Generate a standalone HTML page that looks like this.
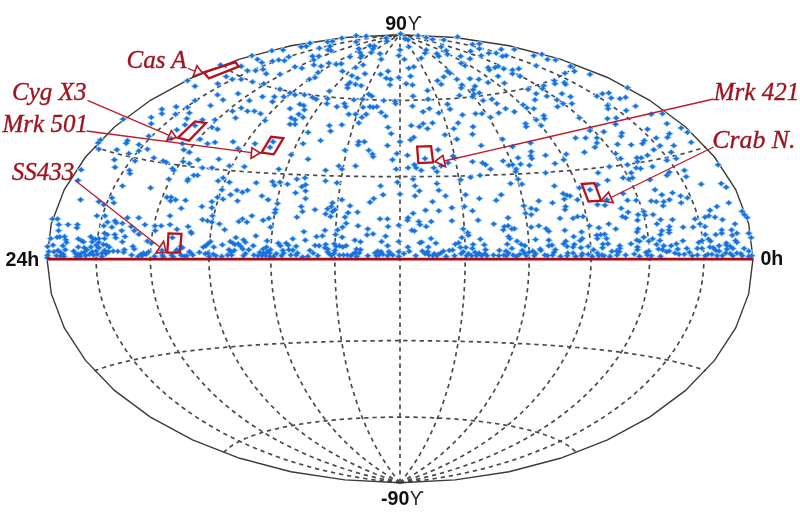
<!DOCTYPE html>
<html><head><meta charset="utf-8"><style>html,body{margin:0;padding:0;background:#fff;width:800px;height:516px;overflow:hidden}svg{display:block;filter:blur(0.6px)}</style></head>
<body>
<svg width="800" height="516" viewBox="0 0 800 516">
<rect width="800" height="516" fill="#fff"/>
<g fill="none" stroke="#4a4a4a" stroke-width="1.7" stroke-dasharray="4.3 3.9">
<path d="M400.0,482.7 394.1,482.2 388.2,481.6 382.3,480.9 376.4,480.2 370.6,479.4 364.8,478.5 359.1,477.6 353.4,476.6 347.7,475.6 342.1,474.5 336.5,473.3 330.9,472.1 325.4,470.9 320.0,469.5 314.6,468.2 309.2,466.7 303.9,465.2 298.6,463.7 293.4,462.1 288.2,460.5 283.1,458.8 278.0,457.0 273.0,455.2 268.1,453.3 263.2,451.4 258.3,449.5 253.6,447.5 248.8,445.5 244.2,443.4 239.6,441.2 235.0,439.1 230.6,436.8 226.1,434.6 221.8,432.3 217.5,429.9 213.3,427.5 209.1,425.1 205.0,422.6 201.0,420.1 197.1,417.6 193.2,415.0 189.4,412.4 185.6,409.7 181.9,407.0 178.3,404.3 174.8,401.6 171.3,398.8 167.9,396.0 164.6,393.1 161.4,390.2 158.2,387.3 155.1,384.4 152.1,381.4 149.2,378.4 146.3,375.4 143.5,372.4 140.8,369.3 138.2,366.2 135.6,363.1 133.1,359.9 130.7,356.8 128.4,353.6 126.1,350.4 124.0,347.1 121.9,343.9 119.9,340.6 117.9,337.4 116.1,334.1 114.3,330.7 112.6,327.4 111.0,324.1 109.5,320.7 108.1,317.3 106.7,314.0 105.4,310.6 104.2,307.1 103.1,303.7 102.1,300.3 101.1,296.9 100.2,293.4 99.5,290.0 98.8,286.5 98.1,283.0 97.6,279.6 97.1,276.1 96.8,272.6 96.5,269.2 96.3,265.7 96.1,262.2 96.1,258.7 96.1,255.2 96.3,251.7 96.5,248.2 96.8,244.8 97.1,241.3 97.6,237.8 98.1,234.4 98.8,230.9 99.5,227.4 100.2,224.0 101.1,220.5 102.1,217.1 103.1,213.7 104.2,210.3 105.4,206.8 106.7,203.4 108.1,200.1 109.5,196.7 111.0,193.3 112.6,190.0 114.3,186.7 116.1,183.3 117.9,180.0 119.9,176.8 121.9,173.5 124.0,170.3 126.1,167.0 128.4,163.8 130.7,160.6 133.1,157.5 135.6,154.3 138.2,151.2 140.8,148.1 143.5,145.0 146.3,142.0 149.2,139.0 152.1,136.0 155.1,133.0 158.2,130.1 161.4,127.2 164.6,124.3 167.9,121.4 171.3,118.6 174.8,115.8 178.3,113.1 181.9,110.4 185.6,107.7 189.4,105.0 193.2,102.4 197.1,99.8 201.0,97.3 205.0,94.8 209.1,92.3 213.3,89.9 217.5,87.5 221.8,85.1 226.1,82.8 230.6,80.6 235.0,78.3 239.6,76.2 244.2,74.0 248.8,71.9 253.6,69.9 258.3,67.9 263.2,66.0 268.1,64.1 273.0,62.2 278.0,60.4 283.1,58.6 288.2,56.9 293.4,55.3 298.6,53.7 303.9,52.2 309.2,50.7 314.6,49.2 320.0,47.9 325.4,46.5 330.9,45.3 336.5,44.1 342.1,42.9 347.7,41.8 353.4,40.8 359.1,39.8 364.8,38.9 370.6,38.0 376.4,37.2 382.3,36.5 388.2,35.8 394.1,35.2 400.0,34.7"/>
<path d="M400.0,482.7 394.7,481.7 389.4,480.6 384.2,479.5 379.0,478.4 373.9,477.1 368.8,475.9 363.8,474.6 358.9,473.2 353.9,471.8 349.1,470.3 344.3,468.8 339.5,467.2 334.8,465.6 330.1,464.0 325.5,462.3 321.0,460.6 316.5,458.8 312.1,457.0 307.7,455.1 303.4,453.2 299.1,451.3 294.9,449.3 290.7,447.3 286.7,445.2 282.6,443.2 278.6,441.0 274.7,438.9 270.8,436.7 267.0,434.5 263.3,432.2 259.6,429.9 256.0,427.6 252.4,425.2 248.9,422.9 245.4,420.5 242.0,418.0 238.7,415.5 235.4,413.0 232.2,410.5 229.1,408.0 226.0,405.4 222.9,402.8 220.0,400.2 217.0,397.5 214.2,394.8 211.4,392.1 208.7,389.4 206.0,386.7 203.4,383.9 200.9,381.1 198.4,378.3 196.0,375.5 193.6,372.7 191.3,369.8 189.1,366.9 186.9,364.0 184.8,361.1 182.7,358.2 180.8,355.2 178.8,352.3 177.0,349.3 175.2,346.3 173.4,343.3 171.8,340.3 170.2,337.2 168.6,334.2 167.1,331.1 165.7,328.1 164.3,325.0 163.1,321.9 161.8,318.8 160.6,315.7 159.5,312.6 158.5,309.4 157.5,306.3 156.6,303.2 155.7,300.0 155.0,296.9 154.2,293.7 153.6,290.5 153.0,287.4 152.4,284.2 151.9,281.0 151.5,277.8 151.2,274.7 150.9,271.5 150.7,268.3 150.5,265.1 150.4,261.9 150.4,258.7 150.4,255.5 150.5,252.3 150.7,249.1 150.9,245.9 151.2,242.7 151.5,239.6 151.9,236.4 152.4,233.2 153.0,230.0 153.6,226.9 154.2,223.7 155.0,220.5 155.7,217.4 156.6,214.2 157.5,211.1 158.5,208.0 159.5,204.8 160.6,201.7 161.8,198.6 163.1,195.5 164.3,192.4 165.7,189.3 167.1,186.3 168.6,183.2 170.2,180.2 171.8,177.1 173.4,174.1 175.2,171.1 177.0,168.1 178.8,165.1 180.8,162.2 182.7,159.2 184.8,156.3 186.9,153.4 189.1,150.5 191.3,147.6 193.6,144.7 196.0,141.9 198.4,139.1 200.9,136.3 203.4,133.5 206.0,130.7 208.7,128.0 211.4,125.3 214.2,122.6 217.0,119.9 220.0,117.2 222.9,114.6 226.0,112.0 229.1,109.4 232.2,106.9 235.4,104.4 238.7,101.9 242.0,99.4 245.4,96.9 248.9,94.5 252.4,92.2 256.0,89.8 259.6,87.5 263.3,85.2 267.0,82.9 270.8,80.7 274.7,78.5 278.6,76.4 282.6,74.2 286.7,72.2 290.7,70.1 294.9,68.1 299.1,66.1 303.4,64.2 307.7,62.3 312.1,60.4 316.5,58.6 321.0,56.8 325.5,55.1 330.1,53.4 334.8,51.8 339.5,50.2 344.3,48.6 349.1,47.1 353.9,45.6 358.9,44.2 363.8,42.8 368.8,41.5 373.9,40.3 379.0,39.0 384.2,37.9 389.4,36.8 394.7,35.7 400.0,34.7"/>
<path d="M400.0,482.7 395.7,481.3 391.4,479.9 387.2,478.4 383.0,476.8 378.9,475.3 374.8,473.7 370.8,472.0 366.9,470.4 362.9,468.6 359.1,466.9 355.3,465.1 351.5,463.3 347.8,461.4 344.2,459.5 340.6,457.6 337.1,455.7 333.6,453.7 330.1,451.7 326.7,449.7 323.4,447.6 320.1,445.5 316.9,443.4 313.7,441.2 310.5,439.0 307.4,436.8 304.4,434.6 301.4,432.3 298.5,430.1 295.6,427.8 292.7,425.4 289.9,423.1 287.2,420.7 284.5,418.3 281.8,415.9 279.2,413.5 276.7,411.0 274.2,408.5 271.7,406.0 269.3,403.5 267.0,401.0 264.7,398.4 262.4,395.9 260.2,393.3 258.0,390.7 255.9,388.0 253.8,385.4 251.8,382.7 249.8,380.1 247.9,377.4 246.0,374.7 244.2,371.9 242.4,369.2 240.6,366.5 238.9,363.7 237.3,360.9 235.7,358.2 234.1,355.4 232.6,352.6 231.2,349.7 229.8,346.9 228.4,344.1 227.1,341.2 225.8,338.4 224.6,335.5 223.4,332.6 222.3,329.7 221.2,326.8 220.1,323.9 219.1,321.0 218.2,318.1 217.3,315.2 216.4,312.2 215.6,309.3 214.9,306.3 214.2,303.4 213.5,300.4 212.9,297.5 212.3,294.5 211.8,291.5 211.3,288.6 210.8,285.6 210.4,282.6 210.1,279.6 209.8,276.6 209.5,273.7 209.3,270.7 209.2,267.7 209.1,264.7 209.0,261.7 209.0,258.7 209.0,255.7 209.1,252.7 209.2,249.7 209.3,246.7 209.5,243.7 209.8,240.8 210.1,237.8 210.4,234.8 210.8,231.8 211.3,228.8 211.8,225.9 212.3,222.9 212.9,219.9 213.5,217.0 214.2,214.0 214.9,211.1 215.6,208.1 216.4,205.2 217.3,202.2 218.2,199.3 219.1,196.4 220.1,193.5 221.2,190.6 222.3,187.7 223.4,184.8 224.6,181.9 225.8,179.0 227.1,176.2 228.4,173.3 229.8,170.5 231.2,167.7 232.6,164.8 234.1,162.0 235.7,159.2 237.3,156.5 238.9,153.7 240.6,150.9 242.4,148.2 244.2,145.5 246.0,142.7 247.9,140.0 249.8,137.3 251.8,134.7 253.8,132.0 255.9,129.4 258.0,126.7 260.2,124.1 262.4,121.5 264.7,119.0 267.0,116.4 269.3,113.9 271.7,111.4 274.2,108.9 276.7,106.4 279.2,103.9 281.8,101.5 284.5,99.1 287.2,96.7 289.9,94.3 292.7,92.0 295.6,89.6 298.5,87.3 301.4,85.1 304.4,82.8 307.4,80.6 310.5,78.4 313.7,76.2 316.9,74.0 320.1,71.9 323.4,69.8 326.7,67.7 330.1,65.7 333.6,63.7 337.1,61.7 340.6,59.8 344.2,57.9 347.8,56.0 351.5,54.1 355.3,52.3 359.1,50.5 362.9,48.8 366.9,47.0 370.8,45.4 374.8,43.7 378.9,42.1 383.0,40.6 387.2,39.0 391.4,37.5 395.7,36.1 400.0,34.7"/>
<path d="M400.0,482.7 396.9,481.0 393.9,479.3 391.0,477.5 388.0,475.7 385.2,473.9 382.3,472.0 379.5,470.2 376.8,468.3 374.1,466.3 371.4,464.4 368.8,462.4 366.2,460.4 363.7,458.4 361.2,456.3 358.7,454.3 356.3,452.2 353.9,450.1 351.6,447.9 349.2,445.8 347.0,443.6 344.7,441.4 342.5,439.2 340.4,436.9 338.3,434.7 336.2,432.4 334.1,430.1 332.1,427.8 330.1,425.5 328.2,423.1 326.3,420.8 324.4,418.4 322.6,416.0 320.8,413.6 319.0,411.1 317.3,408.7 315.5,406.2 313.9,403.7 312.2,401.3 310.6,398.8 309.1,396.2 307.5,393.7 306.0,391.2 304.6,388.6 303.1,386.0 301.7,383.4 300.3,380.8 299.0,378.2 297.7,375.6 296.4,373.0 295.2,370.3 294.0,367.7 292.8,365.0 291.6,362.3 290.5,359.7 289.4,357.0 288.4,354.3 287.3,351.6 286.3,348.8 285.4,346.1 284.5,343.4 283.6,340.6 282.7,337.9 281.8,335.1 281.0,332.3 280.3,329.6 279.5,326.8 278.8,324.0 278.1,321.2 277.5,318.4 276.8,315.6 276.3,312.8 275.7,310.0 275.2,307.1 274.7,304.3 274.2,301.5 273.8,298.6 273.3,295.8 273.0,293.0 272.6,290.1 272.3,287.3 272.0,284.4 271.8,281.6 271.5,278.7 271.3,275.9 271.2,273.0 271.0,270.1 270.9,267.3 270.9,264.4 270.8,261.6 270.8,258.7 270.8,255.8 270.9,253.0 270.9,250.1 271.0,247.3 271.2,244.4 271.3,241.5 271.5,238.7 271.8,235.8 272.0,233.0 272.3,230.1 272.6,227.3 273.0,224.4 273.3,221.6 273.8,218.8 274.2,215.9 274.7,213.1 275.2,210.3 275.7,207.4 276.3,204.6 276.8,201.8 277.5,199.0 278.1,196.2 278.8,193.4 279.5,190.6 280.3,187.8 281.0,185.1 281.8,182.3 282.7,179.5 283.6,176.8 284.5,174.0 285.4,171.3 286.3,168.6 287.3,165.8 288.4,163.1 289.4,160.4 290.5,157.7 291.6,155.1 292.8,152.4 294.0,149.7 295.2,147.1 296.4,144.4 297.7,141.8 299.0,139.2 300.3,136.6 301.7,134.0 303.1,131.4 304.6,128.8 306.0,126.2 307.5,123.7 309.1,121.2 310.6,118.6 312.2,116.1 313.9,113.7 315.5,111.2 317.3,108.7 319.0,106.3 320.8,103.8 322.6,101.4 324.4,99.0 326.3,96.6 328.2,94.3 330.1,91.9 332.1,89.6 334.1,87.3 336.2,85.0 338.3,82.7 340.4,80.5 342.5,78.2 344.7,76.0 347.0,73.8 349.2,71.6 351.6,69.5 353.9,67.3 356.3,65.2 358.7,63.1 361.2,61.1 363.7,59.0 366.2,57.0 368.8,55.0 371.4,53.0 374.1,51.1 376.8,49.1 379.5,47.2 382.3,45.4 385.2,43.5 388.0,41.7 391.0,39.9 393.9,38.1 396.9,36.4 400.0,34.7"/>
<path d="M400.0,482.7 398.4,480.8 396.9,478.9 395.3,476.9 393.8,475.0 392.4,473.0 390.9,471.0 389.5,469.0 388.1,467.0 386.7,464.9 385.3,462.8 384.0,460.8 382.7,458.6 381.4,456.5 380.1,454.4 378.8,452.2 377.6,450.1 376.4,447.9 375.2,445.7 374.1,443.4 372.9,441.2 371.8,438.9 370.7,436.7 369.6,434.4 368.5,432.1 367.5,429.8 366.4,427.4 365.4,425.1 364.4,422.8 363.4,420.4 362.5,418.0 361.5,415.6 360.6,413.2 359.7,410.8 358.8,408.3 358.0,405.9 357.1,403.4 356.3,401.0 355.5,398.5 354.7,396.0 353.9,393.5 353.1,391.0 352.4,388.4 351.6,385.9 350.9,383.4 350.2,380.8 349.5,378.2 348.8,375.6 348.2,373.1 347.6,370.5 346.9,367.9 346.3,365.2 345.7,362.6 345.2,360.0 344.6,357.3 344.1,354.7 343.6,352.0 343.0,349.4 342.6,346.7 342.1,344.0 341.6,341.3 341.2,338.7 340.7,336.0 340.3,333.3 339.9,330.5 339.5,327.8 339.2,325.1 338.8,322.4 338.5,319.6 338.1,316.9 337.8,314.2 337.5,311.4 337.3,308.7 337.0,305.9 336.8,303.2 336.5,300.4 336.3,297.6 336.1,294.9 335.9,292.1 335.7,289.3 335.6,286.5 335.4,283.8 335.3,281.0 335.2,278.2 335.1,275.4 335.0,272.6 335.0,269.9 334.9,267.1 334.9,264.3 334.8,261.5 334.8,258.7 334.8,255.9 334.9,253.1 334.9,250.3 335.0,247.5 335.0,244.8 335.1,242.0 335.2,239.2 335.3,236.4 335.4,233.6 335.6,230.9 335.7,228.1 335.9,225.3 336.1,222.5 336.3,219.8 336.5,217.0 336.8,214.2 337.0,211.5 337.3,208.7 337.5,206.0 337.8,203.2 338.1,200.5 338.5,197.8 338.8,195.0 339.2,192.3 339.5,189.6 339.9,186.9 340.3,184.1 340.7,181.4 341.2,178.7 341.6,176.1 342.1,173.4 342.6,170.7 343.0,168.0 343.6,165.4 344.1,162.7 344.6,160.1 345.2,157.4 345.7,154.8 346.3,152.2 346.9,149.5 347.6,146.9 348.2,144.3 348.8,141.8 349.5,139.2 350.2,136.6 350.9,134.0 351.6,131.5 352.4,129.0 353.1,126.4 353.9,123.9 354.7,121.4 355.5,118.9 356.3,116.4 357.1,114.0 358.0,111.5 358.8,109.1 359.7,106.6 360.6,104.2 361.5,101.8 362.5,99.4 363.4,97.0 364.4,94.6 365.4,92.3 366.4,90.0 367.5,87.6 368.5,85.3 369.6,83.0 370.7,80.7 371.8,78.5 372.9,76.2 374.1,74.0 375.2,71.7 376.4,69.5 377.6,67.3 378.8,65.2 380.1,63.0 381.4,60.9 382.7,58.8 384.0,56.6 385.3,54.6 386.7,52.5 388.1,50.4 389.5,48.4 390.9,46.4 392.4,44.4 393.8,42.4 395.3,40.5 396.9,38.5 398.4,36.6 400.0,34.7"/>
<path d="M400.0,482.7 400.0,480.7 400.0,478.8 400.0,476.8 400.0,474.7 400.0,472.7 400.0,470.7 400.0,468.6 400.0,466.5 400.0,464.4 400.0,462.3 400.0,460.2 400.0,458.1 400.0,455.9 400.0,453.7 400.0,451.5 400.0,449.3 400.0,447.1 400.0,444.9 400.0,442.7 400.0,440.4 400.0,438.1 400.0,435.8 400.0,433.5 400.0,431.2 400.0,428.9 400.0,426.6 400.0,424.2 400.0,421.9 400.0,419.5 400.0,417.1 400.0,414.7 400.0,412.3 400.0,409.9 400.0,407.4 400.0,405.0 400.0,402.5 400.0,400.0 400.0,397.6 400.0,395.1 400.0,392.6 400.0,390.1 400.0,387.5 400.0,385.0 400.0,382.5 400.0,379.9 400.0,377.4 400.0,374.8 400.0,372.2 400.0,369.6 400.0,367.0 400.0,364.4 400.0,361.8 400.0,359.2 400.0,356.6 400.0,354.0 400.0,351.3 400.0,348.7 400.0,346.0 400.0,343.4 400.0,340.7 400.0,338.0 400.0,335.3 400.0,332.7 400.0,330.0 400.0,327.3 400.0,324.6 400.0,321.9 400.0,319.1 400.0,316.4 400.0,313.7 400.0,311.0 400.0,308.3 400.0,305.5 400.0,302.8 400.0,300.0 400.0,297.3 400.0,294.6 400.0,291.8 400.0,289.1 400.0,286.3 400.0,283.6 400.0,280.8 400.0,278.0 400.0,275.3 400.0,272.5 400.0,269.8 400.0,267.0 400.0,264.2 400.0,261.5 400.0,258.7 400.0,255.9 400.0,253.2 400.0,250.4 400.0,247.6 400.0,244.9 400.0,242.1 400.0,239.4 400.0,236.6 400.0,233.8 400.0,231.1 400.0,228.3 400.0,225.6 400.0,222.8 400.0,220.1 400.0,217.4 400.0,214.6 400.0,211.9 400.0,209.1 400.0,206.4 400.0,203.7 400.0,201.0 400.0,198.3 400.0,195.5 400.0,192.8 400.0,190.1 400.0,187.4 400.0,184.7 400.0,182.1 400.0,179.4 400.0,176.7 400.0,174.0 400.0,171.4 400.0,168.7 400.0,166.1 400.0,163.4 400.0,160.8 400.0,158.2 400.0,155.6 400.0,153.0 400.0,150.4 400.0,147.8 400.0,145.2 400.0,142.6 400.0,140.0 400.0,137.5 400.0,134.9 400.0,132.4 400.0,129.9 400.0,127.3 400.0,124.8 400.0,122.3 400.0,119.8 400.0,117.4 400.0,114.9 400.0,112.4 400.0,110.0 400.0,107.5 400.0,105.1 400.0,102.7 400.0,100.3 400.0,97.9 400.0,95.5 400.0,93.2 400.0,90.8 400.0,88.5 400.0,86.2 400.0,83.9 400.0,81.6 400.0,79.3 400.0,77.0 400.0,74.7 400.0,72.5 400.0,70.3 400.0,68.1 400.0,65.9 400.0,63.7 400.0,61.5 400.0,59.3 400.0,57.2 400.0,55.1 400.0,53.0 400.0,50.9 400.0,48.8 400.0,46.7 400.0,44.7 400.0,42.7 400.0,40.6 400.0,38.6 400.0,36.7 400.0,34.7"/>
<path d="M400.0,482.7 401.6,480.8 403.1,478.9 404.7,476.9 406.2,475.0 407.6,473.0 409.1,471.0 410.5,469.0 411.9,467.0 413.3,464.9 414.7,462.8 416.0,460.8 417.3,458.6 418.6,456.5 419.9,454.4 421.2,452.2 422.4,450.1 423.6,447.9 424.8,445.7 425.9,443.4 427.1,441.2 428.2,438.9 429.3,436.7 430.4,434.4 431.5,432.1 432.5,429.8 433.6,427.4 434.6,425.1 435.6,422.8 436.6,420.4 437.5,418.0 438.5,415.6 439.4,413.2 440.3,410.8 441.2,408.3 442.0,405.9 442.9,403.4 443.7,401.0 444.5,398.5 445.3,396.0 446.1,393.5 446.9,391.0 447.6,388.4 448.4,385.9 449.1,383.4 449.8,380.8 450.5,378.2 451.2,375.6 451.8,373.1 452.4,370.5 453.1,367.9 453.7,365.2 454.3,362.6 454.8,360.0 455.4,357.3 455.9,354.7 456.4,352.0 457.0,349.4 457.4,346.7 457.9,344.0 458.4,341.3 458.8,338.7 459.3,336.0 459.7,333.3 460.1,330.5 460.5,327.8 460.8,325.1 461.2,322.4 461.5,319.6 461.9,316.9 462.2,314.2 462.5,311.4 462.7,308.7 463.0,305.9 463.2,303.2 463.5,300.4 463.7,297.6 463.9,294.9 464.1,292.1 464.3,289.3 464.4,286.5 464.6,283.8 464.7,281.0 464.8,278.2 464.9,275.4 465.0,272.6 465.0,269.9 465.1,267.1 465.1,264.3 465.2,261.5 465.2,258.7 465.2,255.9 465.1,253.1 465.1,250.3 465.0,247.5 465.0,244.8 464.9,242.0 464.8,239.2 464.7,236.4 464.6,233.6 464.4,230.9 464.3,228.1 464.1,225.3 463.9,222.5 463.7,219.8 463.5,217.0 463.2,214.2 463.0,211.5 462.7,208.7 462.5,206.0 462.2,203.2 461.9,200.5 461.5,197.8 461.2,195.0 460.8,192.3 460.5,189.6 460.1,186.9 459.7,184.1 459.3,181.4 458.8,178.7 458.4,176.1 457.9,173.4 457.4,170.7 457.0,168.0 456.4,165.4 455.9,162.7 455.4,160.1 454.8,157.4 454.3,154.8 453.7,152.2 453.1,149.5 452.4,146.9 451.8,144.3 451.2,141.8 450.5,139.2 449.8,136.6 449.1,134.0 448.4,131.5 447.6,129.0 446.9,126.4 446.1,123.9 445.3,121.4 444.5,118.9 443.7,116.4 442.9,114.0 442.0,111.5 441.2,109.1 440.3,106.6 439.4,104.2 438.5,101.8 437.5,99.4 436.6,97.0 435.6,94.6 434.6,92.3 433.6,90.0 432.5,87.6 431.5,85.3 430.4,83.0 429.3,80.7 428.2,78.5 427.1,76.2 425.9,74.0 424.8,71.7 423.6,69.5 422.4,67.3 421.2,65.2 419.9,63.0 418.6,60.9 417.3,58.8 416.0,56.6 414.7,54.6 413.3,52.5 411.9,50.4 410.5,48.4 409.1,46.4 407.6,44.4 406.2,42.4 404.7,40.5 403.1,38.5 401.6,36.6 400.0,34.7"/>
<path d="M400.0,482.7 403.1,481.0 406.1,479.3 409.0,477.5 412.0,475.7 414.8,473.9 417.7,472.0 420.5,470.2 423.2,468.3 425.9,466.3 428.6,464.4 431.2,462.4 433.8,460.4 436.3,458.4 438.8,456.3 441.3,454.3 443.7,452.2 446.1,450.1 448.4,447.9 450.8,445.8 453.0,443.6 455.3,441.4 457.5,439.2 459.6,436.9 461.7,434.7 463.8,432.4 465.9,430.1 467.9,427.8 469.9,425.5 471.8,423.1 473.7,420.8 475.6,418.4 477.4,416.0 479.2,413.6 481.0,411.1 482.7,408.7 484.5,406.2 486.1,403.7 487.8,401.3 489.4,398.8 490.9,396.2 492.5,393.7 494.0,391.2 495.4,388.6 496.9,386.0 498.3,383.4 499.7,380.8 501.0,378.2 502.3,375.6 503.6,373.0 504.8,370.3 506.0,367.7 507.2,365.0 508.4,362.3 509.5,359.7 510.6,357.0 511.6,354.3 512.7,351.6 513.7,348.8 514.6,346.1 515.5,343.4 516.4,340.6 517.3,337.9 518.2,335.1 519.0,332.3 519.7,329.6 520.5,326.8 521.2,324.0 521.9,321.2 522.5,318.4 523.2,315.6 523.7,312.8 524.3,310.0 524.8,307.1 525.3,304.3 525.8,301.5 526.2,298.6 526.7,295.8 527.0,293.0 527.4,290.1 527.7,287.3 528.0,284.4 528.2,281.6 528.5,278.7 528.7,275.9 528.8,273.0 529.0,270.1 529.1,267.3 529.1,264.4 529.2,261.6 529.2,258.7 529.2,255.8 529.1,253.0 529.1,250.1 529.0,247.3 528.8,244.4 528.7,241.5 528.5,238.7 528.2,235.8 528.0,233.0 527.7,230.1 527.4,227.3 527.0,224.4 526.7,221.6 526.2,218.8 525.8,215.9 525.3,213.1 524.8,210.3 524.3,207.4 523.7,204.6 523.2,201.8 522.5,199.0 521.9,196.2 521.2,193.4 520.5,190.6 519.7,187.8 519.0,185.1 518.2,182.3 517.3,179.5 516.4,176.8 515.5,174.0 514.6,171.3 513.7,168.6 512.7,165.8 511.6,163.1 510.6,160.4 509.5,157.7 508.4,155.1 507.2,152.4 506.0,149.7 504.8,147.1 503.6,144.4 502.3,141.8 501.0,139.2 499.7,136.6 498.3,134.0 496.9,131.4 495.4,128.8 494.0,126.2 492.5,123.7 490.9,121.2 489.4,118.6 487.8,116.1 486.1,113.7 484.5,111.2 482.7,108.7 481.0,106.3 479.2,103.8 477.4,101.4 475.6,99.0 473.7,96.6 471.8,94.3 469.9,91.9 467.9,89.6 465.9,87.3 463.8,85.0 461.7,82.7 459.6,80.5 457.5,78.2 455.3,76.0 453.0,73.8 450.8,71.6 448.4,69.5 446.1,67.3 443.7,65.2 441.3,63.1 438.8,61.1 436.3,59.0 433.8,57.0 431.2,55.0 428.6,53.0 425.9,51.1 423.2,49.1 420.5,47.2 417.7,45.4 414.8,43.5 412.0,41.7 409.0,39.9 406.1,38.1 403.1,36.4 400.0,34.7"/>
<path d="M400.0,482.7 404.3,481.3 408.6,479.9 412.8,478.4 417.0,476.8 421.1,475.3 425.2,473.7 429.2,472.0 433.1,470.4 437.1,468.6 440.9,466.9 444.7,465.1 448.5,463.3 452.2,461.4 455.8,459.5 459.4,457.6 462.9,455.7 466.4,453.7 469.9,451.7 473.3,449.7 476.6,447.6 479.9,445.5 483.1,443.4 486.3,441.2 489.5,439.0 492.6,436.8 495.6,434.6 498.6,432.3 501.5,430.1 504.4,427.8 507.3,425.4 510.1,423.1 512.8,420.7 515.5,418.3 518.2,415.9 520.8,413.5 523.3,411.0 525.8,408.5 528.3,406.0 530.7,403.5 533.0,401.0 535.3,398.4 537.6,395.9 539.8,393.3 542.0,390.7 544.1,388.0 546.2,385.4 548.2,382.7 550.2,380.1 552.1,377.4 554.0,374.7 555.8,371.9 557.6,369.2 559.4,366.5 561.1,363.7 562.7,360.9 564.3,358.2 565.9,355.4 567.4,352.6 568.8,349.7 570.2,346.9 571.6,344.1 572.9,341.2 574.2,338.4 575.4,335.5 576.6,332.6 577.7,329.7 578.8,326.8 579.9,323.9 580.9,321.0 581.8,318.1 582.7,315.2 583.6,312.2 584.4,309.3 585.1,306.3 585.8,303.4 586.5,300.4 587.1,297.5 587.7,294.5 588.2,291.5 588.7,288.6 589.2,285.6 589.6,282.6 589.9,279.6 590.2,276.6 590.5,273.7 590.7,270.7 590.8,267.7 590.9,264.7 591.0,261.7 591.0,258.7 591.0,255.7 590.9,252.7 590.8,249.7 590.7,246.7 590.5,243.7 590.2,240.8 589.9,237.8 589.6,234.8 589.2,231.8 588.7,228.8 588.2,225.9 587.7,222.9 587.1,219.9 586.5,217.0 585.8,214.0 585.1,211.1 584.4,208.1 583.6,205.2 582.7,202.2 581.8,199.3 580.9,196.4 579.9,193.5 578.8,190.6 577.7,187.7 576.6,184.8 575.4,181.9 574.2,179.0 572.9,176.2 571.6,173.3 570.2,170.5 568.8,167.7 567.4,164.8 565.9,162.0 564.3,159.2 562.7,156.5 561.1,153.7 559.4,150.9 557.6,148.2 555.8,145.5 554.0,142.7 552.1,140.0 550.2,137.3 548.2,134.7 546.2,132.0 544.1,129.4 542.0,126.7 539.8,124.1 537.6,121.5 535.3,119.0 533.0,116.4 530.7,113.9 528.3,111.4 525.8,108.9 523.3,106.4 520.8,103.9 518.2,101.5 515.5,99.1 512.8,96.7 510.1,94.3 507.3,92.0 504.4,89.6 501.5,87.3 498.6,85.1 495.6,82.8 492.6,80.6 489.5,78.4 486.3,76.2 483.1,74.0 479.9,71.9 476.6,69.8 473.3,67.7 469.9,65.7 466.4,63.7 462.9,61.7 459.4,59.8 455.8,57.9 452.2,56.0 448.5,54.1 444.7,52.3 440.9,50.5 437.1,48.8 433.1,47.0 429.2,45.4 425.2,43.7 421.1,42.1 417.0,40.6 412.8,39.0 408.6,37.5 404.3,36.1 400.0,34.7"/>
<path d="M400.0,482.7 405.3,481.7 410.6,480.6 415.8,479.5 421.0,478.4 426.1,477.1 431.2,475.9 436.2,474.6 441.1,473.2 446.1,471.8 450.9,470.3 455.7,468.8 460.5,467.2 465.2,465.6 469.9,464.0 474.5,462.3 479.0,460.6 483.5,458.8 487.9,457.0 492.3,455.1 496.6,453.2 500.9,451.3 505.1,449.3 509.3,447.3 513.3,445.2 517.4,443.2 521.4,441.0 525.3,438.9 529.2,436.7 533.0,434.5 536.7,432.2 540.4,429.9 544.0,427.6 547.6,425.2 551.1,422.9 554.6,420.5 558.0,418.0 561.3,415.5 564.6,413.0 567.8,410.5 570.9,408.0 574.0,405.4 577.1,402.8 580.0,400.2 583.0,397.5 585.8,394.8 588.6,392.1 591.3,389.4 594.0,386.7 596.6,383.9 599.1,381.1 601.6,378.3 604.0,375.5 606.4,372.7 608.7,369.8 610.9,366.9 613.1,364.0 615.2,361.1 617.3,358.2 619.2,355.2 621.2,352.3 623.0,349.3 624.8,346.3 626.6,343.3 628.2,340.3 629.8,337.2 631.4,334.2 632.9,331.1 634.3,328.1 635.7,325.0 636.9,321.9 638.2,318.8 639.4,315.7 640.5,312.6 641.5,309.4 642.5,306.3 643.4,303.2 644.3,300.0 645.0,296.9 645.8,293.7 646.4,290.5 647.0,287.4 647.6,284.2 648.1,281.0 648.5,277.8 648.8,274.7 649.1,271.5 649.3,268.3 649.5,265.1 649.6,261.9 649.6,258.7 649.6,255.5 649.5,252.3 649.3,249.1 649.1,245.9 648.8,242.7 648.5,239.6 648.1,236.4 647.6,233.2 647.0,230.0 646.4,226.9 645.8,223.7 645.0,220.5 644.3,217.4 643.4,214.2 642.5,211.1 641.5,208.0 640.5,204.8 639.4,201.7 638.2,198.6 636.9,195.5 635.7,192.4 634.3,189.3 632.9,186.3 631.4,183.2 629.8,180.2 628.2,177.1 626.6,174.1 624.8,171.1 623.0,168.1 621.2,165.1 619.2,162.2 617.3,159.2 615.2,156.3 613.1,153.4 610.9,150.5 608.7,147.6 606.4,144.7 604.0,141.9 601.6,139.1 599.1,136.3 596.6,133.5 594.0,130.7 591.3,128.0 588.6,125.3 585.8,122.6 583.0,119.9 580.0,117.2 577.1,114.6 574.0,112.0 570.9,109.4 567.8,106.9 564.6,104.4 561.3,101.9 558.0,99.4 554.6,96.9 551.1,94.5 547.6,92.2 544.0,89.8 540.4,87.5 536.7,85.2 533.0,82.9 529.2,80.7 525.3,78.5 521.4,76.4 517.4,74.2 513.3,72.2 509.3,70.1 505.1,68.1 500.9,66.1 496.6,64.2 492.3,62.3 487.9,60.4 483.5,58.6 479.0,56.8 474.5,55.1 469.9,53.4 465.2,51.8 460.5,50.2 455.7,48.6 450.9,47.1 446.1,45.6 441.1,44.2 436.2,42.8 431.2,41.5 426.1,40.3 421.0,39.0 415.8,37.9 410.6,36.8 405.3,35.7 400.0,34.7"/>
<path d="M400.0,482.7 405.9,482.2 411.8,481.6 417.7,480.9 423.6,480.2 429.4,479.4 435.2,478.5 440.9,477.6 446.6,476.6 452.3,475.6 457.9,474.5 463.5,473.3 469.1,472.1 474.6,470.9 480.0,469.5 485.4,468.2 490.8,466.7 496.1,465.2 501.4,463.7 506.6,462.1 511.8,460.5 516.9,458.8 522.0,457.0 527.0,455.2 531.9,453.3 536.8,451.4 541.7,449.5 546.4,447.5 551.2,445.5 555.8,443.4 560.4,441.2 565.0,439.1 569.4,436.8 573.9,434.6 578.2,432.3 582.5,429.9 586.7,427.5 590.9,425.1 595.0,422.6 599.0,420.1 602.9,417.6 606.8,415.0 610.6,412.4 614.4,409.7 618.1,407.0 621.7,404.3 625.2,401.6 628.7,398.8 632.1,396.0 635.4,393.1 638.6,390.2 641.8,387.3 644.9,384.4 647.9,381.4 650.8,378.4 653.7,375.4 656.5,372.4 659.2,369.3 661.8,366.2 664.4,363.1 666.9,359.9 669.3,356.8 671.6,353.6 673.9,350.4 676.0,347.1 678.1,343.9 680.1,340.6 682.1,337.4 683.9,334.1 685.7,330.7 687.4,327.4 689.0,324.1 690.5,320.7 691.9,317.3 693.3,314.0 694.6,310.6 695.8,307.1 696.9,303.7 697.9,300.3 698.9,296.9 699.8,293.4 700.5,290.0 701.2,286.5 701.9,283.0 702.4,279.6 702.9,276.1 703.2,272.6 703.5,269.2 703.7,265.7 703.9,262.2 703.9,258.7 703.9,255.2 703.7,251.7 703.5,248.2 703.2,244.8 702.9,241.3 702.4,237.8 701.9,234.4 701.2,230.9 700.5,227.4 699.8,224.0 698.9,220.5 697.9,217.1 696.9,213.7 695.8,210.3 694.6,206.8 693.3,203.4 691.9,200.1 690.5,196.7 689.0,193.3 687.4,190.0 685.7,186.7 683.9,183.3 682.1,180.0 680.1,176.8 678.1,173.5 676.0,170.3 673.9,167.0 671.6,163.8 669.3,160.6 666.9,157.5 664.4,154.3 661.8,151.2 659.2,148.1 656.5,145.0 653.7,142.0 650.8,139.0 647.9,136.0 644.9,133.0 641.8,130.1 638.6,127.2 635.4,124.3 632.1,121.4 628.7,118.6 625.2,115.8 621.7,113.1 618.1,110.4 614.4,107.7 610.6,105.0 606.8,102.4 602.9,99.8 599.0,97.3 595.0,94.8 590.9,92.3 586.7,89.9 582.5,87.5 578.2,85.1 573.9,82.8 569.4,80.6 565.0,78.3 560.4,76.2 555.8,74.0 551.2,71.9 546.4,69.9 541.7,67.9 536.8,66.0 531.9,64.1 527.0,62.2 522.0,60.4 516.9,58.6 511.8,56.9 506.6,55.3 501.4,53.7 496.1,52.2 490.8,50.7 485.4,49.2 480.0,47.9 474.6,46.5 469.1,45.3 463.5,44.1 457.9,42.9 452.3,41.8 446.6,40.8 440.9,39.8 435.2,38.9 429.4,38.0 423.6,37.2 417.7,36.5 411.8,35.8 405.9,35.2 400.0,34.7"/>
<path d="M223.5,452.7 223.9,452.3 224.3,451.8 224.7,451.4 225.1,451.0 225.6,450.6 226.0,450.2 226.5,449.8 226.9,449.4 227.4,449.0 227.9,448.6 228.4,448.2 228.9,447.8 229.4,447.4 229.9,447.0 230.5,446.7 231.0,446.3 231.6,445.9 232.1,445.5 232.7,445.1 233.3,444.8 233.9,444.4 234.5,444.0 235.1,443.7 235.7,443.3 236.3,443.0 236.9,442.6 237.6,442.3 238.2,441.9 238.9,441.6 239.6,441.2 240.3,440.9 240.9,440.6 241.6,440.2 242.3,439.9 243.1,439.6 243.8,439.2 244.5,438.9 245.2,438.6 246.0,438.3 246.7,438.0 247.5,437.7 248.3,437.3 249.0,437.0 249.8,436.7 250.6,436.4 251.4,436.1 252.2,435.8 253.0,435.5 253.8,435.2 254.7,435.0 255.5,434.7 256.3,434.4 257.2,434.1 258.0,433.8 258.9,433.6 259.8,433.3 260.6,433.0 261.5,432.7 262.4,432.5 263.3,432.2 264.2,431.9 265.1,431.7 266.0,431.4 266.9,431.2 267.8,430.9 268.8,430.7 269.7,430.4 270.6,430.2 271.6,430.0 272.5,429.7 273.5,429.5 274.5,429.2 275.4,429.0 276.4,428.8 277.4,428.6 278.4,428.3 279.4,428.1 280.4,427.9 281.4,427.7 282.4,427.5 283.4,427.2 284.4,427.0 285.4,426.8 286.5,426.6 287.5,426.4 288.5,426.2 289.6,426.0 290.6,425.8 291.7,425.6 292.7,425.4 293.8,425.3 294.9,425.1 295.9,424.9 297.0,424.7 298.1,424.5 299.2,424.3 300.2,424.2 301.3,424.0 302.4,423.8 303.5,423.7 304.6,423.5 305.7,423.3 306.8,423.2 308.0,423.0 309.1,422.8 310.2,422.7 311.3,422.5 312.5,422.4 313.6,422.2 314.7,422.1 315.9,421.9 317.0,421.8 318.2,421.7 319.3,421.5 320.5,421.4 321.6,421.3 322.8,421.1 323.9,421.0 325.1,420.9 326.3,420.8 327.5,420.6 328.6,420.5 329.8,420.4 331.0,420.3 332.2,420.2 333.4,420.1 334.5,419.9 335.7,419.8 336.9,419.7 338.1,419.6 339.3,419.5 340.5,419.4 341.7,419.3 342.9,419.2 344.1,419.1 345.3,419.0 346.6,419.0 347.8,418.9 349.0,418.8 350.2,418.7 351.4,418.6 352.6,418.6 353.9,418.5 355.1,418.4 356.3,418.3 357.6,418.3 358.8,418.2 360.0,418.1 361.3,418.1 362.5,418.0 363.7,417.9 365.0,417.9 366.2,417.8 367.4,417.8 368.7,417.7 369.9,417.7 371.2,417.6 372.4,417.6 373.7,417.5 374.9,417.5 376.2,417.5 377.4,417.4 378.7,417.4 379.9,417.3 381.2,417.3 382.4,417.3 383.7,417.3 384.9,417.2 386.2,417.2 387.4,417.2 388.7,417.2 389.9,417.2 391.2,417.1 392.5,417.1 393.7,417.1 395.0,417.1 396.2,417.1 397.5,417.1 398.7,417.1 400.0,417.1 401.3,417.1 402.5,417.1 403.8,417.1 405.0,417.1 406.3,417.1 407.5,417.1 408.8,417.1 410.1,417.2 411.3,417.2 412.6,417.2 413.8,417.2 415.1,417.2 416.3,417.3 417.6,417.3 418.8,417.3 420.1,417.3 421.3,417.4 422.6,417.4 423.8,417.5 425.1,417.5 426.3,417.5 427.6,417.6 428.8,417.6 430.1,417.7 431.3,417.7 432.6,417.8 433.8,417.8 435.0,417.9 436.3,417.9 437.5,418.0 438.7,418.1 440.0,418.1 441.2,418.2 442.4,418.3 443.7,418.3 444.9,418.4 446.1,418.5 447.4,418.6 448.6,418.6 449.8,418.7 451.0,418.8 452.2,418.9 453.4,419.0 454.7,419.0 455.9,419.1 457.1,419.2 458.3,419.3 459.5,419.4 460.7,419.5 461.9,419.6 463.1,419.7 464.3,419.8 465.5,419.9 466.6,420.1 467.8,420.2 469.0,420.3 470.2,420.4 471.4,420.5 472.5,420.6 473.7,420.8 474.9,420.9 476.1,421.0 477.2,421.1 478.4,421.3 479.5,421.4 480.7,421.5 481.8,421.7 483.0,421.8 484.1,421.9 485.3,422.1 486.4,422.2 487.5,422.4 488.7,422.5 489.8,422.7 490.9,422.8 492.0,423.0 493.2,423.2 494.3,423.3 495.4,423.5 496.5,423.7 497.6,423.8 498.7,424.0 499.8,424.2 500.8,424.3 501.9,424.5 503.0,424.7 504.1,424.9 505.1,425.1 506.2,425.3 507.3,425.4 508.3,425.6 509.4,425.8 510.4,426.0 511.5,426.2 512.5,426.4 513.5,426.6 514.6,426.8 515.6,427.0 516.6,427.2 517.6,427.5 518.6,427.7 519.6,427.9 520.6,428.1 521.6,428.3 522.6,428.6 523.6,428.8 524.6,429.0 525.5,429.2 526.5,429.5 527.5,429.7 528.4,430.0 529.4,430.2 530.3,430.4 531.2,430.7 532.2,430.9 533.1,431.2 534.0,431.4 534.9,431.7 535.8,431.9 536.7,432.2 537.6,432.5 538.5,432.7 539.4,433.0 540.2,433.3 541.1,433.6 542.0,433.8 542.8,434.1 543.7,434.4 544.5,434.7 545.3,435.0 546.2,435.2 547.0,435.5 547.8,435.8 548.6,436.1 549.4,436.4 550.2,436.7 551.0,437.0 551.7,437.3 552.5,437.7 553.3,438.0 554.0,438.3 554.8,438.6 555.5,438.9 556.2,439.2 556.9,439.6 557.7,439.9 558.4,440.2 559.1,440.6 559.7,440.9 560.4,441.2 561.1,441.6 561.8,441.9 562.4,442.3 563.1,442.6 563.7,443.0 564.3,443.3 564.9,443.7 565.5,444.0 566.1,444.4 566.7,444.8 567.3,445.1 567.9,445.5 568.4,445.9 569.0,446.3 569.5,446.7 570.1,447.0 570.6,447.4 571.1,447.8 571.6,448.2 572.1,448.6 572.6,449.0 573.1,449.4 573.5,449.8 574.0,450.2 574.4,450.6 574.9,451.0 575.3,451.4 575.7,451.8 576.1,452.3 576.5,452.7"/>
<path d="M94.3,370.7 95.5,370.3 96.6,369.9 97.8,369.5 99.0,369.0 100.2,368.6 101.4,368.2 102.6,367.9 103.9,367.5 105.1,367.1 106.3,366.7 107.6,366.3 108.9,366.0 110.1,365.6 111.4,365.2 112.7,364.9 114.0,364.5 115.3,364.2 116.6,363.8 118.0,363.5 119.3,363.1 120.6,362.8 122.0,362.5 123.4,362.1 124.7,361.8 126.1,361.5 127.5,361.2 128.9,360.8 130.3,360.5 131.7,360.2 133.1,359.9 134.5,359.6 136.0,359.3 137.4,359.0 138.8,358.7 140.3,358.5 141.8,358.2 143.2,357.9 144.7,357.6 146.2,357.3 147.7,357.1 149.2,356.8 150.7,356.5 152.2,356.3 153.7,356.0 155.2,355.8 156.8,355.5 158.3,355.3 159.8,355.0 161.4,354.8 162.9,354.5 164.5,354.3 166.1,354.1 167.6,353.8 169.2,353.6 170.8,353.4 172.4,353.1 174.0,352.9 175.6,352.7 177.2,352.5 178.8,352.3 180.5,352.0 182.1,351.8 183.7,351.6 185.4,351.4 187.0,351.2 188.7,351.0 190.3,350.8 192.0,350.6 193.6,350.4 195.3,350.2 197.0,350.1 198.7,349.9 200.4,349.7 202.0,349.5 203.7,349.3 205.4,349.2 207.2,349.0 208.9,348.8 210.6,348.6 212.3,348.5 214.0,348.3 215.8,348.1 217.5,348.0 219.2,347.8 221.0,347.7 222.7,347.5 224.5,347.4 226.2,347.2 228.0,347.1 229.8,346.9 231.5,346.8 233.3,346.6 235.1,346.5 236.9,346.3 238.7,346.2 240.4,346.1 242.2,345.9 244.0,345.8 245.8,345.7 247.6,345.5 249.4,345.4 251.3,345.3 253.1,345.2 254.9,345.0 256.7,344.9 258.5,344.8 260.4,344.7 262.2,344.6 264.0,344.5 265.9,344.4 267.7,344.3 269.6,344.1 271.4,344.0 273.3,343.9 275.1,343.8 277.0,343.7 278.9,343.6 280.7,343.6 282.6,343.5 284.5,343.4 286.3,343.3 288.2,343.2 290.1,343.1 292.0,343.0 293.8,342.9 295.7,342.8 297.6,342.8 299.5,342.7 301.4,342.6 303.3,342.5 305.2,342.5 307.1,342.4 309.0,342.3 310.9,342.2 312.8,342.2 314.7,342.1 316.6,342.0 318.5,342.0 320.4,341.9 322.4,341.9 324.3,341.8 326.2,341.7 328.1,341.7 330.0,341.6 332.0,341.6 333.9,341.5 335.8,341.5 337.8,341.4 339.7,341.4 341.6,341.3 343.5,341.3 345.5,341.3 347.4,341.2 349.4,341.2 351.3,341.1 353.2,341.1 355.2,341.1 357.1,341.0 359.1,341.0 361.0,341.0 362.9,341.0 364.9,340.9 366.8,340.9 368.8,340.9 370.7,340.9 372.7,340.8 374.6,340.8 376.6,340.8 378.5,340.8 380.5,340.8 382.4,340.7 384.4,340.7 386.3,340.7 388.3,340.7 390.2,340.7 392.2,340.7 394.1,340.7 396.1,340.7 398.0,340.7 400.0,340.7 402.0,340.7 403.9,340.7 405.9,340.7 407.8,340.7 409.8,340.7 411.7,340.7 413.7,340.7 415.6,340.7 417.6,340.7 419.5,340.8 421.5,340.8 423.4,340.8 425.4,340.8 427.3,340.8 429.3,340.9 431.2,340.9 433.2,340.9 435.1,340.9 437.1,341.0 439.0,341.0 440.9,341.0 442.9,341.0 444.8,341.1 446.8,341.1 448.7,341.1 450.6,341.2 452.6,341.2 454.5,341.3 456.5,341.3 458.4,341.3 460.3,341.4 462.2,341.4 464.2,341.5 466.1,341.5 468.0,341.6 470.0,341.6 471.9,341.7 473.8,341.7 475.7,341.8 477.6,341.9 479.6,341.9 481.5,342.0 483.4,342.0 485.3,342.1 487.2,342.2 489.1,342.2 491.0,342.3 492.9,342.4 494.8,342.5 496.7,342.5 498.6,342.6 500.5,342.7 502.4,342.8 504.3,342.8 506.2,342.9 508.0,343.0 509.9,343.1 511.8,343.2 513.7,343.3 515.5,343.4 517.4,343.5 519.3,343.6 521.1,343.6 523.0,343.7 524.9,343.8 526.7,343.9 528.6,344.0 530.4,344.1 532.3,344.3 534.1,344.4 536.0,344.5 537.8,344.6 539.6,344.7 541.5,344.8 543.3,344.9 545.1,345.0 546.9,345.2 548.7,345.3 550.6,345.4 552.4,345.5 554.2,345.7 556.0,345.8 557.8,345.9 559.6,346.1 561.3,346.2 563.1,346.3 564.9,346.5 566.7,346.6 568.5,346.8 570.2,346.9 572.0,347.1 573.8,347.2 575.5,347.4 577.3,347.5 579.0,347.7 580.8,347.8 582.5,348.0 584.2,348.1 586.0,348.3 587.7,348.5 589.4,348.6 591.1,348.8 592.8,349.0 594.6,349.2 596.3,349.3 598.0,349.5 599.6,349.7 601.3,349.9 603.0,350.1 604.7,350.2 606.4,350.4 608.0,350.6 609.7,350.8 611.3,351.0 613.0,351.2 614.6,351.4 616.3,351.6 617.9,351.8 619.5,352.0 621.2,352.3 622.8,352.5 624.4,352.7 626.0,352.9 627.6,353.1 629.2,353.4 630.8,353.6 632.4,353.8 633.9,354.1 635.5,354.3 637.1,354.5 638.6,354.8 640.2,355.0 641.7,355.3 643.2,355.5 644.8,355.8 646.3,356.0 647.8,356.3 649.3,356.5 650.8,356.8 652.3,357.1 653.8,357.3 655.3,357.6 656.8,357.9 658.2,358.2 659.7,358.5 661.2,358.7 662.6,359.0 664.0,359.3 665.5,359.6 666.9,359.9 668.3,360.2 669.7,360.5 671.1,360.8 672.5,361.2 673.9,361.5 675.3,361.8 676.6,362.1 678.0,362.5 679.4,362.8 680.7,363.1 682.0,363.5 683.4,363.8 684.7,364.2 686.0,364.5 687.3,364.9 688.6,365.2 689.9,365.6 691.1,366.0 692.4,366.3 693.7,366.7 694.9,367.1 696.1,367.5 697.4,367.9 698.6,368.2 699.8,368.6 701.0,369.0 702.2,369.5 703.4,369.9 704.5,370.3 705.7,370.7"/>
<path d="M94.3,146.7 95.5,147.1 96.6,147.5 97.8,147.9 99.0,148.4 100.2,148.8 101.4,149.2 102.6,149.5 103.9,149.9 105.1,150.3 106.3,150.7 107.6,151.1 108.9,151.4 110.1,151.8 111.4,152.2 112.7,152.5 114.0,152.9 115.3,153.2 116.6,153.6 118.0,153.9 119.3,154.3 120.6,154.6 122.0,154.9 123.4,155.3 124.7,155.6 126.1,155.9 127.5,156.2 128.9,156.6 130.3,156.9 131.7,157.2 133.1,157.5 134.5,157.8 136.0,158.1 137.4,158.4 138.8,158.7 140.3,158.9 141.8,159.2 143.2,159.5 144.7,159.8 146.2,160.1 147.7,160.3 149.2,160.6 150.7,160.9 152.2,161.1 153.7,161.4 155.2,161.6 156.8,161.9 158.3,162.1 159.8,162.4 161.4,162.6 162.9,162.9 164.5,163.1 166.1,163.3 167.6,163.6 169.2,163.8 170.8,164.0 172.4,164.3 174.0,164.5 175.6,164.7 177.2,164.9 178.8,165.1 180.5,165.4 182.1,165.6 183.7,165.8 185.4,166.0 187.0,166.2 188.7,166.4 190.3,166.6 192.0,166.8 193.6,167.0 195.3,167.2 197.0,167.3 198.7,167.5 200.4,167.7 202.0,167.9 203.7,168.1 205.4,168.2 207.2,168.4 208.9,168.6 210.6,168.8 212.3,168.9 214.0,169.1 215.8,169.3 217.5,169.4 219.2,169.6 221.0,169.7 222.7,169.9 224.5,170.0 226.2,170.2 228.0,170.3 229.8,170.5 231.5,170.6 233.3,170.8 235.1,170.9 236.9,171.1 238.7,171.2 240.4,171.3 242.2,171.5 244.0,171.6 245.8,171.7 247.6,171.9 249.4,172.0 251.3,172.1 253.1,172.2 254.9,172.4 256.7,172.5 258.5,172.6 260.4,172.7 262.2,172.8 264.0,172.9 265.9,173.0 267.7,173.1 269.6,173.3 271.4,173.4 273.3,173.5 275.1,173.6 277.0,173.7 278.9,173.8 280.7,173.8 282.6,173.9 284.5,174.0 286.3,174.1 288.2,174.2 290.1,174.3 292.0,174.4 293.8,174.5 295.7,174.6 297.6,174.6 299.5,174.7 301.4,174.8 303.3,174.9 305.2,174.9 307.1,175.0 309.0,175.1 310.9,175.2 312.8,175.2 314.7,175.3 316.6,175.4 318.5,175.4 320.4,175.5 322.4,175.5 324.3,175.6 326.2,175.7 328.1,175.7 330.0,175.8 332.0,175.8 333.9,175.9 335.8,175.9 337.8,176.0 339.7,176.0 341.6,176.1 343.5,176.1 345.5,176.1 347.4,176.2 349.4,176.2 351.3,176.3 353.2,176.3 355.2,176.3 357.1,176.4 359.1,176.4 361.0,176.4 362.9,176.4 364.9,176.5 366.8,176.5 368.8,176.5 370.7,176.5 372.7,176.6 374.6,176.6 376.6,176.6 378.5,176.6 380.5,176.6 382.4,176.7 384.4,176.7 386.3,176.7 388.3,176.7 390.2,176.7 392.2,176.7 394.1,176.7 396.1,176.7 398.0,176.7 400.0,176.7 402.0,176.7 403.9,176.7 405.9,176.7 407.8,176.7 409.8,176.7 411.7,176.7 413.7,176.7 415.6,176.7 417.6,176.7 419.5,176.6 421.5,176.6 423.4,176.6 425.4,176.6 427.3,176.6 429.3,176.5 431.2,176.5 433.2,176.5 435.1,176.5 437.1,176.4 439.0,176.4 440.9,176.4 442.9,176.4 444.8,176.3 446.8,176.3 448.7,176.3 450.6,176.2 452.6,176.2 454.5,176.1 456.5,176.1 458.4,176.1 460.3,176.0 462.2,176.0 464.2,175.9 466.1,175.9 468.0,175.8 470.0,175.8 471.9,175.7 473.8,175.7 475.7,175.6 477.6,175.5 479.6,175.5 481.5,175.4 483.4,175.4 485.3,175.3 487.2,175.2 489.1,175.2 491.0,175.1 492.9,175.0 494.8,174.9 496.7,174.9 498.6,174.8 500.5,174.7 502.4,174.6 504.3,174.6 506.2,174.5 508.0,174.4 509.9,174.3 511.8,174.2 513.7,174.1 515.5,174.0 517.4,173.9 519.3,173.8 521.1,173.8 523.0,173.7 524.9,173.6 526.7,173.5 528.6,173.4 530.4,173.3 532.3,173.1 534.1,173.0 536.0,172.9 537.8,172.8 539.6,172.7 541.5,172.6 543.3,172.5 545.1,172.4 546.9,172.2 548.7,172.1 550.6,172.0 552.4,171.9 554.2,171.7 556.0,171.6 557.8,171.5 559.6,171.3 561.3,171.2 563.1,171.1 564.9,170.9 566.7,170.8 568.5,170.6 570.2,170.5 572.0,170.3 573.8,170.2 575.5,170.0 577.3,169.9 579.0,169.7 580.8,169.6 582.5,169.4 584.2,169.3 586.0,169.1 587.7,168.9 589.4,168.8 591.1,168.6 592.8,168.4 594.6,168.2 596.3,168.1 598.0,167.9 599.6,167.7 601.3,167.5 603.0,167.3 604.7,167.2 606.4,167.0 608.0,166.8 609.7,166.6 611.3,166.4 613.0,166.2 614.6,166.0 616.3,165.8 617.9,165.6 619.5,165.4 621.2,165.1 622.8,164.9 624.4,164.7 626.0,164.5 627.6,164.3 629.2,164.0 630.8,163.8 632.4,163.6 633.9,163.3 635.5,163.1 637.1,162.9 638.6,162.6 640.2,162.4 641.7,162.1 643.2,161.9 644.8,161.6 646.3,161.4 647.8,161.1 649.3,160.9 650.8,160.6 652.3,160.3 653.8,160.1 655.3,159.8 656.8,159.5 658.2,159.2 659.7,158.9 661.2,158.7 662.6,158.4 664.0,158.1 665.5,157.8 666.9,157.5 668.3,157.2 669.7,156.9 671.1,156.6 672.5,156.2 673.9,155.9 675.3,155.6 676.6,155.3 678.0,154.9 679.4,154.6 680.7,154.3 682.0,153.9 683.4,153.6 684.7,153.2 686.0,152.9 687.3,152.5 688.6,152.2 689.9,151.8 691.1,151.4 692.4,151.1 693.7,150.7 694.9,150.3 696.1,149.9 697.4,149.5 698.6,149.2 699.8,148.8 701.0,148.4 702.2,147.9 703.4,147.5 704.5,147.1 705.7,146.7"/>
<path d="M223.5,64.7 223.9,65.1 224.3,65.6 224.7,66.0 225.1,66.4 225.6,66.8 226.0,67.2 226.5,67.6 226.9,68.0 227.4,68.4 227.9,68.8 228.4,69.2 228.9,69.6 229.4,70.0 229.9,70.4 230.5,70.7 231.0,71.1 231.6,71.5 232.1,71.9 232.7,72.3 233.3,72.6 233.9,73.0 234.5,73.4 235.1,73.7 235.7,74.1 236.3,74.4 236.9,74.8 237.6,75.1 238.2,75.5 238.9,75.8 239.6,76.2 240.3,76.5 240.9,76.8 241.6,77.2 242.3,77.5 243.1,77.8 243.8,78.2 244.5,78.5 245.2,78.8 246.0,79.1 246.7,79.4 247.5,79.7 248.3,80.1 249.0,80.4 249.8,80.7 250.6,81.0 251.4,81.3 252.2,81.6 253.0,81.9 253.8,82.2 254.7,82.4 255.5,82.7 256.3,83.0 257.2,83.3 258.0,83.6 258.9,83.8 259.8,84.1 260.6,84.4 261.5,84.7 262.4,84.9 263.3,85.2 264.2,85.5 265.1,85.7 266.0,86.0 266.9,86.2 267.8,86.5 268.8,86.7 269.7,87.0 270.6,87.2 271.6,87.4 272.5,87.7 273.5,87.9 274.5,88.2 275.4,88.4 276.4,88.6 277.4,88.8 278.4,89.1 279.4,89.3 280.4,89.5 281.4,89.7 282.4,89.9 283.4,90.2 284.4,90.4 285.4,90.6 286.5,90.8 287.5,91.0 288.5,91.2 289.6,91.4 290.6,91.6 291.7,91.8 292.7,92.0 293.8,92.1 294.9,92.3 295.9,92.5 297.0,92.7 298.1,92.9 299.2,93.1 300.2,93.2 301.3,93.4 302.4,93.6 303.5,93.7 304.6,93.9 305.7,94.1 306.8,94.2 308.0,94.4 309.1,94.6 310.2,94.7 311.3,94.9 312.5,95.0 313.6,95.2 314.7,95.3 315.9,95.5 317.0,95.6 318.2,95.7 319.3,95.9 320.5,96.0 321.6,96.1 322.8,96.3 323.9,96.4 325.1,96.5 326.3,96.6 327.5,96.8 328.6,96.9 329.8,97.0 331.0,97.1 332.2,97.2 333.4,97.3 334.5,97.5 335.7,97.6 336.9,97.7 338.1,97.8 339.3,97.9 340.5,98.0 341.7,98.1 342.9,98.2 344.1,98.3 345.3,98.4 346.6,98.4 347.8,98.5 349.0,98.6 350.2,98.7 351.4,98.8 352.6,98.8 353.9,98.9 355.1,99.0 356.3,99.1 357.6,99.1 358.8,99.2 360.0,99.3 361.3,99.3 362.5,99.4 363.7,99.5 365.0,99.5 366.2,99.6 367.4,99.6 368.7,99.7 369.9,99.7 371.2,99.8 372.4,99.8 373.7,99.9 374.9,99.9 376.2,99.9 377.4,100.0 378.7,100.0 379.9,100.1 381.2,100.1 382.4,100.1 383.7,100.1 384.9,100.2 386.2,100.2 387.4,100.2 388.7,100.2 389.9,100.2 391.2,100.3 392.5,100.3 393.7,100.3 395.0,100.3 396.2,100.3 397.5,100.3 398.7,100.3 400.0,100.3 401.3,100.3 402.5,100.3 403.8,100.3 405.0,100.3 406.3,100.3 407.5,100.3 408.8,100.3 410.1,100.2 411.3,100.2 412.6,100.2 413.8,100.2 415.1,100.2 416.3,100.1 417.6,100.1 418.8,100.1 420.1,100.1 421.3,100.0 422.6,100.0 423.8,99.9 425.1,99.9 426.3,99.9 427.6,99.8 428.8,99.8 430.1,99.7 431.3,99.7 432.6,99.6 433.8,99.6 435.0,99.5 436.3,99.5 437.5,99.4 438.7,99.3 440.0,99.3 441.2,99.2 442.4,99.1 443.7,99.1 444.9,99.0 446.1,98.9 447.4,98.8 448.6,98.8 449.8,98.7 451.0,98.6 452.2,98.5 453.4,98.4 454.7,98.4 455.9,98.3 457.1,98.2 458.3,98.1 459.5,98.0 460.7,97.9 461.9,97.8 463.1,97.7 464.3,97.6 465.5,97.5 466.6,97.3 467.8,97.2 469.0,97.1 470.2,97.0 471.4,96.9 472.5,96.8 473.7,96.6 474.9,96.5 476.1,96.4 477.2,96.3 478.4,96.1 479.5,96.0 480.7,95.9 481.8,95.7 483.0,95.6 484.1,95.5 485.3,95.3 486.4,95.2 487.5,95.0 488.7,94.9 489.8,94.7 490.9,94.6 492.0,94.4 493.2,94.2 494.3,94.1 495.4,93.9 496.5,93.7 497.6,93.6 498.7,93.4 499.8,93.2 500.8,93.1 501.9,92.9 503.0,92.7 504.1,92.5 505.1,92.3 506.2,92.1 507.3,92.0 508.3,91.8 509.4,91.6 510.4,91.4 511.5,91.2 512.5,91.0 513.5,90.8 514.6,90.6 515.6,90.4 516.6,90.2 517.6,89.9 518.6,89.7 519.6,89.5 520.6,89.3 521.6,89.1 522.6,88.8 523.6,88.6 524.6,88.4 525.5,88.2 526.5,87.9 527.5,87.7 528.4,87.4 529.4,87.2 530.3,87.0 531.2,86.7 532.2,86.5 533.1,86.2 534.0,86.0 534.9,85.7 535.8,85.5 536.7,85.2 537.6,84.9 538.5,84.7 539.4,84.4 540.2,84.1 541.1,83.8 542.0,83.6 542.8,83.3 543.7,83.0 544.5,82.7 545.3,82.4 546.2,82.2 547.0,81.9 547.8,81.6 548.6,81.3 549.4,81.0 550.2,80.7 551.0,80.4 551.7,80.1 552.5,79.7 553.3,79.4 554.0,79.1 554.8,78.8 555.5,78.5 556.2,78.2 556.9,77.8 557.7,77.5 558.4,77.2 559.1,76.8 559.7,76.5 560.4,76.2 561.1,75.8 561.8,75.5 562.4,75.1 563.1,74.8 563.7,74.4 564.3,74.1 564.9,73.7 565.5,73.4 566.1,73.0 566.7,72.6 567.3,72.3 567.9,71.9 568.4,71.5 569.0,71.1 569.5,70.7 570.1,70.4 570.6,70.0 571.1,69.6 571.6,69.2 572.1,68.8 572.6,68.4 573.1,68.0 573.5,67.6 574.0,67.2 574.4,66.8 574.9,66.4 575.3,66.0 575.7,65.6 576.1,65.1 576.5,64.7"/>
</g>
<path d="M400.0,34.7 455.2,37.5 509.1,45.7 560.3,59.1 607.5,77.5 649.6,100.3 685.6,127.0 714.5,157.0 735.7,189.5 748.7,223.7 753.0,258.7 748.7,293.7 735.7,327.9 714.5,360.4 685.6,390.4 649.6,417.1 607.5,439.9 560.3,458.3 509.1,471.7 455.2,479.9 400.0,482.7 400.0,482.7 344.8,479.9 290.9,471.7 239.7,458.3 192.5,439.9 150.4,417.1 114.4,390.4 85.5,360.4 64.3,327.9 51.3,293.7 47.0,258.7 51.3,223.7 64.3,189.5 85.5,157.0 114.4,127.0 150.4,100.3 192.5,77.5 239.7,59.1 290.9,45.7 344.8,37.5 400.0,34.7 Z" fill="none" stroke="#3a3a3a" stroke-width="1.4"/>
<path fill="#b4dcfa" d="M187.5,77.4l2.3,1.6 2.3,1.6 -2.3,1.6 -2.3,1.6 -2.3,-1.6 -2.3,-1.6 2.3,-1.6zM195.0,83.0l2.3,1.6 2.3,1.6 -2.3,1.6 -2.3,1.6 -2.3,-1.6 -2.3,-1.6 2.3,-1.6zM220.6,61.8l2.3,1.6 2.3,1.6 -2.3,1.6 -2.3,1.6 -2.3,-1.6 -2.3,-1.6 2.3,-1.6zM226.2,73.3l2.3,1.6 2.3,1.6 -2.3,1.6 -2.3,1.6 -2.3,-1.6 -2.3,-1.6 2.3,-1.6zM232.2,76.2l2.3,1.6 2.3,1.6 -2.3,1.6 -2.3,1.6 -2.3,-1.6 -2.3,-1.6 2.3,-1.6zM217.8,80.5l2.3,1.6 2.3,1.6 -2.3,1.6 -2.3,1.6 -2.3,-1.6 -2.3,-1.6 2.3,-1.6zM251.9,52.4l2.3,1.6 2.3,1.6 -2.3,1.6 -2.3,1.6 -2.3,-1.6 -2.3,-1.6 2.3,-1.6zM257.5,56.2l2.3,1.6 2.3,1.6 -2.3,1.6 -2.3,1.6 -2.3,-1.6 -2.3,-1.6 2.3,-1.6zM261.9,59.3l2.3,1.6 2.3,1.6 -2.3,1.6 -2.3,1.6 -2.3,-1.6 -2.3,-1.6 2.3,-1.6zM271.9,47.4l2.3,1.6 2.3,1.6 -2.3,1.6 -2.3,1.6 -2.3,-1.6 -2.3,-1.6 2.3,-1.6zM283.1,46.8l2.3,1.6 2.3,1.6 -2.3,1.6 -2.3,1.6 -2.3,-1.6 -2.3,-1.6 2.3,-1.6zM272.5,58.0l2.3,1.6 2.3,1.6 -2.3,1.6 -2.3,1.6 -2.3,-1.6 -2.3,-1.6 2.3,-1.6zM278.8,56.8l2.3,1.6 2.3,1.6 -2.3,1.6 -2.3,1.6 -2.3,-1.6 -2.3,-1.6 2.3,-1.6zM284.4,57.4l2.3,1.6 2.3,1.6 -2.3,1.6 -2.3,1.6 -2.3,-1.6 -2.3,-1.6 2.3,-1.6zM288.8,53.7l2.3,1.6 2.3,1.6 -2.3,1.6 -2.3,1.6 -2.3,-1.6 -2.3,-1.6 2.3,-1.6zM301.2,43.7l2.3,1.6 2.3,1.6 -2.3,1.6 -2.3,1.6 -2.3,-1.6 -2.3,-1.6 2.3,-1.6zM306.2,43.0l2.3,1.6 2.3,1.6 -2.3,1.6 -2.3,1.6 -2.3,-1.6 -2.3,-1.6 2.3,-1.6zM310.0,39.9l2.3,1.6 2.3,1.6 -2.3,1.6 -2.3,1.6 -2.3,-1.6 -2.3,-1.6 2.3,-1.6zM319.4,44.9l2.3,1.6 2.3,1.6 -2.3,1.6 -2.3,1.6 -2.3,-1.6 -2.3,-1.6 2.3,-1.6zM327.5,38.7l2.3,1.6 2.3,1.6 -2.3,1.6 -2.3,1.6 -2.3,-1.6 -2.3,-1.6 2.3,-1.6zM332.5,38.0l2.3,1.6 2.3,1.6 -2.3,1.6 -2.3,1.6 -2.3,-1.6 -2.3,-1.6 2.3,-1.6zM330.0,43.0l2.3,1.6 2.3,1.6 -2.3,1.6 -2.3,1.6 -2.3,-1.6 -2.3,-1.6 2.3,-1.6zM331.2,47.4l2.3,1.6 2.3,1.6 -2.3,1.6 -2.3,1.6 -2.3,-1.6 -2.3,-1.6 2.3,-1.6zM328.1,46.8l2.3,1.6 2.3,1.6 -2.3,1.6 -2.3,1.6 -2.3,-1.6 -2.3,-1.6 2.3,-1.6zM312.5,53.0l2.3,1.6 2.3,1.6 -2.3,1.6 -2.3,1.6 -2.3,-1.6 -2.3,-1.6 2.3,-1.6zM318.8,53.0l2.3,1.6 2.3,1.6 -2.3,1.6 -2.3,1.6 -2.3,-1.6 -2.3,-1.6 2.3,-1.6zM313.8,56.8l2.3,1.6 2.3,1.6 -2.3,1.6 -2.3,1.6 -2.3,-1.6 -2.3,-1.6 2.3,-1.6zM313.8,61.8l2.3,1.6 2.3,1.6 -2.3,1.6 -2.3,1.6 -2.3,-1.6 -2.3,-1.6 2.3,-1.6zM328.8,59.9l2.3,1.6 2.3,1.6 -2.3,1.6 -2.3,1.6 -2.3,-1.6 -2.3,-1.6 2.3,-1.6zM336.2,61.2l2.3,1.6 2.3,1.6 -2.3,1.6 -2.3,1.6 -2.3,-1.6 -2.3,-1.6 2.3,-1.6zM321.2,63.0l2.3,1.6 2.3,1.6 -2.3,1.6 -2.3,1.6 -2.3,-1.6 -2.3,-1.6 2.3,-1.6zM295.0,63.7l2.3,1.6 2.3,1.6 -2.3,1.6 -2.3,1.6 -2.3,-1.6 -2.3,-1.6 2.3,-1.6zM301.9,64.9l2.3,1.6 2.3,1.6 -2.3,1.6 -2.3,1.6 -2.3,-1.6 -2.3,-1.6 2.3,-1.6zM241.2,63.0l2.3,1.6 2.3,1.6 -2.3,1.6 -2.3,1.6 -2.3,-1.6 -2.3,-1.6 2.3,-1.6zM247.5,67.4l2.3,1.6 2.3,1.6 -2.3,1.6 -2.3,1.6 -2.3,-1.6 -2.3,-1.6 2.3,-1.6zM255.6,67.4l2.3,1.6 2.3,1.6 -2.3,1.6 -2.3,1.6 -2.3,-1.6 -2.3,-1.6 2.3,-1.6zM263.1,66.2l2.3,1.6 2.3,1.6 -2.3,1.6 -2.3,1.6 -2.3,-1.6 -2.3,-1.6 2.3,-1.6zM266.2,70.5l2.3,1.6 2.3,1.6 -2.3,1.6 -2.3,1.6 -2.3,-1.6 -2.3,-1.6 2.3,-1.6zM280.0,71.2l2.3,1.6 2.3,1.6 -2.3,1.6 -2.3,1.6 -2.3,-1.6 -2.3,-1.6 2.3,-1.6zM318.1,69.3l2.3,1.6 2.3,1.6 -2.3,1.6 -2.3,1.6 -2.3,-1.6 -2.3,-1.6 2.3,-1.6zM315.0,74.3l2.3,1.6 2.3,1.6 -2.3,1.6 -2.3,1.6 -2.3,-1.6 -2.3,-1.6 2.3,-1.6zM309.4,76.2l2.3,1.6 2.3,1.6 -2.3,1.6 -2.3,1.6 -2.3,-1.6 -2.3,-1.6 2.3,-1.6zM252.5,78.7l2.3,1.6 2.3,1.6 -2.3,1.6 -2.3,1.6 -2.3,-1.6 -2.3,-1.6 2.3,-1.6zM263.8,80.5l2.3,1.6 2.3,1.6 -2.3,1.6 -2.3,1.6 -2.3,-1.6 -2.3,-1.6 2.3,-1.6zM241.2,76.2l2.3,1.6 2.3,1.6 -2.3,1.6 -2.3,1.6 -2.3,-1.6 -2.3,-1.6 2.3,-1.6zM341.9,34.9l2.3,1.6 2.3,1.6 -2.3,1.6 -2.3,1.6 -2.3,-1.6 -2.3,-1.6 2.3,-1.6zM356.2,32.4l2.3,1.6 2.3,1.6 -2.3,1.6 -2.3,1.6 -2.3,-1.6 -2.3,-1.6 2.3,-1.6zM366.2,33.0l2.3,1.6 2.3,1.6 -2.3,1.6 -2.3,1.6 -2.3,-1.6 -2.3,-1.6 2.3,-1.6zM356.2,38.7l2.3,1.6 2.3,1.6 -2.3,1.6 -2.3,1.6 -2.3,-1.6 -2.3,-1.6 2.3,-1.6zM386.2,34.9l2.3,1.6 2.3,1.6 -2.3,1.6 -2.3,1.6 -2.3,-1.6 -2.3,-1.6 2.3,-1.6zM386.9,38.0l2.3,1.6 2.3,1.6 -2.3,1.6 -2.3,1.6 -2.3,-1.6 -2.3,-1.6 2.3,-1.6zM400.6,30.6l2.3,1.6 2.3,1.6 -2.3,1.6 -2.3,1.6 -2.3,-1.6 -2.3,-1.6 2.3,-1.6zM405.0,35.5l2.3,1.6 2.3,1.6 -2.3,1.6 -2.3,1.6 -2.3,-1.6 -2.3,-1.6 2.3,-1.6zM408.1,36.8l2.3,1.6 2.3,1.6 -2.3,1.6 -2.3,1.6 -2.3,-1.6 -2.3,-1.6 2.3,-1.6zM418.1,32.4l2.3,1.6 2.3,1.6 -2.3,1.6 -2.3,1.6 -2.3,-1.6 -2.3,-1.6 2.3,-1.6zM426.2,34.3l2.3,1.6 2.3,1.6 -2.3,1.6 -2.3,1.6 -2.3,-1.6 -2.3,-1.6 2.3,-1.6zM432.5,36.2l2.3,1.6 2.3,1.6 -2.3,1.6 -2.3,1.6 -2.3,-1.6 -2.3,-1.6 2.3,-1.6zM370.0,42.4l2.3,1.6 2.3,1.6 -2.3,1.6 -2.3,1.6 -2.3,-1.6 -2.3,-1.6 2.3,-1.6zM374.4,43.0l2.3,1.6 2.3,1.6 -2.3,1.6 -2.3,1.6 -2.3,-1.6 -2.3,-1.6 2.3,-1.6zM373.1,45.5l2.3,1.6 2.3,1.6 -2.3,1.6 -2.3,1.6 -2.3,-1.6 -2.3,-1.6 2.3,-1.6zM358.8,45.5l2.3,1.6 2.3,1.6 -2.3,1.6 -2.3,1.6 -2.3,-1.6 -2.3,-1.6 2.3,-1.6zM360.0,49.3l2.3,1.6 2.3,1.6 -2.3,1.6 -2.3,1.6 -2.3,-1.6 -2.3,-1.6 2.3,-1.6zM361.9,52.4l2.3,1.6 2.3,1.6 -2.3,1.6 -2.3,1.6 -2.3,-1.6 -2.3,-1.6 2.3,-1.6zM360.6,54.3l2.3,1.6 2.3,1.6 -2.3,1.6 -2.3,1.6 -2.3,-1.6 -2.3,-1.6 2.3,-1.6zM371.2,49.3l2.3,1.6 2.3,1.6 -2.3,1.6 -2.3,1.6 -2.3,-1.6 -2.3,-1.6 2.3,-1.6zM380.0,50.5l2.3,1.6 2.3,1.6 -2.3,1.6 -2.3,1.6 -2.3,-1.6 -2.3,-1.6 2.3,-1.6zM381.2,56.2l2.3,1.6 2.3,1.6 -2.3,1.6 -2.3,1.6 -2.3,-1.6 -2.3,-1.6 2.3,-1.6zM400.0,46.8l2.3,1.6 2.3,1.6 -2.3,1.6 -2.3,1.6 -2.3,-1.6 -2.3,-1.6 2.3,-1.6zM398.8,52.4l2.3,1.6 2.3,1.6 -2.3,1.6 -2.3,1.6 -2.3,-1.6 -2.3,-1.6 2.3,-1.6zM404.4,56.2l2.3,1.6 2.3,1.6 -2.3,1.6 -2.3,1.6 -2.3,-1.6 -2.3,-1.6 2.3,-1.6zM408.8,43.7l2.3,1.6 2.3,1.6 -2.3,1.6 -2.3,1.6 -2.3,-1.6 -2.3,-1.6 2.3,-1.6zM426.2,46.8l2.3,1.6 2.3,1.6 -2.3,1.6 -2.3,1.6 -2.3,-1.6 -2.3,-1.6 2.3,-1.6zM425.0,49.9l2.3,1.6 2.3,1.6 -2.3,1.6 -2.3,1.6 -2.3,-1.6 -2.3,-1.6 2.3,-1.6zM421.2,54.9l2.3,1.6 2.3,1.6 -2.3,1.6 -2.3,1.6 -2.3,-1.6 -2.3,-1.6 2.3,-1.6zM436.9,50.5l2.3,1.6 2.3,1.6 -2.3,1.6 -2.3,1.6 -2.3,-1.6 -2.3,-1.6 2.3,-1.6zM438.8,53.0l2.3,1.6 2.3,1.6 -2.3,1.6 -2.3,1.6 -2.3,-1.6 -2.3,-1.6 2.3,-1.6zM350.0,53.7l2.3,1.6 2.3,1.6 -2.3,1.6 -2.3,1.6 -2.3,-1.6 -2.3,-1.6 2.3,-1.6zM363.1,61.8l2.3,1.6 2.3,1.6 -2.3,1.6 -2.3,1.6 -2.3,-1.6 -2.3,-1.6 2.3,-1.6zM355.6,64.3l2.3,1.6 2.3,1.6 -2.3,1.6 -2.3,1.6 -2.3,-1.6 -2.3,-1.6 2.3,-1.6zM341.2,60.5l2.3,1.6 2.3,1.6 -2.3,1.6 -2.3,1.6 -2.3,-1.6 -2.3,-1.6 2.3,-1.6zM342.5,68.0l2.3,1.6 2.3,1.6 -2.3,1.6 -2.3,1.6 -2.3,-1.6 -2.3,-1.6 2.3,-1.6zM365.0,70.5l2.3,1.6 2.3,1.6 -2.3,1.6 -2.3,1.6 -2.3,-1.6 -2.3,-1.6 2.3,-1.6zM351.9,72.4l2.3,1.6 2.3,1.6 -2.3,1.6 -2.3,1.6 -2.3,-1.6 -2.3,-1.6 2.3,-1.6zM357.5,74.9l2.3,1.6 2.3,1.6 -2.3,1.6 -2.3,1.6 -2.3,-1.6 -2.3,-1.6 2.3,-1.6zM380.6,71.2l2.3,1.6 2.3,1.6 -2.3,1.6 -2.3,1.6 -2.3,-1.6 -2.3,-1.6 2.3,-1.6zM388.1,68.0l2.3,1.6 2.3,1.6 -2.3,1.6 -2.3,1.6 -2.3,-1.6 -2.3,-1.6 2.3,-1.6zM386.2,74.9l2.3,1.6 2.3,1.6 -2.3,1.6 -2.3,1.6 -2.3,-1.6 -2.3,-1.6 2.3,-1.6zM390.6,76.2l2.3,1.6 2.3,1.6 -2.3,1.6 -2.3,1.6 -2.3,-1.6 -2.3,-1.6 2.3,-1.6zM398.8,74.3l2.3,1.6 2.3,1.6 -2.3,1.6 -2.3,1.6 -2.3,-1.6 -2.3,-1.6 2.3,-1.6zM408.8,64.9l2.3,1.6 2.3,1.6 -2.3,1.6 -2.3,1.6 -2.3,-1.6 -2.3,-1.6 2.3,-1.6zM413.8,63.7l2.3,1.6 2.3,1.6 -2.3,1.6 -2.3,1.6 -2.3,-1.6 -2.3,-1.6 2.3,-1.6zM410.6,73.0l2.3,1.6 2.3,1.6 -2.3,1.6 -2.3,1.6 -2.3,-1.6 -2.3,-1.6 2.3,-1.6zM350.0,79.3l2.3,1.6 2.3,1.6 -2.3,1.6 -2.3,1.6 -2.3,-1.6 -2.3,-1.6 2.3,-1.6zM347.5,81.8l2.3,1.6 2.3,1.6 -2.3,1.6 -2.3,1.6 -2.3,-1.6 -2.3,-1.6 2.3,-1.6zM355.6,81.2l2.3,1.6 2.3,1.6 -2.3,1.6 -2.3,1.6 -2.3,-1.6 -2.3,-1.6 2.3,-1.6zM361.2,82.4l2.3,1.6 2.3,1.6 -2.3,1.6 -2.3,1.6 -2.3,-1.6 -2.3,-1.6 2.3,-1.6zM390.0,81.8l2.3,1.6 2.3,1.6 -2.3,1.6 -2.3,1.6 -2.3,-1.6 -2.3,-1.6 2.3,-1.6zM406.2,80.5l2.3,1.6 2.3,1.6 -2.3,1.6 -2.3,1.6 -2.3,-1.6 -2.3,-1.6 2.3,-1.6zM412.5,81.8l2.3,1.6 2.3,1.6 -2.3,1.6 -2.3,1.6 -2.3,-1.6 -2.3,-1.6 2.3,-1.6zM437.5,77.4l2.3,1.6 2.3,1.6 -2.3,1.6 -2.3,1.6 -2.3,-1.6 -2.3,-1.6 2.3,-1.6zM457.5,33.7l2.3,1.6 2.3,1.6 -2.3,1.6 -2.3,1.6 -2.3,-1.6 -2.3,-1.6 2.3,-1.6zM443.8,36.8l2.3,1.6 2.3,1.6 -2.3,1.6 -2.3,1.6 -2.3,-1.6 -2.3,-1.6 2.3,-1.6zM441.2,43.7l2.3,1.6 2.3,1.6 -2.3,1.6 -2.3,1.6 -2.3,-1.6 -2.3,-1.6 2.3,-1.6zM446.2,47.4l2.3,1.6 2.3,1.6 -2.3,1.6 -2.3,1.6 -2.3,-1.6 -2.3,-1.6 2.3,-1.6zM447.5,51.2l2.3,1.6 2.3,1.6 -2.3,1.6 -2.3,1.6 -2.3,-1.6 -2.3,-1.6 2.3,-1.6zM472.5,41.2l2.3,1.6 2.3,1.6 -2.3,1.6 -2.3,1.6 -2.3,-1.6 -2.3,-1.6 2.3,-1.6zM479.4,40.5l2.3,1.6 2.3,1.6 -2.3,1.6 -2.3,1.6 -2.3,-1.6 -2.3,-1.6 2.3,-1.6zM479.4,45.5l2.3,1.6 2.3,1.6 -2.3,1.6 -2.3,1.6 -2.3,-1.6 -2.3,-1.6 2.3,-1.6zM470.6,48.0l2.3,1.6 2.3,1.6 -2.3,1.6 -2.3,1.6 -2.3,-1.6 -2.3,-1.6 2.3,-1.6zM460.6,53.0l2.3,1.6 2.3,1.6 -2.3,1.6 -2.3,1.6 -2.3,-1.6 -2.3,-1.6 2.3,-1.6zM470.0,55.5l2.3,1.6 2.3,1.6 -2.3,1.6 -2.3,1.6 -2.3,-1.6 -2.3,-1.6 2.3,-1.6zM461.2,59.9l2.3,1.6 2.3,1.6 -2.3,1.6 -2.3,1.6 -2.3,-1.6 -2.3,-1.6 2.3,-1.6zM465.0,62.4l2.3,1.6 2.3,1.6 -2.3,1.6 -2.3,1.6 -2.3,-1.6 -2.3,-1.6 2.3,-1.6zM481.2,52.4l2.3,1.6 2.3,1.6 -2.3,1.6 -2.3,1.6 -2.3,-1.6 -2.3,-1.6 2.3,-1.6zM488.8,49.9l2.3,1.6 2.3,1.6 -2.3,1.6 -2.3,1.6 -2.3,-1.6 -2.3,-1.6 2.3,-1.6zM496.2,49.9l2.3,1.6 2.3,1.6 -2.3,1.6 -2.3,1.6 -2.3,-1.6 -2.3,-1.6 2.3,-1.6zM501.2,46.2l2.3,1.6 2.3,1.6 -2.3,1.6 -2.3,1.6 -2.3,-1.6 -2.3,-1.6 2.3,-1.6zM502.5,53.0l2.3,1.6 2.3,1.6 -2.3,1.6 -2.3,1.6 -2.3,-1.6 -2.3,-1.6 2.3,-1.6zM506.2,52.4l2.3,1.6 2.3,1.6 -2.3,1.6 -2.3,1.6 -2.3,-1.6 -2.3,-1.6 2.3,-1.6zM514.4,46.2l2.3,1.6 2.3,1.6 -2.3,1.6 -2.3,1.6 -2.3,-1.6 -2.3,-1.6 2.3,-1.6zM533.8,52.4l2.3,1.6 2.3,1.6 -2.3,1.6 -2.3,1.6 -2.3,-1.6 -2.3,-1.6 2.3,-1.6zM536.2,62.4l2.3,1.6 2.3,1.6 -2.3,1.6 -2.3,1.6 -2.3,-1.6 -2.3,-1.6 2.3,-1.6zM488.1,64.3l2.3,1.6 2.3,1.6 -2.3,1.6 -2.3,1.6 -2.3,-1.6 -2.3,-1.6 2.3,-1.6zM489.4,66.8l2.3,1.6 2.3,1.6 -2.3,1.6 -2.3,1.6 -2.3,-1.6 -2.3,-1.6 2.3,-1.6zM495.0,64.3l2.3,1.6 2.3,1.6 -2.3,1.6 -2.3,1.6 -2.3,-1.6 -2.3,-1.6 2.3,-1.6zM498.1,63.0l2.3,1.6 2.3,1.6 -2.3,1.6 -2.3,1.6 -2.3,-1.6 -2.3,-1.6 2.3,-1.6zM503.8,65.5l2.3,1.6 2.3,1.6 -2.3,1.6 -2.3,1.6 -2.3,-1.6 -2.3,-1.6 2.3,-1.6zM512.5,66.8l2.3,1.6 2.3,1.6 -2.3,1.6 -2.3,1.6 -2.3,-1.6 -2.3,-1.6 2.3,-1.6zM518.8,65.5l2.3,1.6 2.3,1.6 -2.3,1.6 -2.3,1.6 -2.3,-1.6 -2.3,-1.6 2.3,-1.6zM520.0,73.0l2.3,1.6 2.3,1.6 -2.3,1.6 -2.3,1.6 -2.3,-1.6 -2.3,-1.6 2.3,-1.6zM512.5,70.5l2.3,1.6 2.3,1.6 -2.3,1.6 -2.3,1.6 -2.3,-1.6 -2.3,-1.6 2.3,-1.6zM447.5,68.0l2.3,1.6 2.3,1.6 -2.3,1.6 -2.3,1.6 -2.3,-1.6 -2.3,-1.6 2.3,-1.6zM450.0,69.9l2.3,1.6 2.3,1.6 -2.3,1.6 -2.3,1.6 -2.3,-1.6 -2.3,-1.6 2.3,-1.6zM443.8,73.7l2.3,1.6 2.3,1.6 -2.3,1.6 -2.3,1.6 -2.3,-1.6 -2.3,-1.6 2.3,-1.6zM456.9,76.2l2.3,1.6 2.3,1.6 -2.3,1.6 -2.3,1.6 -2.3,-1.6 -2.3,-1.6 2.3,-1.6zM461.9,81.8l2.3,1.6 2.3,1.6 -2.3,1.6 -2.3,1.6 -2.3,-1.6 -2.3,-1.6 2.3,-1.6zM470.0,75.5l2.3,1.6 2.3,1.6 -2.3,1.6 -2.3,1.6 -2.3,-1.6 -2.3,-1.6 2.3,-1.6zM478.8,76.2l2.3,1.6 2.3,1.6 -2.3,1.6 -2.3,1.6 -2.3,-1.6 -2.3,-1.6 2.3,-1.6zM488.1,79.3l2.3,1.6 2.3,1.6 -2.3,1.6 -2.3,1.6 -2.3,-1.6 -2.3,-1.6 2.3,-1.6zM498.1,73.0l2.3,1.6 2.3,1.6 -2.3,1.6 -2.3,1.6 -2.3,-1.6 -2.3,-1.6 2.3,-1.6zM504.4,79.9l2.3,1.6 2.3,1.6 -2.3,1.6 -2.3,1.6 -2.3,-1.6 -2.3,-1.6 2.3,-1.6zM475.0,83.0l2.3,1.6 2.3,1.6 -2.3,1.6 -2.3,1.6 -2.3,-1.6 -2.3,-1.6 2.3,-1.6zM441.2,81.2l2.3,1.6 2.3,1.6 -2.3,1.6 -2.3,1.6 -2.3,-1.6 -2.3,-1.6 2.3,-1.6zM541.9,51.2l2.3,1.6 2.3,1.6 -2.3,1.6 -2.3,1.6 -2.3,-1.6 -2.3,-1.6 2.3,-1.6zM547.5,56.2l2.3,1.6 2.3,1.6 -2.3,1.6 -2.3,1.6 -2.3,-1.6 -2.3,-1.6 2.3,-1.6zM555.6,56.8l2.3,1.6 2.3,1.6 -2.3,1.6 -2.3,1.6 -2.3,-1.6 -2.3,-1.6 2.3,-1.6zM570.6,63.0l2.3,1.6 2.3,1.6 -2.3,1.6 -2.3,1.6 -2.3,-1.6 -2.3,-1.6 2.3,-1.6zM574.4,68.0l2.3,1.6 2.3,1.6 -2.3,1.6 -2.3,1.6 -2.3,-1.6 -2.3,-1.6 2.3,-1.6zM565.0,69.9l2.3,1.6 2.3,1.6 -2.3,1.6 -2.3,1.6 -2.3,-1.6 -2.3,-1.6 2.3,-1.6zM590.0,71.2l2.3,1.6 2.3,1.6 -2.3,1.6 -2.3,1.6 -2.3,-1.6 -2.3,-1.6 2.3,-1.6zM554.4,77.4l2.3,1.6 2.3,1.6 -2.3,1.6 -2.3,1.6 -2.3,-1.6 -2.3,-1.6 2.3,-1.6zM555.0,80.5l2.3,1.6 2.3,1.6 -2.3,1.6 -2.3,1.6 -2.3,-1.6 -2.3,-1.6 2.3,-1.6zM564.4,79.3l2.3,1.6 2.3,1.6 -2.3,1.6 -2.3,1.6 -2.3,-1.6 -2.3,-1.6 2.3,-1.6zM565.6,81.2l2.3,1.6 2.3,1.6 -2.3,1.6 -2.3,1.6 -2.3,-1.6 -2.3,-1.6 2.3,-1.6zM543.8,82.4l2.3,1.6 2.3,1.6 -2.3,1.6 -2.3,1.6 -2.3,-1.6 -2.3,-1.6 2.3,-1.6zM627.5,84.5l2.3,1.6 2.3,1.6 -2.3,1.6 -2.3,1.6 -2.3,-1.6 -2.3,-1.6 2.3,-1.6zM123.1,116.0l2.3,1.6 2.3,1.6 -2.3,1.6 -2.3,1.6 -2.3,-1.6 -2.3,-1.6 2.3,-1.6zM100.6,136.7l2.3,1.6 2.3,1.6 -2.3,1.6 -2.3,1.6 -2.3,-1.6 -2.3,-1.6 2.3,-1.6zM98.1,139.8l2.3,1.6 2.3,1.6 -2.3,1.6 -2.3,1.6 -2.3,-1.6 -2.3,-1.6 2.3,-1.6zM127.5,137.3l2.3,1.6 2.3,1.6 -2.3,1.6 -2.3,1.6 -2.3,-1.6 -2.3,-1.6 2.3,-1.6zM126.2,140.1l2.3,1.6 2.3,1.6 -2.3,1.6 -2.3,1.6 -2.3,-1.6 -2.3,-1.6 2.3,-1.6zM139.0,141.3l2.3,1.6 2.3,1.6 -2.3,1.6 -2.3,1.6 -2.3,-1.6 -2.3,-1.6 2.3,-1.6zM217.5,91.7l2.3,1.6 2.3,1.6 -2.3,1.6 -2.3,1.6 -2.3,-1.6 -2.3,-1.6 2.3,-1.6zM223.1,96.7l2.3,1.6 2.3,1.6 -2.3,1.6 -2.3,1.6 -2.3,-1.6 -2.3,-1.6 2.3,-1.6zM238.1,90.4l2.3,1.6 2.3,1.6 -2.3,1.6 -2.3,1.6 -2.3,-1.6 -2.3,-1.6 2.3,-1.6zM195.0,97.3l2.3,1.6 2.3,1.6 -2.3,1.6 -2.3,1.6 -2.3,-1.6 -2.3,-1.6 2.3,-1.6zM210.6,102.3l2.3,1.6 2.3,1.6 -2.3,1.6 -2.3,1.6 -2.3,-1.6 -2.3,-1.6 2.3,-1.6zM176.2,103.5l2.3,1.6 2.3,1.6 -2.3,1.6 -2.3,1.6 -2.3,-1.6 -2.3,-1.6 2.3,-1.6zM187.5,104.2l2.3,1.6 2.3,1.6 -2.3,1.6 -2.3,1.6 -2.3,-1.6 -2.3,-1.6 2.3,-1.6zM161.9,106.0l2.3,1.6 2.3,1.6 -2.3,1.6 -2.3,1.6 -2.3,-1.6 -2.3,-1.6 2.3,-1.6zM161.9,110.4l2.3,1.6 2.3,1.6 -2.3,1.6 -2.3,1.6 -2.3,-1.6 -2.3,-1.6 2.3,-1.6zM175.6,111.0l2.3,1.6 2.3,1.6 -2.3,1.6 -2.3,1.6 -2.3,-1.6 -2.3,-1.6 2.3,-1.6zM189.4,109.8l2.3,1.6 2.3,1.6 -2.3,1.6 -2.3,1.6 -2.3,-1.6 -2.3,-1.6 2.3,-1.6zM186.9,115.4l2.3,1.6 2.3,1.6 -2.3,1.6 -2.3,1.6 -2.3,-1.6 -2.3,-1.6 2.3,-1.6zM151.2,114.2l2.3,1.6 2.3,1.6 -2.3,1.6 -2.3,1.6 -2.3,-1.6 -2.3,-1.6 2.3,-1.6zM151.2,120.4l2.3,1.6 2.3,1.6 -2.3,1.6 -2.3,1.6 -2.3,-1.6 -2.3,-1.6 2.3,-1.6zM202.5,116.7l2.3,1.6 2.3,1.6 -2.3,1.6 -2.3,1.6 -2.3,-1.6 -2.3,-1.6 2.3,-1.6zM215.0,116.7l2.3,1.6 2.3,1.6 -2.3,1.6 -2.3,1.6 -2.3,-1.6 -2.3,-1.6 2.3,-1.6zM232.5,107.9l2.3,1.6 2.3,1.6 -2.3,1.6 -2.3,1.6 -2.3,-1.6 -2.3,-1.6 2.3,-1.6zM235.6,114.8l2.3,1.6 2.3,1.6 -2.3,1.6 -2.3,1.6 -2.3,-1.6 -2.3,-1.6 2.3,-1.6zM185.0,121.7l2.3,1.6 2.3,1.6 -2.3,1.6 -2.3,1.6 -2.3,-1.6 -2.3,-1.6 2.3,-1.6zM195.0,122.3l2.3,1.6 2.3,1.6 -2.3,1.6 -2.3,1.6 -2.3,-1.6 -2.3,-1.6 2.3,-1.6zM176.9,126.7l2.3,1.6 2.3,1.6 -2.3,1.6 -2.3,1.6 -2.3,-1.6 -2.3,-1.6 2.3,-1.6zM211.9,124.2l2.3,1.6 2.3,1.6 -2.3,1.6 -2.3,1.6 -2.3,-1.6 -2.3,-1.6 2.3,-1.6zM217.5,126.0l2.3,1.6 2.3,1.6 -2.3,1.6 -2.3,1.6 -2.3,-1.6 -2.3,-1.6 2.3,-1.6zM171.2,135.4l2.3,1.6 2.3,1.6 -2.3,1.6 -2.3,1.6 -2.3,-1.6 -2.3,-1.6 2.3,-1.6zM148.8,132.9l2.3,1.6 2.3,1.6 -2.3,1.6 -2.3,1.6 -2.3,-1.6 -2.3,-1.6 2.3,-1.6zM200.0,136.1l2.3,1.6 2.3,1.6 -2.3,1.6 -2.3,1.6 -2.3,-1.6 -2.3,-1.6 2.3,-1.6zM207.5,140.4l2.3,1.6 2.3,1.6 -2.3,1.6 -2.3,1.6 -2.3,-1.6 -2.3,-1.6 2.3,-1.6zM215.0,139.2l2.3,1.6 2.3,1.6 -2.3,1.6 -2.3,1.6 -2.3,-1.6 -2.3,-1.6 2.3,-1.6zM233.1,138.6l2.3,1.6 2.3,1.6 -2.3,1.6 -2.3,1.6 -2.3,-1.6 -2.3,-1.6 2.3,-1.6zM182.5,140.4l2.3,1.6 2.3,1.6 -2.3,1.6 -2.3,1.6 -2.3,-1.6 -2.3,-1.6 2.3,-1.6zM280.0,86.0l2.3,1.6 2.3,1.6 -2.3,1.6 -2.3,1.6 -2.3,-1.6 -2.3,-1.6 2.3,-1.6zM290.0,89.8l2.3,1.6 2.3,1.6 -2.3,1.6 -2.3,1.6 -2.3,-1.6 -2.3,-1.6 2.3,-1.6zM295.0,91.7l2.3,1.6 2.3,1.6 -2.3,1.6 -2.3,1.6 -2.3,-1.6 -2.3,-1.6 2.3,-1.6zM304.4,91.7l2.3,1.6 2.3,1.6 -2.3,1.6 -2.3,1.6 -2.3,-1.6 -2.3,-1.6 2.3,-1.6zM312.5,94.2l2.3,1.6 2.3,1.6 -2.3,1.6 -2.3,1.6 -2.3,-1.6 -2.3,-1.6 2.3,-1.6zM316.2,96.0l2.3,1.6 2.3,1.6 -2.3,1.6 -2.3,1.6 -2.3,-1.6 -2.3,-1.6 2.3,-1.6zM329.4,87.9l2.3,1.6 2.3,1.6 -2.3,1.6 -2.3,1.6 -2.3,-1.6 -2.3,-1.6 2.3,-1.6zM327.5,95.4l2.3,1.6 2.3,1.6 -2.3,1.6 -2.3,1.6 -2.3,-1.6 -2.3,-1.6 2.3,-1.6zM326.9,100.4l2.3,1.6 2.3,1.6 -2.3,1.6 -2.3,1.6 -2.3,-1.6 -2.3,-1.6 2.3,-1.6zM336.9,103.5l2.3,1.6 2.3,1.6 -2.3,1.6 -2.3,1.6 -2.3,-1.6 -2.3,-1.6 2.3,-1.6zM262.5,93.5l2.3,1.6 2.3,1.6 -2.3,1.6 -2.3,1.6 -2.3,-1.6 -2.3,-1.6 2.3,-1.6zM249.4,97.3l2.3,1.6 2.3,1.6 -2.3,1.6 -2.3,1.6 -2.3,-1.6 -2.3,-1.6 2.3,-1.6zM274.4,93.5l2.3,1.6 2.3,1.6 -2.3,1.6 -2.3,1.6 -2.3,-1.6 -2.3,-1.6 2.3,-1.6zM283.8,93.5l2.3,1.6 2.3,1.6 -2.3,1.6 -2.3,1.6 -2.3,-1.6 -2.3,-1.6 2.3,-1.6zM272.5,98.5l2.3,1.6 2.3,1.6 -2.3,1.6 -2.3,1.6 -2.3,-1.6 -2.3,-1.6 2.3,-1.6zM241.2,104.8l2.3,1.6 2.3,1.6 -2.3,1.6 -2.3,1.6 -2.3,-1.6 -2.3,-1.6 2.3,-1.6zM247.5,107.9l2.3,1.6 2.3,1.6 -2.3,1.6 -2.3,1.6 -2.3,-1.6 -2.3,-1.6 2.3,-1.6zM254.4,107.9l2.3,1.6 2.3,1.6 -2.3,1.6 -2.3,1.6 -2.3,-1.6 -2.3,-1.6 2.3,-1.6zM260.6,110.4l2.3,1.6 2.3,1.6 -2.3,1.6 -2.3,1.6 -2.3,-1.6 -2.3,-1.6 2.3,-1.6zM265.0,117.3l2.3,1.6 2.3,1.6 -2.3,1.6 -2.3,1.6 -2.3,-1.6 -2.3,-1.6 2.3,-1.6zM290.0,105.4l2.3,1.6 2.3,1.6 -2.3,1.6 -2.3,1.6 -2.3,-1.6 -2.3,-1.6 2.3,-1.6zM300.0,101.0l2.3,1.6 2.3,1.6 -2.3,1.6 -2.3,1.6 -2.3,-1.6 -2.3,-1.6 2.3,-1.6zM303.8,102.3l2.3,1.6 2.3,1.6 -2.3,1.6 -2.3,1.6 -2.3,-1.6 -2.3,-1.6 2.3,-1.6zM304.4,106.7l2.3,1.6 2.3,1.6 -2.3,1.6 -2.3,1.6 -2.3,-1.6 -2.3,-1.6 2.3,-1.6zM298.8,111.0l2.3,1.6 2.3,1.6 -2.3,1.6 -2.3,1.6 -2.3,-1.6 -2.3,-1.6 2.3,-1.6zM303.1,114.2l2.3,1.6 2.3,1.6 -2.3,1.6 -2.3,1.6 -2.3,-1.6 -2.3,-1.6 2.3,-1.6zM291.2,114.8l2.3,1.6 2.3,1.6 -2.3,1.6 -2.3,1.6 -2.3,-1.6 -2.3,-1.6 2.3,-1.6zM295.0,116.7l2.3,1.6 2.3,1.6 -2.3,1.6 -2.3,1.6 -2.3,-1.6 -2.3,-1.6 2.3,-1.6zM290.0,121.0l2.3,1.6 2.3,1.6 -2.3,1.6 -2.3,1.6 -2.3,-1.6 -2.3,-1.6 2.3,-1.6zM295.0,121.0l2.3,1.6 2.3,1.6 -2.3,1.6 -2.3,1.6 -2.3,-1.6 -2.3,-1.6 2.3,-1.6zM308.1,129.2l2.3,1.6 2.3,1.6 -2.3,1.6 -2.3,1.6 -2.3,-1.6 -2.3,-1.6 2.3,-1.6zM329.4,122.3l2.3,1.6 2.3,1.6 -2.3,1.6 -2.3,1.6 -2.3,-1.6 -2.3,-1.6 2.3,-1.6zM330.6,127.9l2.3,1.6 2.3,1.6 -2.3,1.6 -2.3,1.6 -2.3,-1.6 -2.3,-1.6 2.3,-1.6zM320.6,137.3l2.3,1.6 2.3,1.6 -2.3,1.6 -2.3,1.6 -2.3,-1.6 -2.3,-1.6 2.3,-1.6zM303.1,140.4l2.3,1.6 2.3,1.6 -2.3,1.6 -2.3,1.6 -2.3,-1.6 -2.3,-1.6 2.3,-1.6zM255.0,140.4l2.3,1.6 2.3,1.6 -2.3,1.6 -2.3,1.6 -2.3,-1.6 -2.3,-1.6 2.3,-1.6zM273.1,138.6l2.3,1.6 2.3,1.6 -2.3,1.6 -2.3,1.6 -2.3,-1.6 -2.3,-1.6 2.3,-1.6zM347.5,84.8l2.3,1.6 2.3,1.6 -2.3,1.6 -2.3,1.6 -2.3,-1.6 -2.3,-1.6 2.3,-1.6zM368.8,91.0l2.3,1.6 2.3,1.6 -2.3,1.6 -2.3,1.6 -2.3,-1.6 -2.3,-1.6 2.3,-1.6zM371.9,92.9l2.3,1.6 2.3,1.6 -2.3,1.6 -2.3,1.6 -2.3,-1.6 -2.3,-1.6 2.3,-1.6zM353.8,96.7l2.3,1.6 2.3,1.6 -2.3,1.6 -2.3,1.6 -2.3,-1.6 -2.3,-1.6 2.3,-1.6zM344.4,100.4l2.3,1.6 2.3,1.6 -2.3,1.6 -2.3,1.6 -2.3,-1.6 -2.3,-1.6 2.3,-1.6zM345.6,103.5l2.3,1.6 2.3,1.6 -2.3,1.6 -2.3,1.6 -2.3,-1.6 -2.3,-1.6 2.3,-1.6zM362.5,96.0l2.3,1.6 2.3,1.6 -2.3,1.6 -2.3,1.6 -2.3,-1.6 -2.3,-1.6 2.3,-1.6zM363.1,104.2l2.3,1.6 2.3,1.6 -2.3,1.6 -2.3,1.6 -2.3,-1.6 -2.3,-1.6 2.3,-1.6zM370.0,103.5l2.3,1.6 2.3,1.6 -2.3,1.6 -2.3,1.6 -2.3,-1.6 -2.3,-1.6 2.3,-1.6zM373.1,104.2l2.3,1.6 2.3,1.6 -2.3,1.6 -2.3,1.6 -2.3,-1.6 -2.3,-1.6 2.3,-1.6zM376.9,103.5l2.3,1.6 2.3,1.6 -2.3,1.6 -2.3,1.6 -2.3,-1.6 -2.3,-1.6 2.3,-1.6zM383.8,97.3l2.3,1.6 2.3,1.6 -2.3,1.6 -2.3,1.6 -2.3,-1.6 -2.3,-1.6 2.3,-1.6zM395.0,97.9l2.3,1.6 2.3,1.6 -2.3,1.6 -2.3,1.6 -2.3,-1.6 -2.3,-1.6 2.3,-1.6zM395.6,100.4l2.3,1.6 2.3,1.6 -2.3,1.6 -2.3,1.6 -2.3,-1.6 -2.3,-1.6 2.3,-1.6zM381.2,109.2l2.3,1.6 2.3,1.6 -2.3,1.6 -2.3,1.6 -2.3,-1.6 -2.3,-1.6 2.3,-1.6zM385.6,112.9l2.3,1.6 2.3,1.6 -2.3,1.6 -2.3,1.6 -2.3,-1.6 -2.3,-1.6 2.3,-1.6zM348.8,111.0l2.3,1.6 2.3,1.6 -2.3,1.6 -2.3,1.6 -2.3,-1.6 -2.3,-1.6 2.3,-1.6zM355.6,111.0l2.3,1.6 2.3,1.6 -2.3,1.6 -2.3,1.6 -2.3,-1.6 -2.3,-1.6 2.3,-1.6zM361.9,114.2l2.3,1.6 2.3,1.6 -2.3,1.6 -2.3,1.6 -2.3,-1.6 -2.3,-1.6 2.3,-1.6zM366.2,111.0l2.3,1.6 2.3,1.6 -2.3,1.6 -2.3,1.6 -2.3,-1.6 -2.3,-1.6 2.3,-1.6zM358.8,119.8l2.3,1.6 2.3,1.6 -2.3,1.6 -2.3,1.6 -2.3,-1.6 -2.3,-1.6 2.3,-1.6zM341.9,121.7l2.3,1.6 2.3,1.6 -2.3,1.6 -2.3,1.6 -2.3,-1.6 -2.3,-1.6 2.3,-1.6zM388.1,124.2l2.3,1.6 2.3,1.6 -2.3,1.6 -2.3,1.6 -2.3,-1.6 -2.3,-1.6 2.3,-1.6zM391.2,130.4l2.3,1.6 2.3,1.6 -2.3,1.6 -2.3,1.6 -2.3,-1.6 -2.3,-1.6 2.3,-1.6zM413.1,92.9l2.3,1.6 2.3,1.6 -2.3,1.6 -2.3,1.6 -2.3,-1.6 -2.3,-1.6 2.3,-1.6zM412.5,102.9l2.3,1.6 2.3,1.6 -2.3,1.6 -2.3,1.6 -2.3,-1.6 -2.3,-1.6 2.3,-1.6zM427.5,87.3l2.3,1.6 2.3,1.6 -2.3,1.6 -2.3,1.6 -2.3,-1.6 -2.3,-1.6 2.3,-1.6zM428.1,96.0l2.3,1.6 2.3,1.6 -2.3,1.6 -2.3,1.6 -2.3,-1.6 -2.3,-1.6 2.3,-1.6zM423.1,108.5l2.3,1.6 2.3,1.6 -2.3,1.6 -2.3,1.6 -2.3,-1.6 -2.3,-1.6 2.3,-1.6zM429.4,105.4l2.3,1.6 2.3,1.6 -2.3,1.6 -2.3,1.6 -2.3,-1.6 -2.3,-1.6 2.3,-1.6zM438.8,109.8l2.3,1.6 2.3,1.6 -2.3,1.6 -2.3,1.6 -2.3,-1.6 -2.3,-1.6 2.3,-1.6zM411.2,122.3l2.3,1.6 2.3,1.6 -2.3,1.6 -2.3,1.6 -2.3,-1.6 -2.3,-1.6 2.3,-1.6zM419.4,123.5l2.3,1.6 2.3,1.6 -2.3,1.6 -2.3,1.6 -2.3,-1.6 -2.3,-1.6 2.3,-1.6zM423.1,120.4l2.3,1.6 2.3,1.6 -2.3,1.6 -2.3,1.6 -2.3,-1.6 -2.3,-1.6 2.3,-1.6zM427.5,125.4l2.3,1.6 2.3,1.6 -2.3,1.6 -2.3,1.6 -2.3,-1.6 -2.3,-1.6 2.3,-1.6zM432.5,119.8l2.3,1.6 2.3,1.6 -2.3,1.6 -2.3,1.6 -2.3,-1.6 -2.3,-1.6 2.3,-1.6zM413.8,134.2l2.3,1.6 2.3,1.6 -2.3,1.6 -2.3,1.6 -2.3,-1.6 -2.3,-1.6 2.3,-1.6zM410.6,136.7l2.3,1.6 2.3,1.6 -2.3,1.6 -2.3,1.6 -2.3,-1.6 -2.3,-1.6 2.3,-1.6zM400.0,138.6l2.3,1.6 2.3,1.6 -2.3,1.6 -2.3,1.6 -2.3,-1.6 -2.3,-1.6 2.3,-1.6zM358.8,138.6l2.3,1.6 2.3,1.6 -2.3,1.6 -2.3,1.6 -2.3,-1.6 -2.3,-1.6 2.3,-1.6zM364.4,138.6l2.3,1.6 2.3,1.6 -2.3,1.6 -2.3,1.6 -2.3,-1.6 -2.3,-1.6 2.3,-1.6zM358.1,141.7l2.3,1.6 2.3,1.6 -2.3,1.6 -2.3,1.6 -2.3,-1.6 -2.3,-1.6 2.3,-1.6zM387.5,142.3l2.3,1.6 2.3,1.6 -2.3,1.6 -2.3,1.6 -2.3,-1.6 -2.3,-1.6 2.3,-1.6zM461.2,84.8l2.3,1.6 2.3,1.6 -2.3,1.6 -2.3,1.6 -2.3,-1.6 -2.3,-1.6 2.3,-1.6zM473.1,86.7l2.3,1.6 2.3,1.6 -2.3,1.6 -2.3,1.6 -2.3,-1.6 -2.3,-1.6 2.3,-1.6zM473.8,91.0l2.3,1.6 2.3,1.6 -2.3,1.6 -2.3,1.6 -2.3,-1.6 -2.3,-1.6 2.3,-1.6zM472.5,93.5l2.3,1.6 2.3,1.6 -2.3,1.6 -2.3,1.6 -2.3,-1.6 -2.3,-1.6 2.3,-1.6zM479.4,89.8l2.3,1.6 2.3,1.6 -2.3,1.6 -2.3,1.6 -2.3,-1.6 -2.3,-1.6 2.3,-1.6zM459.4,92.3l2.3,1.6 2.3,1.6 -2.3,1.6 -2.3,1.6 -2.3,-1.6 -2.3,-1.6 2.3,-1.6zM483.1,97.3l2.3,1.6 2.3,1.6 -2.3,1.6 -2.3,1.6 -2.3,-1.6 -2.3,-1.6 2.3,-1.6zM491.9,96.0l2.3,1.6 2.3,1.6 -2.3,1.6 -2.3,1.6 -2.3,-1.6 -2.3,-1.6 2.3,-1.6zM496.9,100.4l2.3,1.6 2.3,1.6 -2.3,1.6 -2.3,1.6 -2.3,-1.6 -2.3,-1.6 2.3,-1.6zM505.6,105.4l2.3,1.6 2.3,1.6 -2.3,1.6 -2.3,1.6 -2.3,-1.6 -2.3,-1.6 2.3,-1.6zM514.4,108.5l2.3,1.6 2.3,1.6 -2.3,1.6 -2.3,1.6 -2.3,-1.6 -2.3,-1.6 2.3,-1.6zM498.8,109.8l2.3,1.6 2.3,1.6 -2.3,1.6 -2.3,1.6 -2.3,-1.6 -2.3,-1.6 2.3,-1.6zM528.1,86.0l2.3,1.6 2.3,1.6 -2.3,1.6 -2.3,1.6 -2.3,-1.6 -2.3,-1.6 2.3,-1.6zM536.2,90.4l2.3,1.6 2.3,1.6 -2.3,1.6 -2.3,1.6 -2.3,-1.6 -2.3,-1.6 2.3,-1.6zM535.0,96.7l2.3,1.6 2.3,1.6 -2.3,1.6 -2.3,1.6 -2.3,-1.6 -2.3,-1.6 2.3,-1.6zM523.1,101.7l2.3,1.6 2.3,1.6 -2.3,1.6 -2.3,1.6 -2.3,-1.6 -2.3,-1.6 2.3,-1.6zM526.9,104.8l2.3,1.6 2.3,1.6 -2.3,1.6 -2.3,1.6 -2.3,-1.6 -2.3,-1.6 2.3,-1.6zM533.8,105.4l2.3,1.6 2.3,1.6 -2.3,1.6 -2.3,1.6 -2.3,-1.6 -2.3,-1.6 2.3,-1.6zM536.2,116.7l2.3,1.6 2.3,1.6 -2.3,1.6 -2.3,1.6 -2.3,-1.6 -2.3,-1.6 2.3,-1.6zM447.5,101.0l2.3,1.6 2.3,1.6 -2.3,1.6 -2.3,1.6 -2.3,-1.6 -2.3,-1.6 2.3,-1.6zM450.0,106.0l2.3,1.6 2.3,1.6 -2.3,1.6 -2.3,1.6 -2.3,-1.6 -2.3,-1.6 2.3,-1.6zM462.5,111.7l2.3,1.6 2.3,1.6 -2.3,1.6 -2.3,1.6 -2.3,-1.6 -2.3,-1.6 2.3,-1.6zM475.6,110.4l2.3,1.6 2.3,1.6 -2.3,1.6 -2.3,1.6 -2.3,-1.6 -2.3,-1.6 2.3,-1.6zM481.9,110.4l2.3,1.6 2.3,1.6 -2.3,1.6 -2.3,1.6 -2.3,-1.6 -2.3,-1.6 2.3,-1.6zM490.6,114.2l2.3,1.6 2.3,1.6 -2.3,1.6 -2.3,1.6 -2.3,-1.6 -2.3,-1.6 2.3,-1.6zM458.1,119.8l2.3,1.6 2.3,1.6 -2.3,1.6 -2.3,1.6 -2.3,-1.6 -2.3,-1.6 2.3,-1.6zM453.8,125.4l2.3,1.6 2.3,1.6 -2.3,1.6 -2.3,1.6 -2.3,-1.6 -2.3,-1.6 2.3,-1.6zM473.1,123.5l2.3,1.6 2.3,1.6 -2.3,1.6 -2.3,1.6 -2.3,-1.6 -2.3,-1.6 2.3,-1.6zM472.5,131.1l2.3,1.6 2.3,1.6 -2.3,1.6 -2.3,1.6 -2.3,-1.6 -2.3,-1.6 2.3,-1.6zM445.0,131.7l2.3,1.6 2.3,1.6 -2.3,1.6 -2.3,1.6 -2.3,-1.6 -2.3,-1.6 2.3,-1.6zM456.9,136.1l2.3,1.6 2.3,1.6 -2.3,1.6 -2.3,1.6 -2.3,-1.6 -2.3,-1.6 2.3,-1.6zM502.5,136.1l2.3,1.6 2.3,1.6 -2.3,1.6 -2.3,1.6 -2.3,-1.6 -2.3,-1.6 2.3,-1.6zM525.6,120.4l2.3,1.6 2.3,1.6 -2.3,1.6 -2.3,1.6 -2.3,-1.6 -2.3,-1.6 2.3,-1.6zM526.2,123.5l2.3,1.6 2.3,1.6 -2.3,1.6 -2.3,1.6 -2.3,-1.6 -2.3,-1.6 2.3,-1.6zM530.6,139.8l2.3,1.6 2.3,1.6 -2.3,1.6 -2.3,1.6 -2.3,-1.6 -2.3,-1.6 2.3,-1.6zM481.2,142.3l2.3,1.6 2.3,1.6 -2.3,1.6 -2.3,1.6 -2.3,-1.6 -2.3,-1.6 2.3,-1.6zM542.5,85.4l2.3,1.6 2.3,1.6 -2.3,1.6 -2.3,1.6 -2.3,-1.6 -2.3,-1.6 2.3,-1.6zM546.9,92.9l2.3,1.6 2.3,1.6 -2.3,1.6 -2.3,1.6 -2.3,-1.6 -2.3,-1.6 2.3,-1.6zM561.9,90.4l2.3,1.6 2.3,1.6 -2.3,1.6 -2.3,1.6 -2.3,-1.6 -2.3,-1.6 2.3,-1.6zM570.6,93.5l2.3,1.6 2.3,1.6 -2.3,1.6 -2.3,1.6 -2.3,-1.6 -2.3,-1.6 2.3,-1.6zM571.9,100.4l2.3,1.6 2.3,1.6 -2.3,1.6 -2.3,1.6 -2.3,-1.6 -2.3,-1.6 2.3,-1.6zM556.9,96.7l2.3,1.6 2.3,1.6 -2.3,1.6 -2.3,1.6 -2.3,-1.6 -2.3,-1.6 2.3,-1.6zM557.5,103.5l2.3,1.6 2.3,1.6 -2.3,1.6 -2.3,1.6 -2.3,-1.6 -2.3,-1.6 2.3,-1.6zM563.1,100.4l2.3,1.6 2.3,1.6 -2.3,1.6 -2.3,1.6 -2.3,-1.6 -2.3,-1.6 2.3,-1.6zM543.8,112.3l2.3,1.6 2.3,1.6 -2.3,1.6 -2.3,1.6 -2.3,-1.6 -2.3,-1.6 2.3,-1.6zM544.4,115.4l2.3,1.6 2.3,1.6 -2.3,1.6 -2.3,1.6 -2.3,-1.6 -2.3,-1.6 2.3,-1.6zM541.2,122.3l2.3,1.6 2.3,1.6 -2.3,1.6 -2.3,1.6 -2.3,-1.6 -2.3,-1.6 2.3,-1.6zM579.4,114.8l2.3,1.6 2.3,1.6 -2.3,1.6 -2.3,1.6 -2.3,-1.6 -2.3,-1.6 2.3,-1.6zM596.9,92.9l2.3,1.6 2.3,1.6 -2.3,1.6 -2.3,1.6 -2.3,-1.6 -2.3,-1.6 2.3,-1.6zM602.5,90.4l2.3,1.6 2.3,1.6 -2.3,1.6 -2.3,1.6 -2.3,-1.6 -2.3,-1.6 2.3,-1.6zM608.8,89.8l2.3,1.6 2.3,1.6 -2.3,1.6 -2.3,1.6 -2.3,-1.6 -2.3,-1.6 2.3,-1.6zM611.2,94.8l2.3,1.6 2.3,1.6 -2.3,1.6 -2.3,1.6 -2.3,-1.6 -2.3,-1.6 2.3,-1.6zM620.0,95.4l2.3,1.6 2.3,1.6 -2.3,1.6 -2.3,1.6 -2.3,-1.6 -2.3,-1.6 2.3,-1.6zM625.6,94.2l2.3,1.6 2.3,1.6 -2.3,1.6 -2.3,1.6 -2.3,-1.6 -2.3,-1.6 2.3,-1.6zM607.5,102.3l2.3,1.6 2.3,1.6 -2.3,1.6 -2.3,1.6 -2.3,-1.6 -2.3,-1.6 2.3,-1.6zM608.1,105.4l2.3,1.6 2.3,1.6 -2.3,1.6 -2.3,1.6 -2.3,-1.6 -2.3,-1.6 2.3,-1.6zM626.2,107.3l2.3,1.6 2.3,1.6 -2.3,1.6 -2.3,1.6 -2.3,-1.6 -2.3,-1.6 2.3,-1.6zM635.6,102.9l2.3,1.6 2.3,1.6 -2.3,1.6 -2.3,1.6 -2.3,-1.6 -2.3,-1.6 2.3,-1.6zM607.5,115.4l2.3,1.6 2.3,1.6 -2.3,1.6 -2.3,1.6 -2.3,-1.6 -2.3,-1.6 2.3,-1.6zM616.2,114.8l2.3,1.6 2.3,1.6 -2.3,1.6 -2.3,1.6 -2.3,-1.6 -2.3,-1.6 2.3,-1.6zM615.6,121.0l2.3,1.6 2.3,1.6 -2.3,1.6 -2.3,1.6 -2.3,-1.6 -2.3,-1.6 2.3,-1.6zM590.0,127.3l2.3,1.6 2.3,1.6 -2.3,1.6 -2.3,1.6 -2.3,-1.6 -2.3,-1.6 2.3,-1.6zM603.8,128.6l2.3,1.6 2.3,1.6 -2.3,1.6 -2.3,1.6 -2.3,-1.6 -2.3,-1.6 2.3,-1.6zM621.9,129.8l2.3,1.6 2.3,1.6 -2.3,1.6 -2.3,1.6 -2.3,-1.6 -2.3,-1.6 2.3,-1.6zM621.2,132.9l2.3,1.6 2.3,1.6 -2.3,1.6 -2.3,1.6 -2.3,-1.6 -2.3,-1.6 2.3,-1.6zM575.6,134.8l2.3,1.6 2.3,1.6 -2.3,1.6 -2.3,1.6 -2.3,-1.6 -2.3,-1.6 2.3,-1.6zM585.6,134.8l2.3,1.6 2.3,1.6 -2.3,1.6 -2.3,1.6 -2.3,-1.6 -2.3,-1.6 2.3,-1.6zM596.9,134.8l2.3,1.6 2.3,1.6 -2.3,1.6 -2.3,1.6 -2.3,-1.6 -2.3,-1.6 2.3,-1.6zM596.9,139.8l2.3,1.6 2.3,1.6 -2.3,1.6 -2.3,1.6 -2.3,-1.6 -2.3,-1.6 2.3,-1.6zM617.5,141.1l2.3,1.6 2.3,1.6 -2.3,1.6 -2.3,1.6 -2.3,-1.6 -2.3,-1.6 2.3,-1.6zM631.2,141.7l2.3,1.6 2.3,1.6 -2.3,1.6 -2.3,1.6 -2.3,-1.6 -2.3,-1.6 2.3,-1.6zM651.2,111.0l2.3,1.6 2.3,1.6 -2.3,1.6 -2.3,1.6 -2.3,-1.6 -2.3,-1.6 2.3,-1.6zM662.5,110.4l2.3,1.6 2.3,1.6 -2.3,1.6 -2.3,1.6 -2.3,-1.6 -2.3,-1.6 2.3,-1.6zM666.9,120.4l2.3,1.6 2.3,1.6 -2.3,1.6 -2.3,1.6 -2.3,-1.6 -2.3,-1.6 2.3,-1.6zM647.5,126.0l2.3,1.6 2.3,1.6 -2.3,1.6 -2.3,1.6 -2.3,-1.6 -2.3,-1.6 2.3,-1.6zM669.4,130.4l2.3,1.6 2.3,1.6 -2.3,1.6 -2.3,1.6 -2.3,-1.6 -2.3,-1.6 2.3,-1.6zM667.5,134.2l2.3,1.6 2.3,1.6 -2.3,1.6 -2.3,1.6 -2.3,-1.6 -2.3,-1.6 2.3,-1.6zM656.2,134.8l2.3,1.6 2.3,1.6 -2.3,1.6 -2.3,1.6 -2.3,-1.6 -2.3,-1.6 2.3,-1.6zM681.2,124.8l2.3,1.6 2.3,1.6 -2.3,1.6 -2.3,1.6 -2.3,-1.6 -2.3,-1.6 2.3,-1.6zM687.5,129.2l2.3,1.6 2.3,1.6 -2.3,1.6 -2.3,1.6 -2.3,-1.6 -2.3,-1.6 2.3,-1.6zM691.2,139.2l2.3,1.6 2.3,1.6 -2.3,1.6 -2.3,1.6 -2.3,-1.6 -2.3,-1.6 2.3,-1.6zM644.4,137.3l2.3,1.6 2.3,1.6 -2.3,1.6 -2.3,1.6 -2.3,-1.6 -2.3,-1.6 2.3,-1.6zM642.5,140.4l2.3,1.6 2.3,1.6 -2.3,1.6 -2.3,1.6 -2.3,-1.6 -2.3,-1.6 2.3,-1.6zM673.8,142.3l2.3,1.6 2.3,1.6 -2.3,1.6 -2.3,1.6 -2.3,-1.6 -2.3,-1.6 2.3,-1.6zM660.0,142.6l2.3,1.6 2.3,1.6 -2.3,1.6 -2.3,1.6 -2.3,-1.6 -2.3,-1.6 2.3,-1.6zM98.8,145.9l2.3,1.6 2.3,1.6 -2.3,1.6 -2.3,1.6 -2.3,-1.6 -2.3,-1.6 2.3,-1.6zM116.9,146.6l2.3,1.6 2.3,1.6 -2.3,1.6 -2.3,1.6 -2.3,-1.6 -2.3,-1.6 2.3,-1.6zM128.8,150.3l2.3,1.6 2.3,1.6 -2.3,1.6 -2.3,1.6 -2.3,-1.6 -2.3,-1.6 2.3,-1.6zM138.8,147.8l2.3,1.6 2.3,1.6 -2.3,1.6 -2.3,1.6 -2.3,-1.6 -2.3,-1.6 2.3,-1.6zM114.4,156.6l2.3,1.6 2.3,1.6 -2.3,1.6 -2.3,1.6 -2.3,-1.6 -2.3,-1.6 2.3,-1.6zM135.0,157.8l2.3,1.6 2.3,1.6 -2.3,1.6 -2.3,1.6 -2.3,-1.6 -2.3,-1.6 2.3,-1.6zM115.0,164.1l2.3,1.6 2.3,1.6 -2.3,1.6 -2.3,1.6 -2.3,-1.6 -2.3,-1.6 2.3,-1.6zM129.4,167.2l2.3,1.6 2.3,1.6 -2.3,1.6 -2.3,1.6 -2.3,-1.6 -2.3,-1.6 2.3,-1.6zM130.0,170.3l2.3,1.6 2.3,1.6 -2.3,1.6 -2.3,1.6 -2.3,-1.6 -2.3,-1.6 2.3,-1.6zM81.2,166.6l2.3,1.6 2.3,1.6 -2.3,1.6 -2.3,1.6 -2.3,-1.6 -2.3,-1.6 2.3,-1.6zM78.1,177.2l2.3,1.6 2.3,1.6 -2.3,1.6 -2.3,1.6 -2.3,-1.6 -2.3,-1.6 2.3,-1.6zM122.5,182.8l2.3,1.6 2.3,1.6 -2.3,1.6 -2.3,1.6 -2.3,-1.6 -2.3,-1.6 2.3,-1.6zM111.9,194.7l2.3,1.6 2.3,1.6 -2.3,1.6 -2.3,1.6 -2.3,-1.6 -2.3,-1.6 2.3,-1.6zM80.6,196.6l2.3,1.6 2.3,1.6 -2.3,1.6 -2.3,1.6 -2.3,-1.6 -2.3,-1.6 2.3,-1.6zM98.8,198.4l2.3,1.6 2.3,1.6 -2.3,1.6 -2.3,1.6 -2.3,-1.6 -2.3,-1.6 2.3,-1.6zM113.8,199.7l2.3,1.6 2.3,1.6 -2.3,1.6 -2.3,1.6 -2.3,-1.6 -2.3,-1.6 2.3,-1.6zM147.5,145.9l2.3,1.6 2.3,1.6 -2.3,1.6 -2.3,1.6 -2.3,-1.6 -2.3,-1.6 2.3,-1.6zM183.8,146.6l2.3,1.6 2.3,1.6 -2.3,1.6 -2.3,1.6 -2.3,-1.6 -2.3,-1.6 2.3,-1.6zM189.4,149.1l2.3,1.6 2.3,1.6 -2.3,1.6 -2.3,1.6 -2.3,-1.6 -2.3,-1.6 2.3,-1.6zM153.8,154.7l2.3,1.6 2.3,1.6 -2.3,1.6 -2.3,1.6 -2.3,-1.6 -2.3,-1.6 2.3,-1.6zM163.1,157.8l2.3,1.6 2.3,1.6 -2.3,1.6 -2.3,1.6 -2.3,-1.6 -2.3,-1.6 2.3,-1.6zM166.2,159.1l2.3,1.6 2.3,1.6 -2.3,1.6 -2.3,1.6 -2.3,-1.6 -2.3,-1.6 2.3,-1.6zM183.1,158.4l2.3,1.6 2.3,1.6 -2.3,1.6 -2.3,1.6 -2.3,-1.6 -2.3,-1.6 2.3,-1.6zM189.4,160.3l2.3,1.6 2.3,1.6 -2.3,1.6 -2.3,1.6 -2.3,-1.6 -2.3,-1.6 2.3,-1.6zM198.1,156.6l2.3,1.6 2.3,1.6 -2.3,1.6 -2.3,1.6 -2.3,-1.6 -2.3,-1.6 2.3,-1.6zM218.8,155.9l2.3,1.6 2.3,1.6 -2.3,1.6 -2.3,1.6 -2.3,-1.6 -2.3,-1.6 2.3,-1.6zM238.1,145.3l2.3,1.6 2.3,1.6 -2.3,1.6 -2.3,1.6 -2.3,-1.6 -2.3,-1.6 2.3,-1.6zM172.5,165.3l2.3,1.6 2.3,1.6 -2.3,1.6 -2.3,1.6 -2.3,-1.6 -2.3,-1.6 2.3,-1.6zM173.8,167.2l2.3,1.6 2.3,1.6 -2.3,1.6 -2.3,1.6 -2.3,-1.6 -2.3,-1.6 2.3,-1.6zM202.5,164.7l2.3,1.6 2.3,1.6 -2.3,1.6 -2.3,1.6 -2.3,-1.6 -2.3,-1.6 2.3,-1.6zM211.9,164.7l2.3,1.6 2.3,1.6 -2.3,1.6 -2.3,1.6 -2.3,-1.6 -2.3,-1.6 2.3,-1.6zM229.4,162.8l2.3,1.6 2.3,1.6 -2.3,1.6 -2.3,1.6 -2.3,-1.6 -2.3,-1.6 2.3,-1.6zM193.8,172.2l2.3,1.6 2.3,1.6 -2.3,1.6 -2.3,1.6 -2.3,-1.6 -2.3,-1.6 2.3,-1.6zM197.5,172.2l2.3,1.6 2.3,1.6 -2.3,1.6 -2.3,1.6 -2.3,-1.6 -2.3,-1.6 2.3,-1.6zM188.1,175.9l2.3,1.6 2.3,1.6 -2.3,1.6 -2.3,1.6 -2.3,-1.6 -2.3,-1.6 2.3,-1.6zM187.5,177.8l2.3,1.6 2.3,1.6 -2.3,1.6 -2.3,1.6 -2.3,-1.6 -2.3,-1.6 2.3,-1.6zM168.8,175.9l2.3,1.6 2.3,1.6 -2.3,1.6 -2.3,1.6 -2.3,-1.6 -2.3,-1.6 2.3,-1.6zM150.6,184.7l2.3,1.6 2.3,1.6 -2.3,1.6 -2.3,1.6 -2.3,-1.6 -2.3,-1.6 2.3,-1.6zM218.1,177.8l2.3,1.6 2.3,1.6 -2.3,1.6 -2.3,1.6 -2.3,-1.6 -2.3,-1.6 2.3,-1.6zM223.1,174.7l2.3,1.6 2.3,1.6 -2.3,1.6 -2.3,1.6 -2.3,-1.6 -2.3,-1.6 2.3,-1.6zM229.4,179.1l2.3,1.6 2.3,1.6 -2.3,1.6 -2.3,1.6 -2.3,-1.6 -2.3,-1.6 2.3,-1.6zM221.9,186.6l2.3,1.6 2.3,1.6 -2.3,1.6 -2.3,1.6 -2.3,-1.6 -2.3,-1.6 2.3,-1.6zM236.9,187.2l2.3,1.6 2.3,1.6 -2.3,1.6 -2.3,1.6 -2.3,-1.6 -2.3,-1.6 2.3,-1.6zM230.6,191.6l2.3,1.6 2.3,1.6 -2.3,1.6 -2.3,1.6 -2.3,-1.6 -2.3,-1.6 2.3,-1.6zM217.5,194.1l2.3,1.6 2.3,1.6 -2.3,1.6 -2.3,1.6 -2.3,-1.6 -2.3,-1.6 2.3,-1.6zM223.1,195.9l2.3,1.6 2.3,1.6 -2.3,1.6 -2.3,1.6 -2.3,-1.6 -2.3,-1.6 2.3,-1.6zM166.9,194.1l2.3,1.6 2.3,1.6 -2.3,1.6 -2.3,1.6 -2.3,-1.6 -2.3,-1.6 2.3,-1.6zM171.2,194.1l2.3,1.6 2.3,1.6 -2.3,1.6 -2.3,1.6 -2.3,-1.6 -2.3,-1.6 2.3,-1.6zM175.6,196.6l2.3,1.6 2.3,1.6 -2.3,1.6 -2.3,1.6 -2.3,-1.6 -2.3,-1.6 2.3,-1.6zM170.6,197.8l2.3,1.6 2.3,1.6 -2.3,1.6 -2.3,1.6 -2.3,-1.6 -2.3,-1.6 2.3,-1.6zM185.6,197.2l2.3,1.6 2.3,1.6 -2.3,1.6 -2.3,1.6 -2.3,-1.6 -2.3,-1.6 2.3,-1.6zM211.9,198.4l2.3,1.6 2.3,1.6 -2.3,1.6 -2.3,1.6 -2.3,-1.6 -2.3,-1.6 2.3,-1.6zM237.5,197.8l2.3,1.6 2.3,1.6 -2.3,1.6 -2.3,1.6 -2.3,-1.6 -2.3,-1.6 2.3,-1.6zM270.0,144.1l2.3,1.6 2.3,1.6 -2.3,1.6 -2.3,1.6 -2.3,-1.6 -2.3,-1.6 2.3,-1.6zM291.2,151.6l2.3,1.6 2.3,1.6 -2.3,1.6 -2.3,1.6 -2.3,-1.6 -2.3,-1.6 2.3,-1.6zM308.1,155.9l2.3,1.6 2.3,1.6 -2.3,1.6 -2.3,1.6 -2.3,-1.6 -2.3,-1.6 2.3,-1.6zM244.4,163.4l2.3,1.6 2.3,1.6 -2.3,1.6 -2.3,1.6 -2.3,-1.6 -2.3,-1.6 2.3,-1.6zM278.8,165.9l2.3,1.6 2.3,1.6 -2.3,1.6 -2.3,1.6 -2.3,-1.6 -2.3,-1.6 2.3,-1.6zM325.6,167.2l2.3,1.6 2.3,1.6 -2.3,1.6 -2.3,1.6 -2.3,-1.6 -2.3,-1.6 2.3,-1.6zM338.8,162.8l2.3,1.6 2.3,1.6 -2.3,1.6 -2.3,1.6 -2.3,-1.6 -2.3,-1.6 2.3,-1.6zM296.9,175.9l2.3,1.6 2.3,1.6 -2.3,1.6 -2.3,1.6 -2.3,-1.6 -2.3,-1.6 2.3,-1.6zM305.0,174.7l2.3,1.6 2.3,1.6 -2.3,1.6 -2.3,1.6 -2.3,-1.6 -2.3,-1.6 2.3,-1.6zM256.2,179.7l2.3,1.6 2.3,1.6 -2.3,1.6 -2.3,1.6 -2.3,-1.6 -2.3,-1.6 2.3,-1.6zM272.5,178.4l2.3,1.6 2.3,1.6 -2.3,1.6 -2.3,1.6 -2.3,-1.6 -2.3,-1.6 2.3,-1.6zM274.4,182.2l2.3,1.6 2.3,1.6 -2.3,1.6 -2.3,1.6 -2.3,-1.6 -2.3,-1.6 2.3,-1.6zM280.0,179.1l2.3,1.6 2.3,1.6 -2.3,1.6 -2.3,1.6 -2.3,-1.6 -2.3,-1.6 2.3,-1.6zM287.5,180.9l2.3,1.6 2.3,1.6 -2.3,1.6 -2.3,1.6 -2.3,-1.6 -2.3,-1.6 2.3,-1.6zM301.9,183.4l2.3,1.6 2.3,1.6 -2.3,1.6 -2.3,1.6 -2.3,-1.6 -2.3,-1.6 2.3,-1.6zM305.6,181.6l2.3,1.6 2.3,1.6 -2.3,1.6 -2.3,1.6 -2.3,-1.6 -2.3,-1.6 2.3,-1.6zM305.6,187.8l2.3,1.6 2.3,1.6 -2.3,1.6 -2.3,1.6 -2.3,-1.6 -2.3,-1.6 2.3,-1.6zM325.6,177.8l2.3,1.6 2.3,1.6 -2.3,1.6 -2.3,1.6 -2.3,-1.6 -2.3,-1.6 2.3,-1.6zM336.9,179.7l2.3,1.6 2.3,1.6 -2.3,1.6 -2.3,1.6 -2.3,-1.6 -2.3,-1.6 2.3,-1.6zM242.5,189.1l2.3,1.6 2.3,1.6 -2.3,1.6 -2.3,1.6 -2.3,-1.6 -2.3,-1.6 2.3,-1.6zM247.5,187.2l2.3,1.6 2.3,1.6 -2.3,1.6 -2.3,1.6 -2.3,-1.6 -2.3,-1.6 2.3,-1.6zM261.9,192.8l2.3,1.6 2.3,1.6 -2.3,1.6 -2.3,1.6 -2.3,-1.6 -2.3,-1.6 2.3,-1.6zM268.1,196.6l2.3,1.6 2.3,1.6 -2.3,1.6 -2.3,1.6 -2.3,-1.6 -2.3,-1.6 2.3,-1.6zM295.6,189.7l2.3,1.6 2.3,1.6 -2.3,1.6 -2.3,1.6 -2.3,-1.6 -2.3,-1.6 2.3,-1.6zM305.6,195.3l2.3,1.6 2.3,1.6 -2.3,1.6 -2.3,1.6 -2.3,-1.6 -2.3,-1.6 2.3,-1.6zM277.5,200.3l2.3,1.6 2.3,1.6 -2.3,1.6 -2.3,1.6 -2.3,-1.6 -2.3,-1.6 2.3,-1.6zM332.5,199.7l2.3,1.6 2.3,1.6 -2.3,1.6 -2.3,1.6 -2.3,-1.6 -2.3,-1.6 2.3,-1.6zM345.0,147.2l2.3,1.6 2.3,1.6 -2.3,1.6 -2.3,1.6 -2.3,-1.6 -2.3,-1.6 2.3,-1.6zM368.8,147.2l2.3,1.6 2.3,1.6 -2.3,1.6 -2.3,1.6 -2.3,-1.6 -2.3,-1.6 2.3,-1.6zM372.5,150.9l2.3,1.6 2.3,1.6 -2.3,1.6 -2.3,1.6 -2.3,-1.6 -2.3,-1.6 2.3,-1.6zM373.1,153.4l2.3,1.6 2.3,1.6 -2.3,1.6 -2.3,1.6 -2.3,-1.6 -2.3,-1.6 2.3,-1.6zM396.9,150.3l2.3,1.6 2.3,1.6 -2.3,1.6 -2.3,1.6 -2.3,-1.6 -2.3,-1.6 2.3,-1.6zM392.5,156.6l2.3,1.6 2.3,1.6 -2.3,1.6 -2.3,1.6 -2.3,-1.6 -2.3,-1.6 2.3,-1.6zM407.5,152.2l2.3,1.6 2.3,1.6 -2.3,1.6 -2.3,1.6 -2.3,-1.6 -2.3,-1.6 2.3,-1.6zM425.0,155.3l2.3,1.6 2.3,1.6 -2.3,1.6 -2.3,1.6 -2.3,-1.6 -2.3,-1.6 2.3,-1.6zM438.1,146.6l2.3,1.6 2.3,1.6 -2.3,1.6 -2.3,1.6 -2.3,-1.6 -2.3,-1.6 2.3,-1.6zM355.6,162.8l2.3,1.6 2.3,1.6 -2.3,1.6 -2.3,1.6 -2.3,-1.6 -2.3,-1.6 2.3,-1.6zM341.9,165.9l2.3,1.6 2.3,1.6 -2.3,1.6 -2.3,1.6 -2.3,-1.6 -2.3,-1.6 2.3,-1.6zM396.2,165.9l2.3,1.6 2.3,1.6 -2.3,1.6 -2.3,1.6 -2.3,-1.6 -2.3,-1.6 2.3,-1.6zM408.1,164.7l2.3,1.6 2.3,1.6 -2.3,1.6 -2.3,1.6 -2.3,-1.6 -2.3,-1.6 2.3,-1.6zM414.4,161.6l2.3,1.6 2.3,1.6 -2.3,1.6 -2.3,1.6 -2.3,-1.6 -2.3,-1.6 2.3,-1.6zM416.2,164.7l2.3,1.6 2.3,1.6 -2.3,1.6 -2.3,1.6 -2.3,-1.6 -2.3,-1.6 2.3,-1.6zM421.2,167.2l2.3,1.6 2.3,1.6 -2.3,1.6 -2.3,1.6 -2.3,-1.6 -2.3,-1.6 2.3,-1.6zM433.8,164.7l2.3,1.6 2.3,1.6 -2.3,1.6 -2.3,1.6 -2.3,-1.6 -2.3,-1.6 2.3,-1.6zM436.9,168.4l2.3,1.6 2.3,1.6 -2.3,1.6 -2.3,1.6 -2.3,-1.6 -2.3,-1.6 2.3,-1.6zM397.5,179.1l2.3,1.6 2.3,1.6 -2.3,1.6 -2.3,1.6 -2.3,-1.6 -2.3,-1.6 2.3,-1.6zM413.1,175.9l2.3,1.6 2.3,1.6 -2.3,1.6 -2.3,1.6 -2.3,-1.6 -2.3,-1.6 2.3,-1.6zM415.0,182.8l2.3,1.6 2.3,1.6 -2.3,1.6 -2.3,1.6 -2.3,-1.6 -2.3,-1.6 2.3,-1.6zM380.6,182.8l2.3,1.6 2.3,1.6 -2.3,1.6 -2.3,1.6 -2.3,-1.6 -2.3,-1.6 2.3,-1.6zM383.1,191.6l2.3,1.6 2.3,1.6 -2.3,1.6 -2.3,1.6 -2.3,-1.6 -2.3,-1.6 2.3,-1.6zM400.0,190.9l2.3,1.6 2.3,1.6 -2.3,1.6 -2.3,1.6 -2.3,-1.6 -2.3,-1.6 2.3,-1.6zM419.4,187.8l2.3,1.6 2.3,1.6 -2.3,1.6 -2.3,1.6 -2.3,-1.6 -2.3,-1.6 2.3,-1.6zM415.0,192.8l2.3,1.6 2.3,1.6 -2.3,1.6 -2.3,1.6 -2.3,-1.6 -2.3,-1.6 2.3,-1.6zM436.9,180.3l2.3,1.6 2.3,1.6 -2.3,1.6 -2.3,1.6 -2.3,-1.6 -2.3,-1.6 2.3,-1.6zM438.8,187.2l2.3,1.6 2.3,1.6 -2.3,1.6 -2.3,1.6 -2.3,-1.6 -2.3,-1.6 2.3,-1.6zM373.8,195.3l2.3,1.6 2.3,1.6 -2.3,1.6 -2.3,1.6 -2.3,-1.6 -2.3,-1.6 2.3,-1.6zM370.0,199.1l2.3,1.6 2.3,1.6 -2.3,1.6 -2.3,1.6 -2.3,-1.6 -2.3,-1.6 2.3,-1.6zM341.9,196.6l2.3,1.6 2.3,1.6 -2.3,1.6 -2.3,1.6 -2.3,-1.6 -2.3,-1.6 2.3,-1.6zM432.5,198.4l2.3,1.6 2.3,1.6 -2.3,1.6 -2.3,1.6 -2.3,-1.6 -2.3,-1.6 2.3,-1.6zM512.5,143.4l2.3,1.6 2.3,1.6 -2.3,1.6 -2.3,1.6 -2.3,-1.6 -2.3,-1.6 2.3,-1.6zM453.1,152.8l2.3,1.6 2.3,1.6 -2.3,1.6 -2.3,1.6 -2.3,-1.6 -2.3,-1.6 2.3,-1.6zM454.4,154.7l2.3,1.6 2.3,1.6 -2.3,1.6 -2.3,1.6 -2.3,-1.6 -2.3,-1.6 2.3,-1.6zM448.1,159.7l2.3,1.6 2.3,1.6 -2.3,1.6 -2.3,1.6 -2.3,-1.6 -2.3,-1.6 2.3,-1.6zM441.2,162.8l2.3,1.6 2.3,1.6 -2.3,1.6 -2.3,1.6 -2.3,-1.6 -2.3,-1.6 2.3,-1.6zM472.5,158.4l2.3,1.6 2.3,1.6 -2.3,1.6 -2.3,1.6 -2.3,-1.6 -2.3,-1.6 2.3,-1.6zM482.5,159.7l2.3,1.6 2.3,1.6 -2.3,1.6 -2.3,1.6 -2.3,-1.6 -2.3,-1.6 2.3,-1.6zM485.6,161.6l2.3,1.6 2.3,1.6 -2.3,1.6 -2.3,1.6 -2.3,-1.6 -2.3,-1.6 2.3,-1.6zM490.6,165.9l2.3,1.6 2.3,1.6 -2.3,1.6 -2.3,1.6 -2.3,-1.6 -2.3,-1.6 2.3,-1.6zM503.1,157.8l2.3,1.6 2.3,1.6 -2.3,1.6 -2.3,1.6 -2.3,-1.6 -2.3,-1.6 2.3,-1.6zM508.8,162.2l2.3,1.6 2.3,1.6 -2.3,1.6 -2.3,1.6 -2.3,-1.6 -2.3,-1.6 2.3,-1.6zM512.5,161.6l2.3,1.6 2.3,1.6 -2.3,1.6 -2.3,1.6 -2.3,-1.6 -2.3,-1.6 2.3,-1.6zM516.2,165.9l2.3,1.6 2.3,1.6 -2.3,1.6 -2.3,1.6 -2.3,-1.6 -2.3,-1.6 2.3,-1.6zM515.6,168.4l2.3,1.6 2.3,1.6 -2.3,1.6 -2.3,1.6 -2.3,-1.6 -2.3,-1.6 2.3,-1.6zM518.1,154.7l2.3,1.6 2.3,1.6 -2.3,1.6 -2.3,1.6 -2.3,-1.6 -2.3,-1.6 2.3,-1.6zM520.6,160.9l2.3,1.6 2.3,1.6 -2.3,1.6 -2.3,1.6 -2.3,-1.6 -2.3,-1.6 2.3,-1.6zM531.2,148.4l2.3,1.6 2.3,1.6 -2.3,1.6 -2.3,1.6 -2.3,-1.6 -2.3,-1.6 2.3,-1.6zM530.6,152.8l2.3,1.6 2.3,1.6 -2.3,1.6 -2.3,1.6 -2.3,-1.6 -2.3,-1.6 2.3,-1.6zM531.9,155.3l2.3,1.6 2.3,1.6 -2.3,1.6 -2.3,1.6 -2.3,-1.6 -2.3,-1.6 2.3,-1.6zM529.4,162.2l2.3,1.6 2.3,1.6 -2.3,1.6 -2.3,1.6 -2.3,-1.6 -2.3,-1.6 2.3,-1.6zM470.6,174.1l2.3,1.6 2.3,1.6 -2.3,1.6 -2.3,1.6 -2.3,-1.6 -2.3,-1.6 2.3,-1.6zM480.0,172.2l2.3,1.6 2.3,1.6 -2.3,1.6 -2.3,1.6 -2.3,-1.6 -2.3,-1.6 2.3,-1.6zM460.6,176.6l2.3,1.6 2.3,1.6 -2.3,1.6 -2.3,1.6 -2.3,-1.6 -2.3,-1.6 2.3,-1.6zM518.1,175.9l2.3,1.6 2.3,1.6 -2.3,1.6 -2.3,1.6 -2.3,-1.6 -2.3,-1.6 2.3,-1.6zM521.9,180.9l2.3,1.6 2.3,1.6 -2.3,1.6 -2.3,1.6 -2.3,-1.6 -2.3,-1.6 2.3,-1.6zM510.6,180.3l2.3,1.6 2.3,1.6 -2.3,1.6 -2.3,1.6 -2.3,-1.6 -2.3,-1.6 2.3,-1.6zM445.6,192.8l2.3,1.6 2.3,1.6 -2.3,1.6 -2.3,1.6 -2.3,-1.6 -2.3,-1.6 2.3,-1.6zM465.6,191.6l2.3,1.6 2.3,1.6 -2.3,1.6 -2.3,1.6 -2.3,-1.6 -2.3,-1.6 2.3,-1.6zM479.4,195.3l2.3,1.6 2.3,1.6 -2.3,1.6 -2.3,1.6 -2.3,-1.6 -2.3,-1.6 2.3,-1.6zM496.2,197.2l2.3,1.6 2.3,1.6 -2.3,1.6 -2.3,1.6 -2.3,-1.6 -2.3,-1.6 2.3,-1.6zM501.2,191.6l2.3,1.6 2.3,1.6 -2.3,1.6 -2.3,1.6 -2.3,-1.6 -2.3,-1.6 2.3,-1.6zM538.8,197.8l2.3,1.6 2.3,1.6 -2.3,1.6 -2.3,1.6 -2.3,-1.6 -2.3,-1.6 2.3,-1.6zM595.0,144.1l2.3,1.6 2.3,1.6 -2.3,1.6 -2.3,1.6 -2.3,-1.6 -2.3,-1.6 2.3,-1.6zM545.6,152.2l2.3,1.6 2.3,1.6 -2.3,1.6 -2.3,1.6 -2.3,-1.6 -2.3,-1.6 2.3,-1.6zM566.2,150.9l2.3,1.6 2.3,1.6 -2.3,1.6 -2.3,1.6 -2.3,-1.6 -2.3,-1.6 2.3,-1.6zM563.8,156.6l2.3,1.6 2.3,1.6 -2.3,1.6 -2.3,1.6 -2.3,-1.6 -2.3,-1.6 2.3,-1.6zM555.0,160.3l2.3,1.6 2.3,1.6 -2.3,1.6 -2.3,1.6 -2.3,-1.6 -2.3,-1.6 2.3,-1.6zM584.4,149.1l2.3,1.6 2.3,1.6 -2.3,1.6 -2.3,1.6 -2.3,-1.6 -2.3,-1.6 2.3,-1.6zM615.6,150.3l2.3,1.6 2.3,1.6 -2.3,1.6 -2.3,1.6 -2.3,-1.6 -2.3,-1.6 2.3,-1.6zM620.6,155.3l2.3,1.6 2.3,1.6 -2.3,1.6 -2.3,1.6 -2.3,-1.6 -2.3,-1.6 2.3,-1.6zM636.9,154.7l2.3,1.6 2.3,1.6 -2.3,1.6 -2.3,1.6 -2.3,-1.6 -2.3,-1.6 2.3,-1.6zM637.5,158.4l2.3,1.6 2.3,1.6 -2.3,1.6 -2.3,1.6 -2.3,-1.6 -2.3,-1.6 2.3,-1.6zM636.2,164.7l2.3,1.6 2.3,1.6 -2.3,1.6 -2.3,1.6 -2.3,-1.6 -2.3,-1.6 2.3,-1.6zM627.5,161.6l2.3,1.6 2.3,1.6 -2.3,1.6 -2.3,1.6 -2.3,-1.6 -2.3,-1.6 2.3,-1.6zM609.4,163.4l2.3,1.6 2.3,1.6 -2.3,1.6 -2.3,1.6 -2.3,-1.6 -2.3,-1.6 2.3,-1.6zM598.1,169.7l2.3,1.6 2.3,1.6 -2.3,1.6 -2.3,1.6 -2.3,-1.6 -2.3,-1.6 2.3,-1.6zM545.6,169.7l2.3,1.6 2.3,1.6 -2.3,1.6 -2.3,1.6 -2.3,-1.6 -2.3,-1.6 2.3,-1.6zM607.5,177.2l2.3,1.6 2.3,1.6 -2.3,1.6 -2.3,1.6 -2.3,-1.6 -2.3,-1.6 2.3,-1.6zM623.1,174.7l2.3,1.6 2.3,1.6 -2.3,1.6 -2.3,1.6 -2.3,-1.6 -2.3,-1.6 2.3,-1.6zM628.8,175.9l2.3,1.6 2.3,1.6 -2.3,1.6 -2.3,1.6 -2.3,-1.6 -2.3,-1.6 2.3,-1.6zM631.2,169.7l2.3,1.6 2.3,1.6 -2.3,1.6 -2.3,1.6 -2.3,-1.6 -2.3,-1.6 2.3,-1.6zM632.5,174.7l2.3,1.6 2.3,1.6 -2.3,1.6 -2.3,1.6 -2.3,-1.6 -2.3,-1.6 2.3,-1.6zM554.4,182.8l2.3,1.6 2.3,1.6 -2.3,1.6 -2.3,1.6 -2.3,-1.6 -2.3,-1.6 2.3,-1.6zM579.4,184.7l2.3,1.6 2.3,1.6 -2.3,1.6 -2.3,1.6 -2.3,-1.6 -2.3,-1.6 2.3,-1.6zM590.0,186.6l2.3,1.6 2.3,1.6 -2.3,1.6 -2.3,1.6 -2.3,-1.6 -2.3,-1.6 2.3,-1.6zM597.5,181.6l2.3,1.6 2.3,1.6 -2.3,1.6 -2.3,1.6 -2.3,-1.6 -2.3,-1.6 2.3,-1.6zM563.1,190.3l2.3,1.6 2.3,1.6 -2.3,1.6 -2.3,1.6 -2.3,-1.6 -2.3,-1.6 2.3,-1.6zM566.9,192.2l2.3,1.6 2.3,1.6 -2.3,1.6 -2.3,1.6 -2.3,-1.6 -2.3,-1.6 2.3,-1.6zM570.0,192.8l2.3,1.6 2.3,1.6 -2.3,1.6 -2.3,1.6 -2.3,-1.6 -2.3,-1.6 2.3,-1.6zM564.4,195.9l2.3,1.6 2.3,1.6 -2.3,1.6 -2.3,1.6 -2.3,-1.6 -2.3,-1.6 2.3,-1.6zM577.5,196.6l2.3,1.6 2.3,1.6 -2.3,1.6 -2.3,1.6 -2.3,-1.6 -2.3,-1.6 2.3,-1.6zM606.9,196.6l2.3,1.6 2.3,1.6 -2.3,1.6 -2.3,1.6 -2.3,-1.6 -2.3,-1.6 2.3,-1.6zM623.1,190.3l2.3,1.6 2.3,1.6 -2.3,1.6 -2.3,1.6 -2.3,-1.6 -2.3,-1.6 2.3,-1.6zM627.5,197.2l2.3,1.6 2.3,1.6 -2.3,1.6 -2.3,1.6 -2.3,-1.6 -2.3,-1.6 2.3,-1.6zM636.2,197.2l2.3,1.6 2.3,1.6 -2.3,1.6 -2.3,1.6 -2.3,-1.6 -2.3,-1.6 2.3,-1.6zM552.5,199.7l2.3,1.6 2.3,1.6 -2.3,1.6 -2.3,1.6 -2.3,-1.6 -2.3,-1.6 2.3,-1.6zM653.8,146.6l2.3,1.6 2.3,1.6 -2.3,1.6 -2.3,1.6 -2.3,-1.6 -2.3,-1.6 2.3,-1.6zM671.2,149.1l2.3,1.6 2.3,1.6 -2.3,1.6 -2.3,1.6 -2.3,-1.6 -2.3,-1.6 2.3,-1.6zM647.5,152.2l2.3,1.6 2.3,1.6 -2.3,1.6 -2.3,1.6 -2.3,-1.6 -2.3,-1.6 2.3,-1.6zM641.2,154.7l2.3,1.6 2.3,1.6 -2.3,1.6 -2.3,1.6 -2.3,-1.6 -2.3,-1.6 2.3,-1.6zM666.9,157.2l2.3,1.6 2.3,1.6 -2.3,1.6 -2.3,1.6 -2.3,-1.6 -2.3,-1.6 2.3,-1.6zM676.2,155.3l2.3,1.6 2.3,1.6 -2.3,1.6 -2.3,1.6 -2.3,-1.6 -2.3,-1.6 2.3,-1.6zM652.5,163.4l2.3,1.6 2.3,1.6 -2.3,1.6 -2.3,1.6 -2.3,-1.6 -2.3,-1.6 2.3,-1.6zM640.6,165.3l2.3,1.6 2.3,1.6 -2.3,1.6 -2.3,1.6 -2.3,-1.6 -2.3,-1.6 2.3,-1.6zM718.1,161.6l2.3,1.6 2.3,1.6 -2.3,1.6 -2.3,1.6 -2.3,-1.6 -2.3,-1.6 2.3,-1.6zM669.4,169.1l2.3,1.6 2.3,1.6 -2.3,1.6 -2.3,1.6 -2.3,-1.6 -2.3,-1.6 2.3,-1.6zM666.9,172.2l2.3,1.6 2.3,1.6 -2.3,1.6 -2.3,1.6 -2.3,-1.6 -2.3,-1.6 2.3,-1.6zM684.4,167.2l2.3,1.6 2.3,1.6 -2.3,1.6 -2.3,1.6 -2.3,-1.6 -2.3,-1.6 2.3,-1.6zM686.2,173.4l2.3,1.6 2.3,1.6 -2.3,1.6 -2.3,1.6 -2.3,-1.6 -2.3,-1.6 2.3,-1.6zM650.0,176.6l2.3,1.6 2.3,1.6 -2.3,1.6 -2.3,1.6 -2.3,-1.6 -2.3,-1.6 2.3,-1.6zM701.2,180.9l2.3,1.6 2.3,1.6 -2.3,1.6 -2.3,1.6 -2.3,-1.6 -2.3,-1.6 2.3,-1.6zM721.2,180.3l2.3,1.6 2.3,1.6 -2.3,1.6 -2.3,1.6 -2.3,-1.6 -2.3,-1.6 2.3,-1.6zM726.2,184.1l2.3,1.6 2.3,1.6 -2.3,1.6 -2.3,1.6 -2.3,-1.6 -2.3,-1.6 2.3,-1.6zM655.0,186.6l2.3,1.6 2.3,1.6 -2.3,1.6 -2.3,1.6 -2.3,-1.6 -2.3,-1.6 2.3,-1.6zM661.9,191.6l2.3,1.6 2.3,1.6 -2.3,1.6 -2.3,1.6 -2.3,-1.6 -2.3,-1.6 2.3,-1.6zM672.5,189.7l2.3,1.6 2.3,1.6 -2.3,1.6 -2.3,1.6 -2.3,-1.6 -2.3,-1.6 2.3,-1.6zM680.6,192.8l2.3,1.6 2.3,1.6 -2.3,1.6 -2.3,1.6 -2.3,-1.6 -2.3,-1.6 2.3,-1.6zM687.5,194.7l2.3,1.6 2.3,1.6 -2.3,1.6 -2.3,1.6 -2.3,-1.6 -2.3,-1.6 2.3,-1.6zM669.4,196.6l2.3,1.6 2.3,1.6 -2.3,1.6 -2.3,1.6 -2.3,-1.6 -2.3,-1.6 2.3,-1.6zM651.2,197.8l2.3,1.6 2.3,1.6 -2.3,1.6 -2.3,1.6 -2.3,-1.6 -2.3,-1.6 2.3,-1.6zM656.2,198.4l2.3,1.6 2.3,1.6 -2.3,1.6 -2.3,1.6 -2.3,-1.6 -2.3,-1.6 2.3,-1.6zM663.8,198.4l2.3,1.6 2.3,1.6 -2.3,1.6 -2.3,1.6 -2.3,-1.6 -2.3,-1.6 2.3,-1.6zM681.2,199.7l2.3,1.6 2.3,1.6 -2.3,1.6 -2.3,1.6 -2.3,-1.6 -2.3,-1.6 2.3,-1.6zM728.8,199.7l2.3,1.6 2.3,1.6 -2.3,1.6 -2.3,1.6 -2.3,-1.6 -2.3,-1.6 2.3,-1.6zM103.8,201.4l2.3,1.6 2.3,1.6 -2.3,1.6 -2.3,1.6 -2.3,-1.6 -2.3,-1.6 2.3,-1.6zM96.9,212.7l2.3,1.6 2.3,1.6 -2.3,1.6 -2.3,1.6 -2.3,-1.6 -2.3,-1.6 2.3,-1.6zM105.0,212.7l2.3,1.6 2.3,1.6 -2.3,1.6 -2.3,1.6 -2.3,-1.6 -2.3,-1.6 2.3,-1.6zM52.5,215.8l2.3,1.6 2.3,1.6 -2.3,1.6 -2.3,1.6 -2.3,-1.6 -2.3,-1.6 2.3,-1.6zM57.5,215.8l2.3,1.6 2.3,1.6 -2.3,1.6 -2.3,1.6 -2.3,-1.6 -2.3,-1.6 2.3,-1.6zM107.5,218.9l2.3,1.6 2.3,1.6 -2.3,1.6 -2.3,1.6 -2.3,-1.6 -2.3,-1.6 2.3,-1.6zM115.0,217.7l2.3,1.6 2.3,1.6 -2.3,1.6 -2.3,1.6 -2.3,-1.6 -2.3,-1.6 2.3,-1.6zM116.2,219.6l2.3,1.6 2.3,1.6 -2.3,1.6 -2.3,1.6 -2.3,-1.6 -2.3,-1.6 2.3,-1.6zM127.5,214.6l2.3,1.6 2.3,1.6 -2.3,1.6 -2.3,1.6 -2.3,-1.6 -2.3,-1.6 2.3,-1.6zM138.8,214.6l2.3,1.6 2.3,1.6 -2.3,1.6 -2.3,1.6 -2.3,-1.6 -2.3,-1.6 2.3,-1.6zM122.5,220.2l2.3,1.6 2.3,1.6 -2.3,1.6 -2.3,1.6 -2.3,-1.6 -2.3,-1.6 2.3,-1.6zM58.8,221.4l2.3,1.6 2.3,1.6 -2.3,1.6 -2.3,1.6 -2.3,-1.6 -2.3,-1.6 2.3,-1.6zM68.1,221.4l2.3,1.6 2.3,1.6 -2.3,1.6 -2.3,1.6 -2.3,-1.6 -2.3,-1.6 2.3,-1.6zM77.5,221.4l2.3,1.6 2.3,1.6 -2.3,1.6 -2.3,1.6 -2.3,-1.6 -2.3,-1.6 2.3,-1.6zM76.9,224.6l2.3,1.6 2.3,1.6 -2.3,1.6 -2.3,1.6 -2.3,-1.6 -2.3,-1.6 2.3,-1.6zM103.8,222.7l2.3,1.6 2.3,1.6 -2.3,1.6 -2.3,1.6 -2.3,-1.6 -2.3,-1.6 2.3,-1.6zM111.9,223.9l2.3,1.6 2.3,1.6 -2.3,1.6 -2.3,1.6 -2.3,-1.6 -2.3,-1.6 2.3,-1.6zM131.2,223.3l2.3,1.6 2.3,1.6 -2.3,1.6 -2.3,1.6 -2.3,-1.6 -2.3,-1.6 2.3,-1.6zM47.5,243.3l2.3,1.6 2.3,1.6 -2.3,1.6 -2.3,1.6 -2.3,-1.6 -2.3,-1.6 2.3,-1.6zM48.8,248.3l2.3,1.6 2.3,1.6 -2.3,1.6 -2.3,1.6 -2.3,-1.6 -2.3,-1.6 2.3,-1.6zM47.5,252.1l2.3,1.6 2.3,1.6 -2.3,1.6 -2.3,1.6 -2.3,-1.6 -2.3,-1.6 2.3,-1.6zM47.5,254.6l2.3,1.6 2.3,1.6 -2.3,1.6 -2.3,1.6 -2.3,-1.6 -2.3,-1.6 2.3,-1.6zM181.2,205.2l2.3,1.6 2.3,1.6 -2.3,1.6 -2.3,1.6 -2.3,-1.6 -2.3,-1.6 2.3,-1.6zM201.9,203.3l2.3,1.6 2.3,1.6 -2.3,1.6 -2.3,1.6 -2.3,-1.6 -2.3,-1.6 2.3,-1.6zM211.9,204.6l2.3,1.6 2.3,1.6 -2.3,1.6 -2.3,1.6 -2.3,-1.6 -2.3,-1.6 2.3,-1.6zM170.0,212.7l2.3,1.6 2.3,1.6 -2.3,1.6 -2.3,1.6 -2.3,-1.6 -2.3,-1.6 2.3,-1.6zM212.5,212.7l2.3,1.6 2.3,1.6 -2.3,1.6 -2.3,1.6 -2.3,-1.6 -2.3,-1.6 2.3,-1.6zM202.5,216.4l2.3,1.6 2.3,1.6 -2.3,1.6 -2.3,1.6 -2.3,-1.6 -2.3,-1.6 2.3,-1.6zM207.5,217.7l2.3,1.6 2.3,1.6 -2.3,1.6 -2.3,1.6 -2.3,-1.6 -2.3,-1.6 2.3,-1.6zM211.9,218.9l2.3,1.6 2.3,1.6 -2.3,1.6 -2.3,1.6 -2.3,-1.6 -2.3,-1.6 2.3,-1.6zM238.8,218.3l2.3,1.6 2.3,1.6 -2.3,1.6 -2.3,1.6 -2.3,-1.6 -2.3,-1.6 2.3,-1.6zM145.0,221.4l2.3,1.6 2.3,1.6 -2.3,1.6 -2.3,1.6 -2.3,-1.6 -2.3,-1.6 2.3,-1.6zM155.0,222.7l2.3,1.6 2.3,1.6 -2.3,1.6 -2.3,1.6 -2.3,-1.6 -2.3,-1.6 2.3,-1.6zM161.2,222.7l2.3,1.6 2.3,1.6 -2.3,1.6 -2.3,1.6 -2.3,-1.6 -2.3,-1.6 2.3,-1.6zM170.0,221.4l2.3,1.6 2.3,1.6 -2.3,1.6 -2.3,1.6 -2.3,-1.6 -2.3,-1.6 2.3,-1.6zM188.1,223.3l2.3,1.6 2.3,1.6 -2.3,1.6 -2.3,1.6 -2.3,-1.6 -2.3,-1.6 2.3,-1.6zM219.4,220.8l2.3,1.6 2.3,1.6 -2.3,1.6 -2.3,1.6 -2.3,-1.6 -2.3,-1.6 2.3,-1.6zM275.6,206.4l2.3,1.6 2.3,1.6 -2.3,1.6 -2.3,1.6 -2.3,-1.6 -2.3,-1.6 2.3,-1.6zM275.0,209.6l2.3,1.6 2.3,1.6 -2.3,1.6 -2.3,1.6 -2.3,-1.6 -2.3,-1.6 2.3,-1.6zM301.2,203.3l2.3,1.6 2.3,1.6 -2.3,1.6 -2.3,1.6 -2.3,-1.6 -2.3,-1.6 2.3,-1.6zM302.5,208.3l2.3,1.6 2.3,1.6 -2.3,1.6 -2.3,1.6 -2.3,-1.6 -2.3,-1.6 2.3,-1.6zM315.0,206.4l2.3,1.6 2.3,1.6 -2.3,1.6 -2.3,1.6 -2.3,-1.6 -2.3,-1.6 2.3,-1.6zM327.5,205.8l2.3,1.6 2.3,1.6 -2.3,1.6 -2.3,1.6 -2.3,-1.6 -2.3,-1.6 2.3,-1.6zM331.2,203.3l2.3,1.6 2.3,1.6 -2.3,1.6 -2.3,1.6 -2.3,-1.6 -2.3,-1.6 2.3,-1.6zM332.5,208.3l2.3,1.6 2.3,1.6 -2.3,1.6 -2.3,1.6 -2.3,-1.6 -2.3,-1.6 2.3,-1.6zM335.0,206.4l2.3,1.6 2.3,1.6 -2.3,1.6 -2.3,1.6 -2.3,-1.6 -2.3,-1.6 2.3,-1.6zM325.6,210.8l2.3,1.6 2.3,1.6 -2.3,1.6 -2.3,1.6 -2.3,-1.6 -2.3,-1.6 2.3,-1.6zM330.6,213.3l2.3,1.6 2.3,1.6 -2.3,1.6 -2.3,1.6 -2.3,-1.6 -2.3,-1.6 2.3,-1.6zM251.9,212.7l2.3,1.6 2.3,1.6 -2.3,1.6 -2.3,1.6 -2.3,-1.6 -2.3,-1.6 2.3,-1.6zM242.5,215.8l2.3,1.6 2.3,1.6 -2.3,1.6 -2.3,1.6 -2.3,-1.6 -2.3,-1.6 2.3,-1.6zM246.9,218.9l2.3,1.6 2.3,1.6 -2.3,1.6 -2.3,1.6 -2.3,-1.6 -2.3,-1.6 2.3,-1.6zM263.1,217.1l2.3,1.6 2.3,1.6 -2.3,1.6 -2.3,1.6 -2.3,-1.6 -2.3,-1.6 2.3,-1.6zM268.8,215.2l2.3,1.6 2.3,1.6 -2.3,1.6 -2.3,1.6 -2.3,-1.6 -2.3,-1.6 2.3,-1.6zM270.6,223.9l2.3,1.6 2.3,1.6 -2.3,1.6 -2.3,1.6 -2.3,-1.6 -2.3,-1.6 2.3,-1.6zM296.9,213.9l2.3,1.6 2.3,1.6 -2.3,1.6 -2.3,1.6 -2.3,-1.6 -2.3,-1.6 2.3,-1.6zM350.0,202.7l2.3,1.6 2.3,1.6 -2.3,1.6 -2.3,1.6 -2.3,-1.6 -2.3,-1.6 2.3,-1.6zM348.1,209.6l2.3,1.6 2.3,1.6 -2.3,1.6 -2.3,1.6 -2.3,-1.6 -2.3,-1.6 2.3,-1.6zM357.5,208.9l2.3,1.6 2.3,1.6 -2.3,1.6 -2.3,1.6 -2.3,-1.6 -2.3,-1.6 2.3,-1.6zM345.0,213.9l2.3,1.6 2.3,1.6 -2.3,1.6 -2.3,1.6 -2.3,-1.6 -2.3,-1.6 2.3,-1.6zM380.0,215.8l2.3,1.6 2.3,1.6 -2.3,1.6 -2.3,1.6 -2.3,-1.6 -2.3,-1.6 2.3,-1.6zM387.5,215.8l2.3,1.6 2.3,1.6 -2.3,1.6 -2.3,1.6 -2.3,-1.6 -2.3,-1.6 2.3,-1.6zM346.2,220.2l2.3,1.6 2.3,1.6 -2.3,1.6 -2.3,1.6 -2.3,-1.6 -2.3,-1.6 2.3,-1.6zM342.5,223.9l2.3,1.6 2.3,1.6 -2.3,1.6 -2.3,1.6 -2.3,-1.6 -2.3,-1.6 2.3,-1.6zM358.1,222.7l2.3,1.6 2.3,1.6 -2.3,1.6 -2.3,1.6 -2.3,-1.6 -2.3,-1.6 2.3,-1.6zM388.1,223.3l2.3,1.6 2.3,1.6 -2.3,1.6 -2.3,1.6 -2.3,-1.6 -2.3,-1.6 2.3,-1.6zM398.8,222.1l2.3,1.6 2.3,1.6 -2.3,1.6 -2.3,1.6 -2.3,-1.6 -2.3,-1.6 2.3,-1.6zM408.1,214.6l2.3,1.6 2.3,1.6 -2.3,1.6 -2.3,1.6 -2.3,-1.6 -2.3,-1.6 2.3,-1.6zM407.5,217.1l2.3,1.6 2.3,1.6 -2.3,1.6 -2.3,1.6 -2.3,-1.6 -2.3,-1.6 2.3,-1.6zM413.1,210.2l2.3,1.6 2.3,1.6 -2.3,1.6 -2.3,1.6 -2.3,-1.6 -2.3,-1.6 2.3,-1.6zM425.6,207.1l2.3,1.6 2.3,1.6 -2.3,1.6 -2.3,1.6 -2.3,-1.6 -2.3,-1.6 2.3,-1.6zM438.8,207.7l2.3,1.6 2.3,1.6 -2.3,1.6 -2.3,1.6 -2.3,-1.6 -2.3,-1.6 2.3,-1.6zM418.8,218.3l2.3,1.6 2.3,1.6 -2.3,1.6 -2.3,1.6 -2.3,-1.6 -2.3,-1.6 2.3,-1.6zM420.0,221.4l2.3,1.6 2.3,1.6 -2.3,1.6 -2.3,1.6 -2.3,-1.6 -2.3,-1.6 2.3,-1.6zM431.2,218.3l2.3,1.6 2.3,1.6 -2.3,1.6 -2.3,1.6 -2.3,-1.6 -2.3,-1.6 2.3,-1.6zM426.2,223.3l2.3,1.6 2.3,1.6 -2.3,1.6 -2.3,1.6 -2.3,-1.6 -2.3,-1.6 2.3,-1.6zM451.9,204.6l2.3,1.6 2.3,1.6 -2.3,1.6 -2.3,1.6 -2.3,-1.6 -2.3,-1.6 2.3,-1.6zM464.4,203.3l2.3,1.6 2.3,1.6 -2.3,1.6 -2.3,1.6 -2.3,-1.6 -2.3,-1.6 2.3,-1.6zM472.5,207.7l2.3,1.6 2.3,1.6 -2.3,1.6 -2.3,1.6 -2.3,-1.6 -2.3,-1.6 2.3,-1.6zM451.9,217.7l2.3,1.6 2.3,1.6 -2.3,1.6 -2.3,1.6 -2.3,-1.6 -2.3,-1.6 2.3,-1.6zM478.1,217.1l2.3,1.6 2.3,1.6 -2.3,1.6 -2.3,1.6 -2.3,-1.6 -2.3,-1.6 2.3,-1.6zM493.8,220.8l2.3,1.6 2.3,1.6 -2.3,1.6 -2.3,1.6 -2.3,-1.6 -2.3,-1.6 2.3,-1.6zM508.1,214.6l2.3,1.6 2.3,1.6 -2.3,1.6 -2.3,1.6 -2.3,-1.6 -2.3,-1.6 2.3,-1.6zM523.8,202.7l2.3,1.6 2.3,1.6 -2.3,1.6 -2.3,1.6 -2.3,-1.6 -2.3,-1.6 2.3,-1.6zM531.2,205.2l2.3,1.6 2.3,1.6 -2.3,1.6 -2.3,1.6 -2.3,-1.6 -2.3,-1.6 2.3,-1.6zM536.2,206.4l2.3,1.6 2.3,1.6 -2.3,1.6 -2.3,1.6 -2.3,-1.6 -2.3,-1.6 2.3,-1.6zM525.6,210.2l2.3,1.6 2.3,1.6 -2.3,1.6 -2.3,1.6 -2.3,-1.6 -2.3,-1.6 2.3,-1.6zM531.2,211.4l2.3,1.6 2.3,1.6 -2.3,1.6 -2.3,1.6 -2.3,-1.6 -2.3,-1.6 2.3,-1.6zM504.4,223.3l2.3,1.6 2.3,1.6 -2.3,1.6 -2.3,1.6 -2.3,-1.6 -2.3,-1.6 2.3,-1.6zM508.1,222.7l2.3,1.6 2.3,1.6 -2.3,1.6 -2.3,1.6 -2.3,-1.6 -2.3,-1.6 2.3,-1.6zM531.2,223.9l2.3,1.6 2.3,1.6 -2.3,1.6 -2.3,1.6 -2.3,-1.6 -2.3,-1.6 2.3,-1.6zM538.8,222.7l2.3,1.6 2.3,1.6 -2.3,1.6 -2.3,1.6 -2.3,-1.6 -2.3,-1.6 2.3,-1.6zM565.6,203.3l2.3,1.6 2.3,1.6 -2.3,1.6 -2.3,1.6 -2.3,-1.6 -2.3,-1.6 2.3,-1.6zM565.0,206.4l2.3,1.6 2.3,1.6 -2.3,1.6 -2.3,1.6 -2.3,-1.6 -2.3,-1.6 2.3,-1.6zM597.5,201.4l2.3,1.6 2.3,1.6 -2.3,1.6 -2.3,1.6 -2.3,-1.6 -2.3,-1.6 2.3,-1.6zM605.0,202.1l2.3,1.6 2.3,1.6 -2.3,1.6 -2.3,1.6 -2.3,-1.6 -2.3,-1.6 2.3,-1.6zM621.2,205.2l2.3,1.6 2.3,1.6 -2.3,1.6 -2.3,1.6 -2.3,-1.6 -2.3,-1.6 2.3,-1.6zM628.1,208.9l2.3,1.6 2.3,1.6 -2.3,1.6 -2.3,1.6 -2.3,-1.6 -2.3,-1.6 2.3,-1.6zM622.5,213.3l2.3,1.6 2.3,1.6 -2.3,1.6 -2.3,1.6 -2.3,-1.6 -2.3,-1.6 2.3,-1.6zM625.6,214.6l2.3,1.6 2.3,1.6 -2.3,1.6 -2.3,1.6 -2.3,-1.6 -2.3,-1.6 2.3,-1.6zM638.1,211.4l2.3,1.6 2.3,1.6 -2.3,1.6 -2.3,1.6 -2.3,-1.6 -2.3,-1.6 2.3,-1.6zM637.5,217.1l2.3,1.6 2.3,1.6 -2.3,1.6 -2.3,1.6 -2.3,-1.6 -2.3,-1.6 2.3,-1.6zM560.0,215.2l2.3,1.6 2.3,1.6 -2.3,1.6 -2.3,1.6 -2.3,-1.6 -2.3,-1.6 2.3,-1.6zM573.1,215.2l2.3,1.6 2.3,1.6 -2.3,1.6 -2.3,1.6 -2.3,-1.6 -2.3,-1.6 2.3,-1.6zM577.5,213.3l2.3,1.6 2.3,1.6 -2.3,1.6 -2.3,1.6 -2.3,-1.6 -2.3,-1.6 2.3,-1.6zM583.1,213.3l2.3,1.6 2.3,1.6 -2.3,1.6 -2.3,1.6 -2.3,-1.6 -2.3,-1.6 2.3,-1.6zM589.4,222.7l2.3,1.6 2.3,1.6 -2.3,1.6 -2.3,1.6 -2.3,-1.6 -2.3,-1.6 2.3,-1.6zM598.8,224.6l2.3,1.6 2.3,1.6 -2.3,1.6 -2.3,1.6 -2.3,-1.6 -2.3,-1.6 2.3,-1.6zM608.8,220.8l2.3,1.6 2.3,1.6 -2.3,1.6 -2.3,1.6 -2.3,-1.6 -2.3,-1.6 2.3,-1.6zM663.1,202.7l2.3,1.6 2.3,1.6 -2.3,1.6 -2.3,1.6 -2.3,-1.6 -2.3,-1.6 2.3,-1.6zM716.9,203.3l2.3,1.6 2.3,1.6 -2.3,1.6 -2.3,1.6 -2.3,-1.6 -2.3,-1.6 2.3,-1.6zM710.0,207.1l2.3,1.6 2.3,1.6 -2.3,1.6 -2.3,1.6 -2.3,-1.6 -2.3,-1.6 2.3,-1.6zM643.8,208.3l2.3,1.6 2.3,1.6 -2.3,1.6 -2.3,1.6 -2.3,-1.6 -2.3,-1.6 2.3,-1.6zM645.0,212.1l2.3,1.6 2.3,1.6 -2.3,1.6 -2.3,1.6 -2.3,-1.6 -2.3,-1.6 2.3,-1.6zM653.1,211.4l2.3,1.6 2.3,1.6 -2.3,1.6 -2.3,1.6 -2.3,-1.6 -2.3,-1.6 2.3,-1.6zM705.0,213.9l2.3,1.6 2.3,1.6 -2.3,1.6 -2.3,1.6 -2.3,-1.6 -2.3,-1.6 2.3,-1.6zM708.8,212.7l2.3,1.6 2.3,1.6 -2.3,1.6 -2.3,1.6 -2.3,-1.6 -2.3,-1.6 2.3,-1.6zM715.0,213.9l2.3,1.6 2.3,1.6 -2.3,1.6 -2.3,1.6 -2.3,-1.6 -2.3,-1.6 2.3,-1.6zM695.0,215.8l2.3,1.6 2.3,1.6 -2.3,1.6 -2.3,1.6 -2.3,-1.6 -2.3,-1.6 2.3,-1.6zM722.5,216.4l2.3,1.6 2.3,1.6 -2.3,1.6 -2.3,1.6 -2.3,-1.6 -2.3,-1.6 2.3,-1.6zM660.6,216.4l2.3,1.6 2.3,1.6 -2.3,1.6 -2.3,1.6 -2.3,-1.6 -2.3,-1.6 2.3,-1.6zM672.5,216.4l2.3,1.6 2.3,1.6 -2.3,1.6 -2.3,1.6 -2.3,-1.6 -2.3,-1.6 2.3,-1.6zM656.9,220.8l2.3,1.6 2.3,1.6 -2.3,1.6 -2.3,1.6 -2.3,-1.6 -2.3,-1.6 2.3,-1.6zM669.4,223.3l2.3,1.6 2.3,1.6 -2.3,1.6 -2.3,1.6 -2.3,-1.6 -2.3,-1.6 2.3,-1.6zM683.1,223.9l2.3,1.6 2.3,1.6 -2.3,1.6 -2.3,1.6 -2.3,-1.6 -2.3,-1.6 2.3,-1.6zM693.1,223.9l2.3,1.6 2.3,1.6 -2.3,1.6 -2.3,1.6 -2.3,-1.6 -2.3,-1.6 2.3,-1.6zM700.0,220.8l2.3,1.6 2.3,1.6 -2.3,1.6 -2.3,1.6 -2.3,-1.6 -2.3,-1.6 2.3,-1.6zM705.0,223.3l2.3,1.6 2.3,1.6 -2.3,1.6 -2.3,1.6 -2.3,-1.6 -2.3,-1.6 2.3,-1.6zM735.0,220.8l2.3,1.6 2.3,1.6 -2.3,1.6 -2.3,1.6 -2.3,-1.6 -2.3,-1.6 2.3,-1.6zM58.6,227.4l2.3,1.6 2.3,1.6 -2.3,1.6 -2.3,1.6 -2.3,-1.6 -2.3,-1.6 2.3,-1.6zM50.7,235.3l2.3,1.6 2.3,1.6 -2.3,1.6 -2.3,1.6 -2.3,-1.6 -2.3,-1.6 2.3,-1.6zM57.2,234.0l2.3,1.6 2.3,1.6 -2.3,1.6 -2.3,1.6 -2.3,-1.6 -2.3,-1.6 2.3,-1.6zM59.9,233.7l2.3,1.6 2.3,1.6 -2.3,1.6 -2.3,1.6 -2.3,-1.6 -2.3,-1.6 2.3,-1.6zM64.5,233.4l2.3,1.6 2.3,1.6 -2.3,1.6 -2.3,1.6 -2.3,-1.6 -2.3,-1.6 2.3,-1.6zM65.8,236.7l2.3,1.6 2.3,1.6 -2.3,1.6 -2.3,1.6 -2.3,-1.6 -2.3,-1.6 2.3,-1.6zM66.5,239.3l2.3,1.6 2.3,1.6 -2.3,1.6 -2.3,1.6 -2.3,-1.6 -2.3,-1.6 2.3,-1.6zM62.9,242.6l2.3,1.6 2.3,1.6 -2.3,1.6 -2.3,1.6 -2.3,-1.6 -2.3,-1.6 2.3,-1.6zM53.0,241.9l2.3,1.6 2.3,1.6 -2.3,1.6 -2.3,1.6 -2.3,-1.6 -2.3,-1.6 2.3,-1.6zM78.3,235.7l2.3,1.6 2.3,1.6 -2.3,1.6 -2.3,1.6 -2.3,-1.6 -2.3,-1.6 2.3,-1.6zM81.6,237.7l2.3,1.6 2.3,1.6 -2.3,1.6 -2.3,1.6 -2.3,-1.6 -2.3,-1.6 2.3,-1.6zM83.6,238.6l2.3,1.6 2.3,1.6 -2.3,1.6 -2.3,1.6 -2.3,-1.6 -2.3,-1.6 2.3,-1.6zM90.8,233.4l2.3,1.6 2.3,1.6 -2.3,1.6 -2.3,1.6 -2.3,-1.6 -2.3,-1.6 2.3,-1.6zM92.8,235.3l2.3,1.6 2.3,1.6 -2.3,1.6 -2.3,1.6 -2.3,-1.6 -2.3,-1.6 2.3,-1.6zM95.5,236.0l2.3,1.6 2.3,1.6 -2.3,1.6 -2.3,1.6 -2.3,-1.6 -2.3,-1.6 2.3,-1.6zM92.2,238.6l2.3,1.6 2.3,1.6 -2.3,1.6 -2.3,1.6 -2.3,-1.6 -2.3,-1.6 2.3,-1.6zM78.3,243.9l2.3,1.6 2.3,1.6 -2.3,1.6 -2.3,1.6 -2.3,-1.6 -2.3,-1.6 2.3,-1.6zM84.3,244.6l2.3,1.6 2.3,1.6 -2.3,1.6 -2.3,1.6 -2.3,-1.6 -2.3,-1.6 2.3,-1.6zM86.9,246.5l2.3,1.6 2.3,1.6 -2.3,1.6 -2.3,1.6 -2.3,-1.6 -2.3,-1.6 2.3,-1.6zM90.8,243.9l2.3,1.6 2.3,1.6 -2.3,1.6 -2.3,1.6 -2.3,-1.6 -2.3,-1.6 2.3,-1.6zM96.1,241.9l2.3,1.6 2.3,1.6 -2.3,1.6 -2.3,1.6 -2.3,-1.6 -2.3,-1.6 2.3,-1.6zM98.8,239.3l2.3,1.6 2.3,1.6 -2.3,1.6 -2.3,1.6 -2.3,-1.6 -2.3,-1.6 2.3,-1.6zM98.8,244.6l2.3,1.6 2.3,1.6 -2.3,1.6 -2.3,1.6 -2.3,-1.6 -2.3,-1.6 2.3,-1.6zM96.1,247.9l2.3,1.6 2.3,1.6 -2.3,1.6 -2.3,1.6 -2.3,-1.6 -2.3,-1.6 2.3,-1.6zM92.2,248.5l2.3,1.6 2.3,1.6 -2.3,1.6 -2.3,1.6 -2.3,-1.6 -2.3,-1.6 2.3,-1.6zM89.5,251.2l2.3,1.6 2.3,1.6 -2.3,1.6 -2.3,1.6 -2.3,-1.6 -2.3,-1.6 2.3,-1.6zM93.5,251.8l2.3,1.6 2.3,1.6 -2.3,1.6 -2.3,1.6 -2.3,-1.6 -2.3,-1.6 2.3,-1.6zM97.4,251.2l2.3,1.6 2.3,1.6 -2.3,1.6 -2.3,1.6 -2.3,-1.6 -2.3,-1.6 2.3,-1.6zM54.0,248.5l2.3,1.6 2.3,1.6 -2.3,1.6 -2.3,1.6 -2.3,-1.6 -2.3,-1.6 2.3,-1.6zM57.9,247.2l2.3,1.6 2.3,1.6 -2.3,1.6 -2.3,1.6 -2.3,-1.6 -2.3,-1.6 2.3,-1.6zM60.5,249.2l2.3,1.6 2.3,1.6 -2.3,1.6 -2.3,1.6 -2.3,-1.6 -2.3,-1.6 2.3,-1.6zM63.2,251.2l2.3,1.6 2.3,1.6 -2.3,1.6 -2.3,1.6 -2.3,-1.6 -2.3,-1.6 2.3,-1.6zM65.2,246.5l2.3,1.6 2.3,1.6 -2.3,1.6 -2.3,1.6 -2.3,-1.6 -2.3,-1.6 2.3,-1.6zM73.7,247.9l2.3,1.6 2.3,1.6 -2.3,1.6 -2.3,1.6 -2.3,-1.6 -2.3,-1.6 2.3,-1.6zM75.7,250.5l2.3,1.6 2.3,1.6 -2.3,1.6 -2.3,1.6 -2.3,-1.6 -2.3,-1.6 2.3,-1.6zM78.3,251.2l2.3,1.6 2.3,1.6 -2.3,1.6 -2.3,1.6 -2.3,-1.6 -2.3,-1.6 2.3,-1.6zM81.6,249.8l2.3,1.6 2.3,1.6 -2.3,1.6 -2.3,1.6 -2.3,-1.6 -2.3,-1.6 2.3,-1.6zM84.3,249.2l2.3,1.6 2.3,1.6 -2.3,1.6 -2.3,1.6 -2.3,-1.6 -2.3,-1.6 2.3,-1.6zM76.3,253.1l2.3,1.6 2.3,1.6 -2.3,1.6 -2.3,1.6 -2.3,-1.6 -2.3,-1.6 2.3,-1.6zM80.3,253.1l2.3,1.6 2.3,1.6 -2.3,1.6 -2.3,1.6 -2.3,-1.6 -2.3,-1.6 2.3,-1.6zM85.6,252.5l2.3,1.6 2.3,1.6 -2.3,1.6 -2.3,1.6 -2.3,-1.6 -2.3,-1.6 2.3,-1.6zM56.6,252.5l2.3,1.6 2.3,1.6 -2.3,1.6 -2.3,1.6 -2.3,-1.6 -2.3,-1.6 2.3,-1.6zM60.5,252.8l2.3,1.6 2.3,1.6 -2.3,1.6 -2.3,1.6 -2.3,-1.6 -2.3,-1.6 2.3,-1.6zM63.8,253.1l2.3,1.6 2.3,1.6 -2.3,1.6 -2.3,1.6 -2.3,-1.6 -2.3,-1.6 2.3,-1.6zM98.8,235.3l2.3,1.6 2.3,1.6 -2.3,1.6 -2.3,1.6 -2.3,-1.6 -2.3,-1.6 2.3,-1.6zM121.7,227.4l2.3,1.6 2.3,1.6 -2.3,1.6 -2.3,1.6 -2.3,-1.6 -2.3,-1.6 2.3,-1.6zM134.3,227.4l2.3,1.6 2.3,1.6 -2.3,1.6 -2.3,1.6 -2.3,-1.6 -2.3,-1.6 2.3,-1.6zM104.6,230.1l2.3,1.6 2.3,1.6 -2.3,1.6 -2.3,1.6 -2.3,-1.6 -2.3,-1.6 2.3,-1.6zM107.2,231.4l2.3,1.6 2.3,1.6 -2.3,1.6 -2.3,1.6 -2.3,-1.6 -2.3,-1.6 2.3,-1.6zM114.8,231.4l2.3,1.6 2.3,1.6 -2.3,1.6 -2.3,1.6 -2.3,-1.6 -2.3,-1.6 2.3,-1.6zM115.8,234.7l2.3,1.6 2.3,1.6 -2.3,1.6 -2.3,1.6 -2.3,-1.6 -2.3,-1.6 2.3,-1.6zM125.0,233.4l2.3,1.6 2.3,1.6 -2.3,1.6 -2.3,1.6 -2.3,-1.6 -2.3,-1.6 2.3,-1.6zM138.9,231.1l2.3,1.6 2.3,1.6 -2.3,1.6 -2.3,1.6 -2.3,-1.6 -2.3,-1.6 2.3,-1.6zM104.6,235.3l2.3,1.6 2.3,1.6 -2.3,1.6 -2.3,1.6 -2.3,-1.6 -2.3,-1.6 2.3,-1.6zM122.4,238.6l2.3,1.6 2.3,1.6 -2.3,1.6 -2.3,1.6 -2.3,-1.6 -2.3,-1.6 2.3,-1.6zM147.4,238.0l2.3,1.6 2.3,1.6 -2.3,1.6 -2.3,1.6 -2.3,-1.6 -2.3,-1.6 2.3,-1.6zM103.3,241.3l2.3,1.6 2.3,1.6 -2.3,1.6 -2.3,1.6 -2.3,-1.6 -2.3,-1.6 2.3,-1.6zM106.6,241.9l2.3,1.6 2.3,1.6 -2.3,1.6 -2.3,1.6 -2.3,-1.6 -2.3,-1.6 2.3,-1.6zM109.2,243.9l2.3,1.6 2.3,1.6 -2.3,1.6 -2.3,1.6 -2.3,-1.6 -2.3,-1.6 2.3,-1.6zM132.9,243.2l2.3,1.6 2.3,1.6 -2.3,1.6 -2.3,1.6 -2.3,-1.6 -2.3,-1.6 2.3,-1.6zM134.3,245.9l2.3,1.6 2.3,1.6 -2.3,1.6 -2.3,1.6 -2.3,-1.6 -2.3,-1.6 2.3,-1.6zM124.4,246.5l2.3,1.6 2.3,1.6 -2.3,1.6 -2.3,1.6 -2.3,-1.6 -2.3,-1.6 2.3,-1.6zM123.7,249.2l2.3,1.6 2.3,1.6 -2.3,1.6 -2.3,1.6 -2.3,-1.6 -2.3,-1.6 2.3,-1.6zM113.2,247.9l2.3,1.6 2.3,1.6 -2.3,1.6 -2.3,1.6 -2.3,-1.6 -2.3,-1.6 2.3,-1.6zM117.8,248.2l2.3,1.6 2.3,1.6 -2.3,1.6 -2.3,1.6 -2.3,-1.6 -2.3,-1.6 2.3,-1.6zM104.6,247.2l2.3,1.6 2.3,1.6 -2.3,1.6 -2.3,1.6 -2.3,-1.6 -2.3,-1.6 2.3,-1.6zM102.0,249.8l2.3,1.6 2.3,1.6 -2.3,1.6 -2.3,1.6 -2.3,-1.6 -2.3,-1.6 2.3,-1.6zM105.9,250.5l2.3,1.6 2.3,1.6 -2.3,1.6 -2.3,1.6 -2.3,-1.6 -2.3,-1.6 2.3,-1.6zM108.6,248.5l2.3,1.6 2.3,1.6 -2.3,1.6 -2.3,1.6 -2.3,-1.6 -2.3,-1.6 2.3,-1.6zM131.6,251.8l2.3,1.6 2.3,1.6 -2.3,1.6 -2.3,1.6 -2.3,-1.6 -2.3,-1.6 2.3,-1.6zM140.8,251.2l2.3,1.6 2.3,1.6 -2.3,1.6 -2.3,1.6 -2.3,-1.6 -2.3,-1.6 2.3,-1.6zM143.5,249.8l2.3,1.6 2.3,1.6 -2.3,1.6 -2.3,1.6 -2.3,-1.6 -2.3,-1.6 2.3,-1.6zM146.1,251.2l2.3,1.6 2.3,1.6 -2.3,1.6 -2.3,1.6 -2.3,-1.6 -2.3,-1.6 2.3,-1.6zM148.8,248.5l2.3,1.6 2.3,1.6 -2.3,1.6 -2.3,1.6 -2.3,-1.6 -2.3,-1.6 2.3,-1.6zM138.2,253.1l2.3,1.6 2.3,1.6 -2.3,1.6 -2.3,1.6 -2.3,-1.6 -2.3,-1.6 2.3,-1.6zM102.0,253.1l2.3,1.6 2.3,1.6 -2.3,1.6 -2.3,1.6 -2.3,-1.6 -2.3,-1.6 2.3,-1.6zM142.2,252.5l2.3,1.6 2.3,1.6 -2.3,1.6 -2.3,1.6 -2.3,-1.6 -2.3,-1.6 2.3,-1.6zM155.3,227.4l2.3,1.6 2.3,1.6 -2.3,1.6 -2.3,1.6 -2.3,-1.6 -2.3,-1.6 2.3,-1.6zM177.0,226.1l2.3,1.6 2.3,1.6 -2.3,1.6 -2.3,1.6 -2.3,-1.6 -2.3,-1.6 2.3,-1.6zM190.8,228.8l2.3,1.6 2.3,1.6 -2.3,1.6 -2.3,1.6 -2.3,-1.6 -2.3,-1.6 2.3,-1.6zM191.5,230.1l2.3,1.6 2.3,1.6 -2.3,1.6 -2.3,1.6 -2.3,-1.6 -2.3,-1.6 2.3,-1.6zM172.4,234.4l2.3,1.6 2.3,1.6 -2.3,1.6 -2.3,1.6 -2.3,-1.6 -2.3,-1.6 2.3,-1.6zM151.3,240.0l2.3,1.6 2.3,1.6 -2.3,1.6 -2.3,1.6 -2.3,-1.6 -2.3,-1.6 2.3,-1.6zM181.0,243.2l2.3,1.6 2.3,1.6 -2.3,1.6 -2.3,1.6 -2.3,-1.6 -2.3,-1.6 2.3,-1.6zM182.3,244.6l2.3,1.6 2.3,1.6 -2.3,1.6 -2.3,1.6 -2.3,-1.6 -2.3,-1.6 2.3,-1.6zM161.9,247.2l2.3,1.6 2.3,1.6 -2.3,1.6 -2.3,1.6 -2.3,-1.6 -2.3,-1.6 2.3,-1.6zM177.0,246.5l2.3,1.6 2.3,1.6 -2.3,1.6 -2.3,1.6 -2.3,-1.6 -2.3,-1.6 2.3,-1.6zM176.3,247.9l2.3,1.6 2.3,1.6 -2.3,1.6 -2.3,1.6 -2.3,-1.6 -2.3,-1.6 2.3,-1.6zM189.5,248.5l2.3,1.6 2.3,1.6 -2.3,1.6 -2.3,1.6 -2.3,-1.6 -2.3,-1.6 2.3,-1.6zM190.8,249.8l2.3,1.6 2.3,1.6 -2.3,1.6 -2.3,1.6 -2.3,-1.6 -2.3,-1.6 2.3,-1.6zM199.4,249.2l2.3,1.6 2.3,1.6 -2.3,1.6 -2.3,1.6 -2.3,-1.6 -2.3,-1.6 2.3,-1.6zM162.5,251.8l2.3,1.6 2.3,1.6 -2.3,1.6 -2.3,1.6 -2.3,-1.6 -2.3,-1.6 2.3,-1.6zM163.2,253.5l2.3,1.6 2.3,1.6 -2.3,1.6 -2.3,1.6 -2.3,-1.6 -2.3,-1.6 2.3,-1.6zM171.7,251.8l2.3,1.6 2.3,1.6 -2.3,1.6 -2.3,1.6 -2.3,-1.6 -2.3,-1.6 2.3,-1.6zM173.1,253.5l2.3,1.6 2.3,1.6 -2.3,1.6 -2.3,1.6 -2.3,-1.6 -2.3,-1.6 2.3,-1.6zM181.0,251.8l2.3,1.6 2.3,1.6 -2.3,1.6 -2.3,1.6 -2.3,-1.6 -2.3,-1.6 2.3,-1.6zM184.3,253.1l2.3,1.6 2.3,1.6 -2.3,1.6 -2.3,1.6 -2.3,-1.6 -2.3,-1.6 2.3,-1.6zM186.9,252.5l2.3,1.6 2.3,1.6 -2.3,1.6 -2.3,1.6 -2.3,-1.6 -2.3,-1.6 2.3,-1.6zM192.8,251.8l2.3,1.6 2.3,1.6 -2.3,1.6 -2.3,1.6 -2.3,-1.6 -2.3,-1.6 2.3,-1.6zM154.6,253.1l2.3,1.6 2.3,1.6 -2.3,1.6 -2.3,1.6 -2.3,-1.6 -2.3,-1.6 2.3,-1.6zM224.7,226.5l2.3,1.6 2.3,1.6 -2.3,1.6 -2.3,1.6 -2.3,-1.6 -2.3,-1.6 2.3,-1.6zM235.9,234.4l2.3,1.6 2.3,1.6 -2.3,1.6 -2.3,1.6 -2.3,-1.6 -2.3,-1.6 2.3,-1.6zM210.5,238.3l2.3,1.6 2.3,1.6 -2.3,1.6 -2.3,1.6 -2.3,-1.6 -2.3,-1.6 2.3,-1.6zM207.9,240.6l2.3,1.6 2.3,1.6 -2.3,1.6 -2.3,1.6 -2.3,-1.6 -2.3,-1.6 2.3,-1.6zM203.3,243.9l2.3,1.6 2.3,1.6 -2.3,1.6 -2.3,1.6 -2.3,-1.6 -2.3,-1.6 2.3,-1.6zM205.9,242.6l2.3,1.6 2.3,1.6 -2.3,1.6 -2.3,1.6 -2.3,-1.6 -2.3,-1.6 2.3,-1.6zM213.8,243.9l2.3,1.6 2.3,1.6 -2.3,1.6 -2.3,1.6 -2.3,-1.6 -2.3,-1.6 2.3,-1.6zM222.4,241.6l2.3,1.6 2.3,1.6 -2.3,1.6 -2.3,1.6 -2.3,-1.6 -2.3,-1.6 2.3,-1.6zM230.3,238.3l2.3,1.6 2.3,1.6 -2.3,1.6 -2.3,1.6 -2.3,-1.6 -2.3,-1.6 2.3,-1.6zM232.9,240.0l2.3,1.6 2.3,1.6 -2.3,1.6 -2.3,1.6 -2.3,-1.6 -2.3,-1.6 2.3,-1.6zM234.9,241.3l2.3,1.6 2.3,1.6 -2.3,1.6 -2.3,1.6 -2.3,-1.6 -2.3,-1.6 2.3,-1.6zM238.2,240.6l2.3,1.6 2.3,1.6 -2.3,1.6 -2.3,1.6 -2.3,-1.6 -2.3,-1.6 2.3,-1.6zM240.8,243.2l2.3,1.6 2.3,1.6 -2.3,1.6 -2.3,1.6 -2.3,-1.6 -2.3,-1.6 2.3,-1.6zM243.5,236.7l2.3,1.6 2.3,1.6 -2.3,1.6 -2.3,1.6 -2.3,-1.6 -2.3,-1.6 2.3,-1.6zM245.4,239.0l2.3,1.6 2.3,1.6 -2.3,1.6 -2.3,1.6 -2.3,-1.6 -2.3,-1.6 2.3,-1.6zM242.8,245.9l2.3,1.6 2.3,1.6 -2.3,1.6 -2.3,1.6 -2.3,-1.6 -2.3,-1.6 2.3,-1.6zM248.8,246.5l2.3,1.6 2.3,1.6 -2.3,1.6 -2.3,1.6 -2.3,-1.6 -2.3,-1.6 2.3,-1.6zM205.3,250.5l2.3,1.6 2.3,1.6 -2.3,1.6 -2.3,1.6 -2.3,-1.6 -2.3,-1.6 2.3,-1.6zM207.9,249.8l2.3,1.6 2.3,1.6 -2.3,1.6 -2.3,1.6 -2.3,-1.6 -2.3,-1.6 2.3,-1.6zM213.2,251.2l2.3,1.6 2.3,1.6 -2.3,1.6 -2.3,1.6 -2.3,-1.6 -2.3,-1.6 2.3,-1.6zM215.8,252.5l2.3,1.6 2.3,1.6 -2.3,1.6 -2.3,1.6 -2.3,-1.6 -2.3,-1.6 2.3,-1.6zM229.0,246.5l2.3,1.6 2.3,1.6 -2.3,1.6 -2.3,1.6 -2.3,-1.6 -2.3,-1.6 2.3,-1.6zM231.0,249.2l2.3,1.6 2.3,1.6 -2.3,1.6 -2.3,1.6 -2.3,-1.6 -2.3,-1.6 2.3,-1.6zM234.3,247.2l2.3,1.6 2.3,1.6 -2.3,1.6 -2.3,1.6 -2.3,-1.6 -2.3,-1.6 2.3,-1.6zM227.7,251.8l2.3,1.6 2.3,1.6 -2.3,1.6 -2.3,1.6 -2.3,-1.6 -2.3,-1.6 2.3,-1.6zM231.6,251.8l2.3,1.6 2.3,1.6 -2.3,1.6 -2.3,1.6 -2.3,-1.6 -2.3,-1.6 2.3,-1.6zM245.4,250.5l2.3,1.6 2.3,1.6 -2.3,1.6 -2.3,1.6 -2.3,-1.6 -2.3,-1.6 2.3,-1.6zM243.5,252.5l2.3,1.6 2.3,1.6 -2.3,1.6 -2.3,1.6 -2.3,-1.6 -2.3,-1.6 2.3,-1.6zM221.7,253.1l2.3,1.6 2.3,1.6 -2.3,1.6 -2.3,1.6 -2.3,-1.6 -2.3,-1.6 2.3,-1.6zM209.2,253.1l2.3,1.6 2.3,1.6 -2.3,1.6 -2.3,1.6 -2.3,-1.6 -2.3,-1.6 2.3,-1.6zM255.9,232.7l2.3,1.6 2.3,1.6 -2.3,1.6 -2.3,1.6 -2.3,-1.6 -2.3,-1.6 2.3,-1.6zM267.1,237.7l2.3,1.6 2.3,1.6 -2.3,1.6 -2.3,1.6 -2.3,-1.6 -2.3,-1.6 2.3,-1.6zM292.8,235.7l2.3,1.6 2.3,1.6 -2.3,1.6 -2.3,1.6 -2.3,-1.6 -2.3,-1.6 2.3,-1.6zM278.3,240.0l2.3,1.6 2.3,1.6 -2.3,1.6 -2.3,1.6 -2.3,-1.6 -2.3,-1.6 2.3,-1.6zM280.3,242.6l2.3,1.6 2.3,1.6 -2.3,1.6 -2.3,1.6 -2.3,-1.6 -2.3,-1.6 2.3,-1.6zM286.2,240.0l2.3,1.6 2.3,1.6 -2.3,1.6 -2.3,1.6 -2.3,-1.6 -2.3,-1.6 2.3,-1.6zM288.2,241.9l2.3,1.6 2.3,1.6 -2.3,1.6 -2.3,1.6 -2.3,-1.6 -2.3,-1.6 2.3,-1.6zM296.1,243.2l2.3,1.6 2.3,1.6 -2.3,1.6 -2.3,1.6 -2.3,-1.6 -2.3,-1.6 2.3,-1.6zM253.3,242.6l2.3,1.6 2.3,1.6 -2.3,1.6 -2.3,1.6 -2.3,-1.6 -2.3,-1.6 2.3,-1.6zM263.2,245.9l2.3,1.6 2.3,1.6 -2.3,1.6 -2.3,1.6 -2.3,-1.6 -2.3,-1.6 2.3,-1.6zM266.5,243.9l2.3,1.6 2.3,1.6 -2.3,1.6 -2.3,1.6 -2.3,-1.6 -2.3,-1.6 2.3,-1.6zM270.4,246.5l2.3,1.6 2.3,1.6 -2.3,1.6 -2.3,1.6 -2.3,-1.6 -2.3,-1.6 2.3,-1.6zM259.9,249.2l2.3,1.6 2.3,1.6 -2.3,1.6 -2.3,1.6 -2.3,-1.6 -2.3,-1.6 2.3,-1.6zM263.2,249.8l2.3,1.6 2.3,1.6 -2.3,1.6 -2.3,1.6 -2.3,-1.6 -2.3,-1.6 2.3,-1.6zM267.1,248.5l2.3,1.6 2.3,1.6 -2.3,1.6 -2.3,1.6 -2.3,-1.6 -2.3,-1.6 2.3,-1.6zM269.8,249.8l2.3,1.6 2.3,1.6 -2.3,1.6 -2.3,1.6 -2.3,-1.6 -2.3,-1.6 2.3,-1.6zM276.4,250.5l2.3,1.6 2.3,1.6 -2.3,1.6 -2.3,1.6 -2.3,-1.6 -2.3,-1.6 2.3,-1.6zM282.9,247.2l2.3,1.6 2.3,1.6 -2.3,1.6 -2.3,1.6 -2.3,-1.6 -2.3,-1.6 2.3,-1.6zM283.6,249.8l2.3,1.6 2.3,1.6 -2.3,1.6 -2.3,1.6 -2.3,-1.6 -2.3,-1.6 2.3,-1.6zM288.9,246.5l2.3,1.6 2.3,1.6 -2.3,1.6 -2.3,1.6 -2.3,-1.6 -2.3,-1.6 2.3,-1.6zM292.8,246.9l2.3,1.6 2.3,1.6 -2.3,1.6 -2.3,1.6 -2.3,-1.6 -2.3,-1.6 2.3,-1.6zM290.8,251.8l2.3,1.6 2.3,1.6 -2.3,1.6 -2.3,1.6 -2.3,-1.6 -2.3,-1.6 2.3,-1.6zM296.1,251.8l2.3,1.6 2.3,1.6 -2.3,1.6 -2.3,1.6 -2.3,-1.6 -2.3,-1.6 2.3,-1.6zM253.9,251.8l2.3,1.6 2.3,1.6 -2.3,1.6 -2.3,1.6 -2.3,-1.6 -2.3,-1.6 2.3,-1.6zM257.9,252.5l2.3,1.6 2.3,1.6 -2.3,1.6 -2.3,1.6 -2.3,-1.6 -2.3,-1.6 2.3,-1.6zM261.9,252.5l2.3,1.6 2.3,1.6 -2.3,1.6 -2.3,1.6 -2.3,-1.6 -2.3,-1.6 2.3,-1.6zM265.8,252.5l2.3,1.6 2.3,1.6 -2.3,1.6 -2.3,1.6 -2.3,-1.6 -2.3,-1.6 2.3,-1.6zM269.8,253.1l2.3,1.6 2.3,1.6 -2.3,1.6 -2.3,1.6 -2.3,-1.6 -2.3,-1.6 2.3,-1.6zM273.7,253.1l2.3,1.6 2.3,1.6 -2.3,1.6 -2.3,1.6 -2.3,-1.6 -2.3,-1.6 2.3,-1.6zM281.6,252.5l2.3,1.6 2.3,1.6 -2.3,1.6 -2.3,1.6 -2.3,-1.6 -2.3,-1.6 2.3,-1.6zM297.4,249.8l2.3,1.6 2.3,1.6 -2.3,1.6 -2.3,1.6 -2.3,-1.6 -2.3,-1.6 2.3,-1.6zM303.9,228.4l2.3,1.6 2.3,1.6 -2.3,1.6 -2.3,1.6 -2.3,-1.6 -2.3,-1.6 2.3,-1.6zM325.0,227.1l2.3,1.6 2.3,1.6 -2.3,1.6 -2.3,1.6 -2.3,-1.6 -2.3,-1.6 2.3,-1.6zM337.6,226.8l2.3,1.6 2.3,1.6 -2.3,1.6 -2.3,1.6 -2.3,-1.6 -2.3,-1.6 2.3,-1.6zM316.5,233.4l2.3,1.6 2.3,1.6 -2.3,1.6 -2.3,1.6 -2.3,-1.6 -2.3,-1.6 2.3,-1.6zM322.4,232.7l2.3,1.6 2.3,1.6 -2.3,1.6 -2.3,1.6 -2.3,-1.6 -2.3,-1.6 2.3,-1.6zM335.6,231.4l2.3,1.6 2.3,1.6 -2.3,1.6 -2.3,1.6 -2.3,-1.6 -2.3,-1.6 2.3,-1.6zM342.2,234.0l2.3,1.6 2.3,1.6 -2.3,1.6 -2.3,1.6 -2.3,-1.6 -2.3,-1.6 2.3,-1.6zM305.3,237.0l2.3,1.6 2.3,1.6 -2.3,1.6 -2.3,1.6 -2.3,-1.6 -2.3,-1.6 2.3,-1.6zM315.1,242.3l2.3,1.6 2.3,1.6 -2.3,1.6 -2.3,1.6 -2.3,-1.6 -2.3,-1.6 2.3,-1.6zM319.1,242.6l2.3,1.6 2.3,1.6 -2.3,1.6 -2.3,1.6 -2.3,-1.6 -2.3,-1.6 2.3,-1.6zM325.7,241.3l2.3,1.6 2.3,1.6 -2.3,1.6 -2.3,1.6 -2.3,-1.6 -2.3,-1.6 2.3,-1.6zM325.0,244.6l2.3,1.6 2.3,1.6 -2.3,1.6 -2.3,1.6 -2.3,-1.6 -2.3,-1.6 2.3,-1.6zM327.7,245.9l2.3,1.6 2.3,1.6 -2.3,1.6 -2.3,1.6 -2.3,-1.6 -2.3,-1.6 2.3,-1.6zM334.3,240.6l2.3,1.6 2.3,1.6 -2.3,1.6 -2.3,1.6 -2.3,-1.6 -2.3,-1.6 2.3,-1.6zM336.2,243.2l2.3,1.6 2.3,1.6 -2.3,1.6 -2.3,1.6 -2.3,-1.6 -2.3,-1.6 2.3,-1.6zM339.5,242.6l2.3,1.6 2.3,1.6 -2.3,1.6 -2.3,1.6 -2.3,-1.6 -2.3,-1.6 2.3,-1.6zM342.8,243.9l2.3,1.6 2.3,1.6 -2.3,1.6 -2.3,1.6 -2.3,-1.6 -2.3,-1.6 2.3,-1.6zM346.1,242.6l2.3,1.6 2.3,1.6 -2.3,1.6 -2.3,1.6 -2.3,-1.6 -2.3,-1.6 2.3,-1.6zM309.9,247.2l2.3,1.6 2.3,1.6 -2.3,1.6 -2.3,1.6 -2.3,-1.6 -2.3,-1.6 2.3,-1.6zM313.2,249.8l2.3,1.6 2.3,1.6 -2.3,1.6 -2.3,1.6 -2.3,-1.6 -2.3,-1.6 2.3,-1.6zM327.7,248.5l2.3,1.6 2.3,1.6 -2.3,1.6 -2.3,1.6 -2.3,-1.6 -2.3,-1.6 2.3,-1.6zM329.0,250.5l2.3,1.6 2.3,1.6 -2.3,1.6 -2.3,1.6 -2.3,-1.6 -2.3,-1.6 2.3,-1.6zM334.9,247.2l2.3,1.6 2.3,1.6 -2.3,1.6 -2.3,1.6 -2.3,-1.6 -2.3,-1.6 2.3,-1.6zM334.3,249.8l2.3,1.6 2.3,1.6 -2.3,1.6 -2.3,1.6 -2.3,-1.6 -2.3,-1.6 2.3,-1.6zM331.6,252.5l2.3,1.6 2.3,1.6 -2.3,1.6 -2.3,1.6 -2.3,-1.6 -2.3,-1.6 2.3,-1.6zM339.5,251.8l2.3,1.6 2.3,1.6 -2.3,1.6 -2.3,1.6 -2.3,-1.6 -2.3,-1.6 2.3,-1.6zM343.5,251.8l2.3,1.6 2.3,1.6 -2.3,1.6 -2.3,1.6 -2.3,-1.6 -2.3,-1.6 2.3,-1.6zM347.4,251.8l2.3,1.6 2.3,1.6 -2.3,1.6 -2.3,1.6 -2.3,-1.6 -2.3,-1.6 2.3,-1.6zM317.8,252.5l2.3,1.6 2.3,1.6 -2.3,1.6 -2.3,1.6 -2.3,-1.6 -2.3,-1.6 2.3,-1.6zM307.9,253.1l2.3,1.6 2.3,1.6 -2.3,1.6 -2.3,1.6 -2.3,-1.6 -2.3,-1.6 2.3,-1.6zM302.6,253.8l2.3,1.6 2.3,1.6 -2.3,1.6 -2.3,1.6 -2.3,-1.6 -2.3,-1.6 2.3,-1.6zM367.8,225.8l2.3,1.6 2.3,1.6 -2.3,1.6 -2.3,1.6 -2.3,-1.6 -2.3,-1.6 2.3,-1.6zM367.1,231.7l2.3,1.6 2.3,1.6 -2.3,1.6 -2.3,1.6 -2.3,-1.6 -2.3,-1.6 2.3,-1.6zM373.1,230.7l2.3,1.6 2.3,1.6 -2.3,1.6 -2.3,1.6 -2.3,-1.6 -2.3,-1.6 2.3,-1.6zM385.6,233.0l2.3,1.6 2.3,1.6 -2.3,1.6 -2.3,1.6 -2.3,-1.6 -2.3,-1.6 2.3,-1.6zM354.9,237.0l2.3,1.6 2.3,1.6 -2.3,1.6 -2.3,1.6 -2.3,-1.6 -2.3,-1.6 2.3,-1.6zM360.5,238.6l2.3,1.6 2.3,1.6 -2.3,1.6 -2.3,1.6 -2.3,-1.6 -2.3,-1.6 2.3,-1.6zM381.6,238.3l2.3,1.6 2.3,1.6 -2.3,1.6 -2.3,1.6 -2.3,-1.6 -2.3,-1.6 2.3,-1.6zM398.8,238.3l2.3,1.6 2.3,1.6 -2.3,1.6 -2.3,1.6 -2.3,-1.6 -2.3,-1.6 2.3,-1.6zM387.6,242.6l2.3,1.6 2.3,1.6 -2.3,1.6 -2.3,1.6 -2.3,-1.6 -2.3,-1.6 2.3,-1.6zM356.6,245.9l2.3,1.6 2.3,1.6 -2.3,1.6 -2.3,1.6 -2.3,-1.6 -2.3,-1.6 2.3,-1.6zM360.5,246.5l2.3,1.6 2.3,1.6 -2.3,1.6 -2.3,1.6 -2.3,-1.6 -2.3,-1.6 2.3,-1.6zM355.3,249.2l2.3,1.6 2.3,1.6 -2.3,1.6 -2.3,1.6 -2.3,-1.6 -2.3,-1.6 2.3,-1.6zM359.2,249.8l2.3,1.6 2.3,1.6 -2.3,1.6 -2.3,1.6 -2.3,-1.6 -2.3,-1.6 2.3,-1.6zM352.6,251.2l2.3,1.6 2.3,1.6 -2.3,1.6 -2.3,1.6 -2.3,-1.6 -2.3,-1.6 2.3,-1.6zM350.7,252.5l2.3,1.6 2.3,1.6 -2.3,1.6 -2.3,1.6 -2.3,-1.6 -2.3,-1.6 2.3,-1.6zM367.8,252.5l2.3,1.6 2.3,1.6 -2.3,1.6 -2.3,1.6 -2.3,-1.6 -2.3,-1.6 2.3,-1.6zM375.0,249.8l2.3,1.6 2.3,1.6 -2.3,1.6 -2.3,1.6 -2.3,-1.6 -2.3,-1.6 2.3,-1.6zM377.7,247.9l2.3,1.6 2.3,1.6 -2.3,1.6 -2.3,1.6 -2.3,-1.6 -2.3,-1.6 2.3,-1.6zM381.0,248.5l2.3,1.6 2.3,1.6 -2.3,1.6 -2.3,1.6 -2.3,-1.6 -2.3,-1.6 2.3,-1.6zM382.9,251.2l2.3,1.6 2.3,1.6 -2.3,1.6 -2.3,1.6 -2.3,-1.6 -2.3,-1.6 2.3,-1.6zM379.0,251.8l2.3,1.6 2.3,1.6 -2.3,1.6 -2.3,1.6 -2.3,-1.6 -2.3,-1.6 2.3,-1.6zM376.4,252.5l2.3,1.6 2.3,1.6 -2.3,1.6 -2.3,1.6 -2.3,-1.6 -2.3,-1.6 2.3,-1.6zM388.9,248.5l2.3,1.6 2.3,1.6 -2.3,1.6 -2.3,1.6 -2.3,-1.6 -2.3,-1.6 2.3,-1.6zM390.8,250.5l2.3,1.6 2.3,1.6 -2.3,1.6 -2.3,1.6 -2.3,-1.6 -2.3,-1.6 2.3,-1.6zM392.8,251.8l2.3,1.6 2.3,1.6 -2.3,1.6 -2.3,1.6 -2.3,-1.6 -2.3,-1.6 2.3,-1.6zM387.6,252.5l2.3,1.6 2.3,1.6 -2.3,1.6 -2.3,1.6 -2.3,-1.6 -2.3,-1.6 2.3,-1.6zM398.8,248.5l2.3,1.6 2.3,1.6 -2.3,1.6 -2.3,1.6 -2.3,-1.6 -2.3,-1.6 2.3,-1.6zM398.8,253.1l2.3,1.6 2.3,1.6 -2.3,1.6 -2.3,1.6 -2.3,-1.6 -2.3,-1.6 2.3,-1.6zM356.6,253.1l2.3,1.6 2.3,1.6 -2.3,1.6 -2.3,1.6 -2.3,-1.6 -2.3,-1.6 2.3,-1.6zM411.9,227.1l2.3,1.6 2.3,1.6 -2.3,1.6 -2.3,1.6 -2.3,-1.6 -2.3,-1.6 2.3,-1.6zM414.5,227.8l2.3,1.6 2.3,1.6 -2.3,1.6 -2.3,1.6 -2.3,-1.6 -2.3,-1.6 2.3,-1.6zM431.0,235.3l2.3,1.6 2.3,1.6 -2.3,1.6 -2.3,1.6 -2.3,-1.6 -2.3,-1.6 2.3,-1.6zM419.8,239.6l2.3,1.6 2.3,1.6 -2.3,1.6 -2.3,1.6 -2.3,-1.6 -2.3,-1.6 2.3,-1.6zM421.7,239.0l2.3,1.6 2.3,1.6 -2.3,1.6 -2.3,1.6 -2.3,-1.6 -2.3,-1.6 2.3,-1.6zM435.9,240.0l2.3,1.6 2.3,1.6 -2.3,1.6 -2.3,1.6 -2.3,-1.6 -2.3,-1.6 2.3,-1.6zM407.9,243.9l2.3,1.6 2.3,1.6 -2.3,1.6 -2.3,1.6 -2.3,-1.6 -2.3,-1.6 2.3,-1.6zM409.2,248.2l2.3,1.6 2.3,1.6 -2.3,1.6 -2.3,1.6 -2.3,-1.6 -2.3,-1.6 2.3,-1.6zM403.9,250.5l2.3,1.6 2.3,1.6 -2.3,1.6 -2.3,1.6 -2.3,-1.6 -2.3,-1.6 2.3,-1.6zM428.3,243.9l2.3,1.6 2.3,1.6 -2.3,1.6 -2.3,1.6 -2.3,-1.6 -2.3,-1.6 2.3,-1.6zM422.4,247.9l2.3,1.6 2.3,1.6 -2.3,1.6 -2.3,1.6 -2.3,-1.6 -2.3,-1.6 2.3,-1.6zM425.0,250.5l2.3,1.6 2.3,1.6 -2.3,1.6 -2.3,1.6 -2.3,-1.6 -2.3,-1.6 2.3,-1.6zM427.7,248.5l2.3,1.6 2.3,1.6 -2.3,1.6 -2.3,1.6 -2.3,-1.6 -2.3,-1.6 2.3,-1.6zM429.0,251.8l2.3,1.6 2.3,1.6 -2.3,1.6 -2.3,1.6 -2.3,-1.6 -2.3,-1.6 2.3,-1.6zM434.3,250.5l2.3,1.6 2.3,1.6 -2.3,1.6 -2.3,1.6 -2.3,-1.6 -2.3,-1.6 2.3,-1.6zM438.2,251.2l2.3,1.6 2.3,1.6 -2.3,1.6 -2.3,1.6 -2.3,-1.6 -2.3,-1.6 2.3,-1.6zM440.8,249.8l2.3,1.6 2.3,1.6 -2.3,1.6 -2.3,1.6 -2.3,-1.6 -2.3,-1.6 2.3,-1.6zM443.5,247.9l2.3,1.6 2.3,1.6 -2.3,1.6 -2.3,1.6 -2.3,-1.6 -2.3,-1.6 2.3,-1.6zM432.9,252.5l2.3,1.6 2.3,1.6 -2.3,1.6 -2.3,1.6 -2.3,-1.6 -2.3,-1.6 2.3,-1.6zM436.9,252.5l2.3,1.6 2.3,1.6 -2.3,1.6 -2.3,1.6 -2.3,-1.6 -2.3,-1.6 2.3,-1.6zM415.8,252.5l2.3,1.6 2.3,1.6 -2.3,1.6 -2.3,1.6 -2.3,-1.6 -2.3,-1.6 2.3,-1.6zM446.1,253.1l2.3,1.6 2.3,1.6 -2.3,1.6 -2.3,1.6 -2.3,-1.6 -2.3,-1.6 2.3,-1.6zM449.4,247.2l2.3,1.6 2.3,1.6 -2.3,1.6 -2.3,1.6 -2.3,-1.6 -2.3,-1.6 2.3,-1.6zM463.2,225.8l2.3,1.6 2.3,1.6 -2.3,1.6 -2.3,1.6 -2.3,-1.6 -2.3,-1.6 2.3,-1.6zM467.8,229.4l2.3,1.6 2.3,1.6 -2.3,1.6 -2.3,1.6 -2.3,-1.6 -2.3,-1.6 2.3,-1.6zM468.4,232.1l2.3,1.6 2.3,1.6 -2.3,1.6 -2.3,1.6 -2.3,-1.6 -2.3,-1.6 2.3,-1.6zM461.9,234.4l2.3,1.6 2.3,1.6 -2.3,1.6 -2.3,1.6 -2.3,-1.6 -2.3,-1.6 2.3,-1.6zM480.3,236.0l2.3,1.6 2.3,1.6 -2.3,1.6 -2.3,1.6 -2.3,-1.6 -2.3,-1.6 2.3,-1.6zM455.3,240.9l2.3,1.6 2.3,1.6 -2.3,1.6 -2.3,1.6 -2.3,-1.6 -2.3,-1.6 2.3,-1.6zM458.6,239.6l2.3,1.6 2.3,1.6 -2.3,1.6 -2.3,1.6 -2.3,-1.6 -2.3,-1.6 2.3,-1.6zM484.3,241.6l2.3,1.6 2.3,1.6 -2.3,1.6 -2.3,1.6 -2.3,-1.6 -2.3,-1.6 2.3,-1.6zM473.1,241.3l2.3,1.6 2.3,1.6 -2.3,1.6 -2.3,1.6 -2.3,-1.6 -2.3,-1.6 2.3,-1.6zM460.5,244.2l2.3,1.6 2.3,1.6 -2.3,1.6 -2.3,1.6 -2.3,-1.6 -2.3,-1.6 2.3,-1.6zM465.8,244.2l2.3,1.6 2.3,1.6 -2.3,1.6 -2.3,1.6 -2.3,-1.6 -2.3,-1.6 2.3,-1.6zM472.4,245.2l2.3,1.6 2.3,1.6 -2.3,1.6 -2.3,1.6 -2.3,-1.6 -2.3,-1.6 2.3,-1.6zM452.6,246.9l2.3,1.6 2.3,1.6 -2.3,1.6 -2.3,1.6 -2.3,-1.6 -2.3,-1.6 2.3,-1.6zM463.2,248.5l2.3,1.6 2.3,1.6 -2.3,1.6 -2.3,1.6 -2.3,-1.6 -2.3,-1.6 2.3,-1.6zM461.2,250.5l2.3,1.6 2.3,1.6 -2.3,1.6 -2.3,1.6 -2.3,-1.6 -2.3,-1.6 2.3,-1.6zM468.4,250.5l2.3,1.6 2.3,1.6 -2.3,1.6 -2.3,1.6 -2.3,-1.6 -2.3,-1.6 2.3,-1.6zM475.0,249.2l2.3,1.6 2.3,1.6 -2.3,1.6 -2.3,1.6 -2.3,-1.6 -2.3,-1.6 2.3,-1.6zM479.0,249.8l2.3,1.6 2.3,1.6 -2.3,1.6 -2.3,1.6 -2.3,-1.6 -2.3,-1.6 2.3,-1.6zM485.6,246.5l2.3,1.6 2.3,1.6 -2.3,1.6 -2.3,1.6 -2.3,-1.6 -2.3,-1.6 2.3,-1.6zM484.9,250.5l2.3,1.6 2.3,1.6 -2.3,1.6 -2.3,1.6 -2.3,-1.6 -2.3,-1.6 2.3,-1.6zM454.6,252.5l2.3,1.6 2.3,1.6 -2.3,1.6 -2.3,1.6 -2.3,-1.6 -2.3,-1.6 2.3,-1.6zM466.5,252.5l2.3,1.6 2.3,1.6 -2.3,1.6 -2.3,1.6 -2.3,-1.6 -2.3,-1.6 2.3,-1.6zM471.7,252.5l2.3,1.6 2.3,1.6 -2.3,1.6 -2.3,1.6 -2.3,-1.6 -2.3,-1.6 2.3,-1.6zM476.4,252.5l2.3,1.6 2.3,1.6 -2.3,1.6 -2.3,1.6 -2.3,-1.6 -2.3,-1.6 2.3,-1.6zM481.6,252.5l2.3,1.6 2.3,1.6 -2.3,1.6 -2.3,1.6 -2.3,-1.6 -2.3,-1.6 2.3,-1.6zM486.9,252.5l2.3,1.6 2.3,1.6 -2.3,1.6 -2.3,1.6 -2.3,-1.6 -2.3,-1.6 2.3,-1.6zM493.5,251.8l2.3,1.6 2.3,1.6 -2.3,1.6 -2.3,1.6 -2.3,-1.6 -2.3,-1.6 2.3,-1.6zM498.8,252.5l2.3,1.6 2.3,1.6 -2.3,1.6 -2.3,1.6 -2.3,-1.6 -2.3,-1.6 2.3,-1.6zM499.4,247.2l2.3,1.6 2.3,1.6 -2.3,1.6 -2.3,1.6 -2.3,-1.6 -2.3,-1.6 2.3,-1.6zM503.3,226.8l2.3,1.6 2.3,1.6 -2.3,1.6 -2.3,1.6 -2.3,-1.6 -2.3,-1.6 2.3,-1.6zM511.9,225.8l2.3,1.6 2.3,1.6 -2.3,1.6 -2.3,1.6 -2.3,-1.6 -2.3,-1.6 2.3,-1.6zM514.5,225.5l2.3,1.6 2.3,1.6 -2.3,1.6 -2.3,1.6 -2.3,-1.6 -2.3,-1.6 2.3,-1.6zM546.1,225.5l2.3,1.6 2.3,1.6 -2.3,1.6 -2.3,1.6 -2.3,-1.6 -2.3,-1.6 2.3,-1.6zM548.8,228.1l2.3,1.6 2.3,1.6 -2.3,1.6 -2.3,1.6 -2.3,-1.6 -2.3,-1.6 2.3,-1.6zM508.6,233.4l2.3,1.6 2.3,1.6 -2.3,1.6 -2.3,1.6 -2.3,-1.6 -2.3,-1.6 2.3,-1.6zM509.9,235.3l2.3,1.6 2.3,1.6 -2.3,1.6 -2.3,1.6 -2.3,-1.6 -2.3,-1.6 2.3,-1.6zM517.1,238.0l2.3,1.6 2.3,1.6 -2.3,1.6 -2.3,1.6 -2.3,-1.6 -2.3,-1.6 2.3,-1.6zM535.6,236.3l2.3,1.6 2.3,1.6 -2.3,1.6 -2.3,1.6 -2.3,-1.6 -2.3,-1.6 2.3,-1.6zM548.8,237.0l2.3,1.6 2.3,1.6 -2.3,1.6 -2.3,1.6 -2.3,-1.6 -2.3,-1.6 2.3,-1.6zM507.2,240.9l2.3,1.6 2.3,1.6 -2.3,1.6 -2.3,1.6 -2.3,-1.6 -2.3,-1.6 2.3,-1.6zM521.1,240.9l2.3,1.6 2.3,1.6 -2.3,1.6 -2.3,1.6 -2.3,-1.6 -2.3,-1.6 2.3,-1.6zM525.0,242.6l2.3,1.6 2.3,1.6 -2.3,1.6 -2.3,1.6 -2.3,-1.6 -2.3,-1.6 2.3,-1.6zM511.9,245.2l2.3,1.6 2.3,1.6 -2.3,1.6 -2.3,1.6 -2.3,-1.6 -2.3,-1.6 2.3,-1.6zM505.9,247.9l2.3,1.6 2.3,1.6 -2.3,1.6 -2.3,1.6 -2.3,-1.6 -2.3,-1.6 2.3,-1.6zM508.6,249.8l2.3,1.6 2.3,1.6 -2.3,1.6 -2.3,1.6 -2.3,-1.6 -2.3,-1.6 2.3,-1.6zM522.4,247.2l2.3,1.6 2.3,1.6 -2.3,1.6 -2.3,1.6 -2.3,-1.6 -2.3,-1.6 2.3,-1.6zM524.4,249.8l2.3,1.6 2.3,1.6 -2.3,1.6 -2.3,1.6 -2.3,-1.6 -2.3,-1.6 2.3,-1.6zM529.0,249.2l2.3,1.6 2.3,1.6 -2.3,1.6 -2.3,1.6 -2.3,-1.6 -2.3,-1.6 2.3,-1.6zM532.9,247.9l2.3,1.6 2.3,1.6 -2.3,1.6 -2.3,1.6 -2.3,-1.6 -2.3,-1.6 2.3,-1.6zM535.6,250.5l2.3,1.6 2.3,1.6 -2.3,1.6 -2.3,1.6 -2.3,-1.6 -2.3,-1.6 2.3,-1.6zM540.2,245.9l2.3,1.6 2.3,1.6 -2.3,1.6 -2.3,1.6 -2.3,-1.6 -2.3,-1.6 2.3,-1.6zM540.8,247.2l2.3,1.6 2.3,1.6 -2.3,1.6 -2.3,1.6 -2.3,-1.6 -2.3,-1.6 2.3,-1.6zM548.8,242.6l2.3,1.6 2.3,1.6 -2.3,1.6 -2.3,1.6 -2.3,-1.6 -2.3,-1.6 2.3,-1.6zM519.8,251.2l2.3,1.6 2.3,1.6 -2.3,1.6 -2.3,1.6 -2.3,-1.6 -2.3,-1.6 2.3,-1.6zM513.2,251.8l2.3,1.6 2.3,1.6 -2.3,1.6 -2.3,1.6 -2.3,-1.6 -2.3,-1.6 2.3,-1.6zM506.6,252.5l2.3,1.6 2.3,1.6 -2.3,1.6 -2.3,1.6 -2.3,-1.6 -2.3,-1.6 2.3,-1.6zM503.9,251.8l2.3,1.6 2.3,1.6 -2.3,1.6 -2.3,1.6 -2.3,-1.6 -2.3,-1.6 2.3,-1.6zM516.5,253.1l2.3,1.6 2.3,1.6 -2.3,1.6 -2.3,1.6 -2.3,-1.6 -2.3,-1.6 2.3,-1.6zM526.4,252.5l2.3,1.6 2.3,1.6 -2.3,1.6 -2.3,1.6 -2.3,-1.6 -2.3,-1.6 2.3,-1.6zM534.3,252.5l2.3,1.6 2.3,1.6 -2.3,1.6 -2.3,1.6 -2.3,-1.6 -2.3,-1.6 2.3,-1.6zM544.8,251.8l2.3,1.6 2.3,1.6 -2.3,1.6 -2.3,1.6 -2.3,-1.6 -2.3,-1.6 2.3,-1.6zM547.4,252.5l2.3,1.6 2.3,1.6 -2.3,1.6 -2.3,1.6 -2.3,-1.6 -2.3,-1.6 2.3,-1.6zM564.8,227.1l2.3,1.6 2.3,1.6 -2.3,1.6 -2.3,1.6 -2.3,-1.6 -2.3,-1.6 2.3,-1.6zM581.6,228.8l2.3,1.6 2.3,1.6 -2.3,1.6 -2.3,1.6 -2.3,-1.6 -2.3,-1.6 2.3,-1.6zM573.7,233.4l2.3,1.6 2.3,1.6 -2.3,1.6 -2.3,1.6 -2.3,-1.6 -2.3,-1.6 2.3,-1.6zM582.3,235.3l2.3,1.6 2.3,1.6 -2.3,1.6 -2.3,1.6 -2.3,-1.6 -2.3,-1.6 2.3,-1.6zM580.3,237.3l2.3,1.6 2.3,1.6 -2.3,1.6 -2.3,1.6 -2.3,-1.6 -2.3,-1.6 2.3,-1.6zM596.8,232.1l2.3,1.6 2.3,1.6 -2.3,1.6 -2.3,1.6 -2.3,-1.6 -2.3,-1.6 2.3,-1.6zM597.4,235.3l2.3,1.6 2.3,1.6 -2.3,1.6 -2.3,1.6 -2.3,-1.6 -2.3,-1.6 2.3,-1.6zM565.8,238.0l2.3,1.6 2.3,1.6 -2.3,1.6 -2.3,1.6 -2.3,-1.6 -2.3,-1.6 2.3,-1.6zM563.8,240.6l2.3,1.6 2.3,1.6 -2.3,1.6 -2.3,1.6 -2.3,-1.6 -2.3,-1.6 2.3,-1.6zM567.1,243.2l2.3,1.6 2.3,1.6 -2.3,1.6 -2.3,1.6 -2.3,-1.6 -2.3,-1.6 2.3,-1.6zM574.4,241.3l2.3,1.6 2.3,1.6 -2.3,1.6 -2.3,1.6 -2.3,-1.6 -2.3,-1.6 2.3,-1.6zM573.1,243.9l2.3,1.6 2.3,1.6 -2.3,1.6 -2.3,1.6 -2.3,-1.6 -2.3,-1.6 2.3,-1.6zM552.0,241.9l2.3,1.6 2.3,1.6 -2.3,1.6 -2.3,1.6 -2.3,-1.6 -2.3,-1.6 2.3,-1.6zM555.3,246.5l2.3,1.6 2.3,1.6 -2.3,1.6 -2.3,1.6 -2.3,-1.6 -2.3,-1.6 2.3,-1.6zM554.0,249.2l2.3,1.6 2.3,1.6 -2.3,1.6 -2.3,1.6 -2.3,-1.6 -2.3,-1.6 2.3,-1.6zM581.0,244.6l2.3,1.6 2.3,1.6 -2.3,1.6 -2.3,1.6 -2.3,-1.6 -2.3,-1.6 2.3,-1.6zM588.2,243.2l2.3,1.6 2.3,1.6 -2.3,1.6 -2.3,1.6 -2.3,-1.6 -2.3,-1.6 2.3,-1.6zM593.5,246.5l2.3,1.6 2.3,1.6 -2.3,1.6 -2.3,1.6 -2.3,-1.6 -2.3,-1.6 2.3,-1.6zM597.4,249.8l2.3,1.6 2.3,1.6 -2.3,1.6 -2.3,1.6 -2.3,-1.6 -2.3,-1.6 2.3,-1.6zM567.8,249.8l2.3,1.6 2.3,1.6 -2.3,1.6 -2.3,1.6 -2.3,-1.6 -2.3,-1.6 2.3,-1.6zM573.1,249.8l2.3,1.6 2.3,1.6 -2.3,1.6 -2.3,1.6 -2.3,-1.6 -2.3,-1.6 2.3,-1.6zM582.3,250.5l2.3,1.6 2.3,1.6 -2.3,1.6 -2.3,1.6 -2.3,-1.6 -2.3,-1.6 2.3,-1.6zM588.2,251.2l2.3,1.6 2.3,1.6 -2.3,1.6 -2.3,1.6 -2.3,-1.6 -2.3,-1.6 2.3,-1.6zM552.6,251.8l2.3,1.6 2.3,1.6 -2.3,1.6 -2.3,1.6 -2.3,-1.6 -2.3,-1.6 2.3,-1.6zM560.5,253.1l2.3,1.6 2.3,1.6 -2.3,1.6 -2.3,1.6 -2.3,-1.6 -2.3,-1.6 2.3,-1.6zM567.1,252.5l2.3,1.6 2.3,1.6 -2.3,1.6 -2.3,1.6 -2.3,-1.6 -2.3,-1.6 2.3,-1.6zM575.7,253.1l2.3,1.6 2.3,1.6 -2.3,1.6 -2.3,1.6 -2.3,-1.6 -2.3,-1.6 2.3,-1.6zM581.6,252.5l2.3,1.6 2.3,1.6 -2.3,1.6 -2.3,1.6 -2.3,-1.6 -2.3,-1.6 2.3,-1.6zM592.2,253.1l2.3,1.6 2.3,1.6 -2.3,1.6 -2.3,1.6 -2.3,-1.6 -2.3,-1.6 2.3,-1.6zM598.8,252.5l2.3,1.6 2.3,1.6 -2.3,1.6 -2.3,1.6 -2.3,-1.6 -2.3,-1.6 2.3,-1.6zM615.8,225.8l2.3,1.6 2.3,1.6 -2.3,1.6 -2.3,1.6 -2.3,-1.6 -2.3,-1.6 2.3,-1.6zM638.2,225.8l2.3,1.6 2.3,1.6 -2.3,1.6 -2.3,1.6 -2.3,-1.6 -2.3,-1.6 2.3,-1.6zM636.9,228.8l2.3,1.6 2.3,1.6 -2.3,1.6 -2.3,1.6 -2.3,-1.6 -2.3,-1.6 2.3,-1.6zM600.7,231.4l2.3,1.6 2.3,1.6 -2.3,1.6 -2.3,1.6 -2.3,-1.6 -2.3,-1.6 2.3,-1.6zM604.6,231.1l2.3,1.6 2.3,1.6 -2.3,1.6 -2.3,1.6 -2.3,-1.6 -2.3,-1.6 2.3,-1.6zM606.6,235.3l2.3,1.6 2.3,1.6 -2.3,1.6 -2.3,1.6 -2.3,-1.6 -2.3,-1.6 2.3,-1.6zM607.9,240.6l2.3,1.6 2.3,1.6 -2.3,1.6 -2.3,1.6 -2.3,-1.6 -2.3,-1.6 2.3,-1.6zM603.0,240.9l2.3,1.6 2.3,1.6 -2.3,1.6 -2.3,1.6 -2.3,-1.6 -2.3,-1.6 2.3,-1.6zM602.6,244.6l2.3,1.6 2.3,1.6 -2.3,1.6 -2.3,1.6 -2.3,-1.6 -2.3,-1.6 2.3,-1.6zM643.8,234.0l2.3,1.6 2.3,1.6 -2.3,1.6 -2.3,1.6 -2.3,-1.6 -2.3,-1.6 2.3,-1.6zM636.9,237.0l2.3,1.6 2.3,1.6 -2.3,1.6 -2.3,1.6 -2.3,-1.6 -2.3,-1.6 2.3,-1.6zM639.5,238.0l2.3,1.6 2.3,1.6 -2.3,1.6 -2.3,1.6 -2.3,-1.6 -2.3,-1.6 2.3,-1.6zM648.8,238.0l2.3,1.6 2.3,1.6 -2.3,1.6 -2.3,1.6 -2.3,-1.6 -2.3,-1.6 2.3,-1.6zM631.0,240.6l2.3,1.6 2.3,1.6 -2.3,1.6 -2.3,1.6 -2.3,-1.6 -2.3,-1.6 2.3,-1.6zM619.8,242.6l2.3,1.6 2.3,1.6 -2.3,1.6 -2.3,1.6 -2.3,-1.6 -2.3,-1.6 2.3,-1.6zM619.8,245.2l2.3,1.6 2.3,1.6 -2.3,1.6 -2.3,1.6 -2.3,-1.6 -2.3,-1.6 2.3,-1.6zM637.5,243.9l2.3,1.6 2.3,1.6 -2.3,1.6 -2.3,1.6 -2.3,-1.6 -2.3,-1.6 2.3,-1.6zM637.5,246.5l2.3,1.6 2.3,1.6 -2.3,1.6 -2.3,1.6 -2.3,-1.6 -2.3,-1.6 2.3,-1.6zM611.9,248.2l2.3,1.6 2.3,1.6 -2.3,1.6 -2.3,1.6 -2.3,-1.6 -2.3,-1.6 2.3,-1.6zM616.5,247.9l2.3,1.6 2.3,1.6 -2.3,1.6 -2.3,1.6 -2.3,-1.6 -2.3,-1.6 2.3,-1.6zM619.1,248.5l2.3,1.6 2.3,1.6 -2.3,1.6 -2.3,1.6 -2.3,-1.6 -2.3,-1.6 2.3,-1.6zM617.1,251.8l2.3,1.6 2.3,1.6 -2.3,1.6 -2.3,1.6 -2.3,-1.6 -2.3,-1.6 2.3,-1.6zM602.0,251.8l2.3,1.6 2.3,1.6 -2.3,1.6 -2.3,1.6 -2.3,-1.6 -2.3,-1.6 2.3,-1.6zM604.0,252.5l2.3,1.6 2.3,1.6 -2.3,1.6 -2.3,1.6 -2.3,-1.6 -2.3,-1.6 2.3,-1.6zM625.7,251.8l2.3,1.6 2.3,1.6 -2.3,1.6 -2.3,1.6 -2.3,-1.6 -2.3,-1.6 2.3,-1.6zM634.3,250.8l2.3,1.6 2.3,1.6 -2.3,1.6 -2.3,1.6 -2.3,-1.6 -2.3,-1.6 2.3,-1.6zM646.1,249.2l2.3,1.6 2.3,1.6 -2.3,1.6 -2.3,1.6 -2.3,-1.6 -2.3,-1.6 2.3,-1.6zM647.4,251.8l2.3,1.6 2.3,1.6 -2.3,1.6 -2.3,1.6 -2.3,-1.6 -2.3,-1.6 2.3,-1.6zM648.8,247.9l2.3,1.6 2.3,1.6 -2.3,1.6 -2.3,1.6 -2.3,-1.6 -2.3,-1.6 2.3,-1.6zM639.5,253.1l2.3,1.6 2.3,1.6 -2.3,1.6 -2.3,1.6 -2.3,-1.6 -2.3,-1.6 2.3,-1.6zM609.9,253.1l2.3,1.6 2.3,1.6 -2.3,1.6 -2.3,1.6 -2.3,-1.6 -2.3,-1.6 2.3,-1.6zM661.9,227.4l2.3,1.6 2.3,1.6 -2.3,1.6 -2.3,1.6 -2.3,-1.6 -2.3,-1.6 2.3,-1.6zM660.5,231.4l2.3,1.6 2.3,1.6 -2.3,1.6 -2.3,1.6 -2.3,-1.6 -2.3,-1.6 2.3,-1.6zM669.1,226.8l2.3,1.6 2.3,1.6 -2.3,1.6 -2.3,1.6 -2.3,-1.6 -2.3,-1.6 2.3,-1.6zM669.1,229.4l2.3,1.6 2.3,1.6 -2.3,1.6 -2.3,1.6 -2.3,-1.6 -2.3,-1.6 2.3,-1.6zM652.6,235.7l2.3,1.6 2.3,1.6 -2.3,1.6 -2.3,1.6 -2.3,-1.6 -2.3,-1.6 2.3,-1.6zM659.9,237.3l2.3,1.6 2.3,1.6 -2.3,1.6 -2.3,1.6 -2.3,-1.6 -2.3,-1.6 2.3,-1.6zM682.9,237.7l2.3,1.6 2.3,1.6 -2.3,1.6 -2.3,1.6 -2.3,-1.6 -2.3,-1.6 2.3,-1.6zM698.8,239.3l2.3,1.6 2.3,1.6 -2.3,1.6 -2.3,1.6 -2.3,-1.6 -2.3,-1.6 2.3,-1.6zM656.6,241.3l2.3,1.6 2.3,1.6 -2.3,1.6 -2.3,1.6 -2.3,-1.6 -2.3,-1.6 2.3,-1.6zM663.8,242.6l2.3,1.6 2.3,1.6 -2.3,1.6 -2.3,1.6 -2.3,-1.6 -2.3,-1.6 2.3,-1.6zM671.1,242.6l2.3,1.6 2.3,1.6 -2.3,1.6 -2.3,1.6 -2.3,-1.6 -2.3,-1.6 2.3,-1.6zM676.4,240.6l2.3,1.6 2.3,1.6 -2.3,1.6 -2.3,1.6 -2.3,-1.6 -2.3,-1.6 2.3,-1.6zM677.7,245.9l2.3,1.6 2.3,1.6 -2.3,1.6 -2.3,1.6 -2.3,-1.6 -2.3,-1.6 2.3,-1.6zM658.6,245.9l2.3,1.6 2.3,1.6 -2.3,1.6 -2.3,1.6 -2.3,-1.6 -2.3,-1.6 2.3,-1.6zM662.5,246.5l2.3,1.6 2.3,1.6 -2.3,1.6 -2.3,1.6 -2.3,-1.6 -2.3,-1.6 2.3,-1.6zM666.5,248.5l2.3,1.6 2.3,1.6 -2.3,1.6 -2.3,1.6 -2.3,-1.6 -2.3,-1.6 2.3,-1.6zM669.1,247.9l2.3,1.6 2.3,1.6 -2.3,1.6 -2.3,1.6 -2.3,-1.6 -2.3,-1.6 2.3,-1.6zM675.0,249.8l2.3,1.6 2.3,1.6 -2.3,1.6 -2.3,1.6 -2.3,-1.6 -2.3,-1.6 2.3,-1.6zM679.0,251.2l2.3,1.6 2.3,1.6 -2.3,1.6 -2.3,1.6 -2.3,-1.6 -2.3,-1.6 2.3,-1.6zM684.3,251.2l2.3,1.6 2.3,1.6 -2.3,1.6 -2.3,1.6 -2.3,-1.6 -2.3,-1.6 2.3,-1.6zM686.9,245.2l2.3,1.6 2.3,1.6 -2.3,1.6 -2.3,1.6 -2.3,-1.6 -2.3,-1.6 2.3,-1.6zM689.5,249.2l2.3,1.6 2.3,1.6 -2.3,1.6 -2.3,1.6 -2.3,-1.6 -2.3,-1.6 2.3,-1.6zM692.2,252.5l2.3,1.6 2.3,1.6 -2.3,1.6 -2.3,1.6 -2.3,-1.6 -2.3,-1.6 2.3,-1.6zM697.4,245.2l2.3,1.6 2.3,1.6 -2.3,1.6 -2.3,1.6 -2.3,-1.6 -2.3,-1.6 2.3,-1.6zM697.4,251.8l2.3,1.6 2.3,1.6 -2.3,1.6 -2.3,1.6 -2.3,-1.6 -2.3,-1.6 2.3,-1.6zM651.3,252.5l2.3,1.6 2.3,1.6 -2.3,1.6 -2.3,1.6 -2.3,-1.6 -2.3,-1.6 2.3,-1.6zM660.5,253.1l2.3,1.6 2.3,1.6 -2.3,1.6 -2.3,1.6 -2.3,-1.6 -2.3,-1.6 2.3,-1.6zM721.7,226.8l2.3,1.6 2.3,1.6 -2.3,1.6 -2.3,1.6 -2.3,-1.6 -2.3,-1.6 2.3,-1.6zM721.7,230.1l2.3,1.6 2.3,1.6 -2.3,1.6 -2.3,1.6 -2.3,-1.6 -2.3,-1.6 2.3,-1.6zM731.6,226.8l2.3,1.6 2.3,1.6 -2.3,1.6 -2.3,1.6 -2.3,-1.6 -2.3,-1.6 2.3,-1.6zM736.9,230.1l2.3,1.6 2.3,1.6 -2.3,1.6 -2.3,1.6 -2.3,-1.6 -2.3,-1.6 2.3,-1.6zM732.3,232.1l2.3,1.6 2.3,1.6 -2.3,1.6 -2.3,1.6 -2.3,-1.6 -2.3,-1.6 2.3,-1.6zM705.3,231.4l2.3,1.6 2.3,1.6 -2.3,1.6 -2.3,1.6 -2.3,-1.6 -2.3,-1.6 2.3,-1.6zM715.8,231.4l2.3,1.6 2.3,1.6 -2.3,1.6 -2.3,1.6 -2.3,-1.6 -2.3,-1.6 2.3,-1.6zM702.0,237.3l2.3,1.6 2.3,1.6 -2.3,1.6 -2.3,1.6 -2.3,-1.6 -2.3,-1.6 2.3,-1.6zM708.6,236.0l2.3,1.6 2.3,1.6 -2.3,1.6 -2.3,1.6 -2.3,-1.6 -2.3,-1.6 2.3,-1.6zM710.5,238.0l2.3,1.6 2.3,1.6 -2.3,1.6 -2.3,1.6 -2.3,-1.6 -2.3,-1.6 2.3,-1.6zM735.6,237.3l2.3,1.6 2.3,1.6 -2.3,1.6 -2.3,1.6 -2.3,-1.6 -2.3,-1.6 2.3,-1.6zM736.9,239.3l2.3,1.6 2.3,1.6 -2.3,1.6 -2.3,1.6 -2.3,-1.6 -2.3,-1.6 2.3,-1.6zM748.8,230.1l2.3,1.6 2.3,1.6 -2.3,1.6 -2.3,1.6 -2.3,-1.6 -2.3,-1.6 2.3,-1.6zM726.4,240.0l2.3,1.6 2.3,1.6 -2.3,1.6 -2.3,1.6 -2.3,-1.6 -2.3,-1.6 2.3,-1.6zM726.4,241.9l2.3,1.6 2.3,1.6 -2.3,1.6 -2.3,1.6 -2.3,-1.6 -2.3,-1.6 2.3,-1.6zM719.1,242.6l2.3,1.6 2.3,1.6 -2.3,1.6 -2.3,1.6 -2.3,-1.6 -2.3,-1.6 2.3,-1.6zM709.9,243.9l2.3,1.6 2.3,1.6 -2.3,1.6 -2.3,1.6 -2.3,-1.6 -2.3,-1.6 2.3,-1.6zM713.2,244.6l2.3,1.6 2.3,1.6 -2.3,1.6 -2.3,1.6 -2.3,-1.6 -2.3,-1.6 2.3,-1.6zM715.8,247.2l2.3,1.6 2.3,1.6 -2.3,1.6 -2.3,1.6 -2.3,-1.6 -2.3,-1.6 2.3,-1.6zM719.1,247.9l2.3,1.6 2.3,1.6 -2.3,1.6 -2.3,1.6 -2.3,-1.6 -2.3,-1.6 2.3,-1.6zM727.0,245.9l2.3,1.6 2.3,1.6 -2.3,1.6 -2.3,1.6 -2.3,-1.6 -2.3,-1.6 2.3,-1.6zM730.3,243.2l2.3,1.6 2.3,1.6 -2.3,1.6 -2.3,1.6 -2.3,-1.6 -2.3,-1.6 2.3,-1.6zM732.9,245.2l2.3,1.6 2.3,1.6 -2.3,1.6 -2.3,1.6 -2.3,-1.6 -2.3,-1.6 2.3,-1.6zM744.1,245.2l2.3,1.6 2.3,1.6 -2.3,1.6 -2.3,1.6 -2.3,-1.6 -2.3,-1.6 2.3,-1.6zM702.0,245.2l2.3,1.6 2.3,1.6 -2.3,1.6 -2.3,1.6 -2.3,-1.6 -2.3,-1.6 2.3,-1.6zM725.7,249.8l2.3,1.6 2.3,1.6 -2.3,1.6 -2.3,1.6 -2.3,-1.6 -2.3,-1.6 2.3,-1.6zM730.3,250.5l2.3,1.6 2.3,1.6 -2.3,1.6 -2.3,1.6 -2.3,-1.6 -2.3,-1.6 2.3,-1.6zM736.9,249.8l2.3,1.6 2.3,1.6 -2.3,1.6 -2.3,1.6 -2.3,-1.6 -2.3,-1.6 2.3,-1.6zM740.8,250.5l2.3,1.6 2.3,1.6 -2.3,1.6 -2.3,1.6 -2.3,-1.6 -2.3,-1.6 2.3,-1.6zM707.9,251.2l2.3,1.6 2.3,1.6 -2.3,1.6 -2.3,1.6 -2.3,-1.6 -2.3,-1.6 2.3,-1.6zM711.9,251.2l2.3,1.6 2.3,1.6 -2.3,1.6 -2.3,1.6 -2.3,-1.6 -2.3,-1.6 2.3,-1.6zM705.3,252.5l2.3,1.6 2.3,1.6 -2.3,1.6 -2.3,1.6 -2.3,-1.6 -2.3,-1.6 2.3,-1.6zM717.1,252.5l2.3,1.6 2.3,1.6 -2.3,1.6 -2.3,1.6 -2.3,-1.6 -2.3,-1.6 2.3,-1.6zM722.4,252.5l2.3,1.6 2.3,1.6 -2.3,1.6 -2.3,1.6 -2.3,-1.6 -2.3,-1.6 2.3,-1.6zM732.9,252.5l2.3,1.6 2.3,1.6 -2.3,1.6 -2.3,1.6 -2.3,-1.6 -2.3,-1.6 2.3,-1.6zM742.2,252.5l2.3,1.6 2.3,1.6 -2.3,1.6 -2.3,1.6 -2.3,-1.6 -2.3,-1.6 2.3,-1.6zM748.8,247.9l2.3,1.6 2.3,1.6 -2.3,1.6 -2.3,1.6 -2.3,-1.6 -2.3,-1.6 2.3,-1.6zM748.8,253.1l2.3,1.6 2.3,1.6 -2.3,1.6 -2.3,1.6 -2.3,-1.6 -2.3,-1.6 2.3,-1.6zM742.1,208.1l2.3,1.6 2.3,1.6 -2.3,1.6 -2.3,1.6 -2.3,-1.6 -2.3,-1.6 2.3,-1.6zM744.4,211.5l2.3,1.6 2.3,1.6 -2.3,1.6 -2.3,1.6 -2.3,-1.6 -2.3,-1.6 2.3,-1.6zM747.2,214.3l2.3,1.6 2.3,1.6 -2.3,1.6 -2.3,1.6 -2.3,-1.6 -2.3,-1.6 2.3,-1.6zM751.1,234.5l2.3,1.6 2.3,1.6 -2.3,1.6 -2.3,1.6 -2.3,-1.6 -2.3,-1.6 2.3,-1.6zM751.7,252.5l2.3,1.6 2.3,1.6 -2.3,1.6 -2.3,1.6 -2.3,-1.6 -2.3,-1.6 2.3,-1.6z"/>
<path fill="#1c70dc" d="M187.5,77.9l1.3,1.6 1.9,1.15 -1.9,1.15 -1.3,1.6 -1.3,-1.6 -1.9,-1.15 1.9,-1.15zM195.0,83.5l1.3,1.6 1.9,1.15 -1.9,1.15 -1.3,1.6 -1.3,-1.6 -1.9,-1.15 1.9,-1.15zM220.6,62.2l1.3,1.6 1.9,1.15 -1.9,1.15 -1.3,1.6 -1.3,-1.6 -1.9,-1.15 1.9,-1.15zM226.2,73.8l1.3,1.6 1.9,1.15 -1.9,1.15 -1.3,1.6 -1.3,-1.6 -1.9,-1.15 1.9,-1.15zM232.2,76.6l1.3,1.6 1.9,1.15 -1.9,1.15 -1.3,1.6 -1.3,-1.6 -1.9,-1.15 1.9,-1.15zM217.8,81.0l1.3,1.6 1.9,1.15 -1.9,1.15 -1.3,1.6 -1.3,-1.6 -1.9,-1.15 1.9,-1.15zM251.9,52.9l1.3,1.6 1.9,1.15 -1.9,1.15 -1.3,1.6 -1.3,-1.6 -1.9,-1.15 1.9,-1.15zM257.5,56.6l1.3,1.6 1.9,1.15 -1.9,1.15 -1.3,1.6 -1.3,-1.6 -1.9,-1.15 1.9,-1.15zM261.9,59.8l1.3,1.6 1.9,1.15 -1.9,1.15 -1.3,1.6 -1.3,-1.6 -1.9,-1.15 1.9,-1.15zM271.9,47.9l1.3,1.6 1.9,1.15 -1.9,1.15 -1.3,1.6 -1.3,-1.6 -1.9,-1.15 1.9,-1.15zM283.1,47.2l1.3,1.6 1.9,1.15 -1.9,1.15 -1.3,1.6 -1.3,-1.6 -1.9,-1.15 1.9,-1.15zM272.5,58.5l1.3,1.6 1.9,1.15 -1.9,1.15 -1.3,1.6 -1.3,-1.6 -1.9,-1.15 1.9,-1.15zM278.8,57.2l1.3,1.6 1.9,1.15 -1.9,1.15 -1.3,1.6 -1.3,-1.6 -1.9,-1.15 1.9,-1.15zM284.4,57.9l1.3,1.6 1.9,1.15 -1.9,1.15 -1.3,1.6 -1.3,-1.6 -1.9,-1.15 1.9,-1.15zM288.8,54.1l1.3,1.6 1.9,1.15 -1.9,1.15 -1.3,1.6 -1.3,-1.6 -1.9,-1.15 1.9,-1.15zM301.2,44.1l1.3,1.6 1.9,1.15 -1.9,1.15 -1.3,1.6 -1.3,-1.6 -1.9,-1.15 1.9,-1.15zM306.2,43.5l1.3,1.6 1.9,1.15 -1.9,1.15 -1.3,1.6 -1.3,-1.6 -1.9,-1.15 1.9,-1.15zM310.0,40.4l1.3,1.6 1.9,1.15 -1.9,1.15 -1.3,1.6 -1.3,-1.6 -1.9,-1.15 1.9,-1.15zM319.4,45.4l1.3,1.6 1.9,1.15 -1.9,1.15 -1.3,1.6 -1.3,-1.6 -1.9,-1.15 1.9,-1.15zM327.5,39.1l1.3,1.6 1.9,1.15 -1.9,1.15 -1.3,1.6 -1.3,-1.6 -1.9,-1.15 1.9,-1.15zM332.5,38.5l1.3,1.6 1.9,1.15 -1.9,1.15 -1.3,1.6 -1.3,-1.6 -1.9,-1.15 1.9,-1.15zM330.0,43.5l1.3,1.6 1.9,1.15 -1.9,1.15 -1.3,1.6 -1.3,-1.6 -1.9,-1.15 1.9,-1.15zM331.2,47.9l1.3,1.6 1.9,1.15 -1.9,1.15 -1.3,1.6 -1.3,-1.6 -1.9,-1.15 1.9,-1.15zM328.1,47.2l1.3,1.6 1.9,1.15 -1.9,1.15 -1.3,1.6 -1.3,-1.6 -1.9,-1.15 1.9,-1.15zM312.5,53.5l1.3,1.6 1.9,1.15 -1.9,1.15 -1.3,1.6 -1.3,-1.6 -1.9,-1.15 1.9,-1.15zM318.8,53.5l1.3,1.6 1.9,1.15 -1.9,1.15 -1.3,1.6 -1.3,-1.6 -1.9,-1.15 1.9,-1.15zM313.8,57.2l1.3,1.6 1.9,1.15 -1.9,1.15 -1.3,1.6 -1.3,-1.6 -1.9,-1.15 1.9,-1.15zM313.8,62.2l1.3,1.6 1.9,1.15 -1.9,1.15 -1.3,1.6 -1.3,-1.6 -1.9,-1.15 1.9,-1.15zM328.8,60.4l1.3,1.6 1.9,1.15 -1.9,1.15 -1.3,1.6 -1.3,-1.6 -1.9,-1.15 1.9,-1.15zM336.2,61.6l1.3,1.6 1.9,1.15 -1.9,1.15 -1.3,1.6 -1.3,-1.6 -1.9,-1.15 1.9,-1.15zM321.2,63.5l1.3,1.6 1.9,1.15 -1.9,1.15 -1.3,1.6 -1.3,-1.6 -1.9,-1.15 1.9,-1.15zM295.0,64.1l1.3,1.6 1.9,1.15 -1.9,1.15 -1.3,1.6 -1.3,-1.6 -1.9,-1.15 1.9,-1.15zM301.9,65.4l1.3,1.6 1.9,1.15 -1.9,1.15 -1.3,1.6 -1.3,-1.6 -1.9,-1.15 1.9,-1.15zM241.2,63.5l1.3,1.6 1.9,1.15 -1.9,1.15 -1.3,1.6 -1.3,-1.6 -1.9,-1.15 1.9,-1.15zM247.5,67.9l1.3,1.6 1.9,1.15 -1.9,1.15 -1.3,1.6 -1.3,-1.6 -1.9,-1.15 1.9,-1.15zM255.6,67.9l1.3,1.6 1.9,1.15 -1.9,1.15 -1.3,1.6 -1.3,-1.6 -1.9,-1.15 1.9,-1.15zM263.1,66.6l1.3,1.6 1.9,1.15 -1.9,1.15 -1.3,1.6 -1.3,-1.6 -1.9,-1.15 1.9,-1.15zM266.2,71.0l1.3,1.6 1.9,1.15 -1.9,1.15 -1.3,1.6 -1.3,-1.6 -1.9,-1.15 1.9,-1.15zM280.0,71.6l1.3,1.6 1.9,1.15 -1.9,1.15 -1.3,1.6 -1.3,-1.6 -1.9,-1.15 1.9,-1.15zM318.1,69.8l1.3,1.6 1.9,1.15 -1.9,1.15 -1.3,1.6 -1.3,-1.6 -1.9,-1.15 1.9,-1.15zM315.0,74.8l1.3,1.6 1.9,1.15 -1.9,1.15 -1.3,1.6 -1.3,-1.6 -1.9,-1.15 1.9,-1.15zM309.4,76.6l1.3,1.6 1.9,1.15 -1.9,1.15 -1.3,1.6 -1.3,-1.6 -1.9,-1.15 1.9,-1.15zM252.5,79.1l1.3,1.6 1.9,1.15 -1.9,1.15 -1.3,1.6 -1.3,-1.6 -1.9,-1.15 1.9,-1.15zM263.8,81.0l1.3,1.6 1.9,1.15 -1.9,1.15 -1.3,1.6 -1.3,-1.6 -1.9,-1.15 1.9,-1.15zM241.2,76.6l1.3,1.6 1.9,1.15 -1.9,1.15 -1.3,1.6 -1.3,-1.6 -1.9,-1.15 1.9,-1.15zM341.9,35.4l1.3,1.6 1.9,1.15 -1.9,1.15 -1.3,1.6 -1.3,-1.6 -1.9,-1.15 1.9,-1.15zM356.2,32.9l1.3,1.6 1.9,1.15 -1.9,1.15 -1.3,1.6 -1.3,-1.6 -1.9,-1.15 1.9,-1.15zM366.2,33.5l1.3,1.6 1.9,1.15 -1.9,1.15 -1.3,1.6 -1.3,-1.6 -1.9,-1.15 1.9,-1.15zM356.2,39.1l1.3,1.6 1.9,1.15 -1.9,1.15 -1.3,1.6 -1.3,-1.6 -1.9,-1.15 1.9,-1.15zM386.2,35.4l1.3,1.6 1.9,1.15 -1.9,1.15 -1.3,1.6 -1.3,-1.6 -1.9,-1.15 1.9,-1.15zM386.9,38.5l1.3,1.6 1.9,1.15 -1.9,1.15 -1.3,1.6 -1.3,-1.6 -1.9,-1.15 1.9,-1.15zM400.6,31.0l1.3,1.6 1.9,1.15 -1.9,1.15 -1.3,1.6 -1.3,-1.6 -1.9,-1.15 1.9,-1.15zM405.0,36.0l1.3,1.6 1.9,1.15 -1.9,1.15 -1.3,1.6 -1.3,-1.6 -1.9,-1.15 1.9,-1.15zM408.1,37.2l1.3,1.6 1.9,1.15 -1.9,1.15 -1.3,1.6 -1.3,-1.6 -1.9,-1.15 1.9,-1.15zM418.1,32.9l1.3,1.6 1.9,1.15 -1.9,1.15 -1.3,1.6 -1.3,-1.6 -1.9,-1.15 1.9,-1.15zM426.2,34.8l1.3,1.6 1.9,1.15 -1.9,1.15 -1.3,1.6 -1.3,-1.6 -1.9,-1.15 1.9,-1.15zM432.5,36.6l1.3,1.6 1.9,1.15 -1.9,1.15 -1.3,1.6 -1.3,-1.6 -1.9,-1.15 1.9,-1.15zM370.0,42.9l1.3,1.6 1.9,1.15 -1.9,1.15 -1.3,1.6 -1.3,-1.6 -1.9,-1.15 1.9,-1.15zM374.4,43.5l1.3,1.6 1.9,1.15 -1.9,1.15 -1.3,1.6 -1.3,-1.6 -1.9,-1.15 1.9,-1.15zM373.1,46.0l1.3,1.6 1.9,1.15 -1.9,1.15 -1.3,1.6 -1.3,-1.6 -1.9,-1.15 1.9,-1.15zM358.8,46.0l1.3,1.6 1.9,1.15 -1.9,1.15 -1.3,1.6 -1.3,-1.6 -1.9,-1.15 1.9,-1.15zM360.0,49.8l1.3,1.6 1.9,1.15 -1.9,1.15 -1.3,1.6 -1.3,-1.6 -1.9,-1.15 1.9,-1.15zM361.9,52.9l1.3,1.6 1.9,1.15 -1.9,1.15 -1.3,1.6 -1.3,-1.6 -1.9,-1.15 1.9,-1.15zM360.6,54.8l1.3,1.6 1.9,1.15 -1.9,1.15 -1.3,1.6 -1.3,-1.6 -1.9,-1.15 1.9,-1.15zM371.2,49.8l1.3,1.6 1.9,1.15 -1.9,1.15 -1.3,1.6 -1.3,-1.6 -1.9,-1.15 1.9,-1.15zM380.0,51.0l1.3,1.6 1.9,1.15 -1.9,1.15 -1.3,1.6 -1.3,-1.6 -1.9,-1.15 1.9,-1.15zM381.2,56.6l1.3,1.6 1.9,1.15 -1.9,1.15 -1.3,1.6 -1.3,-1.6 -1.9,-1.15 1.9,-1.15zM400.0,47.2l1.3,1.6 1.9,1.15 -1.9,1.15 -1.3,1.6 -1.3,-1.6 -1.9,-1.15 1.9,-1.15zM398.8,52.9l1.3,1.6 1.9,1.15 -1.9,1.15 -1.3,1.6 -1.3,-1.6 -1.9,-1.15 1.9,-1.15zM404.4,56.6l1.3,1.6 1.9,1.15 -1.9,1.15 -1.3,1.6 -1.3,-1.6 -1.9,-1.15 1.9,-1.15zM408.8,44.1l1.3,1.6 1.9,1.15 -1.9,1.15 -1.3,1.6 -1.3,-1.6 -1.9,-1.15 1.9,-1.15zM426.2,47.2l1.3,1.6 1.9,1.15 -1.9,1.15 -1.3,1.6 -1.3,-1.6 -1.9,-1.15 1.9,-1.15zM425.0,50.4l1.3,1.6 1.9,1.15 -1.9,1.15 -1.3,1.6 -1.3,-1.6 -1.9,-1.15 1.9,-1.15zM421.2,55.4l1.3,1.6 1.9,1.15 -1.9,1.15 -1.3,1.6 -1.3,-1.6 -1.9,-1.15 1.9,-1.15zM436.9,51.0l1.3,1.6 1.9,1.15 -1.9,1.15 -1.3,1.6 -1.3,-1.6 -1.9,-1.15 1.9,-1.15zM438.8,53.5l1.3,1.6 1.9,1.15 -1.9,1.15 -1.3,1.6 -1.3,-1.6 -1.9,-1.15 1.9,-1.15zM350.0,54.1l1.3,1.6 1.9,1.15 -1.9,1.15 -1.3,1.6 -1.3,-1.6 -1.9,-1.15 1.9,-1.15zM363.1,62.2l1.3,1.6 1.9,1.15 -1.9,1.15 -1.3,1.6 -1.3,-1.6 -1.9,-1.15 1.9,-1.15zM355.6,64.8l1.3,1.6 1.9,1.15 -1.9,1.15 -1.3,1.6 -1.3,-1.6 -1.9,-1.15 1.9,-1.15zM341.2,61.0l1.3,1.6 1.9,1.15 -1.9,1.15 -1.3,1.6 -1.3,-1.6 -1.9,-1.15 1.9,-1.15zM342.5,68.5l1.3,1.6 1.9,1.15 -1.9,1.15 -1.3,1.6 -1.3,-1.6 -1.9,-1.15 1.9,-1.15zM365.0,71.0l1.3,1.6 1.9,1.15 -1.9,1.15 -1.3,1.6 -1.3,-1.6 -1.9,-1.15 1.9,-1.15zM351.9,72.9l1.3,1.6 1.9,1.15 -1.9,1.15 -1.3,1.6 -1.3,-1.6 -1.9,-1.15 1.9,-1.15zM357.5,75.4l1.3,1.6 1.9,1.15 -1.9,1.15 -1.3,1.6 -1.3,-1.6 -1.9,-1.15 1.9,-1.15zM380.6,71.6l1.3,1.6 1.9,1.15 -1.9,1.15 -1.3,1.6 -1.3,-1.6 -1.9,-1.15 1.9,-1.15zM388.1,68.5l1.3,1.6 1.9,1.15 -1.9,1.15 -1.3,1.6 -1.3,-1.6 -1.9,-1.15 1.9,-1.15zM386.2,75.4l1.3,1.6 1.9,1.15 -1.9,1.15 -1.3,1.6 -1.3,-1.6 -1.9,-1.15 1.9,-1.15zM390.6,76.6l1.3,1.6 1.9,1.15 -1.9,1.15 -1.3,1.6 -1.3,-1.6 -1.9,-1.15 1.9,-1.15zM398.8,74.8l1.3,1.6 1.9,1.15 -1.9,1.15 -1.3,1.6 -1.3,-1.6 -1.9,-1.15 1.9,-1.15zM408.8,65.4l1.3,1.6 1.9,1.15 -1.9,1.15 -1.3,1.6 -1.3,-1.6 -1.9,-1.15 1.9,-1.15zM413.8,64.1l1.3,1.6 1.9,1.15 -1.9,1.15 -1.3,1.6 -1.3,-1.6 -1.9,-1.15 1.9,-1.15zM410.6,73.5l1.3,1.6 1.9,1.15 -1.9,1.15 -1.3,1.6 -1.3,-1.6 -1.9,-1.15 1.9,-1.15zM350.0,79.8l1.3,1.6 1.9,1.15 -1.9,1.15 -1.3,1.6 -1.3,-1.6 -1.9,-1.15 1.9,-1.15zM347.5,82.2l1.3,1.6 1.9,1.15 -1.9,1.15 -1.3,1.6 -1.3,-1.6 -1.9,-1.15 1.9,-1.15zM355.6,81.6l1.3,1.6 1.9,1.15 -1.9,1.15 -1.3,1.6 -1.3,-1.6 -1.9,-1.15 1.9,-1.15zM361.2,82.9l1.3,1.6 1.9,1.15 -1.9,1.15 -1.3,1.6 -1.3,-1.6 -1.9,-1.15 1.9,-1.15zM390.0,82.2l1.3,1.6 1.9,1.15 -1.9,1.15 -1.3,1.6 -1.3,-1.6 -1.9,-1.15 1.9,-1.15zM406.2,81.0l1.3,1.6 1.9,1.15 -1.9,1.15 -1.3,1.6 -1.3,-1.6 -1.9,-1.15 1.9,-1.15zM412.5,82.2l1.3,1.6 1.9,1.15 -1.9,1.15 -1.3,1.6 -1.3,-1.6 -1.9,-1.15 1.9,-1.15zM437.5,77.9l1.3,1.6 1.9,1.15 -1.9,1.15 -1.3,1.6 -1.3,-1.6 -1.9,-1.15 1.9,-1.15zM457.5,34.1l1.3,1.6 1.9,1.15 -1.9,1.15 -1.3,1.6 -1.3,-1.6 -1.9,-1.15 1.9,-1.15zM443.8,37.2l1.3,1.6 1.9,1.15 -1.9,1.15 -1.3,1.6 -1.3,-1.6 -1.9,-1.15 1.9,-1.15zM441.2,44.1l1.3,1.6 1.9,1.15 -1.9,1.15 -1.3,1.6 -1.3,-1.6 -1.9,-1.15 1.9,-1.15zM446.2,47.9l1.3,1.6 1.9,1.15 -1.9,1.15 -1.3,1.6 -1.3,-1.6 -1.9,-1.15 1.9,-1.15zM447.5,51.6l1.3,1.6 1.9,1.15 -1.9,1.15 -1.3,1.6 -1.3,-1.6 -1.9,-1.15 1.9,-1.15zM472.5,41.6l1.3,1.6 1.9,1.15 -1.9,1.15 -1.3,1.6 -1.3,-1.6 -1.9,-1.15 1.9,-1.15zM479.4,41.0l1.3,1.6 1.9,1.15 -1.9,1.15 -1.3,1.6 -1.3,-1.6 -1.9,-1.15 1.9,-1.15zM479.4,46.0l1.3,1.6 1.9,1.15 -1.9,1.15 -1.3,1.6 -1.3,-1.6 -1.9,-1.15 1.9,-1.15zM470.6,48.5l1.3,1.6 1.9,1.15 -1.9,1.15 -1.3,1.6 -1.3,-1.6 -1.9,-1.15 1.9,-1.15zM460.6,53.5l1.3,1.6 1.9,1.15 -1.9,1.15 -1.3,1.6 -1.3,-1.6 -1.9,-1.15 1.9,-1.15zM470.0,56.0l1.3,1.6 1.9,1.15 -1.9,1.15 -1.3,1.6 -1.3,-1.6 -1.9,-1.15 1.9,-1.15zM461.2,60.4l1.3,1.6 1.9,1.15 -1.9,1.15 -1.3,1.6 -1.3,-1.6 -1.9,-1.15 1.9,-1.15zM465.0,62.9l1.3,1.6 1.9,1.15 -1.9,1.15 -1.3,1.6 -1.3,-1.6 -1.9,-1.15 1.9,-1.15zM481.2,52.9l1.3,1.6 1.9,1.15 -1.9,1.15 -1.3,1.6 -1.3,-1.6 -1.9,-1.15 1.9,-1.15zM488.8,50.4l1.3,1.6 1.9,1.15 -1.9,1.15 -1.3,1.6 -1.3,-1.6 -1.9,-1.15 1.9,-1.15zM496.2,50.4l1.3,1.6 1.9,1.15 -1.9,1.15 -1.3,1.6 -1.3,-1.6 -1.9,-1.15 1.9,-1.15zM501.2,46.6l1.3,1.6 1.9,1.15 -1.9,1.15 -1.3,1.6 -1.3,-1.6 -1.9,-1.15 1.9,-1.15zM502.5,53.5l1.3,1.6 1.9,1.15 -1.9,1.15 -1.3,1.6 -1.3,-1.6 -1.9,-1.15 1.9,-1.15zM506.2,52.9l1.3,1.6 1.9,1.15 -1.9,1.15 -1.3,1.6 -1.3,-1.6 -1.9,-1.15 1.9,-1.15zM514.4,46.6l1.3,1.6 1.9,1.15 -1.9,1.15 -1.3,1.6 -1.3,-1.6 -1.9,-1.15 1.9,-1.15zM533.8,52.9l1.3,1.6 1.9,1.15 -1.9,1.15 -1.3,1.6 -1.3,-1.6 -1.9,-1.15 1.9,-1.15zM536.2,62.9l1.3,1.6 1.9,1.15 -1.9,1.15 -1.3,1.6 -1.3,-1.6 -1.9,-1.15 1.9,-1.15zM488.1,64.8l1.3,1.6 1.9,1.15 -1.9,1.15 -1.3,1.6 -1.3,-1.6 -1.9,-1.15 1.9,-1.15zM489.4,67.2l1.3,1.6 1.9,1.15 -1.9,1.15 -1.3,1.6 -1.3,-1.6 -1.9,-1.15 1.9,-1.15zM495.0,64.8l1.3,1.6 1.9,1.15 -1.9,1.15 -1.3,1.6 -1.3,-1.6 -1.9,-1.15 1.9,-1.15zM498.1,63.5l1.3,1.6 1.9,1.15 -1.9,1.15 -1.3,1.6 -1.3,-1.6 -1.9,-1.15 1.9,-1.15zM503.8,66.0l1.3,1.6 1.9,1.15 -1.9,1.15 -1.3,1.6 -1.3,-1.6 -1.9,-1.15 1.9,-1.15zM512.5,67.2l1.3,1.6 1.9,1.15 -1.9,1.15 -1.3,1.6 -1.3,-1.6 -1.9,-1.15 1.9,-1.15zM518.8,66.0l1.3,1.6 1.9,1.15 -1.9,1.15 -1.3,1.6 -1.3,-1.6 -1.9,-1.15 1.9,-1.15zM520.0,73.5l1.3,1.6 1.9,1.15 -1.9,1.15 -1.3,1.6 -1.3,-1.6 -1.9,-1.15 1.9,-1.15zM512.5,71.0l1.3,1.6 1.9,1.15 -1.9,1.15 -1.3,1.6 -1.3,-1.6 -1.9,-1.15 1.9,-1.15zM447.5,68.5l1.3,1.6 1.9,1.15 -1.9,1.15 -1.3,1.6 -1.3,-1.6 -1.9,-1.15 1.9,-1.15zM450.0,70.4l1.3,1.6 1.9,1.15 -1.9,1.15 -1.3,1.6 -1.3,-1.6 -1.9,-1.15 1.9,-1.15zM443.8,74.1l1.3,1.6 1.9,1.15 -1.9,1.15 -1.3,1.6 -1.3,-1.6 -1.9,-1.15 1.9,-1.15zM456.9,76.6l1.3,1.6 1.9,1.15 -1.9,1.15 -1.3,1.6 -1.3,-1.6 -1.9,-1.15 1.9,-1.15zM461.9,82.2l1.3,1.6 1.9,1.15 -1.9,1.15 -1.3,1.6 -1.3,-1.6 -1.9,-1.15 1.9,-1.15zM470.0,76.0l1.3,1.6 1.9,1.15 -1.9,1.15 -1.3,1.6 -1.3,-1.6 -1.9,-1.15 1.9,-1.15zM478.8,76.6l1.3,1.6 1.9,1.15 -1.9,1.15 -1.3,1.6 -1.3,-1.6 -1.9,-1.15 1.9,-1.15zM488.1,79.8l1.3,1.6 1.9,1.15 -1.9,1.15 -1.3,1.6 -1.3,-1.6 -1.9,-1.15 1.9,-1.15zM498.1,73.5l1.3,1.6 1.9,1.15 -1.9,1.15 -1.3,1.6 -1.3,-1.6 -1.9,-1.15 1.9,-1.15zM504.4,80.4l1.3,1.6 1.9,1.15 -1.9,1.15 -1.3,1.6 -1.3,-1.6 -1.9,-1.15 1.9,-1.15zM475.0,83.5l1.3,1.6 1.9,1.15 -1.9,1.15 -1.3,1.6 -1.3,-1.6 -1.9,-1.15 1.9,-1.15zM441.2,81.6l1.3,1.6 1.9,1.15 -1.9,1.15 -1.3,1.6 -1.3,-1.6 -1.9,-1.15 1.9,-1.15zM541.9,51.6l1.3,1.6 1.9,1.15 -1.9,1.15 -1.3,1.6 -1.3,-1.6 -1.9,-1.15 1.9,-1.15zM547.5,56.6l1.3,1.6 1.9,1.15 -1.9,1.15 -1.3,1.6 -1.3,-1.6 -1.9,-1.15 1.9,-1.15zM555.6,57.2l1.3,1.6 1.9,1.15 -1.9,1.15 -1.3,1.6 -1.3,-1.6 -1.9,-1.15 1.9,-1.15zM570.6,63.5l1.3,1.6 1.9,1.15 -1.9,1.15 -1.3,1.6 -1.3,-1.6 -1.9,-1.15 1.9,-1.15zM574.4,68.5l1.3,1.6 1.9,1.15 -1.9,1.15 -1.3,1.6 -1.3,-1.6 -1.9,-1.15 1.9,-1.15zM565.0,70.4l1.3,1.6 1.9,1.15 -1.9,1.15 -1.3,1.6 -1.3,-1.6 -1.9,-1.15 1.9,-1.15zM590.0,71.6l1.3,1.6 1.9,1.15 -1.9,1.15 -1.3,1.6 -1.3,-1.6 -1.9,-1.15 1.9,-1.15zM554.4,77.9l1.3,1.6 1.9,1.15 -1.9,1.15 -1.3,1.6 -1.3,-1.6 -1.9,-1.15 1.9,-1.15zM555.0,81.0l1.3,1.6 1.9,1.15 -1.9,1.15 -1.3,1.6 -1.3,-1.6 -1.9,-1.15 1.9,-1.15zM564.4,79.8l1.3,1.6 1.9,1.15 -1.9,1.15 -1.3,1.6 -1.3,-1.6 -1.9,-1.15 1.9,-1.15zM565.6,81.6l1.3,1.6 1.9,1.15 -1.9,1.15 -1.3,1.6 -1.3,-1.6 -1.9,-1.15 1.9,-1.15zM543.8,82.9l1.3,1.6 1.9,1.15 -1.9,1.15 -1.3,1.6 -1.3,-1.6 -1.9,-1.15 1.9,-1.15zM627.5,85.0l1.3,1.6 1.9,1.15 -1.9,1.15 -1.3,1.6 -1.3,-1.6 -1.9,-1.15 1.9,-1.15zM123.1,116.5l1.3,1.6 1.9,1.15 -1.9,1.15 -1.3,1.6 -1.3,-1.6 -1.9,-1.15 1.9,-1.15zM100.6,137.1l1.3,1.6 1.9,1.15 -1.9,1.15 -1.3,1.6 -1.3,-1.6 -1.9,-1.15 1.9,-1.15zM98.1,140.2l1.3,1.6 1.9,1.15 -1.9,1.15 -1.3,1.6 -1.3,-1.6 -1.9,-1.15 1.9,-1.15zM127.5,137.8l1.3,1.6 1.9,1.15 -1.9,1.15 -1.3,1.6 -1.3,-1.6 -1.9,-1.15 1.9,-1.15zM126.2,140.5l1.3,1.6 1.9,1.15 -1.9,1.15 -1.3,1.6 -1.3,-1.6 -1.9,-1.15 1.9,-1.15zM139.0,141.8l1.3,1.6 1.9,1.15 -1.9,1.15 -1.3,1.6 -1.3,-1.6 -1.9,-1.15 1.9,-1.15zM217.5,92.1l1.3,1.6 1.9,1.15 -1.9,1.15 -1.3,1.6 -1.3,-1.6 -1.9,-1.15 1.9,-1.15zM223.1,97.1l1.3,1.6 1.9,1.15 -1.9,1.15 -1.3,1.6 -1.3,-1.6 -1.9,-1.15 1.9,-1.15zM238.1,90.9l1.3,1.6 1.9,1.15 -1.9,1.15 -1.3,1.6 -1.3,-1.6 -1.9,-1.15 1.9,-1.15zM195.0,97.8l1.3,1.6 1.9,1.15 -1.9,1.15 -1.3,1.6 -1.3,-1.6 -1.9,-1.15 1.9,-1.15zM210.6,102.8l1.3,1.6 1.9,1.15 -1.9,1.15 -1.3,1.6 -1.3,-1.6 -1.9,-1.15 1.9,-1.15zM176.2,104.0l1.3,1.6 1.9,1.15 -1.9,1.15 -1.3,1.6 -1.3,-1.6 -1.9,-1.15 1.9,-1.15zM187.5,104.6l1.3,1.6 1.9,1.15 -1.9,1.15 -1.3,1.6 -1.3,-1.6 -1.9,-1.15 1.9,-1.15zM161.9,106.5l1.3,1.6 1.9,1.15 -1.9,1.15 -1.3,1.6 -1.3,-1.6 -1.9,-1.15 1.9,-1.15zM161.9,110.9l1.3,1.6 1.9,1.15 -1.9,1.15 -1.3,1.6 -1.3,-1.6 -1.9,-1.15 1.9,-1.15zM175.6,111.5l1.3,1.6 1.9,1.15 -1.9,1.15 -1.3,1.6 -1.3,-1.6 -1.9,-1.15 1.9,-1.15zM189.4,110.2l1.3,1.6 1.9,1.15 -1.9,1.15 -1.3,1.6 -1.3,-1.6 -1.9,-1.15 1.9,-1.15zM186.9,115.9l1.3,1.6 1.9,1.15 -1.9,1.15 -1.3,1.6 -1.3,-1.6 -1.9,-1.15 1.9,-1.15zM151.2,114.6l1.3,1.6 1.9,1.15 -1.9,1.15 -1.3,1.6 -1.3,-1.6 -1.9,-1.15 1.9,-1.15zM151.2,120.9l1.3,1.6 1.9,1.15 -1.9,1.15 -1.3,1.6 -1.3,-1.6 -1.9,-1.15 1.9,-1.15zM202.5,117.1l1.3,1.6 1.9,1.15 -1.9,1.15 -1.3,1.6 -1.3,-1.6 -1.9,-1.15 1.9,-1.15zM215.0,117.1l1.3,1.6 1.9,1.15 -1.9,1.15 -1.3,1.6 -1.3,-1.6 -1.9,-1.15 1.9,-1.15zM232.5,108.4l1.3,1.6 1.9,1.15 -1.9,1.15 -1.3,1.6 -1.3,-1.6 -1.9,-1.15 1.9,-1.15zM235.6,115.2l1.3,1.6 1.9,1.15 -1.9,1.15 -1.3,1.6 -1.3,-1.6 -1.9,-1.15 1.9,-1.15zM185.0,122.1l1.3,1.6 1.9,1.15 -1.9,1.15 -1.3,1.6 -1.3,-1.6 -1.9,-1.15 1.9,-1.15zM195.0,122.8l1.3,1.6 1.9,1.15 -1.9,1.15 -1.3,1.6 -1.3,-1.6 -1.9,-1.15 1.9,-1.15zM176.9,127.1l1.3,1.6 1.9,1.15 -1.9,1.15 -1.3,1.6 -1.3,-1.6 -1.9,-1.15 1.9,-1.15zM211.9,124.6l1.3,1.6 1.9,1.15 -1.9,1.15 -1.3,1.6 -1.3,-1.6 -1.9,-1.15 1.9,-1.15zM217.5,126.5l1.3,1.6 1.9,1.15 -1.9,1.15 -1.3,1.6 -1.3,-1.6 -1.9,-1.15 1.9,-1.15zM171.2,135.9l1.3,1.6 1.9,1.15 -1.9,1.15 -1.3,1.6 -1.3,-1.6 -1.9,-1.15 1.9,-1.15zM148.8,133.4l1.3,1.6 1.9,1.15 -1.9,1.15 -1.3,1.6 -1.3,-1.6 -1.9,-1.15 1.9,-1.15zM200.0,136.5l1.3,1.6 1.9,1.15 -1.9,1.15 -1.3,1.6 -1.3,-1.6 -1.9,-1.15 1.9,-1.15zM207.5,140.9l1.3,1.6 1.9,1.15 -1.9,1.15 -1.3,1.6 -1.3,-1.6 -1.9,-1.15 1.9,-1.15zM215.0,139.6l1.3,1.6 1.9,1.15 -1.9,1.15 -1.3,1.6 -1.3,-1.6 -1.9,-1.15 1.9,-1.15zM233.1,139.0l1.3,1.6 1.9,1.15 -1.9,1.15 -1.3,1.6 -1.3,-1.6 -1.9,-1.15 1.9,-1.15zM182.5,140.9l1.3,1.6 1.9,1.15 -1.9,1.15 -1.3,1.6 -1.3,-1.6 -1.9,-1.15 1.9,-1.15zM280.0,86.5l1.3,1.6 1.9,1.15 -1.9,1.15 -1.3,1.6 -1.3,-1.6 -1.9,-1.15 1.9,-1.15zM290.0,90.2l1.3,1.6 1.9,1.15 -1.9,1.15 -1.3,1.6 -1.3,-1.6 -1.9,-1.15 1.9,-1.15zM295.0,92.1l1.3,1.6 1.9,1.15 -1.9,1.15 -1.3,1.6 -1.3,-1.6 -1.9,-1.15 1.9,-1.15zM304.4,92.1l1.3,1.6 1.9,1.15 -1.9,1.15 -1.3,1.6 -1.3,-1.6 -1.9,-1.15 1.9,-1.15zM312.5,94.6l1.3,1.6 1.9,1.15 -1.9,1.15 -1.3,1.6 -1.3,-1.6 -1.9,-1.15 1.9,-1.15zM316.2,96.5l1.3,1.6 1.9,1.15 -1.9,1.15 -1.3,1.6 -1.3,-1.6 -1.9,-1.15 1.9,-1.15zM329.4,88.4l1.3,1.6 1.9,1.15 -1.9,1.15 -1.3,1.6 -1.3,-1.6 -1.9,-1.15 1.9,-1.15zM327.5,95.9l1.3,1.6 1.9,1.15 -1.9,1.15 -1.3,1.6 -1.3,-1.6 -1.9,-1.15 1.9,-1.15zM326.9,100.9l1.3,1.6 1.9,1.15 -1.9,1.15 -1.3,1.6 -1.3,-1.6 -1.9,-1.15 1.9,-1.15zM336.9,104.0l1.3,1.6 1.9,1.15 -1.9,1.15 -1.3,1.6 -1.3,-1.6 -1.9,-1.15 1.9,-1.15zM262.5,94.0l1.3,1.6 1.9,1.15 -1.9,1.15 -1.3,1.6 -1.3,-1.6 -1.9,-1.15 1.9,-1.15zM249.4,97.8l1.3,1.6 1.9,1.15 -1.9,1.15 -1.3,1.6 -1.3,-1.6 -1.9,-1.15 1.9,-1.15zM274.4,94.0l1.3,1.6 1.9,1.15 -1.9,1.15 -1.3,1.6 -1.3,-1.6 -1.9,-1.15 1.9,-1.15zM283.8,94.0l1.3,1.6 1.9,1.15 -1.9,1.15 -1.3,1.6 -1.3,-1.6 -1.9,-1.15 1.9,-1.15zM272.5,99.0l1.3,1.6 1.9,1.15 -1.9,1.15 -1.3,1.6 -1.3,-1.6 -1.9,-1.15 1.9,-1.15zM241.2,105.2l1.3,1.6 1.9,1.15 -1.9,1.15 -1.3,1.6 -1.3,-1.6 -1.9,-1.15 1.9,-1.15zM247.5,108.4l1.3,1.6 1.9,1.15 -1.9,1.15 -1.3,1.6 -1.3,-1.6 -1.9,-1.15 1.9,-1.15zM254.4,108.4l1.3,1.6 1.9,1.15 -1.9,1.15 -1.3,1.6 -1.3,-1.6 -1.9,-1.15 1.9,-1.15zM260.6,110.9l1.3,1.6 1.9,1.15 -1.9,1.15 -1.3,1.6 -1.3,-1.6 -1.9,-1.15 1.9,-1.15zM265.0,117.8l1.3,1.6 1.9,1.15 -1.9,1.15 -1.3,1.6 -1.3,-1.6 -1.9,-1.15 1.9,-1.15zM290.0,105.9l1.3,1.6 1.9,1.15 -1.9,1.15 -1.3,1.6 -1.3,-1.6 -1.9,-1.15 1.9,-1.15zM300.0,101.5l1.3,1.6 1.9,1.15 -1.9,1.15 -1.3,1.6 -1.3,-1.6 -1.9,-1.15 1.9,-1.15zM303.8,102.8l1.3,1.6 1.9,1.15 -1.9,1.15 -1.3,1.6 -1.3,-1.6 -1.9,-1.15 1.9,-1.15zM304.4,107.1l1.3,1.6 1.9,1.15 -1.9,1.15 -1.3,1.6 -1.3,-1.6 -1.9,-1.15 1.9,-1.15zM298.8,111.5l1.3,1.6 1.9,1.15 -1.9,1.15 -1.3,1.6 -1.3,-1.6 -1.9,-1.15 1.9,-1.15zM303.1,114.6l1.3,1.6 1.9,1.15 -1.9,1.15 -1.3,1.6 -1.3,-1.6 -1.9,-1.15 1.9,-1.15zM291.2,115.2l1.3,1.6 1.9,1.15 -1.9,1.15 -1.3,1.6 -1.3,-1.6 -1.9,-1.15 1.9,-1.15zM295.0,117.1l1.3,1.6 1.9,1.15 -1.9,1.15 -1.3,1.6 -1.3,-1.6 -1.9,-1.15 1.9,-1.15zM290.0,121.5l1.3,1.6 1.9,1.15 -1.9,1.15 -1.3,1.6 -1.3,-1.6 -1.9,-1.15 1.9,-1.15zM295.0,121.5l1.3,1.6 1.9,1.15 -1.9,1.15 -1.3,1.6 -1.3,-1.6 -1.9,-1.15 1.9,-1.15zM308.1,129.6l1.3,1.6 1.9,1.15 -1.9,1.15 -1.3,1.6 -1.3,-1.6 -1.9,-1.15 1.9,-1.15zM329.4,122.8l1.3,1.6 1.9,1.15 -1.9,1.15 -1.3,1.6 -1.3,-1.6 -1.9,-1.15 1.9,-1.15zM330.6,128.4l1.3,1.6 1.9,1.15 -1.9,1.15 -1.3,1.6 -1.3,-1.6 -1.9,-1.15 1.9,-1.15zM320.6,137.8l1.3,1.6 1.9,1.15 -1.9,1.15 -1.3,1.6 -1.3,-1.6 -1.9,-1.15 1.9,-1.15zM303.1,140.9l1.3,1.6 1.9,1.15 -1.9,1.15 -1.3,1.6 -1.3,-1.6 -1.9,-1.15 1.9,-1.15zM255.0,140.9l1.3,1.6 1.9,1.15 -1.9,1.15 -1.3,1.6 -1.3,-1.6 -1.9,-1.15 1.9,-1.15zM273.1,139.0l1.3,1.6 1.9,1.15 -1.9,1.15 -1.3,1.6 -1.3,-1.6 -1.9,-1.15 1.9,-1.15zM347.5,85.2l1.3,1.6 1.9,1.15 -1.9,1.15 -1.3,1.6 -1.3,-1.6 -1.9,-1.15 1.9,-1.15zM368.8,91.5l1.3,1.6 1.9,1.15 -1.9,1.15 -1.3,1.6 -1.3,-1.6 -1.9,-1.15 1.9,-1.15zM371.9,93.4l1.3,1.6 1.9,1.15 -1.9,1.15 -1.3,1.6 -1.3,-1.6 -1.9,-1.15 1.9,-1.15zM353.8,97.1l1.3,1.6 1.9,1.15 -1.9,1.15 -1.3,1.6 -1.3,-1.6 -1.9,-1.15 1.9,-1.15zM344.4,100.9l1.3,1.6 1.9,1.15 -1.9,1.15 -1.3,1.6 -1.3,-1.6 -1.9,-1.15 1.9,-1.15zM345.6,104.0l1.3,1.6 1.9,1.15 -1.9,1.15 -1.3,1.6 -1.3,-1.6 -1.9,-1.15 1.9,-1.15zM362.5,96.5l1.3,1.6 1.9,1.15 -1.9,1.15 -1.3,1.6 -1.3,-1.6 -1.9,-1.15 1.9,-1.15zM363.1,104.6l1.3,1.6 1.9,1.15 -1.9,1.15 -1.3,1.6 -1.3,-1.6 -1.9,-1.15 1.9,-1.15zM370.0,104.0l1.3,1.6 1.9,1.15 -1.9,1.15 -1.3,1.6 -1.3,-1.6 -1.9,-1.15 1.9,-1.15zM373.1,104.6l1.3,1.6 1.9,1.15 -1.9,1.15 -1.3,1.6 -1.3,-1.6 -1.9,-1.15 1.9,-1.15zM376.9,104.0l1.3,1.6 1.9,1.15 -1.9,1.15 -1.3,1.6 -1.3,-1.6 -1.9,-1.15 1.9,-1.15zM383.8,97.8l1.3,1.6 1.9,1.15 -1.9,1.15 -1.3,1.6 -1.3,-1.6 -1.9,-1.15 1.9,-1.15zM395.0,98.4l1.3,1.6 1.9,1.15 -1.9,1.15 -1.3,1.6 -1.3,-1.6 -1.9,-1.15 1.9,-1.15zM395.6,100.9l1.3,1.6 1.9,1.15 -1.9,1.15 -1.3,1.6 -1.3,-1.6 -1.9,-1.15 1.9,-1.15zM381.2,109.6l1.3,1.6 1.9,1.15 -1.9,1.15 -1.3,1.6 -1.3,-1.6 -1.9,-1.15 1.9,-1.15zM385.6,113.4l1.3,1.6 1.9,1.15 -1.9,1.15 -1.3,1.6 -1.3,-1.6 -1.9,-1.15 1.9,-1.15zM348.8,111.5l1.3,1.6 1.9,1.15 -1.9,1.15 -1.3,1.6 -1.3,-1.6 -1.9,-1.15 1.9,-1.15zM355.6,111.5l1.3,1.6 1.9,1.15 -1.9,1.15 -1.3,1.6 -1.3,-1.6 -1.9,-1.15 1.9,-1.15zM361.9,114.6l1.3,1.6 1.9,1.15 -1.9,1.15 -1.3,1.6 -1.3,-1.6 -1.9,-1.15 1.9,-1.15zM366.2,111.5l1.3,1.6 1.9,1.15 -1.9,1.15 -1.3,1.6 -1.3,-1.6 -1.9,-1.15 1.9,-1.15zM358.8,120.2l1.3,1.6 1.9,1.15 -1.9,1.15 -1.3,1.6 -1.3,-1.6 -1.9,-1.15 1.9,-1.15zM341.9,122.1l1.3,1.6 1.9,1.15 -1.9,1.15 -1.3,1.6 -1.3,-1.6 -1.9,-1.15 1.9,-1.15zM388.1,124.6l1.3,1.6 1.9,1.15 -1.9,1.15 -1.3,1.6 -1.3,-1.6 -1.9,-1.15 1.9,-1.15zM391.2,130.9l1.3,1.6 1.9,1.15 -1.9,1.15 -1.3,1.6 -1.3,-1.6 -1.9,-1.15 1.9,-1.15zM413.1,93.4l1.3,1.6 1.9,1.15 -1.9,1.15 -1.3,1.6 -1.3,-1.6 -1.9,-1.15 1.9,-1.15zM412.5,103.4l1.3,1.6 1.9,1.15 -1.9,1.15 -1.3,1.6 -1.3,-1.6 -1.9,-1.15 1.9,-1.15zM427.5,87.8l1.3,1.6 1.9,1.15 -1.9,1.15 -1.3,1.6 -1.3,-1.6 -1.9,-1.15 1.9,-1.15zM428.1,96.5l1.3,1.6 1.9,1.15 -1.9,1.15 -1.3,1.6 -1.3,-1.6 -1.9,-1.15 1.9,-1.15zM423.1,109.0l1.3,1.6 1.9,1.15 -1.9,1.15 -1.3,1.6 -1.3,-1.6 -1.9,-1.15 1.9,-1.15zM429.4,105.9l1.3,1.6 1.9,1.15 -1.9,1.15 -1.3,1.6 -1.3,-1.6 -1.9,-1.15 1.9,-1.15zM438.8,110.2l1.3,1.6 1.9,1.15 -1.9,1.15 -1.3,1.6 -1.3,-1.6 -1.9,-1.15 1.9,-1.15zM411.2,122.8l1.3,1.6 1.9,1.15 -1.9,1.15 -1.3,1.6 -1.3,-1.6 -1.9,-1.15 1.9,-1.15zM419.4,124.0l1.3,1.6 1.9,1.15 -1.9,1.15 -1.3,1.6 -1.3,-1.6 -1.9,-1.15 1.9,-1.15zM423.1,120.9l1.3,1.6 1.9,1.15 -1.9,1.15 -1.3,1.6 -1.3,-1.6 -1.9,-1.15 1.9,-1.15zM427.5,125.9l1.3,1.6 1.9,1.15 -1.9,1.15 -1.3,1.6 -1.3,-1.6 -1.9,-1.15 1.9,-1.15zM432.5,120.2l1.3,1.6 1.9,1.15 -1.9,1.15 -1.3,1.6 -1.3,-1.6 -1.9,-1.15 1.9,-1.15zM413.8,134.6l1.3,1.6 1.9,1.15 -1.9,1.15 -1.3,1.6 -1.3,-1.6 -1.9,-1.15 1.9,-1.15zM410.6,137.1l1.3,1.6 1.9,1.15 -1.9,1.15 -1.3,1.6 -1.3,-1.6 -1.9,-1.15 1.9,-1.15zM400.0,139.0l1.3,1.6 1.9,1.15 -1.9,1.15 -1.3,1.6 -1.3,-1.6 -1.9,-1.15 1.9,-1.15zM358.8,139.0l1.3,1.6 1.9,1.15 -1.9,1.15 -1.3,1.6 -1.3,-1.6 -1.9,-1.15 1.9,-1.15zM364.4,139.0l1.3,1.6 1.9,1.15 -1.9,1.15 -1.3,1.6 -1.3,-1.6 -1.9,-1.15 1.9,-1.15zM358.1,142.1l1.3,1.6 1.9,1.15 -1.9,1.15 -1.3,1.6 -1.3,-1.6 -1.9,-1.15 1.9,-1.15zM387.5,142.8l1.3,1.6 1.9,1.15 -1.9,1.15 -1.3,1.6 -1.3,-1.6 -1.9,-1.15 1.9,-1.15zM461.2,85.2l1.3,1.6 1.9,1.15 -1.9,1.15 -1.3,1.6 -1.3,-1.6 -1.9,-1.15 1.9,-1.15zM473.1,87.1l1.3,1.6 1.9,1.15 -1.9,1.15 -1.3,1.6 -1.3,-1.6 -1.9,-1.15 1.9,-1.15zM473.8,91.5l1.3,1.6 1.9,1.15 -1.9,1.15 -1.3,1.6 -1.3,-1.6 -1.9,-1.15 1.9,-1.15zM472.5,94.0l1.3,1.6 1.9,1.15 -1.9,1.15 -1.3,1.6 -1.3,-1.6 -1.9,-1.15 1.9,-1.15zM479.4,90.2l1.3,1.6 1.9,1.15 -1.9,1.15 -1.3,1.6 -1.3,-1.6 -1.9,-1.15 1.9,-1.15zM459.4,92.8l1.3,1.6 1.9,1.15 -1.9,1.15 -1.3,1.6 -1.3,-1.6 -1.9,-1.15 1.9,-1.15zM483.1,97.8l1.3,1.6 1.9,1.15 -1.9,1.15 -1.3,1.6 -1.3,-1.6 -1.9,-1.15 1.9,-1.15zM491.9,96.5l1.3,1.6 1.9,1.15 -1.9,1.15 -1.3,1.6 -1.3,-1.6 -1.9,-1.15 1.9,-1.15zM496.9,100.9l1.3,1.6 1.9,1.15 -1.9,1.15 -1.3,1.6 -1.3,-1.6 -1.9,-1.15 1.9,-1.15zM505.6,105.9l1.3,1.6 1.9,1.15 -1.9,1.15 -1.3,1.6 -1.3,-1.6 -1.9,-1.15 1.9,-1.15zM514.4,109.0l1.3,1.6 1.9,1.15 -1.9,1.15 -1.3,1.6 -1.3,-1.6 -1.9,-1.15 1.9,-1.15zM498.8,110.2l1.3,1.6 1.9,1.15 -1.9,1.15 -1.3,1.6 -1.3,-1.6 -1.9,-1.15 1.9,-1.15zM528.1,86.5l1.3,1.6 1.9,1.15 -1.9,1.15 -1.3,1.6 -1.3,-1.6 -1.9,-1.15 1.9,-1.15zM536.2,90.9l1.3,1.6 1.9,1.15 -1.9,1.15 -1.3,1.6 -1.3,-1.6 -1.9,-1.15 1.9,-1.15zM535.0,97.1l1.3,1.6 1.9,1.15 -1.9,1.15 -1.3,1.6 -1.3,-1.6 -1.9,-1.15 1.9,-1.15zM523.1,102.1l1.3,1.6 1.9,1.15 -1.9,1.15 -1.3,1.6 -1.3,-1.6 -1.9,-1.15 1.9,-1.15zM526.9,105.2l1.3,1.6 1.9,1.15 -1.9,1.15 -1.3,1.6 -1.3,-1.6 -1.9,-1.15 1.9,-1.15zM533.8,105.9l1.3,1.6 1.9,1.15 -1.9,1.15 -1.3,1.6 -1.3,-1.6 -1.9,-1.15 1.9,-1.15zM536.2,117.1l1.3,1.6 1.9,1.15 -1.9,1.15 -1.3,1.6 -1.3,-1.6 -1.9,-1.15 1.9,-1.15zM447.5,101.5l1.3,1.6 1.9,1.15 -1.9,1.15 -1.3,1.6 -1.3,-1.6 -1.9,-1.15 1.9,-1.15zM450.0,106.5l1.3,1.6 1.9,1.15 -1.9,1.15 -1.3,1.6 -1.3,-1.6 -1.9,-1.15 1.9,-1.15zM462.5,112.1l1.3,1.6 1.9,1.15 -1.9,1.15 -1.3,1.6 -1.3,-1.6 -1.9,-1.15 1.9,-1.15zM475.6,110.9l1.3,1.6 1.9,1.15 -1.9,1.15 -1.3,1.6 -1.3,-1.6 -1.9,-1.15 1.9,-1.15zM481.9,110.9l1.3,1.6 1.9,1.15 -1.9,1.15 -1.3,1.6 -1.3,-1.6 -1.9,-1.15 1.9,-1.15zM490.6,114.6l1.3,1.6 1.9,1.15 -1.9,1.15 -1.3,1.6 -1.3,-1.6 -1.9,-1.15 1.9,-1.15zM458.1,120.2l1.3,1.6 1.9,1.15 -1.9,1.15 -1.3,1.6 -1.3,-1.6 -1.9,-1.15 1.9,-1.15zM453.8,125.9l1.3,1.6 1.9,1.15 -1.9,1.15 -1.3,1.6 -1.3,-1.6 -1.9,-1.15 1.9,-1.15zM473.1,124.0l1.3,1.6 1.9,1.15 -1.9,1.15 -1.3,1.6 -1.3,-1.6 -1.9,-1.15 1.9,-1.15zM472.5,131.5l1.3,1.6 1.9,1.15 -1.9,1.15 -1.3,1.6 -1.3,-1.6 -1.9,-1.15 1.9,-1.15zM445.0,132.1l1.3,1.6 1.9,1.15 -1.9,1.15 -1.3,1.6 -1.3,-1.6 -1.9,-1.15 1.9,-1.15zM456.9,136.5l1.3,1.6 1.9,1.15 -1.9,1.15 -1.3,1.6 -1.3,-1.6 -1.9,-1.15 1.9,-1.15zM502.5,136.5l1.3,1.6 1.9,1.15 -1.9,1.15 -1.3,1.6 -1.3,-1.6 -1.9,-1.15 1.9,-1.15zM525.6,120.9l1.3,1.6 1.9,1.15 -1.9,1.15 -1.3,1.6 -1.3,-1.6 -1.9,-1.15 1.9,-1.15zM526.2,124.0l1.3,1.6 1.9,1.15 -1.9,1.15 -1.3,1.6 -1.3,-1.6 -1.9,-1.15 1.9,-1.15zM530.6,140.2l1.3,1.6 1.9,1.15 -1.9,1.15 -1.3,1.6 -1.3,-1.6 -1.9,-1.15 1.9,-1.15zM481.2,142.8l1.3,1.6 1.9,1.15 -1.9,1.15 -1.3,1.6 -1.3,-1.6 -1.9,-1.15 1.9,-1.15zM542.5,85.9l1.3,1.6 1.9,1.15 -1.9,1.15 -1.3,1.6 -1.3,-1.6 -1.9,-1.15 1.9,-1.15zM546.9,93.4l1.3,1.6 1.9,1.15 -1.9,1.15 -1.3,1.6 -1.3,-1.6 -1.9,-1.15 1.9,-1.15zM561.9,90.9l1.3,1.6 1.9,1.15 -1.9,1.15 -1.3,1.6 -1.3,-1.6 -1.9,-1.15 1.9,-1.15zM570.6,94.0l1.3,1.6 1.9,1.15 -1.9,1.15 -1.3,1.6 -1.3,-1.6 -1.9,-1.15 1.9,-1.15zM571.9,100.9l1.3,1.6 1.9,1.15 -1.9,1.15 -1.3,1.6 -1.3,-1.6 -1.9,-1.15 1.9,-1.15zM556.9,97.1l1.3,1.6 1.9,1.15 -1.9,1.15 -1.3,1.6 -1.3,-1.6 -1.9,-1.15 1.9,-1.15zM557.5,104.0l1.3,1.6 1.9,1.15 -1.9,1.15 -1.3,1.6 -1.3,-1.6 -1.9,-1.15 1.9,-1.15zM563.1,100.9l1.3,1.6 1.9,1.15 -1.9,1.15 -1.3,1.6 -1.3,-1.6 -1.9,-1.15 1.9,-1.15zM543.8,112.8l1.3,1.6 1.9,1.15 -1.9,1.15 -1.3,1.6 -1.3,-1.6 -1.9,-1.15 1.9,-1.15zM544.4,115.9l1.3,1.6 1.9,1.15 -1.9,1.15 -1.3,1.6 -1.3,-1.6 -1.9,-1.15 1.9,-1.15zM541.2,122.8l1.3,1.6 1.9,1.15 -1.9,1.15 -1.3,1.6 -1.3,-1.6 -1.9,-1.15 1.9,-1.15zM579.4,115.2l1.3,1.6 1.9,1.15 -1.9,1.15 -1.3,1.6 -1.3,-1.6 -1.9,-1.15 1.9,-1.15zM596.9,93.4l1.3,1.6 1.9,1.15 -1.9,1.15 -1.3,1.6 -1.3,-1.6 -1.9,-1.15 1.9,-1.15zM602.5,90.9l1.3,1.6 1.9,1.15 -1.9,1.15 -1.3,1.6 -1.3,-1.6 -1.9,-1.15 1.9,-1.15zM608.8,90.2l1.3,1.6 1.9,1.15 -1.9,1.15 -1.3,1.6 -1.3,-1.6 -1.9,-1.15 1.9,-1.15zM611.2,95.2l1.3,1.6 1.9,1.15 -1.9,1.15 -1.3,1.6 -1.3,-1.6 -1.9,-1.15 1.9,-1.15zM620.0,95.9l1.3,1.6 1.9,1.15 -1.9,1.15 -1.3,1.6 -1.3,-1.6 -1.9,-1.15 1.9,-1.15zM625.6,94.6l1.3,1.6 1.9,1.15 -1.9,1.15 -1.3,1.6 -1.3,-1.6 -1.9,-1.15 1.9,-1.15zM607.5,102.8l1.3,1.6 1.9,1.15 -1.9,1.15 -1.3,1.6 -1.3,-1.6 -1.9,-1.15 1.9,-1.15zM608.1,105.9l1.3,1.6 1.9,1.15 -1.9,1.15 -1.3,1.6 -1.3,-1.6 -1.9,-1.15 1.9,-1.15zM626.2,107.8l1.3,1.6 1.9,1.15 -1.9,1.15 -1.3,1.6 -1.3,-1.6 -1.9,-1.15 1.9,-1.15zM635.6,103.4l1.3,1.6 1.9,1.15 -1.9,1.15 -1.3,1.6 -1.3,-1.6 -1.9,-1.15 1.9,-1.15zM607.5,115.9l1.3,1.6 1.9,1.15 -1.9,1.15 -1.3,1.6 -1.3,-1.6 -1.9,-1.15 1.9,-1.15zM616.2,115.2l1.3,1.6 1.9,1.15 -1.9,1.15 -1.3,1.6 -1.3,-1.6 -1.9,-1.15 1.9,-1.15zM615.6,121.5l1.3,1.6 1.9,1.15 -1.9,1.15 -1.3,1.6 -1.3,-1.6 -1.9,-1.15 1.9,-1.15zM590.0,127.8l1.3,1.6 1.9,1.15 -1.9,1.15 -1.3,1.6 -1.3,-1.6 -1.9,-1.15 1.9,-1.15zM603.8,129.0l1.3,1.6 1.9,1.15 -1.9,1.15 -1.3,1.6 -1.3,-1.6 -1.9,-1.15 1.9,-1.15zM621.9,130.2l1.3,1.6 1.9,1.15 -1.9,1.15 -1.3,1.6 -1.3,-1.6 -1.9,-1.15 1.9,-1.15zM621.2,133.4l1.3,1.6 1.9,1.15 -1.9,1.15 -1.3,1.6 -1.3,-1.6 -1.9,-1.15 1.9,-1.15zM575.6,135.2l1.3,1.6 1.9,1.15 -1.9,1.15 -1.3,1.6 -1.3,-1.6 -1.9,-1.15 1.9,-1.15zM585.6,135.2l1.3,1.6 1.9,1.15 -1.9,1.15 -1.3,1.6 -1.3,-1.6 -1.9,-1.15 1.9,-1.15zM596.9,135.2l1.3,1.6 1.9,1.15 -1.9,1.15 -1.3,1.6 -1.3,-1.6 -1.9,-1.15 1.9,-1.15zM596.9,140.2l1.3,1.6 1.9,1.15 -1.9,1.15 -1.3,1.6 -1.3,-1.6 -1.9,-1.15 1.9,-1.15zM617.5,141.5l1.3,1.6 1.9,1.15 -1.9,1.15 -1.3,1.6 -1.3,-1.6 -1.9,-1.15 1.9,-1.15zM631.2,142.1l1.3,1.6 1.9,1.15 -1.9,1.15 -1.3,1.6 -1.3,-1.6 -1.9,-1.15 1.9,-1.15zM651.2,111.5l1.3,1.6 1.9,1.15 -1.9,1.15 -1.3,1.6 -1.3,-1.6 -1.9,-1.15 1.9,-1.15zM662.5,110.9l1.3,1.6 1.9,1.15 -1.9,1.15 -1.3,1.6 -1.3,-1.6 -1.9,-1.15 1.9,-1.15zM666.9,120.9l1.3,1.6 1.9,1.15 -1.9,1.15 -1.3,1.6 -1.3,-1.6 -1.9,-1.15 1.9,-1.15zM647.5,126.5l1.3,1.6 1.9,1.15 -1.9,1.15 -1.3,1.6 -1.3,-1.6 -1.9,-1.15 1.9,-1.15zM669.4,130.9l1.3,1.6 1.9,1.15 -1.9,1.15 -1.3,1.6 -1.3,-1.6 -1.9,-1.15 1.9,-1.15zM667.5,134.6l1.3,1.6 1.9,1.15 -1.9,1.15 -1.3,1.6 -1.3,-1.6 -1.9,-1.15 1.9,-1.15zM656.2,135.2l1.3,1.6 1.9,1.15 -1.9,1.15 -1.3,1.6 -1.3,-1.6 -1.9,-1.15 1.9,-1.15zM681.2,125.2l1.3,1.6 1.9,1.15 -1.9,1.15 -1.3,1.6 -1.3,-1.6 -1.9,-1.15 1.9,-1.15zM687.5,129.6l1.3,1.6 1.9,1.15 -1.9,1.15 -1.3,1.6 -1.3,-1.6 -1.9,-1.15 1.9,-1.15zM691.2,139.6l1.3,1.6 1.9,1.15 -1.9,1.15 -1.3,1.6 -1.3,-1.6 -1.9,-1.15 1.9,-1.15zM644.4,137.8l1.3,1.6 1.9,1.15 -1.9,1.15 -1.3,1.6 -1.3,-1.6 -1.9,-1.15 1.9,-1.15zM642.5,140.9l1.3,1.6 1.9,1.15 -1.9,1.15 -1.3,1.6 -1.3,-1.6 -1.9,-1.15 1.9,-1.15zM673.8,142.8l1.3,1.6 1.9,1.15 -1.9,1.15 -1.3,1.6 -1.3,-1.6 -1.9,-1.15 1.9,-1.15zM660.0,143.0l1.3,1.6 1.9,1.15 -1.9,1.15 -1.3,1.6 -1.3,-1.6 -1.9,-1.15 1.9,-1.15zM98.8,146.4l1.3,1.6 1.9,1.15 -1.9,1.15 -1.3,1.6 -1.3,-1.6 -1.9,-1.15 1.9,-1.15zM116.9,147.0l1.3,1.6 1.9,1.15 -1.9,1.15 -1.3,1.6 -1.3,-1.6 -1.9,-1.15 1.9,-1.15zM128.8,150.8l1.3,1.6 1.9,1.15 -1.9,1.15 -1.3,1.6 -1.3,-1.6 -1.9,-1.15 1.9,-1.15zM138.8,148.2l1.3,1.6 1.9,1.15 -1.9,1.15 -1.3,1.6 -1.3,-1.6 -1.9,-1.15 1.9,-1.15zM114.4,157.0l1.3,1.6 1.9,1.15 -1.9,1.15 -1.3,1.6 -1.3,-1.6 -1.9,-1.15 1.9,-1.15zM135.0,158.2l1.3,1.6 1.9,1.15 -1.9,1.15 -1.3,1.6 -1.3,-1.6 -1.9,-1.15 1.9,-1.15zM115.0,164.5l1.3,1.6 1.9,1.15 -1.9,1.15 -1.3,1.6 -1.3,-1.6 -1.9,-1.15 1.9,-1.15zM129.4,167.6l1.3,1.6 1.9,1.15 -1.9,1.15 -1.3,1.6 -1.3,-1.6 -1.9,-1.15 1.9,-1.15zM130.0,170.8l1.3,1.6 1.9,1.15 -1.9,1.15 -1.3,1.6 -1.3,-1.6 -1.9,-1.15 1.9,-1.15zM81.2,167.0l1.3,1.6 1.9,1.15 -1.9,1.15 -1.3,1.6 -1.3,-1.6 -1.9,-1.15 1.9,-1.15zM78.1,177.6l1.3,1.6 1.9,1.15 -1.9,1.15 -1.3,1.6 -1.3,-1.6 -1.9,-1.15 1.9,-1.15zM122.5,183.2l1.3,1.6 1.9,1.15 -1.9,1.15 -1.3,1.6 -1.3,-1.6 -1.9,-1.15 1.9,-1.15zM111.9,195.1l1.3,1.6 1.9,1.15 -1.9,1.15 -1.3,1.6 -1.3,-1.6 -1.9,-1.15 1.9,-1.15zM80.6,197.0l1.3,1.6 1.9,1.15 -1.9,1.15 -1.3,1.6 -1.3,-1.6 -1.9,-1.15 1.9,-1.15zM98.8,198.9l1.3,1.6 1.9,1.15 -1.9,1.15 -1.3,1.6 -1.3,-1.6 -1.9,-1.15 1.9,-1.15zM113.8,200.1l1.3,1.6 1.9,1.15 -1.9,1.15 -1.3,1.6 -1.3,-1.6 -1.9,-1.15 1.9,-1.15zM147.5,146.4l1.3,1.6 1.9,1.15 -1.9,1.15 -1.3,1.6 -1.3,-1.6 -1.9,-1.15 1.9,-1.15zM183.8,147.0l1.3,1.6 1.9,1.15 -1.9,1.15 -1.3,1.6 -1.3,-1.6 -1.9,-1.15 1.9,-1.15zM189.4,149.5l1.3,1.6 1.9,1.15 -1.9,1.15 -1.3,1.6 -1.3,-1.6 -1.9,-1.15 1.9,-1.15zM153.8,155.1l1.3,1.6 1.9,1.15 -1.9,1.15 -1.3,1.6 -1.3,-1.6 -1.9,-1.15 1.9,-1.15zM163.1,158.2l1.3,1.6 1.9,1.15 -1.9,1.15 -1.3,1.6 -1.3,-1.6 -1.9,-1.15 1.9,-1.15zM166.2,159.5l1.3,1.6 1.9,1.15 -1.9,1.15 -1.3,1.6 -1.3,-1.6 -1.9,-1.15 1.9,-1.15zM183.1,158.9l1.3,1.6 1.9,1.15 -1.9,1.15 -1.3,1.6 -1.3,-1.6 -1.9,-1.15 1.9,-1.15zM189.4,160.8l1.3,1.6 1.9,1.15 -1.9,1.15 -1.3,1.6 -1.3,-1.6 -1.9,-1.15 1.9,-1.15zM198.1,157.0l1.3,1.6 1.9,1.15 -1.9,1.15 -1.3,1.6 -1.3,-1.6 -1.9,-1.15 1.9,-1.15zM218.8,156.4l1.3,1.6 1.9,1.15 -1.9,1.15 -1.3,1.6 -1.3,-1.6 -1.9,-1.15 1.9,-1.15zM238.1,145.8l1.3,1.6 1.9,1.15 -1.9,1.15 -1.3,1.6 -1.3,-1.6 -1.9,-1.15 1.9,-1.15zM172.5,165.8l1.3,1.6 1.9,1.15 -1.9,1.15 -1.3,1.6 -1.3,-1.6 -1.9,-1.15 1.9,-1.15zM173.8,167.6l1.3,1.6 1.9,1.15 -1.9,1.15 -1.3,1.6 -1.3,-1.6 -1.9,-1.15 1.9,-1.15zM202.5,165.1l1.3,1.6 1.9,1.15 -1.9,1.15 -1.3,1.6 -1.3,-1.6 -1.9,-1.15 1.9,-1.15zM211.9,165.1l1.3,1.6 1.9,1.15 -1.9,1.15 -1.3,1.6 -1.3,-1.6 -1.9,-1.15 1.9,-1.15zM229.4,163.2l1.3,1.6 1.9,1.15 -1.9,1.15 -1.3,1.6 -1.3,-1.6 -1.9,-1.15 1.9,-1.15zM193.8,172.6l1.3,1.6 1.9,1.15 -1.9,1.15 -1.3,1.6 -1.3,-1.6 -1.9,-1.15 1.9,-1.15zM197.5,172.6l1.3,1.6 1.9,1.15 -1.9,1.15 -1.3,1.6 -1.3,-1.6 -1.9,-1.15 1.9,-1.15zM188.1,176.4l1.3,1.6 1.9,1.15 -1.9,1.15 -1.3,1.6 -1.3,-1.6 -1.9,-1.15 1.9,-1.15zM187.5,178.2l1.3,1.6 1.9,1.15 -1.9,1.15 -1.3,1.6 -1.3,-1.6 -1.9,-1.15 1.9,-1.15zM168.8,176.4l1.3,1.6 1.9,1.15 -1.9,1.15 -1.3,1.6 -1.3,-1.6 -1.9,-1.15 1.9,-1.15zM150.6,185.1l1.3,1.6 1.9,1.15 -1.9,1.15 -1.3,1.6 -1.3,-1.6 -1.9,-1.15 1.9,-1.15zM218.1,178.2l1.3,1.6 1.9,1.15 -1.9,1.15 -1.3,1.6 -1.3,-1.6 -1.9,-1.15 1.9,-1.15zM223.1,175.1l1.3,1.6 1.9,1.15 -1.9,1.15 -1.3,1.6 -1.3,-1.6 -1.9,-1.15 1.9,-1.15zM229.4,179.5l1.3,1.6 1.9,1.15 -1.9,1.15 -1.3,1.6 -1.3,-1.6 -1.9,-1.15 1.9,-1.15zM221.9,187.0l1.3,1.6 1.9,1.15 -1.9,1.15 -1.3,1.6 -1.3,-1.6 -1.9,-1.15 1.9,-1.15zM236.9,187.6l1.3,1.6 1.9,1.15 -1.9,1.15 -1.3,1.6 -1.3,-1.6 -1.9,-1.15 1.9,-1.15zM230.6,192.0l1.3,1.6 1.9,1.15 -1.9,1.15 -1.3,1.6 -1.3,-1.6 -1.9,-1.15 1.9,-1.15zM217.5,194.5l1.3,1.6 1.9,1.15 -1.9,1.15 -1.3,1.6 -1.3,-1.6 -1.9,-1.15 1.9,-1.15zM223.1,196.4l1.3,1.6 1.9,1.15 -1.9,1.15 -1.3,1.6 -1.3,-1.6 -1.9,-1.15 1.9,-1.15zM166.9,194.5l1.3,1.6 1.9,1.15 -1.9,1.15 -1.3,1.6 -1.3,-1.6 -1.9,-1.15 1.9,-1.15zM171.2,194.5l1.3,1.6 1.9,1.15 -1.9,1.15 -1.3,1.6 -1.3,-1.6 -1.9,-1.15 1.9,-1.15zM175.6,197.0l1.3,1.6 1.9,1.15 -1.9,1.15 -1.3,1.6 -1.3,-1.6 -1.9,-1.15 1.9,-1.15zM170.6,198.2l1.3,1.6 1.9,1.15 -1.9,1.15 -1.3,1.6 -1.3,-1.6 -1.9,-1.15 1.9,-1.15zM185.6,197.6l1.3,1.6 1.9,1.15 -1.9,1.15 -1.3,1.6 -1.3,-1.6 -1.9,-1.15 1.9,-1.15zM211.9,198.9l1.3,1.6 1.9,1.15 -1.9,1.15 -1.3,1.6 -1.3,-1.6 -1.9,-1.15 1.9,-1.15zM237.5,198.2l1.3,1.6 1.9,1.15 -1.9,1.15 -1.3,1.6 -1.3,-1.6 -1.9,-1.15 1.9,-1.15zM270.0,144.5l1.3,1.6 1.9,1.15 -1.9,1.15 -1.3,1.6 -1.3,-1.6 -1.9,-1.15 1.9,-1.15zM291.2,152.0l1.3,1.6 1.9,1.15 -1.9,1.15 -1.3,1.6 -1.3,-1.6 -1.9,-1.15 1.9,-1.15zM308.1,156.4l1.3,1.6 1.9,1.15 -1.9,1.15 -1.3,1.6 -1.3,-1.6 -1.9,-1.15 1.9,-1.15zM244.4,163.9l1.3,1.6 1.9,1.15 -1.9,1.15 -1.3,1.6 -1.3,-1.6 -1.9,-1.15 1.9,-1.15zM278.8,166.4l1.3,1.6 1.9,1.15 -1.9,1.15 -1.3,1.6 -1.3,-1.6 -1.9,-1.15 1.9,-1.15zM325.6,167.6l1.3,1.6 1.9,1.15 -1.9,1.15 -1.3,1.6 -1.3,-1.6 -1.9,-1.15 1.9,-1.15zM338.8,163.2l1.3,1.6 1.9,1.15 -1.9,1.15 -1.3,1.6 -1.3,-1.6 -1.9,-1.15 1.9,-1.15zM296.9,176.4l1.3,1.6 1.9,1.15 -1.9,1.15 -1.3,1.6 -1.3,-1.6 -1.9,-1.15 1.9,-1.15zM305.0,175.1l1.3,1.6 1.9,1.15 -1.9,1.15 -1.3,1.6 -1.3,-1.6 -1.9,-1.15 1.9,-1.15zM256.2,180.1l1.3,1.6 1.9,1.15 -1.9,1.15 -1.3,1.6 -1.3,-1.6 -1.9,-1.15 1.9,-1.15zM272.5,178.9l1.3,1.6 1.9,1.15 -1.9,1.15 -1.3,1.6 -1.3,-1.6 -1.9,-1.15 1.9,-1.15zM274.4,182.6l1.3,1.6 1.9,1.15 -1.9,1.15 -1.3,1.6 -1.3,-1.6 -1.9,-1.15 1.9,-1.15zM280.0,179.5l1.3,1.6 1.9,1.15 -1.9,1.15 -1.3,1.6 -1.3,-1.6 -1.9,-1.15 1.9,-1.15zM287.5,181.4l1.3,1.6 1.9,1.15 -1.9,1.15 -1.3,1.6 -1.3,-1.6 -1.9,-1.15 1.9,-1.15zM301.9,183.9l1.3,1.6 1.9,1.15 -1.9,1.15 -1.3,1.6 -1.3,-1.6 -1.9,-1.15 1.9,-1.15zM305.6,182.0l1.3,1.6 1.9,1.15 -1.9,1.15 -1.3,1.6 -1.3,-1.6 -1.9,-1.15 1.9,-1.15zM305.6,188.2l1.3,1.6 1.9,1.15 -1.9,1.15 -1.3,1.6 -1.3,-1.6 -1.9,-1.15 1.9,-1.15zM325.6,178.2l1.3,1.6 1.9,1.15 -1.9,1.15 -1.3,1.6 -1.3,-1.6 -1.9,-1.15 1.9,-1.15zM336.9,180.1l1.3,1.6 1.9,1.15 -1.9,1.15 -1.3,1.6 -1.3,-1.6 -1.9,-1.15 1.9,-1.15zM242.5,189.5l1.3,1.6 1.9,1.15 -1.9,1.15 -1.3,1.6 -1.3,-1.6 -1.9,-1.15 1.9,-1.15zM247.5,187.6l1.3,1.6 1.9,1.15 -1.9,1.15 -1.3,1.6 -1.3,-1.6 -1.9,-1.15 1.9,-1.15zM261.9,193.2l1.3,1.6 1.9,1.15 -1.9,1.15 -1.3,1.6 -1.3,-1.6 -1.9,-1.15 1.9,-1.15zM268.1,197.0l1.3,1.6 1.9,1.15 -1.9,1.15 -1.3,1.6 -1.3,-1.6 -1.9,-1.15 1.9,-1.15zM295.6,190.1l1.3,1.6 1.9,1.15 -1.9,1.15 -1.3,1.6 -1.3,-1.6 -1.9,-1.15 1.9,-1.15zM305.6,195.8l1.3,1.6 1.9,1.15 -1.9,1.15 -1.3,1.6 -1.3,-1.6 -1.9,-1.15 1.9,-1.15zM277.5,200.8l1.3,1.6 1.9,1.15 -1.9,1.15 -1.3,1.6 -1.3,-1.6 -1.9,-1.15 1.9,-1.15zM332.5,200.1l1.3,1.6 1.9,1.15 -1.9,1.15 -1.3,1.6 -1.3,-1.6 -1.9,-1.15 1.9,-1.15zM345.0,147.6l1.3,1.6 1.9,1.15 -1.9,1.15 -1.3,1.6 -1.3,-1.6 -1.9,-1.15 1.9,-1.15zM368.8,147.6l1.3,1.6 1.9,1.15 -1.9,1.15 -1.3,1.6 -1.3,-1.6 -1.9,-1.15 1.9,-1.15zM372.5,151.4l1.3,1.6 1.9,1.15 -1.9,1.15 -1.3,1.6 -1.3,-1.6 -1.9,-1.15 1.9,-1.15zM373.1,153.9l1.3,1.6 1.9,1.15 -1.9,1.15 -1.3,1.6 -1.3,-1.6 -1.9,-1.15 1.9,-1.15zM396.9,150.8l1.3,1.6 1.9,1.15 -1.9,1.15 -1.3,1.6 -1.3,-1.6 -1.9,-1.15 1.9,-1.15zM392.5,157.0l1.3,1.6 1.9,1.15 -1.9,1.15 -1.3,1.6 -1.3,-1.6 -1.9,-1.15 1.9,-1.15zM407.5,152.6l1.3,1.6 1.9,1.15 -1.9,1.15 -1.3,1.6 -1.3,-1.6 -1.9,-1.15 1.9,-1.15zM425.0,155.8l1.3,1.6 1.9,1.15 -1.9,1.15 -1.3,1.6 -1.3,-1.6 -1.9,-1.15 1.9,-1.15zM438.1,147.0l1.3,1.6 1.9,1.15 -1.9,1.15 -1.3,1.6 -1.3,-1.6 -1.9,-1.15 1.9,-1.15zM355.6,163.2l1.3,1.6 1.9,1.15 -1.9,1.15 -1.3,1.6 -1.3,-1.6 -1.9,-1.15 1.9,-1.15zM341.9,166.4l1.3,1.6 1.9,1.15 -1.9,1.15 -1.3,1.6 -1.3,-1.6 -1.9,-1.15 1.9,-1.15zM396.2,166.4l1.3,1.6 1.9,1.15 -1.9,1.15 -1.3,1.6 -1.3,-1.6 -1.9,-1.15 1.9,-1.15zM408.1,165.1l1.3,1.6 1.9,1.15 -1.9,1.15 -1.3,1.6 -1.3,-1.6 -1.9,-1.15 1.9,-1.15zM414.4,162.0l1.3,1.6 1.9,1.15 -1.9,1.15 -1.3,1.6 -1.3,-1.6 -1.9,-1.15 1.9,-1.15zM416.2,165.1l1.3,1.6 1.9,1.15 -1.9,1.15 -1.3,1.6 -1.3,-1.6 -1.9,-1.15 1.9,-1.15zM421.2,167.6l1.3,1.6 1.9,1.15 -1.9,1.15 -1.3,1.6 -1.3,-1.6 -1.9,-1.15 1.9,-1.15zM433.8,165.1l1.3,1.6 1.9,1.15 -1.9,1.15 -1.3,1.6 -1.3,-1.6 -1.9,-1.15 1.9,-1.15zM436.9,168.9l1.3,1.6 1.9,1.15 -1.9,1.15 -1.3,1.6 -1.3,-1.6 -1.9,-1.15 1.9,-1.15zM397.5,179.5l1.3,1.6 1.9,1.15 -1.9,1.15 -1.3,1.6 -1.3,-1.6 -1.9,-1.15 1.9,-1.15zM413.1,176.4l1.3,1.6 1.9,1.15 -1.9,1.15 -1.3,1.6 -1.3,-1.6 -1.9,-1.15 1.9,-1.15zM415.0,183.2l1.3,1.6 1.9,1.15 -1.9,1.15 -1.3,1.6 -1.3,-1.6 -1.9,-1.15 1.9,-1.15zM380.6,183.2l1.3,1.6 1.9,1.15 -1.9,1.15 -1.3,1.6 -1.3,-1.6 -1.9,-1.15 1.9,-1.15zM383.1,192.0l1.3,1.6 1.9,1.15 -1.9,1.15 -1.3,1.6 -1.3,-1.6 -1.9,-1.15 1.9,-1.15zM400.0,191.4l1.3,1.6 1.9,1.15 -1.9,1.15 -1.3,1.6 -1.3,-1.6 -1.9,-1.15 1.9,-1.15zM419.4,188.2l1.3,1.6 1.9,1.15 -1.9,1.15 -1.3,1.6 -1.3,-1.6 -1.9,-1.15 1.9,-1.15zM415.0,193.2l1.3,1.6 1.9,1.15 -1.9,1.15 -1.3,1.6 -1.3,-1.6 -1.9,-1.15 1.9,-1.15zM436.9,180.8l1.3,1.6 1.9,1.15 -1.9,1.15 -1.3,1.6 -1.3,-1.6 -1.9,-1.15 1.9,-1.15zM438.8,187.6l1.3,1.6 1.9,1.15 -1.9,1.15 -1.3,1.6 -1.3,-1.6 -1.9,-1.15 1.9,-1.15zM373.8,195.8l1.3,1.6 1.9,1.15 -1.9,1.15 -1.3,1.6 -1.3,-1.6 -1.9,-1.15 1.9,-1.15zM370.0,199.5l1.3,1.6 1.9,1.15 -1.9,1.15 -1.3,1.6 -1.3,-1.6 -1.9,-1.15 1.9,-1.15zM341.9,197.0l1.3,1.6 1.9,1.15 -1.9,1.15 -1.3,1.6 -1.3,-1.6 -1.9,-1.15 1.9,-1.15zM432.5,198.9l1.3,1.6 1.9,1.15 -1.9,1.15 -1.3,1.6 -1.3,-1.6 -1.9,-1.15 1.9,-1.15zM512.5,143.9l1.3,1.6 1.9,1.15 -1.9,1.15 -1.3,1.6 -1.3,-1.6 -1.9,-1.15 1.9,-1.15zM453.1,153.2l1.3,1.6 1.9,1.15 -1.9,1.15 -1.3,1.6 -1.3,-1.6 -1.9,-1.15 1.9,-1.15zM454.4,155.1l1.3,1.6 1.9,1.15 -1.9,1.15 -1.3,1.6 -1.3,-1.6 -1.9,-1.15 1.9,-1.15zM448.1,160.1l1.3,1.6 1.9,1.15 -1.9,1.15 -1.3,1.6 -1.3,-1.6 -1.9,-1.15 1.9,-1.15zM441.2,163.2l1.3,1.6 1.9,1.15 -1.9,1.15 -1.3,1.6 -1.3,-1.6 -1.9,-1.15 1.9,-1.15zM472.5,158.9l1.3,1.6 1.9,1.15 -1.9,1.15 -1.3,1.6 -1.3,-1.6 -1.9,-1.15 1.9,-1.15zM482.5,160.1l1.3,1.6 1.9,1.15 -1.9,1.15 -1.3,1.6 -1.3,-1.6 -1.9,-1.15 1.9,-1.15zM485.6,162.0l1.3,1.6 1.9,1.15 -1.9,1.15 -1.3,1.6 -1.3,-1.6 -1.9,-1.15 1.9,-1.15zM490.6,166.4l1.3,1.6 1.9,1.15 -1.9,1.15 -1.3,1.6 -1.3,-1.6 -1.9,-1.15 1.9,-1.15zM503.1,158.2l1.3,1.6 1.9,1.15 -1.9,1.15 -1.3,1.6 -1.3,-1.6 -1.9,-1.15 1.9,-1.15zM508.8,162.6l1.3,1.6 1.9,1.15 -1.9,1.15 -1.3,1.6 -1.3,-1.6 -1.9,-1.15 1.9,-1.15zM512.5,162.0l1.3,1.6 1.9,1.15 -1.9,1.15 -1.3,1.6 -1.3,-1.6 -1.9,-1.15 1.9,-1.15zM516.2,166.4l1.3,1.6 1.9,1.15 -1.9,1.15 -1.3,1.6 -1.3,-1.6 -1.9,-1.15 1.9,-1.15zM515.6,168.9l1.3,1.6 1.9,1.15 -1.9,1.15 -1.3,1.6 -1.3,-1.6 -1.9,-1.15 1.9,-1.15zM518.1,155.1l1.3,1.6 1.9,1.15 -1.9,1.15 -1.3,1.6 -1.3,-1.6 -1.9,-1.15 1.9,-1.15zM520.6,161.4l1.3,1.6 1.9,1.15 -1.9,1.15 -1.3,1.6 -1.3,-1.6 -1.9,-1.15 1.9,-1.15zM531.2,148.9l1.3,1.6 1.9,1.15 -1.9,1.15 -1.3,1.6 -1.3,-1.6 -1.9,-1.15 1.9,-1.15zM530.6,153.2l1.3,1.6 1.9,1.15 -1.9,1.15 -1.3,1.6 -1.3,-1.6 -1.9,-1.15 1.9,-1.15zM531.9,155.8l1.3,1.6 1.9,1.15 -1.9,1.15 -1.3,1.6 -1.3,-1.6 -1.9,-1.15 1.9,-1.15zM529.4,162.6l1.3,1.6 1.9,1.15 -1.9,1.15 -1.3,1.6 -1.3,-1.6 -1.9,-1.15 1.9,-1.15zM470.6,174.5l1.3,1.6 1.9,1.15 -1.9,1.15 -1.3,1.6 -1.3,-1.6 -1.9,-1.15 1.9,-1.15zM480.0,172.6l1.3,1.6 1.9,1.15 -1.9,1.15 -1.3,1.6 -1.3,-1.6 -1.9,-1.15 1.9,-1.15zM460.6,177.0l1.3,1.6 1.9,1.15 -1.9,1.15 -1.3,1.6 -1.3,-1.6 -1.9,-1.15 1.9,-1.15zM518.1,176.4l1.3,1.6 1.9,1.15 -1.9,1.15 -1.3,1.6 -1.3,-1.6 -1.9,-1.15 1.9,-1.15zM521.9,181.4l1.3,1.6 1.9,1.15 -1.9,1.15 -1.3,1.6 -1.3,-1.6 -1.9,-1.15 1.9,-1.15zM510.6,180.8l1.3,1.6 1.9,1.15 -1.9,1.15 -1.3,1.6 -1.3,-1.6 -1.9,-1.15 1.9,-1.15zM445.6,193.2l1.3,1.6 1.9,1.15 -1.9,1.15 -1.3,1.6 -1.3,-1.6 -1.9,-1.15 1.9,-1.15zM465.6,192.0l1.3,1.6 1.9,1.15 -1.9,1.15 -1.3,1.6 -1.3,-1.6 -1.9,-1.15 1.9,-1.15zM479.4,195.8l1.3,1.6 1.9,1.15 -1.9,1.15 -1.3,1.6 -1.3,-1.6 -1.9,-1.15 1.9,-1.15zM496.2,197.6l1.3,1.6 1.9,1.15 -1.9,1.15 -1.3,1.6 -1.3,-1.6 -1.9,-1.15 1.9,-1.15zM501.2,192.0l1.3,1.6 1.9,1.15 -1.9,1.15 -1.3,1.6 -1.3,-1.6 -1.9,-1.15 1.9,-1.15zM538.8,198.2l1.3,1.6 1.9,1.15 -1.9,1.15 -1.3,1.6 -1.3,-1.6 -1.9,-1.15 1.9,-1.15zM595.0,144.5l1.3,1.6 1.9,1.15 -1.9,1.15 -1.3,1.6 -1.3,-1.6 -1.9,-1.15 1.9,-1.15zM545.6,152.6l1.3,1.6 1.9,1.15 -1.9,1.15 -1.3,1.6 -1.3,-1.6 -1.9,-1.15 1.9,-1.15zM566.2,151.4l1.3,1.6 1.9,1.15 -1.9,1.15 -1.3,1.6 -1.3,-1.6 -1.9,-1.15 1.9,-1.15zM563.8,157.0l1.3,1.6 1.9,1.15 -1.9,1.15 -1.3,1.6 -1.3,-1.6 -1.9,-1.15 1.9,-1.15zM555.0,160.8l1.3,1.6 1.9,1.15 -1.9,1.15 -1.3,1.6 -1.3,-1.6 -1.9,-1.15 1.9,-1.15zM584.4,149.5l1.3,1.6 1.9,1.15 -1.9,1.15 -1.3,1.6 -1.3,-1.6 -1.9,-1.15 1.9,-1.15zM615.6,150.8l1.3,1.6 1.9,1.15 -1.9,1.15 -1.3,1.6 -1.3,-1.6 -1.9,-1.15 1.9,-1.15zM620.6,155.8l1.3,1.6 1.9,1.15 -1.9,1.15 -1.3,1.6 -1.3,-1.6 -1.9,-1.15 1.9,-1.15zM636.9,155.1l1.3,1.6 1.9,1.15 -1.9,1.15 -1.3,1.6 -1.3,-1.6 -1.9,-1.15 1.9,-1.15zM637.5,158.9l1.3,1.6 1.9,1.15 -1.9,1.15 -1.3,1.6 -1.3,-1.6 -1.9,-1.15 1.9,-1.15zM636.2,165.1l1.3,1.6 1.9,1.15 -1.9,1.15 -1.3,1.6 -1.3,-1.6 -1.9,-1.15 1.9,-1.15zM627.5,162.0l1.3,1.6 1.9,1.15 -1.9,1.15 -1.3,1.6 -1.3,-1.6 -1.9,-1.15 1.9,-1.15zM609.4,163.9l1.3,1.6 1.9,1.15 -1.9,1.15 -1.3,1.6 -1.3,-1.6 -1.9,-1.15 1.9,-1.15zM598.1,170.1l1.3,1.6 1.9,1.15 -1.9,1.15 -1.3,1.6 -1.3,-1.6 -1.9,-1.15 1.9,-1.15zM545.6,170.1l1.3,1.6 1.9,1.15 -1.9,1.15 -1.3,1.6 -1.3,-1.6 -1.9,-1.15 1.9,-1.15zM607.5,177.6l1.3,1.6 1.9,1.15 -1.9,1.15 -1.3,1.6 -1.3,-1.6 -1.9,-1.15 1.9,-1.15zM623.1,175.1l1.3,1.6 1.9,1.15 -1.9,1.15 -1.3,1.6 -1.3,-1.6 -1.9,-1.15 1.9,-1.15zM628.8,176.4l1.3,1.6 1.9,1.15 -1.9,1.15 -1.3,1.6 -1.3,-1.6 -1.9,-1.15 1.9,-1.15zM631.2,170.1l1.3,1.6 1.9,1.15 -1.9,1.15 -1.3,1.6 -1.3,-1.6 -1.9,-1.15 1.9,-1.15zM632.5,175.1l1.3,1.6 1.9,1.15 -1.9,1.15 -1.3,1.6 -1.3,-1.6 -1.9,-1.15 1.9,-1.15zM554.4,183.2l1.3,1.6 1.9,1.15 -1.9,1.15 -1.3,1.6 -1.3,-1.6 -1.9,-1.15 1.9,-1.15zM579.4,185.1l1.3,1.6 1.9,1.15 -1.9,1.15 -1.3,1.6 -1.3,-1.6 -1.9,-1.15 1.9,-1.15zM590.0,187.0l1.3,1.6 1.9,1.15 -1.9,1.15 -1.3,1.6 -1.3,-1.6 -1.9,-1.15 1.9,-1.15zM597.5,182.0l1.3,1.6 1.9,1.15 -1.9,1.15 -1.3,1.6 -1.3,-1.6 -1.9,-1.15 1.9,-1.15zM563.1,190.8l1.3,1.6 1.9,1.15 -1.9,1.15 -1.3,1.6 -1.3,-1.6 -1.9,-1.15 1.9,-1.15zM566.9,192.6l1.3,1.6 1.9,1.15 -1.9,1.15 -1.3,1.6 -1.3,-1.6 -1.9,-1.15 1.9,-1.15zM570.0,193.2l1.3,1.6 1.9,1.15 -1.9,1.15 -1.3,1.6 -1.3,-1.6 -1.9,-1.15 1.9,-1.15zM564.4,196.4l1.3,1.6 1.9,1.15 -1.9,1.15 -1.3,1.6 -1.3,-1.6 -1.9,-1.15 1.9,-1.15zM577.5,197.0l1.3,1.6 1.9,1.15 -1.9,1.15 -1.3,1.6 -1.3,-1.6 -1.9,-1.15 1.9,-1.15zM606.9,197.0l1.3,1.6 1.9,1.15 -1.9,1.15 -1.3,1.6 -1.3,-1.6 -1.9,-1.15 1.9,-1.15zM623.1,190.8l1.3,1.6 1.9,1.15 -1.9,1.15 -1.3,1.6 -1.3,-1.6 -1.9,-1.15 1.9,-1.15zM627.5,197.6l1.3,1.6 1.9,1.15 -1.9,1.15 -1.3,1.6 -1.3,-1.6 -1.9,-1.15 1.9,-1.15zM636.2,197.6l1.3,1.6 1.9,1.15 -1.9,1.15 -1.3,1.6 -1.3,-1.6 -1.9,-1.15 1.9,-1.15zM552.5,200.1l1.3,1.6 1.9,1.15 -1.9,1.15 -1.3,1.6 -1.3,-1.6 -1.9,-1.15 1.9,-1.15zM653.8,147.0l1.3,1.6 1.9,1.15 -1.9,1.15 -1.3,1.6 -1.3,-1.6 -1.9,-1.15 1.9,-1.15zM671.2,149.5l1.3,1.6 1.9,1.15 -1.9,1.15 -1.3,1.6 -1.3,-1.6 -1.9,-1.15 1.9,-1.15zM647.5,152.6l1.3,1.6 1.9,1.15 -1.9,1.15 -1.3,1.6 -1.3,-1.6 -1.9,-1.15 1.9,-1.15zM641.2,155.1l1.3,1.6 1.9,1.15 -1.9,1.15 -1.3,1.6 -1.3,-1.6 -1.9,-1.15 1.9,-1.15zM666.9,157.6l1.3,1.6 1.9,1.15 -1.9,1.15 -1.3,1.6 -1.3,-1.6 -1.9,-1.15 1.9,-1.15zM676.2,155.8l1.3,1.6 1.9,1.15 -1.9,1.15 -1.3,1.6 -1.3,-1.6 -1.9,-1.15 1.9,-1.15zM652.5,163.9l1.3,1.6 1.9,1.15 -1.9,1.15 -1.3,1.6 -1.3,-1.6 -1.9,-1.15 1.9,-1.15zM640.6,165.8l1.3,1.6 1.9,1.15 -1.9,1.15 -1.3,1.6 -1.3,-1.6 -1.9,-1.15 1.9,-1.15zM718.1,162.0l1.3,1.6 1.9,1.15 -1.9,1.15 -1.3,1.6 -1.3,-1.6 -1.9,-1.15 1.9,-1.15zM669.4,169.5l1.3,1.6 1.9,1.15 -1.9,1.15 -1.3,1.6 -1.3,-1.6 -1.9,-1.15 1.9,-1.15zM666.9,172.6l1.3,1.6 1.9,1.15 -1.9,1.15 -1.3,1.6 -1.3,-1.6 -1.9,-1.15 1.9,-1.15zM684.4,167.6l1.3,1.6 1.9,1.15 -1.9,1.15 -1.3,1.6 -1.3,-1.6 -1.9,-1.15 1.9,-1.15zM686.2,173.9l1.3,1.6 1.9,1.15 -1.9,1.15 -1.3,1.6 -1.3,-1.6 -1.9,-1.15 1.9,-1.15zM650.0,177.0l1.3,1.6 1.9,1.15 -1.9,1.15 -1.3,1.6 -1.3,-1.6 -1.9,-1.15 1.9,-1.15zM701.2,181.4l1.3,1.6 1.9,1.15 -1.9,1.15 -1.3,1.6 -1.3,-1.6 -1.9,-1.15 1.9,-1.15zM721.2,180.8l1.3,1.6 1.9,1.15 -1.9,1.15 -1.3,1.6 -1.3,-1.6 -1.9,-1.15 1.9,-1.15zM726.2,184.5l1.3,1.6 1.9,1.15 -1.9,1.15 -1.3,1.6 -1.3,-1.6 -1.9,-1.15 1.9,-1.15zM655.0,187.0l1.3,1.6 1.9,1.15 -1.9,1.15 -1.3,1.6 -1.3,-1.6 -1.9,-1.15 1.9,-1.15zM661.9,192.0l1.3,1.6 1.9,1.15 -1.9,1.15 -1.3,1.6 -1.3,-1.6 -1.9,-1.15 1.9,-1.15zM672.5,190.1l1.3,1.6 1.9,1.15 -1.9,1.15 -1.3,1.6 -1.3,-1.6 -1.9,-1.15 1.9,-1.15zM680.6,193.2l1.3,1.6 1.9,1.15 -1.9,1.15 -1.3,1.6 -1.3,-1.6 -1.9,-1.15 1.9,-1.15zM687.5,195.1l1.3,1.6 1.9,1.15 -1.9,1.15 -1.3,1.6 -1.3,-1.6 -1.9,-1.15 1.9,-1.15zM669.4,197.0l1.3,1.6 1.9,1.15 -1.9,1.15 -1.3,1.6 -1.3,-1.6 -1.9,-1.15 1.9,-1.15zM651.2,198.2l1.3,1.6 1.9,1.15 -1.9,1.15 -1.3,1.6 -1.3,-1.6 -1.9,-1.15 1.9,-1.15zM656.2,198.9l1.3,1.6 1.9,1.15 -1.9,1.15 -1.3,1.6 -1.3,-1.6 -1.9,-1.15 1.9,-1.15zM663.8,198.9l1.3,1.6 1.9,1.15 -1.9,1.15 -1.3,1.6 -1.3,-1.6 -1.9,-1.15 1.9,-1.15zM681.2,200.1l1.3,1.6 1.9,1.15 -1.9,1.15 -1.3,1.6 -1.3,-1.6 -1.9,-1.15 1.9,-1.15zM728.8,200.1l1.3,1.6 1.9,1.15 -1.9,1.15 -1.3,1.6 -1.3,-1.6 -1.9,-1.15 1.9,-1.15zM103.8,201.9l1.3,1.6 1.9,1.15 -1.9,1.15 -1.3,1.6 -1.3,-1.6 -1.9,-1.15 1.9,-1.15zM96.9,213.1l1.3,1.6 1.9,1.15 -1.9,1.15 -1.3,1.6 -1.3,-1.6 -1.9,-1.15 1.9,-1.15zM105.0,213.1l1.3,1.6 1.9,1.15 -1.9,1.15 -1.3,1.6 -1.3,-1.6 -1.9,-1.15 1.9,-1.15zM52.5,216.2l1.3,1.6 1.9,1.15 -1.9,1.15 -1.3,1.6 -1.3,-1.6 -1.9,-1.15 1.9,-1.15zM57.5,216.2l1.3,1.6 1.9,1.15 -1.9,1.15 -1.3,1.6 -1.3,-1.6 -1.9,-1.15 1.9,-1.15zM107.5,219.4l1.3,1.6 1.9,1.15 -1.9,1.15 -1.3,1.6 -1.3,-1.6 -1.9,-1.15 1.9,-1.15zM115.0,218.1l1.3,1.6 1.9,1.15 -1.9,1.15 -1.3,1.6 -1.3,-1.6 -1.9,-1.15 1.9,-1.15zM116.2,220.0l1.3,1.6 1.9,1.15 -1.9,1.15 -1.3,1.6 -1.3,-1.6 -1.9,-1.15 1.9,-1.15zM127.5,215.0l1.3,1.6 1.9,1.15 -1.9,1.15 -1.3,1.6 -1.3,-1.6 -1.9,-1.15 1.9,-1.15zM138.8,215.0l1.3,1.6 1.9,1.15 -1.9,1.15 -1.3,1.6 -1.3,-1.6 -1.9,-1.15 1.9,-1.15zM122.5,220.6l1.3,1.6 1.9,1.15 -1.9,1.15 -1.3,1.6 -1.3,-1.6 -1.9,-1.15 1.9,-1.15zM58.8,221.9l1.3,1.6 1.9,1.15 -1.9,1.15 -1.3,1.6 -1.3,-1.6 -1.9,-1.15 1.9,-1.15zM68.1,221.9l1.3,1.6 1.9,1.15 -1.9,1.15 -1.3,1.6 -1.3,-1.6 -1.9,-1.15 1.9,-1.15zM77.5,221.9l1.3,1.6 1.9,1.15 -1.9,1.15 -1.3,1.6 -1.3,-1.6 -1.9,-1.15 1.9,-1.15zM76.9,225.0l1.3,1.6 1.9,1.15 -1.9,1.15 -1.3,1.6 -1.3,-1.6 -1.9,-1.15 1.9,-1.15zM103.8,223.1l1.3,1.6 1.9,1.15 -1.9,1.15 -1.3,1.6 -1.3,-1.6 -1.9,-1.15 1.9,-1.15zM111.9,224.4l1.3,1.6 1.9,1.15 -1.9,1.15 -1.3,1.6 -1.3,-1.6 -1.9,-1.15 1.9,-1.15zM131.2,223.8l1.3,1.6 1.9,1.15 -1.9,1.15 -1.3,1.6 -1.3,-1.6 -1.9,-1.15 1.9,-1.15zM47.5,243.8l1.3,1.6 1.9,1.15 -1.9,1.15 -1.3,1.6 -1.3,-1.6 -1.9,-1.15 1.9,-1.15zM48.8,248.8l1.3,1.6 1.9,1.15 -1.9,1.15 -1.3,1.6 -1.3,-1.6 -1.9,-1.15 1.9,-1.15zM47.5,252.5l1.3,1.6 1.9,1.15 -1.9,1.15 -1.3,1.6 -1.3,-1.6 -1.9,-1.15 1.9,-1.15zM47.5,255.0l1.3,1.6 1.9,1.15 -1.9,1.15 -1.3,1.6 -1.3,-1.6 -1.9,-1.15 1.9,-1.15zM181.2,205.6l1.3,1.6 1.9,1.15 -1.9,1.15 -1.3,1.6 -1.3,-1.6 -1.9,-1.15 1.9,-1.15zM201.9,203.8l1.3,1.6 1.9,1.15 -1.9,1.15 -1.3,1.6 -1.3,-1.6 -1.9,-1.15 1.9,-1.15zM211.9,205.0l1.3,1.6 1.9,1.15 -1.9,1.15 -1.3,1.6 -1.3,-1.6 -1.9,-1.15 1.9,-1.15zM170.0,213.1l1.3,1.6 1.9,1.15 -1.9,1.15 -1.3,1.6 -1.3,-1.6 -1.9,-1.15 1.9,-1.15zM212.5,213.1l1.3,1.6 1.9,1.15 -1.9,1.15 -1.3,1.6 -1.3,-1.6 -1.9,-1.15 1.9,-1.15zM202.5,216.9l1.3,1.6 1.9,1.15 -1.9,1.15 -1.3,1.6 -1.3,-1.6 -1.9,-1.15 1.9,-1.15zM207.5,218.1l1.3,1.6 1.9,1.15 -1.9,1.15 -1.3,1.6 -1.3,-1.6 -1.9,-1.15 1.9,-1.15zM211.9,219.4l1.3,1.6 1.9,1.15 -1.9,1.15 -1.3,1.6 -1.3,-1.6 -1.9,-1.15 1.9,-1.15zM238.8,218.8l1.3,1.6 1.9,1.15 -1.9,1.15 -1.3,1.6 -1.3,-1.6 -1.9,-1.15 1.9,-1.15zM145.0,221.9l1.3,1.6 1.9,1.15 -1.9,1.15 -1.3,1.6 -1.3,-1.6 -1.9,-1.15 1.9,-1.15zM155.0,223.1l1.3,1.6 1.9,1.15 -1.9,1.15 -1.3,1.6 -1.3,-1.6 -1.9,-1.15 1.9,-1.15zM161.2,223.1l1.3,1.6 1.9,1.15 -1.9,1.15 -1.3,1.6 -1.3,-1.6 -1.9,-1.15 1.9,-1.15zM170.0,221.9l1.3,1.6 1.9,1.15 -1.9,1.15 -1.3,1.6 -1.3,-1.6 -1.9,-1.15 1.9,-1.15zM188.1,223.8l1.3,1.6 1.9,1.15 -1.9,1.15 -1.3,1.6 -1.3,-1.6 -1.9,-1.15 1.9,-1.15zM219.4,221.2l1.3,1.6 1.9,1.15 -1.9,1.15 -1.3,1.6 -1.3,-1.6 -1.9,-1.15 1.9,-1.15zM275.6,206.9l1.3,1.6 1.9,1.15 -1.9,1.15 -1.3,1.6 -1.3,-1.6 -1.9,-1.15 1.9,-1.15zM275.0,210.0l1.3,1.6 1.9,1.15 -1.9,1.15 -1.3,1.6 -1.3,-1.6 -1.9,-1.15 1.9,-1.15zM301.2,203.8l1.3,1.6 1.9,1.15 -1.9,1.15 -1.3,1.6 -1.3,-1.6 -1.9,-1.15 1.9,-1.15zM302.5,208.8l1.3,1.6 1.9,1.15 -1.9,1.15 -1.3,1.6 -1.3,-1.6 -1.9,-1.15 1.9,-1.15zM315.0,206.9l1.3,1.6 1.9,1.15 -1.9,1.15 -1.3,1.6 -1.3,-1.6 -1.9,-1.15 1.9,-1.15zM327.5,206.2l1.3,1.6 1.9,1.15 -1.9,1.15 -1.3,1.6 -1.3,-1.6 -1.9,-1.15 1.9,-1.15zM331.2,203.8l1.3,1.6 1.9,1.15 -1.9,1.15 -1.3,1.6 -1.3,-1.6 -1.9,-1.15 1.9,-1.15zM332.5,208.8l1.3,1.6 1.9,1.15 -1.9,1.15 -1.3,1.6 -1.3,-1.6 -1.9,-1.15 1.9,-1.15zM335.0,206.9l1.3,1.6 1.9,1.15 -1.9,1.15 -1.3,1.6 -1.3,-1.6 -1.9,-1.15 1.9,-1.15zM325.6,211.2l1.3,1.6 1.9,1.15 -1.9,1.15 -1.3,1.6 -1.3,-1.6 -1.9,-1.15 1.9,-1.15zM330.6,213.8l1.3,1.6 1.9,1.15 -1.9,1.15 -1.3,1.6 -1.3,-1.6 -1.9,-1.15 1.9,-1.15zM251.9,213.1l1.3,1.6 1.9,1.15 -1.9,1.15 -1.3,1.6 -1.3,-1.6 -1.9,-1.15 1.9,-1.15zM242.5,216.2l1.3,1.6 1.9,1.15 -1.9,1.15 -1.3,1.6 -1.3,-1.6 -1.9,-1.15 1.9,-1.15zM246.9,219.4l1.3,1.6 1.9,1.15 -1.9,1.15 -1.3,1.6 -1.3,-1.6 -1.9,-1.15 1.9,-1.15zM263.1,217.5l1.3,1.6 1.9,1.15 -1.9,1.15 -1.3,1.6 -1.3,-1.6 -1.9,-1.15 1.9,-1.15zM268.8,215.6l1.3,1.6 1.9,1.15 -1.9,1.15 -1.3,1.6 -1.3,-1.6 -1.9,-1.15 1.9,-1.15zM270.6,224.4l1.3,1.6 1.9,1.15 -1.9,1.15 -1.3,1.6 -1.3,-1.6 -1.9,-1.15 1.9,-1.15zM296.9,214.4l1.3,1.6 1.9,1.15 -1.9,1.15 -1.3,1.6 -1.3,-1.6 -1.9,-1.15 1.9,-1.15zM350.0,203.1l1.3,1.6 1.9,1.15 -1.9,1.15 -1.3,1.6 -1.3,-1.6 -1.9,-1.15 1.9,-1.15zM348.1,210.0l1.3,1.6 1.9,1.15 -1.9,1.15 -1.3,1.6 -1.3,-1.6 -1.9,-1.15 1.9,-1.15zM357.5,209.4l1.3,1.6 1.9,1.15 -1.9,1.15 -1.3,1.6 -1.3,-1.6 -1.9,-1.15 1.9,-1.15zM345.0,214.4l1.3,1.6 1.9,1.15 -1.9,1.15 -1.3,1.6 -1.3,-1.6 -1.9,-1.15 1.9,-1.15zM380.0,216.2l1.3,1.6 1.9,1.15 -1.9,1.15 -1.3,1.6 -1.3,-1.6 -1.9,-1.15 1.9,-1.15zM387.5,216.2l1.3,1.6 1.9,1.15 -1.9,1.15 -1.3,1.6 -1.3,-1.6 -1.9,-1.15 1.9,-1.15zM346.2,220.6l1.3,1.6 1.9,1.15 -1.9,1.15 -1.3,1.6 -1.3,-1.6 -1.9,-1.15 1.9,-1.15zM342.5,224.4l1.3,1.6 1.9,1.15 -1.9,1.15 -1.3,1.6 -1.3,-1.6 -1.9,-1.15 1.9,-1.15zM358.1,223.1l1.3,1.6 1.9,1.15 -1.9,1.15 -1.3,1.6 -1.3,-1.6 -1.9,-1.15 1.9,-1.15zM388.1,223.8l1.3,1.6 1.9,1.15 -1.9,1.15 -1.3,1.6 -1.3,-1.6 -1.9,-1.15 1.9,-1.15zM398.8,222.5l1.3,1.6 1.9,1.15 -1.9,1.15 -1.3,1.6 -1.3,-1.6 -1.9,-1.15 1.9,-1.15zM408.1,215.0l1.3,1.6 1.9,1.15 -1.9,1.15 -1.3,1.6 -1.3,-1.6 -1.9,-1.15 1.9,-1.15zM407.5,217.5l1.3,1.6 1.9,1.15 -1.9,1.15 -1.3,1.6 -1.3,-1.6 -1.9,-1.15 1.9,-1.15zM413.1,210.6l1.3,1.6 1.9,1.15 -1.9,1.15 -1.3,1.6 -1.3,-1.6 -1.9,-1.15 1.9,-1.15zM425.6,207.5l1.3,1.6 1.9,1.15 -1.9,1.15 -1.3,1.6 -1.3,-1.6 -1.9,-1.15 1.9,-1.15zM438.8,208.1l1.3,1.6 1.9,1.15 -1.9,1.15 -1.3,1.6 -1.3,-1.6 -1.9,-1.15 1.9,-1.15zM418.8,218.8l1.3,1.6 1.9,1.15 -1.9,1.15 -1.3,1.6 -1.3,-1.6 -1.9,-1.15 1.9,-1.15zM420.0,221.9l1.3,1.6 1.9,1.15 -1.9,1.15 -1.3,1.6 -1.3,-1.6 -1.9,-1.15 1.9,-1.15zM431.2,218.8l1.3,1.6 1.9,1.15 -1.9,1.15 -1.3,1.6 -1.3,-1.6 -1.9,-1.15 1.9,-1.15zM426.2,223.8l1.3,1.6 1.9,1.15 -1.9,1.15 -1.3,1.6 -1.3,-1.6 -1.9,-1.15 1.9,-1.15zM451.9,205.0l1.3,1.6 1.9,1.15 -1.9,1.15 -1.3,1.6 -1.3,-1.6 -1.9,-1.15 1.9,-1.15zM464.4,203.8l1.3,1.6 1.9,1.15 -1.9,1.15 -1.3,1.6 -1.3,-1.6 -1.9,-1.15 1.9,-1.15zM472.5,208.1l1.3,1.6 1.9,1.15 -1.9,1.15 -1.3,1.6 -1.3,-1.6 -1.9,-1.15 1.9,-1.15zM451.9,218.1l1.3,1.6 1.9,1.15 -1.9,1.15 -1.3,1.6 -1.3,-1.6 -1.9,-1.15 1.9,-1.15zM478.1,217.5l1.3,1.6 1.9,1.15 -1.9,1.15 -1.3,1.6 -1.3,-1.6 -1.9,-1.15 1.9,-1.15zM493.8,221.2l1.3,1.6 1.9,1.15 -1.9,1.15 -1.3,1.6 -1.3,-1.6 -1.9,-1.15 1.9,-1.15zM508.1,215.0l1.3,1.6 1.9,1.15 -1.9,1.15 -1.3,1.6 -1.3,-1.6 -1.9,-1.15 1.9,-1.15zM523.8,203.1l1.3,1.6 1.9,1.15 -1.9,1.15 -1.3,1.6 -1.3,-1.6 -1.9,-1.15 1.9,-1.15zM531.2,205.6l1.3,1.6 1.9,1.15 -1.9,1.15 -1.3,1.6 -1.3,-1.6 -1.9,-1.15 1.9,-1.15zM536.2,206.9l1.3,1.6 1.9,1.15 -1.9,1.15 -1.3,1.6 -1.3,-1.6 -1.9,-1.15 1.9,-1.15zM525.6,210.6l1.3,1.6 1.9,1.15 -1.9,1.15 -1.3,1.6 -1.3,-1.6 -1.9,-1.15 1.9,-1.15zM531.2,211.9l1.3,1.6 1.9,1.15 -1.9,1.15 -1.3,1.6 -1.3,-1.6 -1.9,-1.15 1.9,-1.15zM504.4,223.8l1.3,1.6 1.9,1.15 -1.9,1.15 -1.3,1.6 -1.3,-1.6 -1.9,-1.15 1.9,-1.15zM508.1,223.1l1.3,1.6 1.9,1.15 -1.9,1.15 -1.3,1.6 -1.3,-1.6 -1.9,-1.15 1.9,-1.15zM531.2,224.4l1.3,1.6 1.9,1.15 -1.9,1.15 -1.3,1.6 -1.3,-1.6 -1.9,-1.15 1.9,-1.15zM538.8,223.1l1.3,1.6 1.9,1.15 -1.9,1.15 -1.3,1.6 -1.3,-1.6 -1.9,-1.15 1.9,-1.15zM565.6,203.8l1.3,1.6 1.9,1.15 -1.9,1.15 -1.3,1.6 -1.3,-1.6 -1.9,-1.15 1.9,-1.15zM565.0,206.9l1.3,1.6 1.9,1.15 -1.9,1.15 -1.3,1.6 -1.3,-1.6 -1.9,-1.15 1.9,-1.15zM597.5,201.9l1.3,1.6 1.9,1.15 -1.9,1.15 -1.3,1.6 -1.3,-1.6 -1.9,-1.15 1.9,-1.15zM605.0,202.5l1.3,1.6 1.9,1.15 -1.9,1.15 -1.3,1.6 -1.3,-1.6 -1.9,-1.15 1.9,-1.15zM621.2,205.6l1.3,1.6 1.9,1.15 -1.9,1.15 -1.3,1.6 -1.3,-1.6 -1.9,-1.15 1.9,-1.15zM628.1,209.4l1.3,1.6 1.9,1.15 -1.9,1.15 -1.3,1.6 -1.3,-1.6 -1.9,-1.15 1.9,-1.15zM622.5,213.8l1.3,1.6 1.9,1.15 -1.9,1.15 -1.3,1.6 -1.3,-1.6 -1.9,-1.15 1.9,-1.15zM625.6,215.0l1.3,1.6 1.9,1.15 -1.9,1.15 -1.3,1.6 -1.3,-1.6 -1.9,-1.15 1.9,-1.15zM638.1,211.9l1.3,1.6 1.9,1.15 -1.9,1.15 -1.3,1.6 -1.3,-1.6 -1.9,-1.15 1.9,-1.15zM637.5,217.5l1.3,1.6 1.9,1.15 -1.9,1.15 -1.3,1.6 -1.3,-1.6 -1.9,-1.15 1.9,-1.15zM560.0,215.6l1.3,1.6 1.9,1.15 -1.9,1.15 -1.3,1.6 -1.3,-1.6 -1.9,-1.15 1.9,-1.15zM573.1,215.6l1.3,1.6 1.9,1.15 -1.9,1.15 -1.3,1.6 -1.3,-1.6 -1.9,-1.15 1.9,-1.15zM577.5,213.8l1.3,1.6 1.9,1.15 -1.9,1.15 -1.3,1.6 -1.3,-1.6 -1.9,-1.15 1.9,-1.15zM583.1,213.8l1.3,1.6 1.9,1.15 -1.9,1.15 -1.3,1.6 -1.3,-1.6 -1.9,-1.15 1.9,-1.15zM589.4,223.1l1.3,1.6 1.9,1.15 -1.9,1.15 -1.3,1.6 -1.3,-1.6 -1.9,-1.15 1.9,-1.15zM598.8,225.0l1.3,1.6 1.9,1.15 -1.9,1.15 -1.3,1.6 -1.3,-1.6 -1.9,-1.15 1.9,-1.15zM608.8,221.2l1.3,1.6 1.9,1.15 -1.9,1.15 -1.3,1.6 -1.3,-1.6 -1.9,-1.15 1.9,-1.15zM663.1,203.1l1.3,1.6 1.9,1.15 -1.9,1.15 -1.3,1.6 -1.3,-1.6 -1.9,-1.15 1.9,-1.15zM716.9,203.8l1.3,1.6 1.9,1.15 -1.9,1.15 -1.3,1.6 -1.3,-1.6 -1.9,-1.15 1.9,-1.15zM710.0,207.5l1.3,1.6 1.9,1.15 -1.9,1.15 -1.3,1.6 -1.3,-1.6 -1.9,-1.15 1.9,-1.15zM643.8,208.8l1.3,1.6 1.9,1.15 -1.9,1.15 -1.3,1.6 -1.3,-1.6 -1.9,-1.15 1.9,-1.15zM645.0,212.5l1.3,1.6 1.9,1.15 -1.9,1.15 -1.3,1.6 -1.3,-1.6 -1.9,-1.15 1.9,-1.15zM653.1,211.9l1.3,1.6 1.9,1.15 -1.9,1.15 -1.3,1.6 -1.3,-1.6 -1.9,-1.15 1.9,-1.15zM705.0,214.4l1.3,1.6 1.9,1.15 -1.9,1.15 -1.3,1.6 -1.3,-1.6 -1.9,-1.15 1.9,-1.15zM708.8,213.1l1.3,1.6 1.9,1.15 -1.9,1.15 -1.3,1.6 -1.3,-1.6 -1.9,-1.15 1.9,-1.15zM715.0,214.4l1.3,1.6 1.9,1.15 -1.9,1.15 -1.3,1.6 -1.3,-1.6 -1.9,-1.15 1.9,-1.15zM695.0,216.2l1.3,1.6 1.9,1.15 -1.9,1.15 -1.3,1.6 -1.3,-1.6 -1.9,-1.15 1.9,-1.15zM722.5,216.9l1.3,1.6 1.9,1.15 -1.9,1.15 -1.3,1.6 -1.3,-1.6 -1.9,-1.15 1.9,-1.15zM660.6,216.9l1.3,1.6 1.9,1.15 -1.9,1.15 -1.3,1.6 -1.3,-1.6 -1.9,-1.15 1.9,-1.15zM672.5,216.9l1.3,1.6 1.9,1.15 -1.9,1.15 -1.3,1.6 -1.3,-1.6 -1.9,-1.15 1.9,-1.15zM656.9,221.2l1.3,1.6 1.9,1.15 -1.9,1.15 -1.3,1.6 -1.3,-1.6 -1.9,-1.15 1.9,-1.15zM669.4,223.8l1.3,1.6 1.9,1.15 -1.9,1.15 -1.3,1.6 -1.3,-1.6 -1.9,-1.15 1.9,-1.15zM683.1,224.4l1.3,1.6 1.9,1.15 -1.9,1.15 -1.3,1.6 -1.3,-1.6 -1.9,-1.15 1.9,-1.15zM693.1,224.4l1.3,1.6 1.9,1.15 -1.9,1.15 -1.3,1.6 -1.3,-1.6 -1.9,-1.15 1.9,-1.15zM700.0,221.2l1.3,1.6 1.9,1.15 -1.9,1.15 -1.3,1.6 -1.3,-1.6 -1.9,-1.15 1.9,-1.15zM705.0,223.8l1.3,1.6 1.9,1.15 -1.9,1.15 -1.3,1.6 -1.3,-1.6 -1.9,-1.15 1.9,-1.15zM735.0,221.2l1.3,1.6 1.9,1.15 -1.9,1.15 -1.3,1.6 -1.3,-1.6 -1.9,-1.15 1.9,-1.15zM58.6,227.9l1.3,1.6 1.9,1.15 -1.9,1.15 -1.3,1.6 -1.3,-1.6 -1.9,-1.15 1.9,-1.15zM50.7,235.8l1.3,1.6 1.9,1.15 -1.9,1.15 -1.3,1.6 -1.3,-1.6 -1.9,-1.15 1.9,-1.15zM57.2,234.5l1.3,1.6 1.9,1.15 -1.9,1.15 -1.3,1.6 -1.3,-1.6 -1.9,-1.15 1.9,-1.15zM59.9,234.1l1.3,1.6 1.9,1.15 -1.9,1.15 -1.3,1.6 -1.3,-1.6 -1.9,-1.15 1.9,-1.15zM64.5,233.8l1.3,1.6 1.9,1.15 -1.9,1.15 -1.3,1.6 -1.3,-1.6 -1.9,-1.15 1.9,-1.15zM65.8,237.1l1.3,1.6 1.9,1.15 -1.9,1.15 -1.3,1.6 -1.3,-1.6 -1.9,-1.15 1.9,-1.15zM66.5,239.7l1.3,1.6 1.9,1.15 -1.9,1.15 -1.3,1.6 -1.3,-1.6 -1.9,-1.15 1.9,-1.15zM62.9,243.0l1.3,1.6 1.9,1.15 -1.9,1.15 -1.3,1.6 -1.3,-1.6 -1.9,-1.15 1.9,-1.15zM53.0,242.4l1.3,1.6 1.9,1.15 -1.9,1.15 -1.3,1.6 -1.3,-1.6 -1.9,-1.15 1.9,-1.15zM78.3,236.1l1.3,1.6 1.9,1.15 -1.9,1.15 -1.3,1.6 -1.3,-1.6 -1.9,-1.15 1.9,-1.15zM81.6,238.1l1.3,1.6 1.9,1.15 -1.9,1.15 -1.3,1.6 -1.3,-1.6 -1.9,-1.15 1.9,-1.15zM83.6,239.1l1.3,1.6 1.9,1.15 -1.9,1.15 -1.3,1.6 -1.3,-1.6 -1.9,-1.15 1.9,-1.15zM90.8,233.8l1.3,1.6 1.9,1.15 -1.9,1.15 -1.3,1.6 -1.3,-1.6 -1.9,-1.15 1.9,-1.15zM92.8,235.8l1.3,1.6 1.9,1.15 -1.9,1.15 -1.3,1.6 -1.3,-1.6 -1.9,-1.15 1.9,-1.15zM95.5,236.4l1.3,1.6 1.9,1.15 -1.9,1.15 -1.3,1.6 -1.3,-1.6 -1.9,-1.15 1.9,-1.15zM92.2,239.1l1.3,1.6 1.9,1.15 -1.9,1.15 -1.3,1.6 -1.3,-1.6 -1.9,-1.15 1.9,-1.15zM78.3,244.3l1.3,1.6 1.9,1.15 -1.9,1.15 -1.3,1.6 -1.3,-1.6 -1.9,-1.15 1.9,-1.15zM84.3,245.0l1.3,1.6 1.9,1.15 -1.9,1.15 -1.3,1.6 -1.3,-1.6 -1.9,-1.15 1.9,-1.15zM86.9,247.0l1.3,1.6 1.9,1.15 -1.9,1.15 -1.3,1.6 -1.3,-1.6 -1.9,-1.15 1.9,-1.15zM90.8,244.3l1.3,1.6 1.9,1.15 -1.9,1.15 -1.3,1.6 -1.3,-1.6 -1.9,-1.15 1.9,-1.15zM96.1,242.4l1.3,1.6 1.9,1.15 -1.9,1.15 -1.3,1.6 -1.3,-1.6 -1.9,-1.15 1.9,-1.15zM98.8,239.7l1.3,1.6 1.9,1.15 -1.9,1.15 -1.3,1.6 -1.3,-1.6 -1.9,-1.15 1.9,-1.15zM98.8,245.0l1.3,1.6 1.9,1.15 -1.9,1.15 -1.3,1.6 -1.3,-1.6 -1.9,-1.15 1.9,-1.15zM96.1,248.3l1.3,1.6 1.9,1.15 -1.9,1.15 -1.3,1.6 -1.3,-1.6 -1.9,-1.15 1.9,-1.15zM92.2,249.0l1.3,1.6 1.9,1.15 -1.9,1.15 -1.3,1.6 -1.3,-1.6 -1.9,-1.15 1.9,-1.15zM89.5,251.6l1.3,1.6 1.9,1.15 -1.9,1.15 -1.3,1.6 -1.3,-1.6 -1.9,-1.15 1.9,-1.15zM93.5,252.3l1.3,1.6 1.9,1.15 -1.9,1.15 -1.3,1.6 -1.3,-1.6 -1.9,-1.15 1.9,-1.15zM97.4,251.6l1.3,1.6 1.9,1.15 -1.9,1.15 -1.3,1.6 -1.3,-1.6 -1.9,-1.15 1.9,-1.15zM54.0,249.0l1.3,1.6 1.9,1.15 -1.9,1.15 -1.3,1.6 -1.3,-1.6 -1.9,-1.15 1.9,-1.15zM57.9,247.7l1.3,1.6 1.9,1.15 -1.9,1.15 -1.3,1.6 -1.3,-1.6 -1.9,-1.15 1.9,-1.15zM60.5,249.6l1.3,1.6 1.9,1.15 -1.9,1.15 -1.3,1.6 -1.3,-1.6 -1.9,-1.15 1.9,-1.15zM63.2,251.6l1.3,1.6 1.9,1.15 -1.9,1.15 -1.3,1.6 -1.3,-1.6 -1.9,-1.15 1.9,-1.15zM65.2,247.0l1.3,1.6 1.9,1.15 -1.9,1.15 -1.3,1.6 -1.3,-1.6 -1.9,-1.15 1.9,-1.15zM73.7,248.3l1.3,1.6 1.9,1.15 -1.9,1.15 -1.3,1.6 -1.3,-1.6 -1.9,-1.15 1.9,-1.15zM75.7,250.9l1.3,1.6 1.9,1.15 -1.9,1.15 -1.3,1.6 -1.3,-1.6 -1.9,-1.15 1.9,-1.15zM78.3,251.6l1.3,1.6 1.9,1.15 -1.9,1.15 -1.3,1.6 -1.3,-1.6 -1.9,-1.15 1.9,-1.15zM81.6,250.3l1.3,1.6 1.9,1.15 -1.9,1.15 -1.3,1.6 -1.3,-1.6 -1.9,-1.15 1.9,-1.15zM84.3,249.6l1.3,1.6 1.9,1.15 -1.9,1.15 -1.3,1.6 -1.3,-1.6 -1.9,-1.15 1.9,-1.15zM76.3,253.6l1.3,1.6 1.9,1.15 -1.9,1.15 -1.3,1.6 -1.3,-1.6 -1.9,-1.15 1.9,-1.15zM80.3,253.6l1.3,1.6 1.9,1.15 -1.9,1.15 -1.3,1.6 -1.3,-1.6 -1.9,-1.15 1.9,-1.15zM85.6,252.9l1.3,1.6 1.9,1.15 -1.9,1.15 -1.3,1.6 -1.3,-1.6 -1.9,-1.15 1.9,-1.15zM56.6,252.9l1.3,1.6 1.9,1.15 -1.9,1.15 -1.3,1.6 -1.3,-1.6 -1.9,-1.15 1.9,-1.15zM60.5,253.2l1.3,1.6 1.9,1.15 -1.9,1.15 -1.3,1.6 -1.3,-1.6 -1.9,-1.15 1.9,-1.15zM63.8,253.6l1.3,1.6 1.9,1.15 -1.9,1.15 -1.3,1.6 -1.3,-1.6 -1.9,-1.15 1.9,-1.15zM98.8,235.8l1.3,1.6 1.9,1.15 -1.9,1.15 -1.3,1.6 -1.3,-1.6 -1.9,-1.15 1.9,-1.15zM121.7,227.9l1.3,1.6 1.9,1.15 -1.9,1.15 -1.3,1.6 -1.3,-1.6 -1.9,-1.15 1.9,-1.15zM134.3,227.9l1.3,1.6 1.9,1.15 -1.9,1.15 -1.3,1.6 -1.3,-1.6 -1.9,-1.15 1.9,-1.15zM104.6,230.5l1.3,1.6 1.9,1.15 -1.9,1.15 -1.3,1.6 -1.3,-1.6 -1.9,-1.15 1.9,-1.15zM107.2,231.8l1.3,1.6 1.9,1.15 -1.9,1.15 -1.3,1.6 -1.3,-1.6 -1.9,-1.15 1.9,-1.15zM114.8,231.8l1.3,1.6 1.9,1.15 -1.9,1.15 -1.3,1.6 -1.3,-1.6 -1.9,-1.15 1.9,-1.15zM115.8,235.1l1.3,1.6 1.9,1.15 -1.9,1.15 -1.3,1.6 -1.3,-1.6 -1.9,-1.15 1.9,-1.15zM125.0,233.8l1.3,1.6 1.9,1.15 -1.9,1.15 -1.3,1.6 -1.3,-1.6 -1.9,-1.15 1.9,-1.15zM138.9,231.5l1.3,1.6 1.9,1.15 -1.9,1.15 -1.3,1.6 -1.3,-1.6 -1.9,-1.15 1.9,-1.15zM104.6,235.8l1.3,1.6 1.9,1.15 -1.9,1.15 -1.3,1.6 -1.3,-1.6 -1.9,-1.15 1.9,-1.15zM122.4,239.1l1.3,1.6 1.9,1.15 -1.9,1.15 -1.3,1.6 -1.3,-1.6 -1.9,-1.15 1.9,-1.15zM147.4,238.4l1.3,1.6 1.9,1.15 -1.9,1.15 -1.3,1.6 -1.3,-1.6 -1.9,-1.15 1.9,-1.15zM103.3,241.7l1.3,1.6 1.9,1.15 -1.9,1.15 -1.3,1.6 -1.3,-1.6 -1.9,-1.15 1.9,-1.15zM106.6,242.4l1.3,1.6 1.9,1.15 -1.9,1.15 -1.3,1.6 -1.3,-1.6 -1.9,-1.15 1.9,-1.15zM109.2,244.3l1.3,1.6 1.9,1.15 -1.9,1.15 -1.3,1.6 -1.3,-1.6 -1.9,-1.15 1.9,-1.15zM132.9,243.7l1.3,1.6 1.9,1.15 -1.9,1.15 -1.3,1.6 -1.3,-1.6 -1.9,-1.15 1.9,-1.15zM134.3,246.3l1.3,1.6 1.9,1.15 -1.9,1.15 -1.3,1.6 -1.3,-1.6 -1.9,-1.15 1.9,-1.15zM124.4,247.0l1.3,1.6 1.9,1.15 -1.9,1.15 -1.3,1.6 -1.3,-1.6 -1.9,-1.15 1.9,-1.15zM123.7,249.6l1.3,1.6 1.9,1.15 -1.9,1.15 -1.3,1.6 -1.3,-1.6 -1.9,-1.15 1.9,-1.15zM113.2,248.3l1.3,1.6 1.9,1.15 -1.9,1.15 -1.3,1.6 -1.3,-1.6 -1.9,-1.15 1.9,-1.15zM117.8,248.6l1.3,1.6 1.9,1.15 -1.9,1.15 -1.3,1.6 -1.3,-1.6 -1.9,-1.15 1.9,-1.15zM104.6,247.7l1.3,1.6 1.9,1.15 -1.9,1.15 -1.3,1.6 -1.3,-1.6 -1.9,-1.15 1.9,-1.15zM102.0,250.3l1.3,1.6 1.9,1.15 -1.9,1.15 -1.3,1.6 -1.3,-1.6 -1.9,-1.15 1.9,-1.15zM105.9,250.9l1.3,1.6 1.9,1.15 -1.9,1.15 -1.3,1.6 -1.3,-1.6 -1.9,-1.15 1.9,-1.15zM108.6,249.0l1.3,1.6 1.9,1.15 -1.9,1.15 -1.3,1.6 -1.3,-1.6 -1.9,-1.15 1.9,-1.15zM131.6,252.3l1.3,1.6 1.9,1.15 -1.9,1.15 -1.3,1.6 -1.3,-1.6 -1.9,-1.15 1.9,-1.15zM140.8,251.6l1.3,1.6 1.9,1.15 -1.9,1.15 -1.3,1.6 -1.3,-1.6 -1.9,-1.15 1.9,-1.15zM143.5,250.3l1.3,1.6 1.9,1.15 -1.9,1.15 -1.3,1.6 -1.3,-1.6 -1.9,-1.15 1.9,-1.15zM146.1,251.6l1.3,1.6 1.9,1.15 -1.9,1.15 -1.3,1.6 -1.3,-1.6 -1.9,-1.15 1.9,-1.15zM148.8,249.0l1.3,1.6 1.9,1.15 -1.9,1.15 -1.3,1.6 -1.3,-1.6 -1.9,-1.15 1.9,-1.15zM138.2,253.6l1.3,1.6 1.9,1.15 -1.9,1.15 -1.3,1.6 -1.3,-1.6 -1.9,-1.15 1.9,-1.15zM102.0,253.6l1.3,1.6 1.9,1.15 -1.9,1.15 -1.3,1.6 -1.3,-1.6 -1.9,-1.15 1.9,-1.15zM142.2,252.9l1.3,1.6 1.9,1.15 -1.9,1.15 -1.3,1.6 -1.3,-1.6 -1.9,-1.15 1.9,-1.15zM155.3,227.9l1.3,1.6 1.9,1.15 -1.9,1.15 -1.3,1.6 -1.3,-1.6 -1.9,-1.15 1.9,-1.15zM177.0,226.6l1.3,1.6 1.9,1.15 -1.9,1.15 -1.3,1.6 -1.3,-1.6 -1.9,-1.15 1.9,-1.15zM190.8,229.2l1.3,1.6 1.9,1.15 -1.9,1.15 -1.3,1.6 -1.3,-1.6 -1.9,-1.15 1.9,-1.15zM191.5,230.5l1.3,1.6 1.9,1.15 -1.9,1.15 -1.3,1.6 -1.3,-1.6 -1.9,-1.15 1.9,-1.15zM172.4,234.8l1.3,1.6 1.9,1.15 -1.9,1.15 -1.3,1.6 -1.3,-1.6 -1.9,-1.15 1.9,-1.15zM151.3,240.4l1.3,1.6 1.9,1.15 -1.9,1.15 -1.3,1.6 -1.3,-1.6 -1.9,-1.15 1.9,-1.15zM181.0,243.7l1.3,1.6 1.9,1.15 -1.9,1.15 -1.3,1.6 -1.3,-1.6 -1.9,-1.15 1.9,-1.15zM182.3,245.0l1.3,1.6 1.9,1.15 -1.9,1.15 -1.3,1.6 -1.3,-1.6 -1.9,-1.15 1.9,-1.15zM161.9,247.7l1.3,1.6 1.9,1.15 -1.9,1.15 -1.3,1.6 -1.3,-1.6 -1.9,-1.15 1.9,-1.15zM177.0,247.0l1.3,1.6 1.9,1.15 -1.9,1.15 -1.3,1.6 -1.3,-1.6 -1.9,-1.15 1.9,-1.15zM176.3,248.3l1.3,1.6 1.9,1.15 -1.9,1.15 -1.3,1.6 -1.3,-1.6 -1.9,-1.15 1.9,-1.15zM189.5,249.0l1.3,1.6 1.9,1.15 -1.9,1.15 -1.3,1.6 -1.3,-1.6 -1.9,-1.15 1.9,-1.15zM190.8,250.3l1.3,1.6 1.9,1.15 -1.9,1.15 -1.3,1.6 -1.3,-1.6 -1.9,-1.15 1.9,-1.15zM199.4,249.6l1.3,1.6 1.9,1.15 -1.9,1.15 -1.3,1.6 -1.3,-1.6 -1.9,-1.15 1.9,-1.15zM162.5,252.3l1.3,1.6 1.9,1.15 -1.9,1.15 -1.3,1.6 -1.3,-1.6 -1.9,-1.15 1.9,-1.15zM163.2,253.9l1.3,1.6 1.9,1.15 -1.9,1.15 -1.3,1.6 -1.3,-1.6 -1.9,-1.15 1.9,-1.15zM171.7,252.3l1.3,1.6 1.9,1.15 -1.9,1.15 -1.3,1.6 -1.3,-1.6 -1.9,-1.15 1.9,-1.15zM173.1,253.9l1.3,1.6 1.9,1.15 -1.9,1.15 -1.3,1.6 -1.3,-1.6 -1.9,-1.15 1.9,-1.15zM181.0,252.3l1.3,1.6 1.9,1.15 -1.9,1.15 -1.3,1.6 -1.3,-1.6 -1.9,-1.15 1.9,-1.15zM184.3,253.6l1.3,1.6 1.9,1.15 -1.9,1.15 -1.3,1.6 -1.3,-1.6 -1.9,-1.15 1.9,-1.15zM186.9,252.9l1.3,1.6 1.9,1.15 -1.9,1.15 -1.3,1.6 -1.3,-1.6 -1.9,-1.15 1.9,-1.15zM192.8,252.3l1.3,1.6 1.9,1.15 -1.9,1.15 -1.3,1.6 -1.3,-1.6 -1.9,-1.15 1.9,-1.15zM154.6,253.6l1.3,1.6 1.9,1.15 -1.9,1.15 -1.3,1.6 -1.3,-1.6 -1.9,-1.15 1.9,-1.15zM224.7,226.9l1.3,1.6 1.9,1.15 -1.9,1.15 -1.3,1.6 -1.3,-1.6 -1.9,-1.15 1.9,-1.15zM235.9,234.8l1.3,1.6 1.9,1.15 -1.9,1.15 -1.3,1.6 -1.3,-1.6 -1.9,-1.15 1.9,-1.15zM210.5,238.8l1.3,1.6 1.9,1.15 -1.9,1.15 -1.3,1.6 -1.3,-1.6 -1.9,-1.15 1.9,-1.15zM207.9,241.1l1.3,1.6 1.9,1.15 -1.9,1.15 -1.3,1.6 -1.3,-1.6 -1.9,-1.15 1.9,-1.15zM203.3,244.3l1.3,1.6 1.9,1.15 -1.9,1.15 -1.3,1.6 -1.3,-1.6 -1.9,-1.15 1.9,-1.15zM205.9,243.0l1.3,1.6 1.9,1.15 -1.9,1.15 -1.3,1.6 -1.3,-1.6 -1.9,-1.15 1.9,-1.15zM213.8,244.3l1.3,1.6 1.9,1.15 -1.9,1.15 -1.3,1.6 -1.3,-1.6 -1.9,-1.15 1.9,-1.15zM222.4,242.1l1.3,1.6 1.9,1.15 -1.9,1.15 -1.3,1.6 -1.3,-1.6 -1.9,-1.15 1.9,-1.15zM230.3,238.8l1.3,1.6 1.9,1.15 -1.9,1.15 -1.3,1.6 -1.3,-1.6 -1.9,-1.15 1.9,-1.15zM232.9,240.4l1.3,1.6 1.9,1.15 -1.9,1.15 -1.3,1.6 -1.3,-1.6 -1.9,-1.15 1.9,-1.15zM234.9,241.7l1.3,1.6 1.9,1.15 -1.9,1.15 -1.3,1.6 -1.3,-1.6 -1.9,-1.15 1.9,-1.15zM238.2,241.1l1.3,1.6 1.9,1.15 -1.9,1.15 -1.3,1.6 -1.3,-1.6 -1.9,-1.15 1.9,-1.15zM240.8,243.7l1.3,1.6 1.9,1.15 -1.9,1.15 -1.3,1.6 -1.3,-1.6 -1.9,-1.15 1.9,-1.15zM243.5,237.1l1.3,1.6 1.9,1.15 -1.9,1.15 -1.3,1.6 -1.3,-1.6 -1.9,-1.15 1.9,-1.15zM245.4,239.4l1.3,1.6 1.9,1.15 -1.9,1.15 -1.3,1.6 -1.3,-1.6 -1.9,-1.15 1.9,-1.15zM242.8,246.3l1.3,1.6 1.9,1.15 -1.9,1.15 -1.3,1.6 -1.3,-1.6 -1.9,-1.15 1.9,-1.15zM248.8,247.0l1.3,1.6 1.9,1.15 -1.9,1.15 -1.3,1.6 -1.3,-1.6 -1.9,-1.15 1.9,-1.15zM205.3,250.9l1.3,1.6 1.9,1.15 -1.9,1.15 -1.3,1.6 -1.3,-1.6 -1.9,-1.15 1.9,-1.15zM207.9,250.3l1.3,1.6 1.9,1.15 -1.9,1.15 -1.3,1.6 -1.3,-1.6 -1.9,-1.15 1.9,-1.15zM213.2,251.6l1.3,1.6 1.9,1.15 -1.9,1.15 -1.3,1.6 -1.3,-1.6 -1.9,-1.15 1.9,-1.15zM215.8,252.9l1.3,1.6 1.9,1.15 -1.9,1.15 -1.3,1.6 -1.3,-1.6 -1.9,-1.15 1.9,-1.15zM229.0,247.0l1.3,1.6 1.9,1.15 -1.9,1.15 -1.3,1.6 -1.3,-1.6 -1.9,-1.15 1.9,-1.15zM231.0,249.6l1.3,1.6 1.9,1.15 -1.9,1.15 -1.3,1.6 -1.3,-1.6 -1.9,-1.15 1.9,-1.15zM234.3,247.7l1.3,1.6 1.9,1.15 -1.9,1.15 -1.3,1.6 -1.3,-1.6 -1.9,-1.15 1.9,-1.15zM227.7,252.3l1.3,1.6 1.9,1.15 -1.9,1.15 -1.3,1.6 -1.3,-1.6 -1.9,-1.15 1.9,-1.15zM231.6,252.3l1.3,1.6 1.9,1.15 -1.9,1.15 -1.3,1.6 -1.3,-1.6 -1.9,-1.15 1.9,-1.15zM245.4,250.9l1.3,1.6 1.9,1.15 -1.9,1.15 -1.3,1.6 -1.3,-1.6 -1.9,-1.15 1.9,-1.15zM243.5,252.9l1.3,1.6 1.9,1.15 -1.9,1.15 -1.3,1.6 -1.3,-1.6 -1.9,-1.15 1.9,-1.15zM221.7,253.6l1.3,1.6 1.9,1.15 -1.9,1.15 -1.3,1.6 -1.3,-1.6 -1.9,-1.15 1.9,-1.15zM209.2,253.6l1.3,1.6 1.9,1.15 -1.9,1.15 -1.3,1.6 -1.3,-1.6 -1.9,-1.15 1.9,-1.15zM255.9,233.2l1.3,1.6 1.9,1.15 -1.9,1.15 -1.3,1.6 -1.3,-1.6 -1.9,-1.15 1.9,-1.15zM267.1,238.1l1.3,1.6 1.9,1.15 -1.9,1.15 -1.3,1.6 -1.3,-1.6 -1.9,-1.15 1.9,-1.15zM292.8,236.1l1.3,1.6 1.9,1.15 -1.9,1.15 -1.3,1.6 -1.3,-1.6 -1.9,-1.15 1.9,-1.15zM278.3,240.4l1.3,1.6 1.9,1.15 -1.9,1.15 -1.3,1.6 -1.3,-1.6 -1.9,-1.15 1.9,-1.15zM280.3,243.0l1.3,1.6 1.9,1.15 -1.9,1.15 -1.3,1.6 -1.3,-1.6 -1.9,-1.15 1.9,-1.15zM286.2,240.4l1.3,1.6 1.9,1.15 -1.9,1.15 -1.3,1.6 -1.3,-1.6 -1.9,-1.15 1.9,-1.15zM288.2,242.4l1.3,1.6 1.9,1.15 -1.9,1.15 -1.3,1.6 -1.3,-1.6 -1.9,-1.15 1.9,-1.15zM296.1,243.7l1.3,1.6 1.9,1.15 -1.9,1.15 -1.3,1.6 -1.3,-1.6 -1.9,-1.15 1.9,-1.15zM253.3,243.0l1.3,1.6 1.9,1.15 -1.9,1.15 -1.3,1.6 -1.3,-1.6 -1.9,-1.15 1.9,-1.15zM263.2,246.3l1.3,1.6 1.9,1.15 -1.9,1.15 -1.3,1.6 -1.3,-1.6 -1.9,-1.15 1.9,-1.15zM266.5,244.3l1.3,1.6 1.9,1.15 -1.9,1.15 -1.3,1.6 -1.3,-1.6 -1.9,-1.15 1.9,-1.15zM270.4,247.0l1.3,1.6 1.9,1.15 -1.9,1.15 -1.3,1.6 -1.3,-1.6 -1.9,-1.15 1.9,-1.15zM259.9,249.6l1.3,1.6 1.9,1.15 -1.9,1.15 -1.3,1.6 -1.3,-1.6 -1.9,-1.15 1.9,-1.15zM263.2,250.3l1.3,1.6 1.9,1.15 -1.9,1.15 -1.3,1.6 -1.3,-1.6 -1.9,-1.15 1.9,-1.15zM267.1,249.0l1.3,1.6 1.9,1.15 -1.9,1.15 -1.3,1.6 -1.3,-1.6 -1.9,-1.15 1.9,-1.15zM269.8,250.3l1.3,1.6 1.9,1.15 -1.9,1.15 -1.3,1.6 -1.3,-1.6 -1.9,-1.15 1.9,-1.15zM276.4,250.9l1.3,1.6 1.9,1.15 -1.9,1.15 -1.3,1.6 -1.3,-1.6 -1.9,-1.15 1.9,-1.15zM282.9,247.7l1.3,1.6 1.9,1.15 -1.9,1.15 -1.3,1.6 -1.3,-1.6 -1.9,-1.15 1.9,-1.15zM283.6,250.3l1.3,1.6 1.9,1.15 -1.9,1.15 -1.3,1.6 -1.3,-1.6 -1.9,-1.15 1.9,-1.15zM288.9,247.0l1.3,1.6 1.9,1.15 -1.9,1.15 -1.3,1.6 -1.3,-1.6 -1.9,-1.15 1.9,-1.15zM292.8,247.3l1.3,1.6 1.9,1.15 -1.9,1.15 -1.3,1.6 -1.3,-1.6 -1.9,-1.15 1.9,-1.15zM290.8,252.3l1.3,1.6 1.9,1.15 -1.9,1.15 -1.3,1.6 -1.3,-1.6 -1.9,-1.15 1.9,-1.15zM296.1,252.3l1.3,1.6 1.9,1.15 -1.9,1.15 -1.3,1.6 -1.3,-1.6 -1.9,-1.15 1.9,-1.15zM253.9,252.3l1.3,1.6 1.9,1.15 -1.9,1.15 -1.3,1.6 -1.3,-1.6 -1.9,-1.15 1.9,-1.15zM257.9,252.9l1.3,1.6 1.9,1.15 -1.9,1.15 -1.3,1.6 -1.3,-1.6 -1.9,-1.15 1.9,-1.15zM261.9,252.9l1.3,1.6 1.9,1.15 -1.9,1.15 -1.3,1.6 -1.3,-1.6 -1.9,-1.15 1.9,-1.15zM265.8,252.9l1.3,1.6 1.9,1.15 -1.9,1.15 -1.3,1.6 -1.3,-1.6 -1.9,-1.15 1.9,-1.15zM269.8,253.6l1.3,1.6 1.9,1.15 -1.9,1.15 -1.3,1.6 -1.3,-1.6 -1.9,-1.15 1.9,-1.15zM273.7,253.6l1.3,1.6 1.9,1.15 -1.9,1.15 -1.3,1.6 -1.3,-1.6 -1.9,-1.15 1.9,-1.15zM281.6,252.9l1.3,1.6 1.9,1.15 -1.9,1.15 -1.3,1.6 -1.3,-1.6 -1.9,-1.15 1.9,-1.15zM297.4,250.3l1.3,1.6 1.9,1.15 -1.9,1.15 -1.3,1.6 -1.3,-1.6 -1.9,-1.15 1.9,-1.15zM303.9,228.9l1.3,1.6 1.9,1.15 -1.9,1.15 -1.3,1.6 -1.3,-1.6 -1.9,-1.15 1.9,-1.15zM325.0,227.6l1.3,1.6 1.9,1.15 -1.9,1.15 -1.3,1.6 -1.3,-1.6 -1.9,-1.15 1.9,-1.15zM337.6,227.2l1.3,1.6 1.9,1.15 -1.9,1.15 -1.3,1.6 -1.3,-1.6 -1.9,-1.15 1.9,-1.15zM316.5,233.8l1.3,1.6 1.9,1.15 -1.9,1.15 -1.3,1.6 -1.3,-1.6 -1.9,-1.15 1.9,-1.15zM322.4,233.2l1.3,1.6 1.9,1.15 -1.9,1.15 -1.3,1.6 -1.3,-1.6 -1.9,-1.15 1.9,-1.15zM335.6,231.8l1.3,1.6 1.9,1.15 -1.9,1.15 -1.3,1.6 -1.3,-1.6 -1.9,-1.15 1.9,-1.15zM342.2,234.5l1.3,1.6 1.9,1.15 -1.9,1.15 -1.3,1.6 -1.3,-1.6 -1.9,-1.15 1.9,-1.15zM305.3,237.4l1.3,1.6 1.9,1.15 -1.9,1.15 -1.3,1.6 -1.3,-1.6 -1.9,-1.15 1.9,-1.15zM315.1,242.7l1.3,1.6 1.9,1.15 -1.9,1.15 -1.3,1.6 -1.3,-1.6 -1.9,-1.15 1.9,-1.15zM319.1,243.0l1.3,1.6 1.9,1.15 -1.9,1.15 -1.3,1.6 -1.3,-1.6 -1.9,-1.15 1.9,-1.15zM325.7,241.7l1.3,1.6 1.9,1.15 -1.9,1.15 -1.3,1.6 -1.3,-1.6 -1.9,-1.15 1.9,-1.15zM325.0,245.0l1.3,1.6 1.9,1.15 -1.9,1.15 -1.3,1.6 -1.3,-1.6 -1.9,-1.15 1.9,-1.15zM327.7,246.3l1.3,1.6 1.9,1.15 -1.9,1.15 -1.3,1.6 -1.3,-1.6 -1.9,-1.15 1.9,-1.15zM334.3,241.1l1.3,1.6 1.9,1.15 -1.9,1.15 -1.3,1.6 -1.3,-1.6 -1.9,-1.15 1.9,-1.15zM336.2,243.7l1.3,1.6 1.9,1.15 -1.9,1.15 -1.3,1.6 -1.3,-1.6 -1.9,-1.15 1.9,-1.15zM339.5,243.0l1.3,1.6 1.9,1.15 -1.9,1.15 -1.3,1.6 -1.3,-1.6 -1.9,-1.15 1.9,-1.15zM342.8,244.3l1.3,1.6 1.9,1.15 -1.9,1.15 -1.3,1.6 -1.3,-1.6 -1.9,-1.15 1.9,-1.15zM346.1,243.0l1.3,1.6 1.9,1.15 -1.9,1.15 -1.3,1.6 -1.3,-1.6 -1.9,-1.15 1.9,-1.15zM309.9,247.7l1.3,1.6 1.9,1.15 -1.9,1.15 -1.3,1.6 -1.3,-1.6 -1.9,-1.15 1.9,-1.15zM313.2,250.3l1.3,1.6 1.9,1.15 -1.9,1.15 -1.3,1.6 -1.3,-1.6 -1.9,-1.15 1.9,-1.15zM327.7,249.0l1.3,1.6 1.9,1.15 -1.9,1.15 -1.3,1.6 -1.3,-1.6 -1.9,-1.15 1.9,-1.15zM329.0,250.9l1.3,1.6 1.9,1.15 -1.9,1.15 -1.3,1.6 -1.3,-1.6 -1.9,-1.15 1.9,-1.15zM334.9,247.7l1.3,1.6 1.9,1.15 -1.9,1.15 -1.3,1.6 -1.3,-1.6 -1.9,-1.15 1.9,-1.15zM334.3,250.3l1.3,1.6 1.9,1.15 -1.9,1.15 -1.3,1.6 -1.3,-1.6 -1.9,-1.15 1.9,-1.15zM331.6,252.9l1.3,1.6 1.9,1.15 -1.9,1.15 -1.3,1.6 -1.3,-1.6 -1.9,-1.15 1.9,-1.15zM339.5,252.3l1.3,1.6 1.9,1.15 -1.9,1.15 -1.3,1.6 -1.3,-1.6 -1.9,-1.15 1.9,-1.15zM343.5,252.3l1.3,1.6 1.9,1.15 -1.9,1.15 -1.3,1.6 -1.3,-1.6 -1.9,-1.15 1.9,-1.15zM347.4,252.3l1.3,1.6 1.9,1.15 -1.9,1.15 -1.3,1.6 -1.3,-1.6 -1.9,-1.15 1.9,-1.15zM317.8,252.9l1.3,1.6 1.9,1.15 -1.9,1.15 -1.3,1.6 -1.3,-1.6 -1.9,-1.15 1.9,-1.15zM307.9,253.6l1.3,1.6 1.9,1.15 -1.9,1.15 -1.3,1.6 -1.3,-1.6 -1.9,-1.15 1.9,-1.15zM302.6,254.2l1.3,1.6 1.9,1.15 -1.9,1.15 -1.3,1.6 -1.3,-1.6 -1.9,-1.15 1.9,-1.15zM367.8,226.2l1.3,1.6 1.9,1.15 -1.9,1.15 -1.3,1.6 -1.3,-1.6 -1.9,-1.15 1.9,-1.15zM367.1,232.2l1.3,1.6 1.9,1.15 -1.9,1.15 -1.3,1.6 -1.3,-1.6 -1.9,-1.15 1.9,-1.15zM373.1,231.2l1.3,1.6 1.9,1.15 -1.9,1.15 -1.3,1.6 -1.3,-1.6 -1.9,-1.15 1.9,-1.15zM385.6,233.5l1.3,1.6 1.9,1.15 -1.9,1.15 -1.3,1.6 -1.3,-1.6 -1.9,-1.15 1.9,-1.15zM354.9,237.4l1.3,1.6 1.9,1.15 -1.9,1.15 -1.3,1.6 -1.3,-1.6 -1.9,-1.15 1.9,-1.15zM360.5,239.1l1.3,1.6 1.9,1.15 -1.9,1.15 -1.3,1.6 -1.3,-1.6 -1.9,-1.15 1.9,-1.15zM381.6,238.8l1.3,1.6 1.9,1.15 -1.9,1.15 -1.3,1.6 -1.3,-1.6 -1.9,-1.15 1.9,-1.15zM398.8,238.8l1.3,1.6 1.9,1.15 -1.9,1.15 -1.3,1.6 -1.3,-1.6 -1.9,-1.15 1.9,-1.15zM387.6,243.0l1.3,1.6 1.9,1.15 -1.9,1.15 -1.3,1.6 -1.3,-1.6 -1.9,-1.15 1.9,-1.15zM356.6,246.3l1.3,1.6 1.9,1.15 -1.9,1.15 -1.3,1.6 -1.3,-1.6 -1.9,-1.15 1.9,-1.15zM360.5,247.0l1.3,1.6 1.9,1.15 -1.9,1.15 -1.3,1.6 -1.3,-1.6 -1.9,-1.15 1.9,-1.15zM355.3,249.6l1.3,1.6 1.9,1.15 -1.9,1.15 -1.3,1.6 -1.3,-1.6 -1.9,-1.15 1.9,-1.15zM359.2,250.3l1.3,1.6 1.9,1.15 -1.9,1.15 -1.3,1.6 -1.3,-1.6 -1.9,-1.15 1.9,-1.15zM352.6,251.6l1.3,1.6 1.9,1.15 -1.9,1.15 -1.3,1.6 -1.3,-1.6 -1.9,-1.15 1.9,-1.15zM350.7,252.9l1.3,1.6 1.9,1.15 -1.9,1.15 -1.3,1.6 -1.3,-1.6 -1.9,-1.15 1.9,-1.15zM367.8,252.9l1.3,1.6 1.9,1.15 -1.9,1.15 -1.3,1.6 -1.3,-1.6 -1.9,-1.15 1.9,-1.15zM375.0,250.3l1.3,1.6 1.9,1.15 -1.9,1.15 -1.3,1.6 -1.3,-1.6 -1.9,-1.15 1.9,-1.15zM377.7,248.3l1.3,1.6 1.9,1.15 -1.9,1.15 -1.3,1.6 -1.3,-1.6 -1.9,-1.15 1.9,-1.15zM381.0,249.0l1.3,1.6 1.9,1.15 -1.9,1.15 -1.3,1.6 -1.3,-1.6 -1.9,-1.15 1.9,-1.15zM382.9,251.6l1.3,1.6 1.9,1.15 -1.9,1.15 -1.3,1.6 -1.3,-1.6 -1.9,-1.15 1.9,-1.15zM379.0,252.3l1.3,1.6 1.9,1.15 -1.9,1.15 -1.3,1.6 -1.3,-1.6 -1.9,-1.15 1.9,-1.15zM376.4,252.9l1.3,1.6 1.9,1.15 -1.9,1.15 -1.3,1.6 -1.3,-1.6 -1.9,-1.15 1.9,-1.15zM388.9,249.0l1.3,1.6 1.9,1.15 -1.9,1.15 -1.3,1.6 -1.3,-1.6 -1.9,-1.15 1.9,-1.15zM390.8,250.9l1.3,1.6 1.9,1.15 -1.9,1.15 -1.3,1.6 -1.3,-1.6 -1.9,-1.15 1.9,-1.15zM392.8,252.3l1.3,1.6 1.9,1.15 -1.9,1.15 -1.3,1.6 -1.3,-1.6 -1.9,-1.15 1.9,-1.15zM387.6,252.9l1.3,1.6 1.9,1.15 -1.9,1.15 -1.3,1.6 -1.3,-1.6 -1.9,-1.15 1.9,-1.15zM398.8,249.0l1.3,1.6 1.9,1.15 -1.9,1.15 -1.3,1.6 -1.3,-1.6 -1.9,-1.15 1.9,-1.15zM398.8,253.6l1.3,1.6 1.9,1.15 -1.9,1.15 -1.3,1.6 -1.3,-1.6 -1.9,-1.15 1.9,-1.15zM356.6,253.6l1.3,1.6 1.9,1.15 -1.9,1.15 -1.3,1.6 -1.3,-1.6 -1.9,-1.15 1.9,-1.15zM411.9,227.6l1.3,1.6 1.9,1.15 -1.9,1.15 -1.3,1.6 -1.3,-1.6 -1.9,-1.15 1.9,-1.15zM414.5,228.2l1.3,1.6 1.9,1.15 -1.9,1.15 -1.3,1.6 -1.3,-1.6 -1.9,-1.15 1.9,-1.15zM431.0,235.8l1.3,1.6 1.9,1.15 -1.9,1.15 -1.3,1.6 -1.3,-1.6 -1.9,-1.15 1.9,-1.15zM419.8,240.1l1.3,1.6 1.9,1.15 -1.9,1.15 -1.3,1.6 -1.3,-1.6 -1.9,-1.15 1.9,-1.15zM421.7,239.4l1.3,1.6 1.9,1.15 -1.9,1.15 -1.3,1.6 -1.3,-1.6 -1.9,-1.15 1.9,-1.15zM435.9,240.4l1.3,1.6 1.9,1.15 -1.9,1.15 -1.3,1.6 -1.3,-1.6 -1.9,-1.15 1.9,-1.15zM407.9,244.3l1.3,1.6 1.9,1.15 -1.9,1.15 -1.3,1.6 -1.3,-1.6 -1.9,-1.15 1.9,-1.15zM409.2,248.6l1.3,1.6 1.9,1.15 -1.9,1.15 -1.3,1.6 -1.3,-1.6 -1.9,-1.15 1.9,-1.15zM403.9,250.9l1.3,1.6 1.9,1.15 -1.9,1.15 -1.3,1.6 -1.3,-1.6 -1.9,-1.15 1.9,-1.15zM428.3,244.3l1.3,1.6 1.9,1.15 -1.9,1.15 -1.3,1.6 -1.3,-1.6 -1.9,-1.15 1.9,-1.15zM422.4,248.3l1.3,1.6 1.9,1.15 -1.9,1.15 -1.3,1.6 -1.3,-1.6 -1.9,-1.15 1.9,-1.15zM425.0,250.9l1.3,1.6 1.9,1.15 -1.9,1.15 -1.3,1.6 -1.3,-1.6 -1.9,-1.15 1.9,-1.15zM427.7,249.0l1.3,1.6 1.9,1.15 -1.9,1.15 -1.3,1.6 -1.3,-1.6 -1.9,-1.15 1.9,-1.15zM429.0,252.3l1.3,1.6 1.9,1.15 -1.9,1.15 -1.3,1.6 -1.3,-1.6 -1.9,-1.15 1.9,-1.15zM434.3,250.9l1.3,1.6 1.9,1.15 -1.9,1.15 -1.3,1.6 -1.3,-1.6 -1.9,-1.15 1.9,-1.15zM438.2,251.6l1.3,1.6 1.9,1.15 -1.9,1.15 -1.3,1.6 -1.3,-1.6 -1.9,-1.15 1.9,-1.15zM440.8,250.3l1.3,1.6 1.9,1.15 -1.9,1.15 -1.3,1.6 -1.3,-1.6 -1.9,-1.15 1.9,-1.15zM443.5,248.3l1.3,1.6 1.9,1.15 -1.9,1.15 -1.3,1.6 -1.3,-1.6 -1.9,-1.15 1.9,-1.15zM432.9,252.9l1.3,1.6 1.9,1.15 -1.9,1.15 -1.3,1.6 -1.3,-1.6 -1.9,-1.15 1.9,-1.15zM436.9,252.9l1.3,1.6 1.9,1.15 -1.9,1.15 -1.3,1.6 -1.3,-1.6 -1.9,-1.15 1.9,-1.15zM415.8,252.9l1.3,1.6 1.9,1.15 -1.9,1.15 -1.3,1.6 -1.3,-1.6 -1.9,-1.15 1.9,-1.15zM446.1,253.6l1.3,1.6 1.9,1.15 -1.9,1.15 -1.3,1.6 -1.3,-1.6 -1.9,-1.15 1.9,-1.15zM449.4,247.7l1.3,1.6 1.9,1.15 -1.9,1.15 -1.3,1.6 -1.3,-1.6 -1.9,-1.15 1.9,-1.15zM463.2,226.2l1.3,1.6 1.9,1.15 -1.9,1.15 -1.3,1.6 -1.3,-1.6 -1.9,-1.15 1.9,-1.15zM467.8,229.9l1.3,1.6 1.9,1.15 -1.9,1.15 -1.3,1.6 -1.3,-1.6 -1.9,-1.15 1.9,-1.15zM468.4,232.5l1.3,1.6 1.9,1.15 -1.9,1.15 -1.3,1.6 -1.3,-1.6 -1.9,-1.15 1.9,-1.15zM461.9,234.8l1.3,1.6 1.9,1.15 -1.9,1.15 -1.3,1.6 -1.3,-1.6 -1.9,-1.15 1.9,-1.15zM480.3,236.4l1.3,1.6 1.9,1.15 -1.9,1.15 -1.3,1.6 -1.3,-1.6 -1.9,-1.15 1.9,-1.15zM455.3,241.4l1.3,1.6 1.9,1.15 -1.9,1.15 -1.3,1.6 -1.3,-1.6 -1.9,-1.15 1.9,-1.15zM458.6,240.1l1.3,1.6 1.9,1.15 -1.9,1.15 -1.3,1.6 -1.3,-1.6 -1.9,-1.15 1.9,-1.15zM484.3,242.1l1.3,1.6 1.9,1.15 -1.9,1.15 -1.3,1.6 -1.3,-1.6 -1.9,-1.15 1.9,-1.15zM473.1,241.7l1.3,1.6 1.9,1.15 -1.9,1.15 -1.3,1.6 -1.3,-1.6 -1.9,-1.15 1.9,-1.15zM460.5,244.7l1.3,1.6 1.9,1.15 -1.9,1.15 -1.3,1.6 -1.3,-1.6 -1.9,-1.15 1.9,-1.15zM465.8,244.7l1.3,1.6 1.9,1.15 -1.9,1.15 -1.3,1.6 -1.3,-1.6 -1.9,-1.15 1.9,-1.15zM472.4,245.7l1.3,1.6 1.9,1.15 -1.9,1.15 -1.3,1.6 -1.3,-1.6 -1.9,-1.15 1.9,-1.15zM452.6,247.3l1.3,1.6 1.9,1.15 -1.9,1.15 -1.3,1.6 -1.3,-1.6 -1.9,-1.15 1.9,-1.15zM463.2,249.0l1.3,1.6 1.9,1.15 -1.9,1.15 -1.3,1.6 -1.3,-1.6 -1.9,-1.15 1.9,-1.15zM461.2,250.9l1.3,1.6 1.9,1.15 -1.9,1.15 -1.3,1.6 -1.3,-1.6 -1.9,-1.15 1.9,-1.15zM468.4,250.9l1.3,1.6 1.9,1.15 -1.9,1.15 -1.3,1.6 -1.3,-1.6 -1.9,-1.15 1.9,-1.15zM475.0,249.6l1.3,1.6 1.9,1.15 -1.9,1.15 -1.3,1.6 -1.3,-1.6 -1.9,-1.15 1.9,-1.15zM479.0,250.3l1.3,1.6 1.9,1.15 -1.9,1.15 -1.3,1.6 -1.3,-1.6 -1.9,-1.15 1.9,-1.15zM485.6,247.0l1.3,1.6 1.9,1.15 -1.9,1.15 -1.3,1.6 -1.3,-1.6 -1.9,-1.15 1.9,-1.15zM484.9,250.9l1.3,1.6 1.9,1.15 -1.9,1.15 -1.3,1.6 -1.3,-1.6 -1.9,-1.15 1.9,-1.15zM454.6,252.9l1.3,1.6 1.9,1.15 -1.9,1.15 -1.3,1.6 -1.3,-1.6 -1.9,-1.15 1.9,-1.15zM466.5,252.9l1.3,1.6 1.9,1.15 -1.9,1.15 -1.3,1.6 -1.3,-1.6 -1.9,-1.15 1.9,-1.15zM471.7,252.9l1.3,1.6 1.9,1.15 -1.9,1.15 -1.3,1.6 -1.3,-1.6 -1.9,-1.15 1.9,-1.15zM476.4,252.9l1.3,1.6 1.9,1.15 -1.9,1.15 -1.3,1.6 -1.3,-1.6 -1.9,-1.15 1.9,-1.15zM481.6,252.9l1.3,1.6 1.9,1.15 -1.9,1.15 -1.3,1.6 -1.3,-1.6 -1.9,-1.15 1.9,-1.15zM486.9,252.9l1.3,1.6 1.9,1.15 -1.9,1.15 -1.3,1.6 -1.3,-1.6 -1.9,-1.15 1.9,-1.15zM493.5,252.3l1.3,1.6 1.9,1.15 -1.9,1.15 -1.3,1.6 -1.3,-1.6 -1.9,-1.15 1.9,-1.15zM498.8,252.9l1.3,1.6 1.9,1.15 -1.9,1.15 -1.3,1.6 -1.3,-1.6 -1.9,-1.15 1.9,-1.15zM499.4,247.7l1.3,1.6 1.9,1.15 -1.9,1.15 -1.3,1.6 -1.3,-1.6 -1.9,-1.15 1.9,-1.15zM503.3,227.2l1.3,1.6 1.9,1.15 -1.9,1.15 -1.3,1.6 -1.3,-1.6 -1.9,-1.15 1.9,-1.15zM511.9,226.2l1.3,1.6 1.9,1.15 -1.9,1.15 -1.3,1.6 -1.3,-1.6 -1.9,-1.15 1.9,-1.15zM514.5,225.9l1.3,1.6 1.9,1.15 -1.9,1.15 -1.3,1.6 -1.3,-1.6 -1.9,-1.15 1.9,-1.15zM546.1,225.9l1.3,1.6 1.9,1.15 -1.9,1.15 -1.3,1.6 -1.3,-1.6 -1.9,-1.15 1.9,-1.15zM548.8,228.5l1.3,1.6 1.9,1.15 -1.9,1.15 -1.3,1.6 -1.3,-1.6 -1.9,-1.15 1.9,-1.15zM508.6,233.8l1.3,1.6 1.9,1.15 -1.9,1.15 -1.3,1.6 -1.3,-1.6 -1.9,-1.15 1.9,-1.15zM509.9,235.8l1.3,1.6 1.9,1.15 -1.9,1.15 -1.3,1.6 -1.3,-1.6 -1.9,-1.15 1.9,-1.15zM517.1,238.4l1.3,1.6 1.9,1.15 -1.9,1.15 -1.3,1.6 -1.3,-1.6 -1.9,-1.15 1.9,-1.15zM535.6,236.8l1.3,1.6 1.9,1.15 -1.9,1.15 -1.3,1.6 -1.3,-1.6 -1.9,-1.15 1.9,-1.15zM548.8,237.4l1.3,1.6 1.9,1.15 -1.9,1.15 -1.3,1.6 -1.3,-1.6 -1.9,-1.15 1.9,-1.15zM507.2,241.4l1.3,1.6 1.9,1.15 -1.9,1.15 -1.3,1.6 -1.3,-1.6 -1.9,-1.15 1.9,-1.15zM521.1,241.4l1.3,1.6 1.9,1.15 -1.9,1.15 -1.3,1.6 -1.3,-1.6 -1.9,-1.15 1.9,-1.15zM525.0,243.0l1.3,1.6 1.9,1.15 -1.9,1.15 -1.3,1.6 -1.3,-1.6 -1.9,-1.15 1.9,-1.15zM511.9,245.7l1.3,1.6 1.9,1.15 -1.9,1.15 -1.3,1.6 -1.3,-1.6 -1.9,-1.15 1.9,-1.15zM505.9,248.3l1.3,1.6 1.9,1.15 -1.9,1.15 -1.3,1.6 -1.3,-1.6 -1.9,-1.15 1.9,-1.15zM508.6,250.3l1.3,1.6 1.9,1.15 -1.9,1.15 -1.3,1.6 -1.3,-1.6 -1.9,-1.15 1.9,-1.15zM522.4,247.7l1.3,1.6 1.9,1.15 -1.9,1.15 -1.3,1.6 -1.3,-1.6 -1.9,-1.15 1.9,-1.15zM524.4,250.3l1.3,1.6 1.9,1.15 -1.9,1.15 -1.3,1.6 -1.3,-1.6 -1.9,-1.15 1.9,-1.15zM529.0,249.6l1.3,1.6 1.9,1.15 -1.9,1.15 -1.3,1.6 -1.3,-1.6 -1.9,-1.15 1.9,-1.15zM532.9,248.3l1.3,1.6 1.9,1.15 -1.9,1.15 -1.3,1.6 -1.3,-1.6 -1.9,-1.15 1.9,-1.15zM535.6,250.9l1.3,1.6 1.9,1.15 -1.9,1.15 -1.3,1.6 -1.3,-1.6 -1.9,-1.15 1.9,-1.15zM540.2,246.3l1.3,1.6 1.9,1.15 -1.9,1.15 -1.3,1.6 -1.3,-1.6 -1.9,-1.15 1.9,-1.15zM540.8,247.7l1.3,1.6 1.9,1.15 -1.9,1.15 -1.3,1.6 -1.3,-1.6 -1.9,-1.15 1.9,-1.15zM548.8,243.0l1.3,1.6 1.9,1.15 -1.9,1.15 -1.3,1.6 -1.3,-1.6 -1.9,-1.15 1.9,-1.15zM519.8,251.6l1.3,1.6 1.9,1.15 -1.9,1.15 -1.3,1.6 -1.3,-1.6 -1.9,-1.15 1.9,-1.15zM513.2,252.3l1.3,1.6 1.9,1.15 -1.9,1.15 -1.3,1.6 -1.3,-1.6 -1.9,-1.15 1.9,-1.15zM506.6,252.9l1.3,1.6 1.9,1.15 -1.9,1.15 -1.3,1.6 -1.3,-1.6 -1.9,-1.15 1.9,-1.15zM503.9,252.3l1.3,1.6 1.9,1.15 -1.9,1.15 -1.3,1.6 -1.3,-1.6 -1.9,-1.15 1.9,-1.15zM516.5,253.6l1.3,1.6 1.9,1.15 -1.9,1.15 -1.3,1.6 -1.3,-1.6 -1.9,-1.15 1.9,-1.15zM526.4,252.9l1.3,1.6 1.9,1.15 -1.9,1.15 -1.3,1.6 -1.3,-1.6 -1.9,-1.15 1.9,-1.15zM534.3,252.9l1.3,1.6 1.9,1.15 -1.9,1.15 -1.3,1.6 -1.3,-1.6 -1.9,-1.15 1.9,-1.15zM544.8,252.3l1.3,1.6 1.9,1.15 -1.9,1.15 -1.3,1.6 -1.3,-1.6 -1.9,-1.15 1.9,-1.15zM547.4,252.9l1.3,1.6 1.9,1.15 -1.9,1.15 -1.3,1.6 -1.3,-1.6 -1.9,-1.15 1.9,-1.15zM564.8,227.6l1.3,1.6 1.9,1.15 -1.9,1.15 -1.3,1.6 -1.3,-1.6 -1.9,-1.15 1.9,-1.15zM581.6,229.2l1.3,1.6 1.9,1.15 -1.9,1.15 -1.3,1.6 -1.3,-1.6 -1.9,-1.15 1.9,-1.15zM573.7,233.8l1.3,1.6 1.9,1.15 -1.9,1.15 -1.3,1.6 -1.3,-1.6 -1.9,-1.15 1.9,-1.15zM582.3,235.8l1.3,1.6 1.9,1.15 -1.9,1.15 -1.3,1.6 -1.3,-1.6 -1.9,-1.15 1.9,-1.15zM580.3,237.8l1.3,1.6 1.9,1.15 -1.9,1.15 -1.3,1.6 -1.3,-1.6 -1.9,-1.15 1.9,-1.15zM596.8,232.5l1.3,1.6 1.9,1.15 -1.9,1.15 -1.3,1.6 -1.3,-1.6 -1.9,-1.15 1.9,-1.15zM597.4,235.8l1.3,1.6 1.9,1.15 -1.9,1.15 -1.3,1.6 -1.3,-1.6 -1.9,-1.15 1.9,-1.15zM565.8,238.4l1.3,1.6 1.9,1.15 -1.9,1.15 -1.3,1.6 -1.3,-1.6 -1.9,-1.15 1.9,-1.15zM563.8,241.1l1.3,1.6 1.9,1.15 -1.9,1.15 -1.3,1.6 -1.3,-1.6 -1.9,-1.15 1.9,-1.15zM567.1,243.7l1.3,1.6 1.9,1.15 -1.9,1.15 -1.3,1.6 -1.3,-1.6 -1.9,-1.15 1.9,-1.15zM574.4,241.7l1.3,1.6 1.9,1.15 -1.9,1.15 -1.3,1.6 -1.3,-1.6 -1.9,-1.15 1.9,-1.15zM573.1,244.3l1.3,1.6 1.9,1.15 -1.9,1.15 -1.3,1.6 -1.3,-1.6 -1.9,-1.15 1.9,-1.15zM552.0,242.4l1.3,1.6 1.9,1.15 -1.9,1.15 -1.3,1.6 -1.3,-1.6 -1.9,-1.15 1.9,-1.15zM555.3,247.0l1.3,1.6 1.9,1.15 -1.9,1.15 -1.3,1.6 -1.3,-1.6 -1.9,-1.15 1.9,-1.15zM554.0,249.6l1.3,1.6 1.9,1.15 -1.9,1.15 -1.3,1.6 -1.3,-1.6 -1.9,-1.15 1.9,-1.15zM581.0,245.0l1.3,1.6 1.9,1.15 -1.9,1.15 -1.3,1.6 -1.3,-1.6 -1.9,-1.15 1.9,-1.15zM588.2,243.7l1.3,1.6 1.9,1.15 -1.9,1.15 -1.3,1.6 -1.3,-1.6 -1.9,-1.15 1.9,-1.15zM593.5,247.0l1.3,1.6 1.9,1.15 -1.9,1.15 -1.3,1.6 -1.3,-1.6 -1.9,-1.15 1.9,-1.15zM597.4,250.3l1.3,1.6 1.9,1.15 -1.9,1.15 -1.3,1.6 -1.3,-1.6 -1.9,-1.15 1.9,-1.15zM567.8,250.3l1.3,1.6 1.9,1.15 -1.9,1.15 -1.3,1.6 -1.3,-1.6 -1.9,-1.15 1.9,-1.15zM573.1,250.3l1.3,1.6 1.9,1.15 -1.9,1.15 -1.3,1.6 -1.3,-1.6 -1.9,-1.15 1.9,-1.15zM582.3,250.9l1.3,1.6 1.9,1.15 -1.9,1.15 -1.3,1.6 -1.3,-1.6 -1.9,-1.15 1.9,-1.15zM588.2,251.6l1.3,1.6 1.9,1.15 -1.9,1.15 -1.3,1.6 -1.3,-1.6 -1.9,-1.15 1.9,-1.15zM552.6,252.3l1.3,1.6 1.9,1.15 -1.9,1.15 -1.3,1.6 -1.3,-1.6 -1.9,-1.15 1.9,-1.15zM560.5,253.6l1.3,1.6 1.9,1.15 -1.9,1.15 -1.3,1.6 -1.3,-1.6 -1.9,-1.15 1.9,-1.15zM567.1,252.9l1.3,1.6 1.9,1.15 -1.9,1.15 -1.3,1.6 -1.3,-1.6 -1.9,-1.15 1.9,-1.15zM575.7,253.6l1.3,1.6 1.9,1.15 -1.9,1.15 -1.3,1.6 -1.3,-1.6 -1.9,-1.15 1.9,-1.15zM581.6,252.9l1.3,1.6 1.9,1.15 -1.9,1.15 -1.3,1.6 -1.3,-1.6 -1.9,-1.15 1.9,-1.15zM592.2,253.6l1.3,1.6 1.9,1.15 -1.9,1.15 -1.3,1.6 -1.3,-1.6 -1.9,-1.15 1.9,-1.15zM598.8,252.9l1.3,1.6 1.9,1.15 -1.9,1.15 -1.3,1.6 -1.3,-1.6 -1.9,-1.15 1.9,-1.15zM615.8,226.2l1.3,1.6 1.9,1.15 -1.9,1.15 -1.3,1.6 -1.3,-1.6 -1.9,-1.15 1.9,-1.15zM638.2,226.2l1.3,1.6 1.9,1.15 -1.9,1.15 -1.3,1.6 -1.3,-1.6 -1.9,-1.15 1.9,-1.15zM636.9,229.2l1.3,1.6 1.9,1.15 -1.9,1.15 -1.3,1.6 -1.3,-1.6 -1.9,-1.15 1.9,-1.15zM600.7,231.8l1.3,1.6 1.9,1.15 -1.9,1.15 -1.3,1.6 -1.3,-1.6 -1.9,-1.15 1.9,-1.15zM604.6,231.5l1.3,1.6 1.9,1.15 -1.9,1.15 -1.3,1.6 -1.3,-1.6 -1.9,-1.15 1.9,-1.15zM606.6,235.8l1.3,1.6 1.9,1.15 -1.9,1.15 -1.3,1.6 -1.3,-1.6 -1.9,-1.15 1.9,-1.15zM607.9,241.1l1.3,1.6 1.9,1.15 -1.9,1.15 -1.3,1.6 -1.3,-1.6 -1.9,-1.15 1.9,-1.15zM603.0,241.4l1.3,1.6 1.9,1.15 -1.9,1.15 -1.3,1.6 -1.3,-1.6 -1.9,-1.15 1.9,-1.15zM602.6,245.0l1.3,1.6 1.9,1.15 -1.9,1.15 -1.3,1.6 -1.3,-1.6 -1.9,-1.15 1.9,-1.15zM643.8,234.5l1.3,1.6 1.9,1.15 -1.9,1.15 -1.3,1.6 -1.3,-1.6 -1.9,-1.15 1.9,-1.15zM636.9,237.4l1.3,1.6 1.9,1.15 -1.9,1.15 -1.3,1.6 -1.3,-1.6 -1.9,-1.15 1.9,-1.15zM639.5,238.4l1.3,1.6 1.9,1.15 -1.9,1.15 -1.3,1.6 -1.3,-1.6 -1.9,-1.15 1.9,-1.15zM648.8,238.4l1.3,1.6 1.9,1.15 -1.9,1.15 -1.3,1.6 -1.3,-1.6 -1.9,-1.15 1.9,-1.15zM631.0,241.1l1.3,1.6 1.9,1.15 -1.9,1.15 -1.3,1.6 -1.3,-1.6 -1.9,-1.15 1.9,-1.15zM619.8,243.0l1.3,1.6 1.9,1.15 -1.9,1.15 -1.3,1.6 -1.3,-1.6 -1.9,-1.15 1.9,-1.15zM619.8,245.7l1.3,1.6 1.9,1.15 -1.9,1.15 -1.3,1.6 -1.3,-1.6 -1.9,-1.15 1.9,-1.15zM637.5,244.3l1.3,1.6 1.9,1.15 -1.9,1.15 -1.3,1.6 -1.3,-1.6 -1.9,-1.15 1.9,-1.15zM637.5,247.0l1.3,1.6 1.9,1.15 -1.9,1.15 -1.3,1.6 -1.3,-1.6 -1.9,-1.15 1.9,-1.15zM611.9,248.6l1.3,1.6 1.9,1.15 -1.9,1.15 -1.3,1.6 -1.3,-1.6 -1.9,-1.15 1.9,-1.15zM616.5,248.3l1.3,1.6 1.9,1.15 -1.9,1.15 -1.3,1.6 -1.3,-1.6 -1.9,-1.15 1.9,-1.15zM619.1,249.0l1.3,1.6 1.9,1.15 -1.9,1.15 -1.3,1.6 -1.3,-1.6 -1.9,-1.15 1.9,-1.15zM617.1,252.3l1.3,1.6 1.9,1.15 -1.9,1.15 -1.3,1.6 -1.3,-1.6 -1.9,-1.15 1.9,-1.15zM602.0,252.3l1.3,1.6 1.9,1.15 -1.9,1.15 -1.3,1.6 -1.3,-1.6 -1.9,-1.15 1.9,-1.15zM604.0,252.9l1.3,1.6 1.9,1.15 -1.9,1.15 -1.3,1.6 -1.3,-1.6 -1.9,-1.15 1.9,-1.15zM625.7,252.3l1.3,1.6 1.9,1.15 -1.9,1.15 -1.3,1.6 -1.3,-1.6 -1.9,-1.15 1.9,-1.15zM634.3,251.3l1.3,1.6 1.9,1.15 -1.9,1.15 -1.3,1.6 -1.3,-1.6 -1.9,-1.15 1.9,-1.15zM646.1,249.6l1.3,1.6 1.9,1.15 -1.9,1.15 -1.3,1.6 -1.3,-1.6 -1.9,-1.15 1.9,-1.15zM647.4,252.3l1.3,1.6 1.9,1.15 -1.9,1.15 -1.3,1.6 -1.3,-1.6 -1.9,-1.15 1.9,-1.15zM648.8,248.3l1.3,1.6 1.9,1.15 -1.9,1.15 -1.3,1.6 -1.3,-1.6 -1.9,-1.15 1.9,-1.15zM639.5,253.6l1.3,1.6 1.9,1.15 -1.9,1.15 -1.3,1.6 -1.3,-1.6 -1.9,-1.15 1.9,-1.15zM609.9,253.6l1.3,1.6 1.9,1.15 -1.9,1.15 -1.3,1.6 -1.3,-1.6 -1.9,-1.15 1.9,-1.15zM661.9,227.9l1.3,1.6 1.9,1.15 -1.9,1.15 -1.3,1.6 -1.3,-1.6 -1.9,-1.15 1.9,-1.15zM660.5,231.8l1.3,1.6 1.9,1.15 -1.9,1.15 -1.3,1.6 -1.3,-1.6 -1.9,-1.15 1.9,-1.15zM669.1,227.2l1.3,1.6 1.9,1.15 -1.9,1.15 -1.3,1.6 -1.3,-1.6 -1.9,-1.15 1.9,-1.15zM669.1,229.9l1.3,1.6 1.9,1.15 -1.9,1.15 -1.3,1.6 -1.3,-1.6 -1.9,-1.15 1.9,-1.15zM652.6,236.1l1.3,1.6 1.9,1.15 -1.9,1.15 -1.3,1.6 -1.3,-1.6 -1.9,-1.15 1.9,-1.15zM659.9,237.8l1.3,1.6 1.9,1.15 -1.9,1.15 -1.3,1.6 -1.3,-1.6 -1.9,-1.15 1.9,-1.15zM682.9,238.1l1.3,1.6 1.9,1.15 -1.9,1.15 -1.3,1.6 -1.3,-1.6 -1.9,-1.15 1.9,-1.15zM698.8,239.7l1.3,1.6 1.9,1.15 -1.9,1.15 -1.3,1.6 -1.3,-1.6 -1.9,-1.15 1.9,-1.15zM656.6,241.7l1.3,1.6 1.9,1.15 -1.9,1.15 -1.3,1.6 -1.3,-1.6 -1.9,-1.15 1.9,-1.15zM663.8,243.0l1.3,1.6 1.9,1.15 -1.9,1.15 -1.3,1.6 -1.3,-1.6 -1.9,-1.15 1.9,-1.15zM671.1,243.0l1.3,1.6 1.9,1.15 -1.9,1.15 -1.3,1.6 -1.3,-1.6 -1.9,-1.15 1.9,-1.15zM676.4,241.1l1.3,1.6 1.9,1.15 -1.9,1.15 -1.3,1.6 -1.3,-1.6 -1.9,-1.15 1.9,-1.15zM677.7,246.3l1.3,1.6 1.9,1.15 -1.9,1.15 -1.3,1.6 -1.3,-1.6 -1.9,-1.15 1.9,-1.15zM658.6,246.3l1.3,1.6 1.9,1.15 -1.9,1.15 -1.3,1.6 -1.3,-1.6 -1.9,-1.15 1.9,-1.15zM662.5,247.0l1.3,1.6 1.9,1.15 -1.9,1.15 -1.3,1.6 -1.3,-1.6 -1.9,-1.15 1.9,-1.15zM666.5,249.0l1.3,1.6 1.9,1.15 -1.9,1.15 -1.3,1.6 -1.3,-1.6 -1.9,-1.15 1.9,-1.15zM669.1,248.3l1.3,1.6 1.9,1.15 -1.9,1.15 -1.3,1.6 -1.3,-1.6 -1.9,-1.15 1.9,-1.15zM675.0,250.3l1.3,1.6 1.9,1.15 -1.9,1.15 -1.3,1.6 -1.3,-1.6 -1.9,-1.15 1.9,-1.15zM679.0,251.6l1.3,1.6 1.9,1.15 -1.9,1.15 -1.3,1.6 -1.3,-1.6 -1.9,-1.15 1.9,-1.15zM684.3,251.6l1.3,1.6 1.9,1.15 -1.9,1.15 -1.3,1.6 -1.3,-1.6 -1.9,-1.15 1.9,-1.15zM686.9,245.7l1.3,1.6 1.9,1.15 -1.9,1.15 -1.3,1.6 -1.3,-1.6 -1.9,-1.15 1.9,-1.15zM689.5,249.6l1.3,1.6 1.9,1.15 -1.9,1.15 -1.3,1.6 -1.3,-1.6 -1.9,-1.15 1.9,-1.15zM692.2,252.9l1.3,1.6 1.9,1.15 -1.9,1.15 -1.3,1.6 -1.3,-1.6 -1.9,-1.15 1.9,-1.15zM697.4,245.7l1.3,1.6 1.9,1.15 -1.9,1.15 -1.3,1.6 -1.3,-1.6 -1.9,-1.15 1.9,-1.15zM697.4,252.3l1.3,1.6 1.9,1.15 -1.9,1.15 -1.3,1.6 -1.3,-1.6 -1.9,-1.15 1.9,-1.15zM651.3,252.9l1.3,1.6 1.9,1.15 -1.9,1.15 -1.3,1.6 -1.3,-1.6 -1.9,-1.15 1.9,-1.15zM660.5,253.6l1.3,1.6 1.9,1.15 -1.9,1.15 -1.3,1.6 -1.3,-1.6 -1.9,-1.15 1.9,-1.15zM721.7,227.2l1.3,1.6 1.9,1.15 -1.9,1.15 -1.3,1.6 -1.3,-1.6 -1.9,-1.15 1.9,-1.15zM721.7,230.5l1.3,1.6 1.9,1.15 -1.9,1.15 -1.3,1.6 -1.3,-1.6 -1.9,-1.15 1.9,-1.15zM731.6,227.2l1.3,1.6 1.9,1.15 -1.9,1.15 -1.3,1.6 -1.3,-1.6 -1.9,-1.15 1.9,-1.15zM736.9,230.5l1.3,1.6 1.9,1.15 -1.9,1.15 -1.3,1.6 -1.3,-1.6 -1.9,-1.15 1.9,-1.15zM732.3,232.5l1.3,1.6 1.9,1.15 -1.9,1.15 -1.3,1.6 -1.3,-1.6 -1.9,-1.15 1.9,-1.15zM705.3,231.8l1.3,1.6 1.9,1.15 -1.9,1.15 -1.3,1.6 -1.3,-1.6 -1.9,-1.15 1.9,-1.15zM715.8,231.8l1.3,1.6 1.9,1.15 -1.9,1.15 -1.3,1.6 -1.3,-1.6 -1.9,-1.15 1.9,-1.15zM702.0,237.8l1.3,1.6 1.9,1.15 -1.9,1.15 -1.3,1.6 -1.3,-1.6 -1.9,-1.15 1.9,-1.15zM708.6,236.4l1.3,1.6 1.9,1.15 -1.9,1.15 -1.3,1.6 -1.3,-1.6 -1.9,-1.15 1.9,-1.15zM710.5,238.4l1.3,1.6 1.9,1.15 -1.9,1.15 -1.3,1.6 -1.3,-1.6 -1.9,-1.15 1.9,-1.15zM735.6,237.8l1.3,1.6 1.9,1.15 -1.9,1.15 -1.3,1.6 -1.3,-1.6 -1.9,-1.15 1.9,-1.15zM736.9,239.7l1.3,1.6 1.9,1.15 -1.9,1.15 -1.3,1.6 -1.3,-1.6 -1.9,-1.15 1.9,-1.15zM748.8,230.5l1.3,1.6 1.9,1.15 -1.9,1.15 -1.3,1.6 -1.3,-1.6 -1.9,-1.15 1.9,-1.15zM726.4,240.4l1.3,1.6 1.9,1.15 -1.9,1.15 -1.3,1.6 -1.3,-1.6 -1.9,-1.15 1.9,-1.15zM726.4,242.4l1.3,1.6 1.9,1.15 -1.9,1.15 -1.3,1.6 -1.3,-1.6 -1.9,-1.15 1.9,-1.15zM719.1,243.0l1.3,1.6 1.9,1.15 -1.9,1.15 -1.3,1.6 -1.3,-1.6 -1.9,-1.15 1.9,-1.15zM709.9,244.3l1.3,1.6 1.9,1.15 -1.9,1.15 -1.3,1.6 -1.3,-1.6 -1.9,-1.15 1.9,-1.15zM713.2,245.0l1.3,1.6 1.9,1.15 -1.9,1.15 -1.3,1.6 -1.3,-1.6 -1.9,-1.15 1.9,-1.15zM715.8,247.7l1.3,1.6 1.9,1.15 -1.9,1.15 -1.3,1.6 -1.3,-1.6 -1.9,-1.15 1.9,-1.15zM719.1,248.3l1.3,1.6 1.9,1.15 -1.9,1.15 -1.3,1.6 -1.3,-1.6 -1.9,-1.15 1.9,-1.15zM727.0,246.3l1.3,1.6 1.9,1.15 -1.9,1.15 -1.3,1.6 -1.3,-1.6 -1.9,-1.15 1.9,-1.15zM730.3,243.7l1.3,1.6 1.9,1.15 -1.9,1.15 -1.3,1.6 -1.3,-1.6 -1.9,-1.15 1.9,-1.15zM732.9,245.7l1.3,1.6 1.9,1.15 -1.9,1.15 -1.3,1.6 -1.3,-1.6 -1.9,-1.15 1.9,-1.15zM744.1,245.7l1.3,1.6 1.9,1.15 -1.9,1.15 -1.3,1.6 -1.3,-1.6 -1.9,-1.15 1.9,-1.15zM702.0,245.7l1.3,1.6 1.9,1.15 -1.9,1.15 -1.3,1.6 -1.3,-1.6 -1.9,-1.15 1.9,-1.15zM725.7,250.3l1.3,1.6 1.9,1.15 -1.9,1.15 -1.3,1.6 -1.3,-1.6 -1.9,-1.15 1.9,-1.15zM730.3,250.9l1.3,1.6 1.9,1.15 -1.9,1.15 -1.3,1.6 -1.3,-1.6 -1.9,-1.15 1.9,-1.15zM736.9,250.3l1.3,1.6 1.9,1.15 -1.9,1.15 -1.3,1.6 -1.3,-1.6 -1.9,-1.15 1.9,-1.15zM740.8,250.9l1.3,1.6 1.9,1.15 -1.9,1.15 -1.3,1.6 -1.3,-1.6 -1.9,-1.15 1.9,-1.15zM707.9,251.6l1.3,1.6 1.9,1.15 -1.9,1.15 -1.3,1.6 -1.3,-1.6 -1.9,-1.15 1.9,-1.15zM711.9,251.6l1.3,1.6 1.9,1.15 -1.9,1.15 -1.3,1.6 -1.3,-1.6 -1.9,-1.15 1.9,-1.15zM705.3,252.9l1.3,1.6 1.9,1.15 -1.9,1.15 -1.3,1.6 -1.3,-1.6 -1.9,-1.15 1.9,-1.15zM717.1,252.9l1.3,1.6 1.9,1.15 -1.9,1.15 -1.3,1.6 -1.3,-1.6 -1.9,-1.15 1.9,-1.15zM722.4,252.9l1.3,1.6 1.9,1.15 -1.9,1.15 -1.3,1.6 -1.3,-1.6 -1.9,-1.15 1.9,-1.15zM732.9,252.9l1.3,1.6 1.9,1.15 -1.9,1.15 -1.3,1.6 -1.3,-1.6 -1.9,-1.15 1.9,-1.15zM742.2,252.9l1.3,1.6 1.9,1.15 -1.9,1.15 -1.3,1.6 -1.3,-1.6 -1.9,-1.15 1.9,-1.15zM748.8,248.3l1.3,1.6 1.9,1.15 -1.9,1.15 -1.3,1.6 -1.3,-1.6 -1.9,-1.15 1.9,-1.15zM748.8,253.6l1.3,1.6 1.9,1.15 -1.9,1.15 -1.3,1.6 -1.3,-1.6 -1.9,-1.15 1.9,-1.15zM742.1,208.6l1.3,1.6 1.9,1.15 -1.9,1.15 -1.3,1.6 -1.3,-1.6 -1.9,-1.15 1.9,-1.15zM744.4,211.9l1.3,1.6 1.9,1.15 -1.9,1.15 -1.3,1.6 -1.3,-1.6 -1.9,-1.15 1.9,-1.15zM747.2,214.8l1.3,1.6 1.9,1.15 -1.9,1.15 -1.3,1.6 -1.3,-1.6 -1.9,-1.15 1.9,-1.15zM751.1,234.9l1.3,1.6 1.9,1.15 -1.9,1.15 -1.3,1.6 -1.3,-1.6 -1.9,-1.15 1.9,-1.15zM751.7,252.9l1.3,1.6 1.9,1.15 -1.9,1.15 -1.3,1.6 -1.3,-1.6 -1.9,-1.15 1.9,-1.15z"/>
<line x1="47" y1="259.1" x2="753" y2="259.1" stroke="#a80a14" stroke-width="2.8"/>
<g fill="none" stroke="#9e1420" stroke-linejoin="miter">
<path stroke="#b8101e" stroke-width="2.3" d="M203.6,72.3 235.6,62.2 238.6,66.6 208.9,78.4 Z"/>
<path stroke="#b8101e" stroke-width="2.3" d="M178.0,137.6 195.0,121.4 206.0,123.1 189.0,140.6 Z"/>
<path stroke="#b8101e" stroke-width="2.3" d="M261.5,152.6 271.1,136.8 283.4,138.1 273.8,154.3 Z"/>
<path stroke="#b8101e" stroke-width="2.3" d="M168.5,233.4 181.5,233.8 179.9,252.6 167.3,252.6 Z"/>
<path stroke="#b8101e" stroke-width="2.3" d="M417.1,146.6 431.1,146.2 433.1,162.4 418.4,163.1 Z"/>
<path stroke="#b8101e" stroke-width="2.3" d="M581.8,184.0 594.5,183.1 601.1,200.6 588.4,201.5 Z"/>
<path stroke="#b51522" stroke-width="1.6" d="M193.1,76.2 197.0,65.7 202.3,72.9 Z"/>
<path stroke="#b51522" stroke-width="1.6" d="M167.0,140.2 171.4,130.6 176.2,137.6 Z"/>
<path stroke="#b51522" stroke-width="1.6" d="M251.9,147.8 251.0,158.2 260.2,153.0 Z"/>
<path stroke="#b51522" stroke-width="1.6" d="M155.9,253.0 163.6,241.2 166.0,252.2 Z"/>
<path stroke="#b51522" stroke-width="1.6" d="M435.0,161.5 442.9,155.4 445.5,166.7 Z"/>
<path stroke="#b51522" stroke-width="1.6" d="M601.0,200.6 608.5,192.3 613.3,202.8 Z"/>
<path stroke="#bc1c2a" stroke-width="1.3" d="M187.9,68.4 195.5,71.5"/>
<path stroke="#bc1c2a" stroke-width="1.3" d="M87.5,100.4 169.2,135.4"/>
<path stroke="#bc1c2a" stroke-width="1.3" d="M86.6,131.0 251.5,152.6"/>
<path stroke="#bc1c2a" stroke-width="1.3" d="M75.2,180.6 159.8,247.1"/>
<path stroke="#bc1c2a" stroke-width="1.3" d="M713.5,99.0 444.2,161.0"/>
<path stroke="#bc1c2a" stroke-width="1.3" d="M713.5,147.0 611.0,197.5"/>
</g>
<g font-family="Liberation Serif, serif" font-style="italic" font-size="25" fill="#9e1420" stroke="#9e1420" stroke-width="0.35">
<text x="126.5" y="68.2">Cas A</text>
<text x="12.1" y="99.6">Cyg X3</text>
<text x="2.5" y="132.0">Mrk 501</text>
<text x="11.7" y="179.9">SS433</text>
<text x="713.8" y="99.7">Mrk 421</text>
<text x="712.3" y="147.8" font-size="25.8">Crab N.</text>
</g>
<g font-family="Liberation Sans, sans-serif" font-weight="bold" font-size="19.6" fill="#111">
<text x="385.2" y="30.1">90</text>
<text transform="translate(407.8,30.1) scale(0.87,1)" font-family="Liberation Sans, sans-serif" font-weight="normal" font-size="21" fill="#222">ϒ</text>
<text x="381" y="504.7">-90</text>
<text transform="translate(409.8,505.1) scale(0.87,1)" font-family="Liberation Sans, sans-serif" font-weight="normal" font-size="21" fill="#222">ϒ</text>
<text x="5.5" y="265.6">24h</text>
<text x="760.4" y="265.3">0h</text>
</g>
</svg>
</body></html>
